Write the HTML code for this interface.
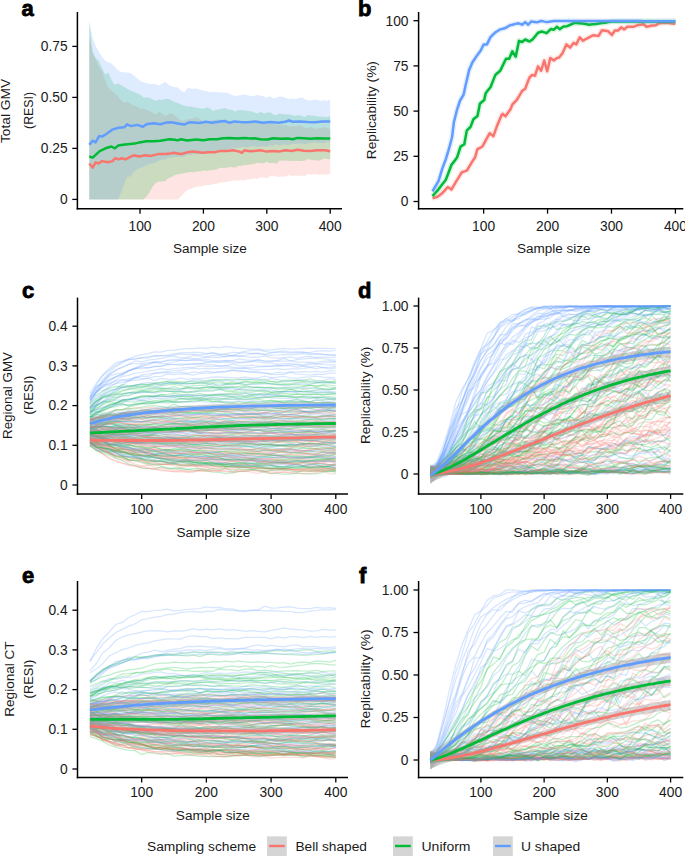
<!DOCTYPE html>
<html><head><meta charset="utf-8"><title>Figure</title>
<style>
html,body{margin:0;padding:0;background:#fff;}
svg{display:block;}
</style></head>
<body>
<svg width="685" height="856" viewBox="0 0 685 856" font-family='"Liberation Sans", sans-serif' font-size="13.8" fill="#1a1a1a">
<rect width="685" height="856" fill="#fff"/>
<g>
<polygon points="89.3,36.2 92.5,53.6 95.6,59 98.8,66.6 102,70.7 105.1,80.3 108.3,87.6 111.5,90.7 114.7,92.9 117.8,96.2 121,100 124.2,103.1 127.3,101.7 130.5,104 133.7,105.4 136.8,106.5 140,108.4 143.2,108.6 146.4,109.8 149.5,111 152.7,113.1 155.9,114.4 159,111.7 162.2,113.8 165.4,116 168.5,113.9 171.7,113.4 174.9,115.5 178.1,118.2 181.2,120.5 184.4,120.4 187.6,119.3 190.7,118.8 193.9,118.1 197.1,117 200.2,119.8 203.4,121.6 206.6,120.9 209.7,121 212.9,120.3 216.1,119.7 219.3,119.3 222.4,119.9 225.6,120.1 228.8,120.4 231.9,122.3 235.1,122.1 238.3,123.6 241.4,124.2 244.6,122.3 247.8,122 251,122.3 254.1,122.2 257.3,122.2 260.5,123.2 263.6,122.9 266.8,124 270,123.6 273.1,123.1 276.3,125 279.5,124.5 282.7,125.2 285.8,125 289,126.4 292.2,126.2 295.3,126.2 298.5,125.6 301.7,125.7 304.8,128.1 308,127.8 311.2,126.9 314.4,129.2 317.5,128.2 320.7,128.1 323.9,127.2 327,127.8 330.2,128.9 330.2,173.9 327,174.5 323.9,174.4 320.7,174.8 317.5,174.4 314.4,173.7 311.2,174.8 308,173.8 304.8,176 301.7,175.6 298.5,175.9 295.3,175.5 292.2,176.1 289,175 285.8,176.8 282.7,176.4 279.5,176.7 276.3,176.7 273.1,175.7 270,176.1 266.8,178.6 263.6,177.6 260.5,177.3 257.3,179 254.1,178.3 251,179.6 247.8,179 244.6,180.7 241.4,180.1 238.3,180.7 235.1,180.6 231.9,180.5 228.8,181.4 225.6,181.8 222.4,182.4 219.3,182.7 216.1,184.1 212.9,184.1 209.7,185.1 206.6,185.1 203.4,185.7 200.2,186.5 197.1,186.8 193.9,187.6 190.7,188.9 187.6,189.9 184.4,192.8 181.2,196.1 178.1,199.4 174.9,199.4 171.7,199.4 168.5,199.4 165.4,199.4 162.2,199.4 159,199.4 155.9,199.4 152.7,199.4 149.5,199.4 146.4,199.4 143.2,199.4 140,199.4 136.8,199.4 133.7,199.4 130.5,199.4 127.3,199.4 124.2,199.4 121,199.4 117.8,199.4 114.7,199.4 111.5,199.4 108.3,199.4 105.1,199.4 102,199.4 98.8,199.4 95.6,199.4 92.5,199.4 89.3,199.4" fill="#F8766D" fill-opacity="0.2"/>
<polygon points="89.3,22.1 92.5,50.4 95.6,58.1 98.8,60.8 102,67.9 105.1,74.5 108.3,72.8 111.5,80 114.7,85.1 117.8,83.5 121,85 124.2,87 127.3,89 130.5,90.7 133.7,92.1 136.8,93 140,94.4 143.2,97.6 146.4,97.4 149.5,97.8 152.7,99.5 155.9,100.8 159,99.5 162.2,99.9 165.4,99.1 168.5,98.9 171.7,100.6 174.9,102.2 178.1,103 181.2,104.7 184.4,105.8 187.6,106.4 190.7,106.5 193.9,107.2 197.1,107.8 200.2,108.6 203.4,108.7 206.6,107.4 209.7,108.2 212.9,111 216.1,110 219.3,109.2 222.4,108.5 225.6,108.3 228.8,109.7 231.9,109.7 235.1,111.6 238.3,110.3 241.4,110.1 244.6,110.4 247.8,110.7 251,111.3 254.1,112.6 257.3,113.6 260.5,111.7 263.6,113.4 266.8,112.7 270,112.3 273.1,114.6 276.3,115.2 279.5,113.5 282.7,114 285.8,114.4 289,114.4 292.2,115.3 295.3,116 298.5,115.1 301.7,116 304.8,116.7 308,115.1 311.2,115.7 314.4,115.4 317.5,116.7 320.7,116.5 323.9,116.9 327,117 330.2,116.2 330.2,159.2 327,159 323.9,158.3 320.7,160.3 317.5,160.4 314.4,160.2 311.2,159.8 308,159.2 304.8,160.6 301.7,160.9 298.5,161.1 295.3,160.8 292.2,161 289,160.7 285.8,160.6 282.7,160.8 279.5,160.6 276.3,163.7 273.1,162.8 270,163.2 266.8,161.8 263.6,163.3 260.5,163.2 257.3,162.7 254.1,163.9 251,164.2 247.8,165 244.6,165.1 241.4,165.7 238.3,166.1 235.1,167.7 231.9,166.9 228.8,167.2 225.6,168.1 222.4,167.7 219.3,168.1 216.1,169.8 212.9,169.7 209.7,170.2 206.6,171 203.4,170.4 200.2,171.4 197.1,171.3 193.9,172.2 190.7,172.1 187.6,172.5 184.4,172.9 181.2,173.7 178.1,174.3 174.9,175.1 171.7,176.9 168.5,178.3 165.4,181 162.2,181.6 159,181.5 155.9,183 152.7,186.5 149.5,192.4 146.4,196.7 143.2,199.4 140,199.4 136.8,199.4 133.7,199.4 130.5,199.4 127.3,199.4 124.2,199.4 121,199.4 117.8,199.4 114.7,199.4 111.5,199.4 108.3,199.4 105.1,199.4 102,199.4 98.8,199.4 95.6,199.4 92.5,199.4 89.3,199.4" fill="#00BA38" fill-opacity="0.2"/>
<polygon points="89.3,21 92.5,37.4 95.6,46 98.8,51.8 102,56.6 105.1,60.8 108.3,62.4 111.5,63.5 114.7,66.7 117.8,70.1 121,72 124.2,72.4 127.3,72.4 130.5,72.9 133.7,75.6 136.8,78.2 140,80.4 143.2,82.2 146.4,82.9 149.5,84 152.7,84.1 155.9,84.2 159,85.8 162.2,83.4 165.4,82.1 168.5,84.7 171.7,86.6 174.9,87 178.1,87.8 181.2,90.9 184.4,92.2 187.6,87.9 190.7,88.5 193.9,88.7 197.1,88.5 200.2,89.9 203.4,90.5 206.6,91.3 209.7,92.2 212.9,92 216.1,92 219.3,92.6 222.4,92.4 225.6,92.5 228.8,93.5 231.9,95 235.1,96.1 238.3,95.4 241.4,95 244.6,94.6 247.8,95.4 251,96.2 254.1,96 257.3,94.7 260.5,95.8 263.6,96.3 266.8,97.8 270,96.3 273.1,98.3 276.3,98.1 279.5,96.4 282.7,96.7 285.8,97.7 289,99.3 292.2,98.5 295.3,99.1 298.5,98.3 301.7,97.3 304.8,99.3 308,100.2 311.2,100.6 314.4,99.8 317.5,100 320.7,100.9 323.9,100 327,101.1 330.2,99.3 330.2,142.8 327,141.5 323.9,143.6 320.7,142.4 317.5,143.3 314.4,142 311.2,142.9 308,143.2 304.8,144.2 301.7,143.6 298.5,143.2 295.3,144.1 292.2,143.7 289,145 285.8,144.8 282.7,144.5 279.5,145.7 276.3,144 273.1,145.9 270,145 266.8,146.7 263.6,146.6 260.5,146.2 257.3,147.6 254.1,146.1 251,146.6 247.8,147.2 244.6,147.2 241.4,147 238.3,147.7 235.1,148.1 231.9,148.5 228.8,149.2 225.6,149.8 222.4,150.6 219.3,150.6 216.1,150.8 212.9,152.3 209.7,151.8 206.6,152.9 203.4,153.9 200.2,153.6 197.1,154.4 193.9,154 190.7,155.2 187.6,154.6 184.4,156.5 181.2,156.7 178.1,157.1 174.9,156.9 171.7,157.6 168.5,157.8 165.4,159.5 162.2,159.6 159,160.6 155.9,162.4 152.7,163.6 149.5,164.1 146.4,165 143.2,167 140,168 136.8,169.5 133.7,172.3 130.5,176.4 127.3,176.4 124.2,183.8 121,192.6 117.8,199.4 114.7,199.4 111.5,199.4 108.3,199.4 105.1,199.4 102,199.4 98.8,199.4 95.6,199.4 92.5,199.4 89.3,199.4" fill="#619CFF" fill-opacity="0.2"/>
<polyline points="89.3,163.5 92.7,167.6 95.6,162.3 98.5,163.5 102,161.1 107.9,162.3 112.5,161.1 115.4,158.2 118.4,159.4 121.9,158.2 125.4,159.4 133.5,155.3 139.4,156.5 145.2,155.3 151.1,155.9 158.1,154.1 166.2,154.1 167.5,153.7 170,153.4 173.7,152.8 177.4,153.4 181.1,154.1 187.3,152.2 193.5,151.6 202.2,152.8 208.4,152.2 214.6,152.2 220.8,150.9 227,150.9 233.2,150.3 239.5,151.6 241.9,152.8 244.4,150.3 248.1,150.9 250.5,151.3 254.2,150.9 260.4,150.3 266.6,151.6 272.8,150.9 279,151.6 285.2,150.3 291.4,150.9 297.6,149.7 303.8,150.7 310,150.9 317.5,150.3 324.9,150.3 330.2,151.2" fill="none" stroke="#F8766D" stroke-width="2.5" stroke-linejoin="round"/>
<polyline points="89.3,156.5 92.7,157.6 99.7,151.2 105.5,148.3 111.4,146.5 114.9,148.3 118.4,145.4 123,144.8 127.7,144.2 134.7,143.6 139.4,142.4 146.4,141.3 153.4,141.3 160.4,140.7 166.2,139.8 167.5,139.5 170,139.2 174.9,139.8 177.4,140.4 181.1,139.2 187.3,140.4 196,139.5 203.5,140.2 209.7,139.2 217.1,139.2 223.3,138.3 229.5,137.9 237,138.5 244.4,137.9 248.1,138.3 250.5,138.5 254.2,138.3 260.4,139.2 267.9,139.5 272.8,138.3 280.3,138.8 287.7,138.5 292.7,139.2 297.6,137.9 303.8,138.3 310,138.8 317.5,138.3 324.9,138.5 330.2,138.5" fill="none" stroke="#00BA38" stroke-width="2.5" stroke-linejoin="round"/>
<polyline points="89.3,144.8 92.7,140.7 95.6,142.4 99.1,136 102,136.6 106.7,133.7 112.5,129.6 118.4,127.8 124.2,127.3 127.1,124.3 131.2,126.1 137.1,124.9 142.9,126.7 146.4,124.3 153.4,123.2 160.4,124.3 166.2,122.6 167.5,122.4 171.2,122.2 177.4,123.4 184.2,124.6 189.8,122.2 199.7,123 205.9,121.8 212.2,122.8 218.4,121.8 224.6,120.9 229.5,122.8 234.5,121.4 241.9,122.2 248.1,122.2 250.5,121.9 255.4,121.4 262.9,122.7 270.3,121.9 279,122.7 285.2,121.8 288.9,120.5 292.7,121.8 300.1,121.4 307.6,121.9 315,122.2 322.5,121.4 330.2,121.4" fill="none" stroke="#619CFF" stroke-width="2.5" stroke-linejoin="round"/>
</g>
<line x1="77.4" y1="12.0" x2="77.4" y2="209.5" stroke="#000" stroke-width="1.5"/>
<line x1="76.65" y1="208.75" x2="342" y2="208.75" stroke="#000" stroke-width="1.5"/>
<line x1="72.30000000000001" y1="199.40" x2="77.4" y2="199.40" stroke="#000" stroke-width="1.3"/>
<text x="67.6" y="204.20" text-anchor="end">0</text>
<line x1="72.30000000000001" y1="148.40" x2="77.4" y2="148.40" stroke="#000" stroke-width="1.3"/>
<text x="67.6" y="153.20" text-anchor="end">0.25</text>
<line x1="72.30000000000001" y1="97.40" x2="77.4" y2="97.40" stroke="#000" stroke-width="1.3"/>
<text x="67.6" y="102.20" text-anchor="end">0.50</text>
<line x1="72.30000000000001" y1="46.40" x2="77.4" y2="46.40" stroke="#000" stroke-width="1.3"/>
<text x="67.6" y="51.20" text-anchor="end">0.75</text>
<line x1="140.02" y1="208.75" x2="140.02" y2="213.65" stroke="#000" stroke-width="1.3"/>
<text x="140.02" y="230.75" text-anchor="middle">100</text>
<line x1="203.41" y1="208.75" x2="203.41" y2="213.65" stroke="#000" stroke-width="1.3"/>
<text x="203.41" y="230.75" text-anchor="middle">200</text>
<line x1="266.81" y1="208.75" x2="266.81" y2="213.65" stroke="#000" stroke-width="1.3"/>
<text x="266.81" y="230.75" text-anchor="middle">300</text>
<line x1="330.20" y1="208.75" x2="330.20" y2="213.65" stroke="#000" stroke-width="1.3"/>
<text x="330.20" y="230.75" text-anchor="middle">400</text>
<text x="172.98" y="253.20" font-size="13.7" textLength="73.73" lengthAdjust="spacingAndGlyphs">Sample size</text>
<text x="0" y="0" transform="translate(10.20,143.10) rotate(-90)" font-size="13.7" textLength="64.26" lengthAdjust="spacingAndGlyphs">Total GMV</text>
<text x="0" y="0" transform="translate(32.80,128.97) rotate(-90)" font-size="13.7" textLength="37.13" lengthAdjust="spacingAndGlyphs">(RESI)</text>
<g>
<polyline points="432.5,198.4 435.7,197.4 437.4,196.8 438.9,195.7 442.1,193.3 442.3,193.2 445.3,189.8 447.8,187 448.5,187.5 451.4,189.6 451.7,189.1 454.9,183.6 455.7,182.2 458.1,178.4 461.3,173.2 461.9,172.2 464.5,171.4 466.8,170.6 467.7,169.1 470.9,163.8 471.7,162.4 474,159 475,157.6 477.2,149.9 477.5,149.1 480.4,147.6 482.4,146.5 483.6,144.3 486.8,138.4 489.7,133.2 490,133.4 493.2,136.1 493.4,136.2 496.4,127.6 497.1,125.7 499.6,119.7 501.6,115.1 502.6,113.8 502.8,114 505.5,116.2 506,115.5 509.2,111.1 510.5,109.3 512.3,104.6 512.4,104.5 515.6,101.2 516.7,100.1 518.8,96.6 522,91.2 522.1,91 525.2,88.7 528.4,80.3 529.4,77.7 531.6,75.4 531.9,75.1 534.8,75.6 535,75.7 538,66.4 541.1,70.8 541.2,70.6 544.2,60.5 544.4,61.2 547.2,71.3 547.6,69.7 550.3,57.9 550.8,58.3 553.9,60.5 557,57.9 557.1,57.9 558.8,57.8 560.3,55.9 562.6,53.1 563.5,50.9 566.4,44.4 566.7,44.7 569.9,47.4 570.2,47.6 573.1,43.5 573.5,42.9 576.3,44.4 579.5,37.7 579.7,37.3 582.7,40.4 583,40.8 585.9,39 586.3,38.8 589.1,37.3 592.3,35.7 593,35.3 595.5,35.6 598.6,35.9 598.7,35.7 601.9,30.5 602,30.3 605.1,30.7 608.1,31.2 608.3,31.4 611.5,34.6 611.9,35 614.7,30.8 614.8,30.6 617.9,30.5 618.1,30.5 621.1,27.5 621.2,27.4 624.2,29.4 624.3,29.3 627.3,26.8 627.5,26.8 630.7,26.8 633.3,26.8 633.9,26.6 637,25.4 638.5,24.9 640.2,24.7 643.4,24.3 643.6,24.3 646.6,26.8 649.8,26 650.8,25.8 653,25.5 655.9,25.2 656.2,25 659,23.2 659.4,23.2 662.6,23.1 665.8,22.9 666.3,22.9 669,23.1 670.3,23.2 672.2,23.4 675.4,23.8" fill="none" stroke="#F8766D" stroke-opacity="0.16" stroke-width="5.5" stroke-linejoin="round"/>
<polyline points="432.5,198.4 435.7,197.4 437.4,196.8 438.9,195.7 442.1,193.3 442.3,193.2 445.3,189.8 447.8,187 448.5,187.5 451.4,189.6 451.7,189.1 454.9,183.6 455.7,182.2 458.1,178.4 461.3,173.2 461.9,172.2 464.5,171.4 466.8,170.6 467.7,169.1 470.9,163.8 471.7,162.4 474,159 475,157.6 477.2,149.9 477.5,149.1 480.4,147.6 482.4,146.5 483.6,144.3 486.8,138.4 489.7,133.2 490,133.4 493.2,136.1 493.4,136.2 496.4,127.6 497.1,125.7 499.6,119.7 501.6,115.1 502.6,113.8 502.8,114 505.5,116.2 506,115.5 509.2,111.1 510.5,109.3 512.3,104.6 512.4,104.5 515.6,101.2 516.7,100.1 518.8,96.6 522,91.2 522.1,91 525.2,88.7 528.4,80.3 529.4,77.7 531.6,75.4 531.9,75.1 534.8,75.6 535,75.7 538,66.4 541.1,70.8 541.2,70.6 544.2,60.5 544.4,61.2 547.2,71.3 547.6,69.7 550.3,57.9 550.8,58.3 553.9,60.5 557,57.9 557.1,57.9 558.8,57.8 560.3,55.9 562.6,53.1 563.5,50.9 566.4,44.4 566.7,44.7 569.9,47.4 570.2,47.6 573.1,43.5 573.5,42.9 576.3,44.4 579.5,37.7 579.7,37.3 582.7,40.4 583,40.8 585.9,39 586.3,38.8 589.1,37.3 592.3,35.7 593,35.3 595.5,35.6 598.6,35.9 598.7,35.7 601.9,30.5 602,30.3 605.1,30.7 608.1,31.2 608.3,31.4 611.5,34.6 611.9,35 614.7,30.8 614.8,30.6 617.9,30.5 618.1,30.5 621.1,27.5 621.2,27.4 624.2,29.4 624.3,29.3 627.3,26.8 627.5,26.8 630.7,26.8 633.3,26.8 633.9,26.6 637,25.4 638.5,24.9 640.2,24.7 643.4,24.3 643.6,24.3 646.6,26.8 649.8,26 650.8,25.8 653,25.5 655.9,25.2 656.2,25 659,23.2 659.4,23.2 662.6,23.1 665.8,22.9 666.3,22.9 669,23.1 670.3,23.2 672.2,23.4 675.4,23.8" fill="none" stroke="#F8766D" stroke-width="2.5" stroke-linejoin="round"/>
<polyline points="432.5,196.1 435.7,192.5 437.4,190.7 438.9,188.7 442.1,184.6 445.3,180.4 445.9,179.6 448.5,172.8 451.4,165 451.7,164.6 454.9,160.4 457,157.6 458.1,154.3 460.6,146.5 461.3,146.1 464.3,144.2 464.5,143.1 466.8,130.6 467.7,129.7 470.4,127 470.9,125.9 473.4,119.2 474,118.7 477.2,116.2 477.5,116 479.9,103.7 480.4,103.2 483.6,100.5 484.2,100.1 485.6,93.4 486.8,91.8 490,87.8 490.5,87.2 493.2,80.4 495.4,74.9 496.4,74 499.6,71.2 500.3,70.6 502.8,65.4 506,58.8 506.1,58.7 509.2,58.7 512.3,51.3 512.4,51.5 515.6,56.6 515.7,56.7 518.8,41.7 519,40.8 522,42 522.1,42 525.2,39.5 528.4,41 529.4,41.5 531.6,40.1 532.5,39.5 534.8,36.7 538,32.8 541.2,31.7 541.7,31.5 544.4,32.4 546.6,33.2 547.6,32.2 550.8,29.1 550.9,29 553.9,29.7 557,26.7 557.1,26.8 559.7,29.2 560.3,28.7 563.5,26.5 563.5,26.5 566.7,26.2 567.3,26.1 569.9,24.9 573.1,23.5 574.9,22.7 576.3,22.9 579.5,23.2 582.7,23.6 585.9,24.1 589.1,24.7 592.3,24.3 595.5,24 598.7,23.6 601.9,23.1 605.1,22.7 608.3,22.1 611.5,21.6 614.7,21.6 617.9,21.6 621.1,21.6 624.3,21.6 627.5,21.6 630.7,21.5 633.9,21.5 637,21.5 640.2,21.5 643.4,21.5 646.6,21.5 649.8,21.5 653,21.5 656.2,21.5 659.4,21.5 662.6,21.5 665.8,21.5 669,21.4 672.2,21.4 675.4,21.4" fill="none" stroke="#00BA38" stroke-opacity="0.16" stroke-width="5.5" stroke-linejoin="round"/>
<polyline points="432.5,196.1 435.7,192.5 437.4,190.7 438.9,188.7 442.1,184.6 445.3,180.4 445.9,179.6 448.5,172.8 451.4,165 451.7,164.6 454.9,160.4 457,157.6 458.1,154.3 460.6,146.5 461.3,146.1 464.3,144.2 464.5,143.1 466.8,130.6 467.7,129.7 470.4,127 470.9,125.9 473.4,119.2 474,118.7 477.2,116.2 477.5,116 479.9,103.7 480.4,103.2 483.6,100.5 484.2,100.1 485.6,93.4 486.8,91.8 490,87.8 490.5,87.2 493.2,80.4 495.4,74.9 496.4,74 499.6,71.2 500.3,70.6 502.8,65.4 506,58.8 506.1,58.7 509.2,58.7 512.3,51.3 512.4,51.5 515.6,56.6 515.7,56.7 518.8,41.7 519,40.8 522,42 522.1,42 525.2,39.5 528.4,41 529.4,41.5 531.6,40.1 532.5,39.5 534.8,36.7 538,32.8 541.2,31.7 541.7,31.5 544.4,32.4 546.6,33.2 547.6,32.2 550.8,29.1 550.9,29 553.9,29.7 557,26.7 557.1,26.8 559.7,29.2 560.3,28.7 563.5,26.5 563.5,26.5 566.7,26.2 567.3,26.1 569.9,24.9 573.1,23.5 574.9,22.7 576.3,22.9 579.5,23.2 582.7,23.6 585.9,24.1 589.1,24.7 592.3,24.3 595.5,24 598.7,23.6 601.9,23.1 605.1,22.7 608.3,22.1 611.5,21.6 614.7,21.6 617.9,21.6 621.1,21.6 624.3,21.6 627.5,21.6 630.7,21.5 633.9,21.5 637,21.5 640.2,21.5 643.4,21.5 646.6,21.5 649.8,21.5 653,21.5 656.2,21.5 659.4,21.5 662.6,21.5 665.8,21.5 669,21.4 672.2,21.4 675.4,21.4" fill="none" stroke="#00BA38" stroke-width="2.5" stroke-linejoin="round"/>
<polyline points="432.5,191.4 435.7,185.9 438.6,180.9 438.9,179.8 442.1,169.2 442.3,168.6 445.3,160.5 445.9,158.8 448.5,150.4 449.6,146.5 451.7,138.5 452.1,136.8 453.9,122.1 454.9,118.3 457,109.8 458.1,106.5 459.9,100.8 461.3,98.5 463.6,94.6 464.5,90.6 466,83.6 467.7,76.3 469.1,70.1 470.9,65.9 472.2,62.8 474,60 477.1,55.4 477.2,55.2 480.4,50.9 480.7,50.5 483.6,44.6 483.8,44.4 486.8,44.4 486.9,44.4 490,38.1 490.5,37.2 493.2,34.4 495.4,32.3 496.4,31.7 499.6,29.8 500.3,29.4 502.8,28.8 504.9,28.3 506,27.6 509.2,25.7 509.8,25.4 512.4,24.7 515.6,23.9 518.4,23.2 518.8,23.4 522,24.6 522.1,24.7 525.2,22.1 528.2,24.7 528.4,24.5 531.3,21.4 531.6,21.5 534.8,22 536.8,22.3 538,22 541.2,21 541.7,20.9 544.4,21.6 546.6,22.1 547.6,22 550.8,21.4 553.9,20.9 557.1,20.9 560.3,20.9 563.5,20.9 566.7,21 569.9,21 573.1,21 576.3,21 579.5,21.1 582.7,21.1 585.9,21.1 589.1,21.1 592.3,21.1 595.5,21.1 598.7,21.1 601.9,21.1 605.1,21.1 608.3,21.1 611.5,21.1 614.7,21.1 617.9,21.1 621.1,21.1 624.3,21.1 627.5,21.1 630.7,21.1 633.9,21.1 637,21.1 640.2,21.1 643.4,21.2 646.6,21.2 649.8,21.2 653,21.2 656.2,21.2 659.4,21.2 662.6,21.2 665.8,21.2 669,21.2 672.2,21.2 675.4,21.2" fill="none" stroke="#619CFF" stroke-opacity="0.16" stroke-width="5.5" stroke-linejoin="round"/>
<polyline points="432.5,191.4 435.7,185.9 438.6,180.9 438.9,179.8 442.1,169.2 442.3,168.6 445.3,160.5 445.9,158.8 448.5,150.4 449.6,146.5 451.7,138.5 452.1,136.8 453.9,122.1 454.9,118.3 457,109.8 458.1,106.5 459.9,100.8 461.3,98.5 463.6,94.6 464.5,90.6 466,83.6 467.7,76.3 469.1,70.1 470.9,65.9 472.2,62.8 474,60 477.1,55.4 477.2,55.2 480.4,50.9 480.7,50.5 483.6,44.6 483.8,44.4 486.8,44.4 486.9,44.4 490,38.1 490.5,37.2 493.2,34.4 495.4,32.3 496.4,31.7 499.6,29.8 500.3,29.4 502.8,28.8 504.9,28.3 506,27.6 509.2,25.7 509.8,25.4 512.4,24.7 515.6,23.9 518.4,23.2 518.8,23.4 522,24.6 522.1,24.7 525.2,22.1 528.2,24.7 528.4,24.5 531.3,21.4 531.6,21.5 534.8,22 536.8,22.3 538,22 541.2,21 541.7,20.9 544.4,21.6 546.6,22.1 547.6,22 550.8,21.4 553.9,20.9 557.1,20.9 560.3,20.9 563.5,20.9 566.7,21 569.9,21 573.1,21 576.3,21 579.5,21.1 582.7,21.1 585.9,21.1 589.1,21.1 592.3,21.1 595.5,21.1 598.7,21.1 601.9,21.1 605.1,21.1 608.3,21.1 611.5,21.1 614.7,21.1 617.9,21.1 621.1,21.1 624.3,21.1 627.5,21.1 630.7,21.1 633.9,21.1 637,21.1 640.2,21.1 643.4,21.2 646.6,21.2 649.8,21.2 653,21.2 656.2,21.2 659.4,21.2 662.6,21.2 665.8,21.2 669,21.2 672.2,21.2 675.4,21.2" fill="none" stroke="#619CFF" stroke-width="2.5" stroke-linejoin="round"/>
</g>
<line x1="418.6" y1="12.0" x2="418.6" y2="209.5" stroke="#000" stroke-width="1.5"/>
<line x1="417.85" y1="208.75" x2="683.3" y2="208.75" stroke="#000" stroke-width="1.5"/>
<line x1="413.5" y1="201.50" x2="418.6" y2="201.50" stroke="#000" stroke-width="1.3"/>
<text x="408.5" y="206.30" text-anchor="end">0</text>
<line x1="413.5" y1="156.30" x2="418.6" y2="156.30" stroke="#000" stroke-width="1.3"/>
<text x="408.5" y="161.10" text-anchor="end">25</text>
<line x1="413.5" y1="111.10" x2="418.6" y2="111.10" stroke="#000" stroke-width="1.3"/>
<text x="408.5" y="115.90" text-anchor="end">50</text>
<line x1="413.5" y1="65.90" x2="418.6" y2="65.90" stroke="#000" stroke-width="1.3"/>
<text x="408.5" y="70.70" text-anchor="end">75</text>
<line x1="413.5" y1="20.70" x2="418.6" y2="20.70" stroke="#000" stroke-width="1.3"/>
<text x="408.5" y="25.50" text-anchor="end">100</text>
<line x1="483.64" y1="208.75" x2="483.64" y2="213.65" stroke="#000" stroke-width="1.3"/>
<text x="483.64" y="230.75" text-anchor="middle">100</text>
<line x1="547.56" y1="208.75" x2="547.56" y2="213.65" stroke="#000" stroke-width="1.3"/>
<text x="547.56" y="230.75" text-anchor="middle">200</text>
<line x1="611.48" y1="208.75" x2="611.48" y2="213.65" stroke="#000" stroke-width="1.3"/>
<text x="611.48" y="230.75" text-anchor="middle">300</text>
<line x1="675.40" y1="208.75" x2="675.40" y2="213.65" stroke="#000" stroke-width="1.3"/>
<text x="675.40" y="230.75" text-anchor="middle">400</text>
<text x="516.98" y="253.20" font-size="13.7" textLength="73.63" lengthAdjust="spacingAndGlyphs">Sample size</text>
<text x="0" y="0" transform="translate(375.90,159.22) rotate(-90)" font-size="13.7" textLength="98.08" lengthAdjust="spacingAndGlyphs">Replicability (%)</text>
<g fill="none" stroke-width="1.25" stroke-opacity="0.25">
<path d="M89.9 427.7l6.5-1.1 6.4-0.6 6.5 2.2 6.5-2.7 6.5 0.1 6.4-0.9 6.5 0.5 6.5 2.1 6.4 0 6.5-0.6 6.5 1.7 6.5-1.7 6.4-2.2 6.5 0.6 6.5 0 6.4-0.6 6.5-0.5 6.5 1.9 6.4-0.9 6.5 1.4 6.5 0 6.5-1.8 6.4 0.8 6.5 1.1 6.5 0.6 6.4-1.1 6.5 1.3 6.5-1.5 6.5-0.5 6.4 0.7 6.5-0.5 6.5-0.1 6.4-0.3 6.5 0 6.5 0.4 6.5-0.7 6.4 0.1 6.5-0.1" stroke="#619CFF"/>
<path d="M89.9 425.7l6.5-0.7 6.4-0.4 6.5-1.5 6.5-0.4 6.5-0.2 6.4 1.3 6.5-0.2 6.5 0.9 6.4 0 6.5-0.9 6.5-0.4 6.5 1.1 6.4-0.4 6.5-0.1 6.5 0.5 6.4 0.7 6.5 0.6 6.5-1.6 6.4-0.2 6.5-0.2 6.5 1.2 6.5 0 6.4 1.1 6.5 1.4 6.5-0.5 6.4-1 6.5 0.9 6.5-0.8 6.5 0.3 6.4-1.4 6.5 1.2 6.5-0.3 6.4-0.8 6.5 1.3 6.5 1 6.5-1.6 6.4-0.7 6.5 0.2" stroke="#F8766D"/>
<path d="M89.9 424.1l6.5-3.1 6.4-0.5 6.5-2.3 6.5 1.5 6.5-3.6 6.4 0.4 6.5-1.7 6.5-1.2 6.4-0.1 6.5-1.1 6.5-1.3 6.5 0.1 6.4 1.8 6.5-0.2 6.5-0.1 6.4 0.1 6.5-0.1 6.5 0.3 6.4-0.9 6.5-0.5 6.5-0.1 6.5 1.5 6.4 1.2 6.5-0.1 6.5-0.3 6.4 0.4 6.5-0.8 6.5-1.8 6.5 1.2 6.4-0.5 6.5 0.1 6.5-0.7 6.4 0.2 6.5 1.5 6.5-2 6.5 0.2 6.4 0.6 6.5-0.7" stroke="#00BA38"/>
<path d="M89.9 419.2l6.5-0.2 6.4-2.6 6.5 0 6.5-1.3 6.5-0.2 6.4-1.8 6.5 1.7 6.5-1.4 6.4 0 6.5 0.3 6.5-0.5 6.5-0.8 6.4 0.7 6.5-1.6 6.5 0.2 6.4-0.5 6.5-0.8 6.5 1 6.4-1.6 6.5 1.7 6.5-0.6 6.5-0.4 6.4-0.6 6.5 1.8 6.5 0.6 6.4-0.4 6.5 0.9 6.5-1.8 6.5-0.2 6.4 0.9 6.5-0.5 6.5 0.9 6.4-0.2 6.5 0.3 6.5-1.4 6.5 0.3 6.4-0.7 6.5 1" stroke="#F8766D"/>
<path d="M89.9 416.7l6.5-3.4 6.4-3.9 6.5-3.5 6.5-2.6 6.5-1.8 6.4 0 6.5 0.5 6.5-1.5 6.4 1 6.5-0.8 6.5-0.9 6.5 0.2 6.4-0.4 6.5-1.1 6.5 0.7 6.4-0.8 6.5-0.5 6.5 0.6 6.4-0.8 6.5 0.8 6.5-0.3 6.5-1 6.4 1.7 6.5 0.5 6.5-0.3 6.4 0.1 6.5 1.5 6.5 0.1 6.5 0.9 6.4-1.1 6.5 0.1 6.5-1.2 6.4 1.6 6.5 0.7 6.5-2 6.5 0.5 6.4-0.9 6.5-0.2" stroke="#00BA38"/>
<path d="M89.9 442.1l6.5 1.6 6.4 1.7 6.5-0.5 6.5 5 6.5-1.4 6.4 1 6.5 0.3 6.5 0.9 6.4 0.4 6.5 2.2 6.5 1.3 6.5-0.2 6.4 2.1 6.5-0.4 6.5 1 6.4 0.3 6.5 0.8 6.5-0.5 6.4 0.4 6.5 1.2 6.5-0.3 6.5 1 6.4-0.5 6.5 0.6 6.5-0.4 6.4 1.8 6.5 0.7 6.5 0.6 6.5-0.7 6.4 0.6 6.5 1.2 6.5-0.1 6.4-1.5 6.5-0.4 6.5 0.2 6.5-0.6 6.4 0.5 6.5 1.5" stroke="#F8766D"/>
<path d="M89.9 414.5l6.5-4.2 6.4-2.5 6.5-3.4 6.5-1.2 6.5-2.5 6.4-0.7 6.5-2.4 6.5-1.8 6.4 0.1 6.5 1 6.5-0.6 6.5-0.3 6.4-0.7 6.5 1.2 6.5 0.1 6.4 0.8 6.5 0.5 6.5-1.9 6.4-0.4 6.5-0.7 6.5-1.1 6.5 0.8 6.4-0.3 6.5 1.8 6.5-1.5 6.4-0.2 6.5-1.5 6.5 1.7 6.5 0.6 6.4-0.1 6.5 0.2 6.5-1.1 6.4 0.3 6.5-0.6 6.5 0.8 6.5-0.1 6.4-0.4 6.5 1" stroke="#00BA38"/>
<path d="M89.9 439.7l6.5 1.5 6.4 2 6.5 3.4 6.5 0.3 6.5 2.7 6.4-0.3 6.5 2.3 6.5 0.8 6.4-0.5 6.5 0.1 6.5 1.1 6.5-1 6.4 1.4 6.5 0.2 6.5 0.1 6.4 0.4 6.5-0.2 6.5 0.4 6.4 0.4 6.5 1.4 6.5 0.7 6.5 0.5 6.4-1.4 6.5-0.3 6.5-0.1 6.4 0.8 6.5-0.2 6.5-1 6.5 0.2 6.4 0.9 6.5 0 6.5 0.8 6.4 0.7 6.5-1.1 6.5-0.1 6.5-1.6 6.4-0.2 6.5-1" stroke="#00BA38"/>
<path d="M89.9 431.1l6.5 1.8 6.4 2.6 6.5 0.4 6.5-0.1 6.5 0.4 6.4 0.4 6.5 1.2 6.5 2.2 6.4 0.5 6.5 0.3 6.5-1.2 6.5 0.2 6.4 0.6 6.5 1.1 6.5-0.4 6.4 0.5 6.5-1.1 6.5 0.9 6.4-0.6 6.5 0.3 6.5 0.8 6.5 1.3 6.4 0.7 6.5-1.1 6.5 0.2 6.4 0 6.5 1.2 6.5-0.1 6.5 1.4 6.4-0.9 6.5 0.2 6.5 0.4 6.4-2.5 6.5 2.1 6.5 0 6.5-0.8 6.4-0.2 6.5 1.9" stroke="#619CFF"/>
<path d="M89.9 421.1l6.5-3.8 6.4 1.1 6.5 0.4 6.5-1.1 6.5 1.1 6.4-0.4 6.5 0.6 6.5 0.4 6.4-2.2 6.5-0.8 6.5 0.5 6.5-0.8 6.4-0.8 6.5 0.4 6.5 1.9 6.4-0.2 6.5-0.1 6.5-0.8 6.4 1.2 6.5-0.4 6.5-0.3 6.5-1.2 6.4-0.6 6.5 1.6 6.5-0.1 6.4 0.2 6.5 0.6 6.5 0.5 6.5-0.5 6.4-1.4 6.5 1.4 6.5-0.9 6.4-0.2 6.5 0.6 6.5 0.3 6.5-1 6.4-0.7 6.5 0.4" stroke="#F8766D"/>
<path d="M89.9 428.4l6.5 1.3 6.4 1.8 6.5 2 6.5 2.3 6.5-1.3 6.4 0.3 6.5-0.5 6.5 2.1 6.4-0.6 6.5-1.4 6.5 2.1 6.5 0.2 6.4 0 6.5-0.8 6.5-0.8 6.4-0.8 6.5-1.1 6.5 1.6 6.4 0.5 6.5 2.5 6.5-0.4 6.5 0.4 6.4-0.2 6.5-0.2 6.5 1.5 6.4-0.6 6.5 0.2 6.5 0.7 6.5 0.2 6.4-1.3 6.5 0.1 6.5-0.4 6.4-0.6 6.5 0.5 6.5 0.8 6.5 0.8 6.4-1.2 6.5-0.3" stroke="#619CFF"/>
<path d="M89.9 441l6.5 6.4 6.4 3.6 6.5 2.1 6.5 2.5 6.5 0.4 6.4 4.3 6.5 0.7 6.5 1.2 6.4 3.1 6.5-0.4 6.5-0.7 6.5 0.7 6.4-0.8 6.5 1.8 6.5 0 6.4 0.4 6.5-0.1 6.5 1 6.4-0.3 6.5-0.3 6.5 0 6.5 1.1 6.4-0.8 6.5 0.1 6.5 0.3 6.4-0.5 6.5 0.9 6.5 1.5 6.5-1 6.4 0.5 6.5 1.2 6.5-0.8 6.4 0 6.5 0.6 6.5-0.8 6.5 0 6.4-1.3 6.5-0.4" stroke="#F8766D"/>
<path d="M89.9 445.1l6.5 2.1 6.4 1.3 6.5 2.9 6.5-0.5 6.5 3 6.4 1 6.5 1.2 6.5 2.5 6.4 0.2 6.5 2.5 6.5-0.6 6.5 2.1 6.4 0.3 6.5 1.1 6.5 0 6.4 0.1 6.5-0.6 6.5-0.6 6.4 0.1 6.5 0.3 6.5 1 6.5 0.9 6.4-0.5 6.5-0.2 6.5-0.8 6.4 0.7 6.5 0 6.5 0.2 6.5 1.6 6.4 0.3 6.5 0.4 6.5 0.2 6.4-1.1 6.5 1.4 6.5 0.1 6.5-1 6.4 0 6.5 1.8" stroke="#00BA38"/>
<path d="M89.9 423.3l6.5 0.5 6.4-1.7 6.5 1.7 6.5-0.7 6.5-1.4 6.4 0.4 6.5-0.3 6.5-0.4 6.4-0.1 6.5 1.7 6.5-0.7 6.5-0.1 6.4-0.1 6.5-0.4 6.5 0.8 6.4 0.9 6.5-0.5 6.5 0.3 6.4 0.2 6.5-0.7 6.5 0.3 6.5 0.7 6.4 1.9 6.5 0 6.5-1.3 6.4-0.3 6.5-0.5 6.5 0.4 6.5-1.1 6.4 2.2 6.5 0.1 6.5 0.4 6.4 0 6.5-1.6 6.5-0.4 6.5-0.2 6.4 1.5 6.5-1.3" stroke="#F8766D"/>
<path d="M89.9 411l6.5 1.2 6.4-4.3 6.5-2.9 6.5-0.9 6.5-3.9 6.4-1 6.5-0.6 6.5 1 6.4-1.3 6.5-2.3 6.5 0.3 6.5 0 6.4-0.6 6.5 0.4 6.5-1.2 6.4 1 6.5-0.1 6.5 1.2 6.4 0 6.5 0.2 6.5-1.2 6.5 0.7 6.4 1 6.5-1.8 6.5-0.3 6.4-0.1 6.5-0.2 6.5 0.3 6.5-0.4 6.4 0.8 6.5 0.3 6.5 0.8 6.4-1 6.5 0 6.5 0.7 6.5 0 6.4 1.1 6.5 0.1" stroke="#619CFF"/>
<path d="M89.9 432.8l6.5 2.9 6.4 3.1 6.5 0.1 6.5 1.7 6.5 0.1 6.4 1.1 6.5 0.5 6.5 0.2 6.4-1.3 6.5 0.5 6.5 2.4 6.5 0.5 6.4 0.2 6.5 0.7 6.5 0 6.4-1.5 6.5 0.1 6.5-0.6 6.4-0.1 6.5-0.7 6.5 0.5 6.5 0.6 6.4-0.1 6.5-0.5 6.5 0.9 6.4 0.8 6.5-0.9 6.5 0 6.5 0.8 6.4-0.1 6.5-0.5 6.5 0.3 6.4-0.6 6.5 0.5 6.5-0.2 6.5-0.7 6.4-1.1 6.5 1" stroke="#619CFF"/>
<path d="M89.9 425.1l6.5 1.8 6.4-1.8 6.5-2.8 6.5 3.1 6.5 1.8 6.4-1.1 6.5 2.6 6.5 2.9 6.4-1.8 6.5 0.4 6.5-1.6 6.5 0.7 6.4-0.7 6.5 1.9 6.5-1.2 6.4 2.1 6.5 2 6.5-1.9 6.4 1.8 6.5 0.5 6.5 0 6.5 0 6.4-0.7 6.5 0.9 6.5-1 6.4 0.9 6.5-0.8 6.5-0.7 6.5 0.1 6.4-0.4 6.5 0.4 6.5 0 6.4 0.2 6.5-0.6 6.5 0.8 6.5 0.6 6.4-1.4 6.5 1.4" stroke="#00BA38"/>
<path d="M89.9 436.1l6.5-0.4 6.4 3.8 6.5 0.9 6.5 0.8 6.5-0.7 6.4 2.2 6.5 1 6.5-0.1 6.4 1.2 6.5 1.7 6.5 0 6.5 0.3 6.4 0.2 6.5 0.4 6.5 1.3 6.4 1.5 6.5-1.7 6.5 1.3 6.4-0.1 6.5 1.5 6.5 0 6.5-0.4 6.4 0.4 6.5-0.8 6.5 0.9 6.4 0 6.5-0.2 6.5-0.2 6.5-0.1 6.4-1.4 6.5-0.5 6.5 1.7 6.4 0.1 6.5-0.4 6.5 1.2 6.5 0.6 6.4 0.7 6.5-1.1" stroke="#F8766D"/>
<path d="M89.9 431.7l6.5 4.4 6.4 0.9 6.5 0.2 6.5 2.1 6.5 0.5 6.4 0 6.5 2 6.5 0.7 6.4 0.6 6.5 1.8 6.5 0 6.5 0.8 6.4-0.1 6.5 1.9 6.5-0.9 6.4 0.7 6.5-0.9 6.5 1.8 6.4-0.7 6.5 0.8 6.5 0.1 6.5 0.8 6.4-0.5 6.5 0.6 6.5 1.4 6.4 0.9 6.5-2.1 6.5 0.1 6.5 0.8 6.4-0.2 6.5 0.3 6.5 0.2 6.4 0.3 6.5-0.6 6.5-1.8 6.5 1.4 6.4 0.2 6.5 0.3" stroke="#F8766D"/>
<path d="M89.9 435.7l6.5 2 6.4 0.6 6.5 2.1 6.5-0.8 6.5 1.3 6.4 2 6.5-0.1 6.5 0.9 6.4-0.6 6.5 0.1 6.5 0 6.5-1.6 6.4 2.2 6.5-0.2 6.5 1.4 6.4-1.7 6.5 0.7 6.5 1.7 6.4-1.6 6.5 0.7 6.5 0.3 6.5-0.3 6.4 0.1 6.5 0 6.5-0.1 6.4-0.4 6.5 0.1 6.5 0.7 6.5-0.3 6.4 1.4 6.5 0.6 6.5-2 6.4-0.3 6.5-0.8 6.5 1 6.5 0.3 6.4 0.1 6.5 1" stroke="#F8766D"/>
<path d="M89.9 410.6l6.5-5.3 6.4-4.1 6.5-5.4 6.5-1.8 6.5 0.2 6.4-1.9 6.5 1.1 6.5-2.2 6.4-2.2 6.5-1.7 6.5 0.6 6.5 0.4 6.4 0.6 6.5 0.9 6.5-1.9 6.4-0.4 6.5 0.6 6.5-1.9 6.4 1.1 6.5 0.4 6.5-0.3 6.5 0.4 6.4 1.5 6.5-3.1 6.5 0.7 6.4 1 6.5 0.5 6.5-0.1 6.5-0.5 6.4 0 6.5 0.4 6.5-0.6 6.4-0.6 6.5 1 6.5 0.2 6.5 1.4 6.4 0.2 6.5-2.3" stroke="#619CFF"/>
<path d="M89.9 422.8l6.5 1.9 6.4-0.6 6.5-0.7 6.5 1.1 6.5 0.8 6.4-0.5 6.5 0.3 6.5-1 6.4-0.3 6.5 0.6 6.5 1.4 6.5-1.6 6.4-1.2 6.5 1.1 6.5-0.2 6.4 0.4 6.5-0.5 6.5-0.8 6.4 1.8 6.5-1.1 6.5-0.5 6.5-0.5 6.4 1.2 6.5 0.2 6.5-0.1 6.4-0.4 6.5-0.5 6.5-0.6 6.5 0.7 6.4-0.1 6.5 1.4 6.5-0.2 6.4-0.7 6.5 0.8 6.5 0.4 6.5-0.5 6.4-0.2 6.5-0.8" stroke="#00BA38"/>
<path d="M89.9 416.3l6.5 1.1 6.4 0.1 6.5 1.3 6.5-0.3 6.5-0.6 6.4 0.6 6.5-1.6 6.5 2.4 6.4-1.3 6.5 0.2 6.5-0.6 6.5 1.3 6.4 0.2 6.5-1.1 6.5-1.1 6.4 0.7 6.5-0.9 6.5-1.9 6.4 1.2 6.5-0.4 6.5-0.9 6.5 2.7 6.4 1.2 6.5-1.3 6.5-0.1 6.4-0.3 6.5 0.5 6.5-0.8 6.5 0.9 6.4 0.9 6.5 0 6.5 0.3 6.4 0.1 6.5 0.1 6.5-0.1 6.5 0.2 6.4-0.7 6.5 0.5" stroke="#00BA38"/>
<path d="M89.9 424.6l6.5-3.5 6.4 2 6.5-0.9 6.5 0.7 6.5-1.9 6.4-1.7 6.5-1.2 6.5-0.7 6.4 0.1 6.5 0 6.5 0.5 6.5 0.4 6.4-0.5 6.5 1.2 6.5 0.8 6.4 0.5 6.5-0.2 6.5-1 6.4-1.8 6.5 0.6 6.5 0.9 6.5-0.1 6.4-0.9 6.5 0.7 6.5-0.3 6.4-0.9 6.5-0.7 6.5 0.6 6.5 1.1 6.4 0.2 6.5 0.3 6.5-1.5 6.4-0.6 6.5 0.3 6.5 1.3 6.5-0.8 6.4 0.7 6.5 0.6" stroke="#619CFF"/>
<path d="M89.9 427l6.5-1.9 6.4-0.9 6.5 0.4 6.5 0.2 6.5-1.3 6.4-1.6 6.5 0.6 6.5-0.9 6.4-1.5 6.5 0.7 6.5 0.9 6.5 0.7 6.4-0.3 6.5-1.3 6.5-0.1 6.4 1.1 6.5-0.5 6.5 0.3 6.4-0.1 6.5 0.7 6.5-0.2 6.5-1.1 6.4 0.8 6.5-0.3 6.5-1.3 6.4 0.6 6.5 0.4 6.5 1.5 6.5 0.1 6.4-1.2 6.5 0.2 6.5 1.2 6.4 0.4 6.5-0.1 6.5-0.2 6.5-0.7 6.4 0.4 6.5-0.6" stroke="#619CFF"/>
<path d="M89.9 434l6.5 1.2 6.4 1.6 6.5 0.2 6.5 0.3 6.5 2.1 6.4 1 6.5-1.9 6.5 2.6 6.4-1.6 6.5 1.3 6.5 0.8 6.5-2.3 6.4 0.4 6.5 1.3 6.5 1.7 6.4-0.4 6.5-0.9 6.5 0.8 6.4-0.2 6.5-0.7 6.5 0.5 6.5 0.8 6.4-0.7 6.5 0.8 6.5-0.8 6.4 0.3 6.5-1 6.5 1.2 6.5 0 6.4 0.7 6.5-0.1 6.5-0.1 6.4 0.7 6.5 0.4 6.5-0.9 6.5 0.3 6.4-1 6.5 0.3" stroke="#F8766D"/>
<path d="M89.9 399.3l6.5-8.2 6.4-11.6 6.5-6.7 6.5-6.4 6.5-3.4 6.4-3.2 6.5-1.1 6.5-0.8 6.4 0.2 6.5-2.4 6.5 0.2 6.5-0.1 6.4-0.6 6.5-1.3 6.5 0.6 6.4-0.4 6.5 0.5 6.5-0.5 6.4-1.4 6.5 1.5 6.5-0.3 6.5-1.4 6.4 0.1 6.5-1.3 6.5-1 6.4-0.4 6.5 1.5 6.5 0.9 6.5-0.6 6.4-0.8 6.5 1.2 6.5-0.4 6.4 0.4 6.5 0.6 6.5-1.5 6.5-0.5 6.4 0.3 6.5-0.5" stroke="#619CFF"/>
<path d="M89.9 402.7l6.5-9.1 6.4-7.9 6.5-6.5 6.5-1.7 6.5-2.4 6.4-4.1 6.5-2.3 6.5-2.5 6.4-1.3 6.5-2.7 6.5-0.2 6.5-1.3 6.4-0.2 6.5-0.1 6.5 0.3 6.4-0.5 6.5 0 6.5-0.5 6.4 0.6 6.5 0.4 6.5 0.2 6.5-0.3 6.4-1.7 6.5 1 6.5 0.5 6.4-0.4 6.5 1.5 6.5 0.2 6.5-0.8 6.4 0.2 6.5-0.1 6.5-1.3 6.4-0.9 6.5-0.4 6.5-0.2 6.5 0.3 6.4 1.1 6.5 0.6" stroke="#619CFF"/>
<path d="M89.9 423.8l6.5 0.6 6.4 0.4 6.5-1.5 6.5-2.2 6.5 2.2 6.4 0.5 6.5 1.1 6.5 0 6.4 0.9 6.5 1.2 6.5-1.1 6.5 0.1 6.4-0.1 6.5 0 6.5 0.1 6.4-0.3 6.5 1.8 6.5 0.3 6.4-0.9 6.5 0.3 6.5 0.8 6.5-0.1 6.4 0.3 6.5 0.4 6.5-1.4 6.4 0 6.5-1 6.5-0.7 6.5 1.8 6.4-1 6.5-0.8 6.5-0.1 6.4-0.1 6.5-0.7 6.5 0.3 6.5 1.6 6.4 1.1 6.5-0.5" stroke="#F8766D"/>
<path d="M89.9 419.6l6.5-1.5 6.4-4.9 6.5-1.2 6.5-2.1 6.5 0.1 6.4-3 6.5-1.6 6.5-1.5 6.4 0.3 6.5-0.9 6.5-0.9 6.5 0.7 6.4-1 6.5-0.3 6.5-0.1 6.4-1.6 6.5-0.3 6.5 1.1 6.4 0.7 6.5-0.3 6.5 0.5 6.5 0.8 6.4-0.9 6.5 1.2 6.5-1.1 6.4 0.1 6.5-0.5 6.5-1.2 6.5 1.3 6.4 1.4 6.5-0.2 6.5 0.1 6.4-0.8 6.5 0.8 6.5 0.2 6.5-0.5 6.4 0.6 6.5-0.9" stroke="#00BA38"/>
<path d="M89.9 428.2l6.5 1.1 6.4 1.1 6.5 2 6.5 0.7 6.5 2.1 6.4 4.2 6.5-0.2 6.5 0.3 6.4-0.2 6.5 0.7 6.5 1.3 6.5-0.3 6.4 1 6.5 0.3 6.5 0.3 6.4 0.4 6.5-0.5 6.5 1.1 6.4-0.4 6.5 2.1 6.5-0.1 6.5 0.3 6.4-1.5 6.5-0.8 6.5 0.1 6.4 1 6.5 0.2 6.5 0.4 6.5 0.5 6.4-0.1 6.5 0.1 6.5 0.4 6.4 1.3 6.5-1.4 6.5 0.2 6.5 1.1 6.4 0.8 6.5-1.1" stroke="#F8766D"/>
<path d="M89.9 403.5l6.5-4.7 6.4-4.9 6.5-6.5 6.5-4 6.5-3.6 6.4 1 6.5-2.7 6.5-3.3 6.4-0.8 6.5-0.8 6.5-0.8 6.5-1 6.4-0.9 6.5-0.4 6.5-1.1 6.4-0.6 6.5 0.4 6.5-0.3 6.4 0.4 6.5-0.5 6.5-0.6 6.5 0.4 6.4 0.3 6.5-0.3 6.5 1.5 6.4 0.2 6.5-0.4 6.5-0.1 6.5-0.8 6.4 1 6.5-0.7 6.5 0 6.4-0.4 6.5-1 6.5 1.1 6.5-1.1 6.4 1.3 6.5-1" stroke="#619CFF"/>
<path d="M89.9 407.9l6.5-6.4 6.4-3.5 6.5-1.6 6.5-2.1 6.5-3.2 6.4-1.9 6.5-0.5 6.5 0.5 6.4-0.3 6.5-0.4 6.5-0.2 6.5 0.2 6.4-1.8 6.5 2 6.5-0.4 6.4 0.5 6.5-1 6.5-0.5 6.4-1 6.5 1.3 6.5 0.3 6.5-1.1 6.4 0.9 6.5-0.2 6.5 0.6 6.4-1 6.5 0.4 6.5 0.3 6.5 1.5 6.4-0.6 6.5 0.6 6.5-0.6 6.4-0.1 6.5-0.1 6.5-0.8 6.5 0.9 6.4 0.4 6.5 0" stroke="#00BA38"/>
<path d="M89.9 442.8l6.5 1.7 6.4 1.1 6.5 2.2 6.5 1.4 6.5 2.7 6.4 2.3 6.5 2.3 6.5 1.3 6.4 2.7 6.5 0.2 6.5 1.3 6.5 0.4 6.4 0.8 6.5 2 6.5 0 6.4 0.4 6.5-0.1 6.5 0.2 6.4 0.3 6.5 1.4 6.5-0.6 6.5-0.3 6.4 0.1 6.5-1.6 6.5 2.9 6.4-0.3 6.5 0.3 6.5 0.9 6.5-0.4 6.4 0.2 6.5 0.6 6.5 1.4 6.4-0.1 6.5 0.8 6.5-0.3 6.5 0.5 6.4-0.8 6.5 0.2" stroke="#F8766D"/>
<path d="M89.9 416.6l6.5-4.5 6.4-1.9 6.5-3 6.5-2.6 6.5-0.6 6.4 1.2 6.5-1.4 6.5-0.5 6.4-0.1 6.5-0.8 6.5-0.7 6.5 0.2 6.4-0.2 6.5 0.1 6.5-0.5 6.4 0.8 6.5-0.9 6.5 1.3 6.4 0.4 6.5-0.3 6.5-0.7 6.5 0.1 6.4-1 6.5 0.7 6.5-0.8 6.4 0.1 6.5 1.2 6.5 0.3 6.5 0.1 6.4-0.5 6.5-1.3 6.5 0.3 6.4-0.3 6.5 1.1 6.5-2 6.5 1.7 6.4 0.1 6.5-1.6" stroke="#619CFF"/>
<path d="M89.9 431.1l6.5 0.5 6.4 0.9 6.5 1.8 6.5-1.2 6.5-0.1 6.4-0.9 6.5 0.7 6.5-1 6.4 0.5 6.5-1 6.5 1.6 6.5 1.1 6.4-1.8 6.5-0.2 6.5 1.6 6.4-1 6.5 0.7 6.5-0.2 6.4-0.2 6.5 0 6.5-0.1 6.5-0.2 6.4-0.1 6.5 0.4 6.5-1.1 6.4 1.5 6.5 0.2 6.5-0.2 6.5-1.5 6.4-0.4 6.5 0 6.5 0.7 6.4 0.1 6.5-1.2 6.5 1 6.5 0.3 6.4-0.4 6.5-1" stroke="#619CFF"/>
<path d="M89.9 424.5l6.5-3.7 6.4 0 6.5-0.3 6.5 0.6 6.5 0.1 6.4-0.4 6.5 0.1 6.5 0.6 6.4-0.9 6.5-1.2 6.5-0.2 6.5-0.3 6.4 0.4 6.5 2.2 6.5-0.1 6.4 0.2 6.5-1.4 6.5 0.4 6.4 0.2 6.5-1.8 6.5 0.2 6.5 1.5 6.4-1.7 6.5 0 6.5-1.6 6.4 0.1 6.5 1.9 6.5-1 6.5 0.1 6.4 0.6 6.5-0.6 6.5 0.2 6.4 0.4 6.5 0.3 6.5-0.4 6.5 0.9 6.4 0.1 6.5-0.6" stroke="#619CFF"/>
<path d="M89.9 439.1l6.5 2 6.4 3.2 6.5 3.1 6.5 2.8 6.5-0.4 6.4 1.5 6.5 1.6 6.5-0.5 6.4 0.8 6.5 2 6.5 0.7 6.5 0.9 6.4-0.1 6.5 1.4 6.5-0.2 6.4 0.5 6.5-0.3 6.5 1.3 6.4 0 6.5-0.5 6.5-0.1 6.5-0.3 6.4 0.3 6.5 0.5 6.5 0 6.4-0.7 6.5 0.9 6.5-0.3 6.5 0.7 6.4 0.5 6.5-0.6 6.5-0.8 6.4 0.9 6.5 1.8 6.5-0.2 6.5-0.1 6.4-1.6 6.5-0.1" stroke="#F8766D"/>
<path d="M89.9 443.2l6.5 3.6 6.4 3.5 6.5 2.2 6.5 2.8 6.5 1.6 6.4 2.7 6.5-1.4 6.5 1.5 6.4 1.3 6.5 1.2 6.5 2.3 6.5-0.3 6.4-0.3 6.5 0.7 6.5 0 6.4 0.3 6.5 1.3 6.5 0 6.4-0.6 6.5 0.2 6.5 0.7 6.5-0.4 6.4 2.1 6.5-1 6.5 0.2 6.4 0.8 6.5-0.2 6.5-0.3 6.5 1.2 6.4-0.2 6.5 0.4 6.5 0.3 6.4 0.3 6.5-1.1 6.5 0.6 6.5-1.1 6.4 0.6 6.5 0.2" stroke="#F8766D"/>
<path d="M89.9 412.8l6.5-4.9 6.4-2.9 6.5-3.6 6.5 1.5 6.5-2.5 6.4-1 6.5-1.2 6.5-0.9 6.4-0.8 6.5 0.2 6.5-2.2 6.5 1.8 6.4 1 6.5-1.5 6.5 1.4 6.4-1.4 6.5-0.5 6.5-0.3 6.4 0 6.5 0.1 6.5 1.1 6.5 0.6 6.4-0.3 6.5 0.5 6.5-0.6 6.4 1 6.5 0.2 6.5-0.7 6.5-0.5 6.4-0.3 6.5 0.8 6.5 1 6.4-1.4 6.5 0.7 6.5 0.5 6.5-0.5 6.4-0.5 6.5 0.8" stroke="#00BA38"/>
<path d="M89.9 439.8l6.5 2.2 6.4 3.7 6.5 3 6.5 1.8 6.5-1.8 6.4 1.3 6.5 0.9 6.5 0.2 6.4 4.3 6.5-1.1 6.5 2.4 6.5 0 6.4 0.1 6.5 0.2 6.5 0.5 6.4-0.5 6.5 1.5 6.5 0.2 6.4 1 6.5-0.2 6.5 0.1 6.5 1.6 6.4-1.4 6.5 1.1 6.5-0.7 6.4 0.1 6.5 1.2 6.5-0.5 6.5-0.5 6.4 1 6.5 0.1 6.5-0.9 6.4 1.5 6.5-1 6.5-1.3 6.5 0.8 6.4-1.7 6.5-0.6" stroke="#00BA38"/>
<path d="M89.9 437.3l6.5 5.4 6.4-1.6 6.5 3.4 6.5-0.2 6.5 2 6.4-1.3 6.5 1.8 6.5 1 6.4 2 6.5 1.4 6.5 1.8 6.5-1.9 6.4-0.2 6.5 0.7 6.5 0.3 6.4 1.5 6.5-0.3 6.5 0 6.4-0.1 6.5-1.5 6.5 0.7 6.5 1 6.4-0.6 6.5 0.3 6.5 0.8 6.4 0.5 6.5-0.6 6.5 0.7 6.5-1.8 6.4-0.6 6.5 0.9 6.5 0.4 6.4 0.6 6.5-0.4 6.5 1 6.5-2.4 6.4 1.4 6.5-0.1" stroke="#00BA38"/>
<path d="M89.9 434.3l6.5 1.5 6.4-0.3 6.5 0.3 6.5 0.3 6.5 1 6.4 1.2 6.5 1.3 6.5 0.1 6.4 1.5 6.5 0.9 6.5-1 6.5 1.8 6.4 1 6.5 0.2 6.5 0 6.4 0.4 6.5-0.4 6.5-0.9 6.4 0.6 6.5 0.8 6.5 0.8 6.5 0.4 6.4-0.4 6.5 0.8 6.5-0.2 6.4-0.5 6.5 0.8 6.5-0.3 6.5-0.2 6.4 0.1 6.5-1.1 6.5-0.2 6.4 0.6 6.5 1.1 6.5-0.6 6.5 0.7 6.4-0.3 6.5 1.1" stroke="#619CFF"/>
<path d="M89.9 426.5l6.5 0.6 6.4 1.3 6.5 1.4 6.5-0.3 6.5-0.6 6.4 1.3 6.5-0.3 6.5 1.6 6.4-1 6.5 0.2 6.5-0.6 6.5 0.6 6.4 0.7 6.5-0.2 6.5-0.5 6.4 1 6.5 0.5 6.5-2.4 6.4 1.1 6.5 0 6.5 1.1 6.5 0.4 6.4 0.5 6.5-0.8 6.5 1.1 6.4 0.7 6.5-0.9 6.5 0.1 6.5 0.7 6.4 0 6.5-0.2 6.5 0.4 6.4-0.2 6.5-0.3 6.5-0.5 6.5 1.2 6.4-1 6.5 1.2" stroke="#F8766D"/>
<path d="M89.9 441.3l6.5 1.6 6.4 2.9 6.5 3.7 6.5 1.2 6.5 0.3 6.4 2.9 6.5-0.3 6.5 3 6.4-0.4 6.5 1.5 6.5 0.1 6.5 1.7 6.4-0.2 6.5 1.4 6.5-1.1 6.4 2.4 6.5-0.4 6.5 0.7 6.4 0.2 6.5 0.2 6.5 0.4 6.5 0.9 6.4 0 6.5-0.1 6.5 0 6.4 1.4 6.5-1 6.5 0.6 6.5-0.9 6.4 0 6.5 0 6.5 0.1 6.4 2.1 6.5 0.8 6.5 0.7 6.5-0.4 6.4-2.5 6.5 0.4" stroke="#F8766D"/>
<path d="M89.9 437.6l6.5 2.5 6.4 1.1 6.5 0.3 6.5-1.2 6.5-0.9 6.4 1.4 6.5 1.4 6.5 2.5 6.4 1.1 6.5-0.1 6.5 1.1 6.5 0 6.4-0.6 6.5 1.9 6.5 0.9 6.4-0.6 6.5 0.3 6.5-0.2 6.4-0.1 6.5 1.9 6.5-1.9 6.5 1 6.4 0.2 6.5 0.2 6.5-0.5 6.4 1.5 6.5-1.1 6.5 1.8 6.5-0.6 6.4 0.7 6.5-1.7 6.5 0.9 6.4 0.1 6.5-0.2 6.5 2.1 6.5 0.1 6.4-0.2 6.5-0.1" stroke="#619CFF"/>
<path d="M89.9 433.5l6.5 3.7 6.4 4.1 6.5 2.9 6.5 0.3 6.5 2.1 6.4 0.6 6.5 2.3 6.5 0.3 6.4-0.9 6.5 1.3 6.5 1.7 6.5 0.6 6.4-0.5 6.5 1.2 6.5 0.9 6.4-1.1 6.5-0.3 6.5-0.6 6.4-0.2 6.5 1.4 6.5 0.2 6.5 1.3 6.4 0.2 6.5-0.3 6.5-0.8 6.4 0.3 6.5 0 6.5-0.7 6.5 0.8 6.4-0.1 6.5-1.5 6.5-0.9 6.4 1.8 6.5 1 6.5 0.3 6.5-0.4 6.4-1.5 6.5-0.3" stroke="#619CFF"/>
<path d="M89.9 431.4l6.5-0.6 6.4 1.7 6.5-1.7 6.5-0.6 6.5 0.4 6.4 1.6 6.5 0 6.5 2.4 6.4 0.5 6.5-2 6.5-1.5 6.5 1.4 6.4-1.6 6.5 0.7 6.5-1.1 6.4 0.8 6.5 0.6 6.5 0.2 6.4-0.3 6.5 0.3 6.5-0.2 6.5-1.3 6.4 1.6 6.5-0.1 6.5-0.9 6.4 0.8 6.5-1.3 6.5 0.8 6.5 0.5 6.4-0.5 6.5 0.6 6.5-0.5 6.4-0.1 6.5-0.8 6.5 1.2 6.5-1.1 6.4-0.5 6.5 0.4" stroke="#F8766D"/>
<path d="M89.9 420.1l6.5-1.8 6.4-2.4 6.5-1.4 6.5-0.2 6.5 1.9 6.4-0.1 6.5 1.2 6.5-0.3 6.4-1.3 6.5 0.9 6.5-0.4 6.5-1.8 6.4 0.5 6.5 0.1 6.5-1.6 6.4 0.3 6.5-0.5 6.5-0.2 6.4 0.4 6.5 0.2 6.5-0.2 6.5 0.3 6.4-0.1 6.5 0.5 6.5 0 6.4 0.4 6.5 2.3 6.5-0.3 6.5-1.7 6.4 0.4 6.5-1 6.5 1 6.4 0.9 6.5-0.2 6.5 1.2 6.5-1.8 6.4 0.6 6.5-1.2" stroke="#00BA38"/>
<path d="M89.9 429.1l6.5-3.3 6.4 3.2 6.5 1.4 6.5-1.1 6.5-0.4 6.4 1.1 6.5 1 6.5-0.4 6.4 1.7 6.5-0.7 6.5-0.4 6.5 1.1 6.4-1.1 6.5 0 6.5-1.8 6.4 1.3 6.5 0.1 6.5-0.3 6.4-0.4 6.5 0.2 6.5 1 6.5 0.9 6.4-0.1 6.5 0.1 6.5-1.6 6.4-0.7 6.5 1.7 6.5-0.5 6.5-0.6 6.4 2 6.5-1 6.5 1 6.4-0.7 6.5-0.1 6.5 0.9 6.5-1.5 6.4-0.4 6.5 0.5" stroke="#00BA38"/>
<path d="M89.9 417.2l6.5-2.5 6.4-5.7 6.5-4.1 6.5-1.7 6.5-3.5 6.4-0.7 6.5-1.1 6.5-1.7 6.4-0.4 6.5 0 6.5-1.2 6.5-0.3 6.4-1 6.5 1 6.5 0.2 6.4-0.2 6.5-0.9 6.5 1.8 6.4-0.5 6.5-0.1 6.5-0.4 6.5-0.9 6.4-0.1 6.5 0 6.5 1.9 6.4-0.9 6.5 0.7 6.5-1.7 6.5 0.2 6.4-0.3 6.5 0.9 6.5-0.1 6.4 0.3 6.5 0.4 6.5-0.7 6.5 0.9 6.4-0.8 6.5-0.9" stroke="#00BA38"/>
<path d="M89.9 414l6.5-7.9 6.4-4.9 6.5 1 6.5-3.1 6.5-3.2 6.4-0.1 6.5-2.7 6.5-0.8 6.4-0.4 6.5 0.2 6.5-1.2 6.5 0.5 6.4-0.2 6.5 0.1 6.5 1.5 6.4-0.6 6.5-1.2 6.5-0.1 6.4 0.1 6.5-1.7 6.5 2 6.5 0.7 6.4 0 6.5-0.2 6.5 0.3 6.4-0.9 6.5 0.4 6.5 0.5 6.5 0.1 6.4-1.2 6.5-2.1 6.5 2.4 6.4 0.4 6.5 0 6.5 0.9 6.5-0.2 6.4-0.2 6.5 1.5" stroke="#00BA38"/>
<path d="M89.9 446.1l6.5 4.6 6.4 2.4 6.5 2 6.5 3.4 6.5 2.2 6.4 3.4 6.5 1.4 6.5 2.7 6.4 0.1 6.5 0.5 6.5-1.6 6.5 1.3 6.4 0.2 6.5 0.1 6.5 0.6 6.4 0.8 6.5 0.4 6.5 0.2 6.4 1.4 6.5 0.2 6.5 1.1 6.5-0.6 6.4-1.2 6.5-0.6 6.5-1.2 6.4 0.8 6.5 1.8 6.5 1.2 6.5-0.6 6.4 1.3 6.5-0.5 6.5-0.6 6.4 0.2 6.5 0.4 6.5 0 6.5-1.4 6.4-1.5 6.5 1.3" stroke="#00BA38"/>
<path d="M89.9 442.8l6.5 5.2 6.4 1.7 6.5-1.5 6.5 2.8 6.5 3.1 6.4 2 6.5 0.9 6.5 0.7 6.4 0.1 6.5 2.3 6.5 0 6.5 1.5 6.4 0.4 6.5-0.3 6.5-0.3 6.4 1.1 6.5 0.6 6.5-0.1 6.4 0.3 6.5 0.2 6.5 1.4 6.5 0.4 6.4 0.4 6.5 0 6.5-0.4 6.4-0.1 6.5 0.6 6.5 0.3 6.5 0.9 6.4-0.1 6.5-1.1 6.5 0.8 6.4 0.3 6.5 0.2 6.5-1.2 6.5 0.4 6.4 0.1 6.5 1.2" stroke="#619CFF"/>
<path d="M89.9 400.5l6.5-9 6.4-6.3 6.5-1.3 6.5-3.9 6.5-3.5 6.4-1.1 6.5-2.2 6.5-0.7 6.4-1.3 6.5-1 6.5-1.6 6.5 1 6.4-1.1 6.5-0.5 6.5-0.7 6.4 0 6.5-1.3 6.5 0.3 6.4 0.4 6.5-0.6 6.5-0.6 6.5 1.5 6.4 0.8 6.5-0.1 6.5 0.1 6.4-0.8 6.5-0.4 6.5-0.5 6.5-0.6 6.4 0.1 6.5 0.3 6.5 1.5 6.4-1.3 6.5 0.9 6.5-0.8 6.5 1.4 6.4-0.3 6.5-0.7" stroke="#619CFF"/>
<path d="M89.9 431.8l6.5 2.1 6.4 2.5 6.5 3.7 6.5 2.9 6.5 0.5 6.4 2.1 6.5 0.3 6.5 1.2 6.4 0.4 6.5-0.1 6.5 1.5 6.5 0.6 6.4-0.8 6.5-0.5 6.5-0.9 6.4-0.6 6.5 1.3 6.5-0.4 6.4 1.1 6.5 0.5 6.5 0.5 6.5-0.2 6.4 0.1 6.5 0.5 6.5-0.5 6.4-0.8 6.5-0.2 6.5 0.6 6.5 0 6.4-0.7 6.5 0.2 6.5 0.3 6.4-1 6.5 0.9 6.5 0.2 6.5-0.1 6.4-1 6.5 1.1" stroke="#00BA38"/>
<path d="M89.9 429.8l6.5-1.4 6.4-3.3 6.5-0.9 6.5-0.4 6.5 0.1 6.4 0.6 6.5 0.8 6.5 1 6.4-1.2 6.5-1.5 6.5 1.1 6.5-0.8 6.4 0 6.5-0.2 6.5-0.5 6.4-0.8 6.5-0.3 6.5-0.2 6.4 0.3 6.5 2.2 6.5-1.8 6.5-0.3 6.4 0.7 6.5-1.4 6.5 0.3 6.4 0.4 6.5 0.5 6.5-1.1 6.5 0.9 6.4 1.4 6.5 0 6.5 0.3 6.4-0.2 6.5 0.3 6.5-2.7 6.5 1.6 6.4-0.8 6.5 1.5" stroke="#00BA38"/>
<path d="M89.9 422.8l6.5-0.1 6.4 0.5 6.5-2.3 6.5 1.2 6.5-2.4 6.4 0 6.5-1.2 6.5-1.8 6.4 1.1 6.5-1.4 6.5 1.2 6.5-0.9 6.4 1.7 6.5-0.1 6.5 0.5 6.4-0.9 6.5-0.1 6.5 0.7 6.4-0.6 6.5 2.1 6.5-1.5 6.5 0.1 6.4-1.5 6.5-0.2 6.5 0.1 6.4 1.8 6.5-0.4 6.5 0.6 6.5-2 6.4-0.5 6.5-0.2 6.5 1 6.4-1 6.5 0.8 6.5-0.2 6.5-0.4 6.4-0.3 6.5 0.9" stroke="#00BA38"/>
<path d="M89.9 442.9l6.5 4.6 6.4 3.9 6.5 2.2 6.5 2.9 6.5 1.3 6.4 1.9 6.5 1.2 6.5-0.6 6.4 3.2 6.5 0.7 6.5 0 6.5-0.5 6.4 0.5 6.5 1.3 6.5 0.1 6.4-0.6 6.5 0.2 6.5-1.1 6.4 0.8 6.5 0.3 6.5 0.4 6.5 1.8 6.4-0.3 6.5-0.2 6.5 2.3 6.4-1.2 6.5 0.6 6.5 0.1 6.5-0.2 6.4 0.7 6.5-1.1 6.5 0.8 6.4-1.4 6.5 1.2 6.5 0.2 6.5 0.7 6.4 0.2 6.5 0" stroke="#00BA38"/>
<path d="M89.9 439.7l6.5-1.6 6.4 2.3 6.5 3 6.5 2 6.5-0.1 6.4 3.2 6.5 0.7 6.5 2.6 6.4 0.7 6.5 1.5 6.5-0.9 6.5 1.9 6.4 0.6 6.5-1.4 6.5 1.6 6.4 0.8 6.5 0.5 6.5 0.1 6.4 0 6.5 0.2 6.5-0.8 6.5 0.7 6.4 0 6.5 0.2 6.5 1.3 6.4 0.1 6.5-0.1 6.5-1 6.5-1 6.4 1 6.5-0.1 6.5-0.6 6.4 1.3 6.5-0.5 6.5-0.6 6.5-0.6 6.4 2.2 6.5-1.4" stroke="#619CFF"/>
<path d="M89.9 422.5l6.5-1.3 6.4-1.6 6.5-1.8 6.5 0 6.5 0.7 6.4-0.4 6.5-0.7 6.5-0.4 6.4-0.8 6.5 0.7 6.5-1.2 6.5 1.2 6.4-0.2 6.5-0.9 6.5 0.5 6.4-0.3 6.5 0 6.5 1.3 6.4-0.8 6.5-0.6 6.5 0.6 6.5 0.6 6.4-0.2 6.5-2.1 6.5-0.3 6.4-0.6 6.5-0.5 6.5 0.6 6.5-0.1 6.4 0.7 6.5 0.1 6.5-1.2 6.4 0.3 6.5-0.2 6.5-0.2 6.5 0.8 6.4-0.5 6.5 0.2" stroke="#F8766D"/>
<path d="M89.9 423.8l6.5-0.2 6.4-0.4 6.5-1 6.5-1 6.5 0.6 6.4-1 6.5 1.3 6.5-0.2 6.4-0.7 6.5-1.3 6.5 1.4 6.5-0.9 6.4 0.4 6.5 0.2 6.5-0.1 6.4 0.8 6.5-0.7 6.5 0.5 6.4-1 6.5 2 6.5-1.6 6.5-0.2 6.4 0.6 6.5 0.8 6.5-0.7 6.4 0.3 6.5-0.5 6.5-0.1 6.5-0.8 6.4 0.1 6.5-0.6 6.5 0.6 6.4 0.1 6.5-1 6.5 0.5 6.5 0 6.4-1.1 6.5-0.5" stroke="#00BA38"/>
<path d="M89.9 441.2l6.5 3.4 6.4 2.7 6.5 3.5 6.5 2.3 6.5 3.4 6.4 0 6.5 1.1 6.5 1.4 6.4 1.3 6.5-0.2 6.5 1.1 6.5 1.1 6.4 0.7 6.5-2.2 6.5 0.5 6.4 0.8 6.5-0.1 6.5 1.9 6.4 1 6.5-0.5 6.5 0.3 6.5-0.8 6.4-0.1 6.5 0.1 6.5 2.1 6.4-0.2 6.5 0.4 6.5-0.7 6.5 1.6 6.4-0.3 6.5-1.1 6.5-1.3 6.4 1.1 6.5-0.9 6.5-0.2 6.5 2.2 6.4-0.1 6.5-1" stroke="#00BA38"/>
<path d="M89.9 429.8l6.5 0.7 6.4 1.2 6.5 2.3 6.5 1 6.5 0.2 6.4-0.6 6.5 1.1 6.5 1 6.4-1.1 6.5-0.5 6.5 0.7 6.5 0.7 6.4 1.8 6.5 0.1 6.5-0.4 6.4 0 6.5 1.4 6.5-0.2 6.4-0.7 6.5-0.4 6.5 0.4 6.5-1.4 6.4 0.5 6.5-0.2 6.5 0.9 6.4-0.9 6.5 1.1 6.5 0 6.5 1.2 6.4-0.1 6.5-0.2 6.5-1.1 6.4 0.7 6.5-0.2 6.5 0.5 6.5-1.2 6.4-0.3 6.5 1.1" stroke="#00BA38"/>
<path d="M89.9 427.2l6.5-0.5 6.4 0.3 6.5-2.6 6.5-1.7 6.5-1.2 6.4-1.5 6.5 1.6 6.5 0.2 6.4-1.1 6.5-0.7 6.5-0.1 6.5 1.6 6.4-0.4 6.5-0.2 6.5-1.1 6.4-0.4 6.5 0.2 6.5 0.2 6.4-0.6 6.5 0.5 6.5 1.5 6.5 0.7 6.4-1.3 6.5-0.5 6.5-0.7 6.4 1 6.5-1.6 6.5 1.8 6.5-1 6.4 0.7 6.5 0.3 6.5 0.8 6.4-0.4 6.5 0 6.5-0.5 6.5 0.9 6.4 0.6 6.5-1.1" stroke="#F8766D"/>
<path d="M89.9 400.6l6.5-8.1 6.4-5.4 6.5-5.6 6.5-5 6.5-2.4 6.4-3.3 6.5-3.1 6.5-2.8 6.4-0.9 6.5-2.3 6.5 0.3 6.5-2 6.4-0.6 6.5 0 6.5-1.3 6.4 0.4 6.5-0.2 6.5-0.9 6.4 0 6.5 0.2 6.5-1.3 6.5-0.5 6.4-0.2 6.5 1 6.5 0.7 6.4-0.2 6.5-1.1 6.5 1.7 6.5 0.3 6.4-0.3 6.5-0.5 6.5 1.1 6.4-1.4 6.5-0.5 6.5 0.9 6.5-0.4 6.4 0.7 6.5-0.5" stroke="#619CFF"/>
<path d="M89.9 411.2l6.5-1.5 6.4-6 6.5-3 6.5-3.1 6.5-3.1 6.4-1.5 6.5-2 6.5-0.2 6.4 0 6.5-1.1 6.5-0.7 6.5 0.1 6.4 0.2 6.5-0.3 6.5-1.9 6.4 0.7 6.5 0.3 6.5-0.8 6.4-0.1 6.5 0.4 6.5-0.9 6.5 0.3 6.4-0.7 6.5-0.8 6.5 1.5 6.4 0.1 6.5 0.5 6.5-0.4 6.5 0.9 6.4-0.4 6.5-0.7 6.5-0.1 6.4-0.2 6.5-1.3 6.5 0.9 6.5-0.8 6.4 1.5 6.5 0.6" stroke="#00BA38"/>
<path d="M89.9 433l6.5-1 6.4 1.3 6.5 3.2 6.5 2.7 6.5-1.1 6.4 1.1 6.5 1 6.5 0.9 6.4 0.6 6.5 0.8 6.5 0.1 6.5 1.3 6.4-0.4 6.5-0.4 6.5-0.3 6.4 1.6 6.5 1.6 6.5-0.6 6.4-0.1 6.5 1.2 6.5-0.9 6.5-0.3 6.4 0.1 6.5 0.2 6.5 1.6 6.4 1.2 6.5-1.7 6.5 0.2 6.5-1 6.4 0.4 6.5 0.6 6.5 0.5 6.4 0.5 6.5 0.4 6.5-0.1 6.5-0.5 6.4 0.9 6.5-1.1" stroke="#00BA38"/>
<path d="M89.9 445.3l6.5 4.3 6.4 1.5 6.5 1.9 6.5 1.9 6.5 0.6 6.4 1.3 6.5 0.2 6.5 2.4 6.4 0.1 6.5 2.3 6.5-0.5 6.5 1.2 6.4 1.2 6.5-0.7 6.5-1 6.4 2.1 6.5 0.4 6.5 1.2 6.4-1 6.5-1.7 6.5 0 6.5 1.3 6.4 0.9 6.5 0.7 6.5-0.7 6.4 1.3 6.5-1.1 6.5-0.1 6.5 0.5 6.4 0 6.5-0.4 6.5-0.6 6.4 0.8 6.5-1.1 6.5 0.7 6.5 1.6 6.4-1 6.5 0" stroke="#619CFF"/>
<path d="M89.9 436.4l6.5 3.5 6.4-1.4 6.5 1.5 6.5 1.6 6.5 1.2 6.4 1.7 6.5-0.2 6.5 1.1 6.4 1.9 6.5 2.2 6.5 3.2 6.5 0.9 6.4-1.1 6.5 0.9 6.5 0.3 6.4 0.9 6.5 0.1 6.5 0.8 6.4 0.7 6.5 0.3 6.5-1 6.5 1.2 6.4 0.9 6.5 0.1 6.5 0 6.4 0.4 6.5 0.9 6.5 0.2 6.5-0.2 6.4-1.9 6.5 1.2 6.5 0.2 6.4 0.1 6.5 0.7 6.5 1.1 6.5-0.5 6.4-0.6 6.5 1" stroke="#F8766D"/>
<path d="M89.9 434.6l6.5 3.1 6.4-0.4 6.5 1.9 6.5 0.4 6.5 1.6 6.4 0.6 6.5-1.6 6.5 2.5 6.4 0.3 6.5 1.5 6.5 0 6.5-0.4 6.4 0.7 6.5-0.4 6.5 1.5 6.4-0.4 6.5-0.5 6.5 0.1 6.4 0.8 6.5 0.7 6.5-0.5 6.5 1.1 6.4-1 6.5 0.1 6.5 0 6.4-0.4 6.5-0.9 6.5 0.1 6.5-0.8 6.4 1.1 6.5 0.7 6.5-0.2 6.4-0.5 6.5 1.1 6.5-0.3 6.5-2.1 6.4 1.4 6.5 1.8" stroke="#00BA38"/>
<path d="M89.9 435.1l6.5-1.7 6.4 1.9 6.5 0.2 6.5 3 6.5-1.5 6.4 0.2 6.5 2.3 6.5 0.3 6.4 0 6.5-0.6 6.5 0.9 6.5 0.4 6.4-0.9 6.5-0.9 6.5-0.3 6.4 0.2 6.5 1.2 6.5-2 6.4 0.4 6.5 0.5 6.5 0.2 6.5 0.5 6.4 0.1 6.5 0.2 6.5 0.5 6.4-1.2 6.5 0.4 6.5 0.2 6.5-0.1 6.4 0.3 6.5-0.5 6.5 1.1 6.4-0.5 6.5 1.4 6.5 0.1 6.5 0.7 6.4-1.4 6.5 1.8" stroke="#F8766D"/>
<path d="M89.9 397.4l6.5-9.4 6.4-6.6 6.5-6.6 6.5-4.8 6.5-2.8 6.4-3.1 6.5-0.6 6.5 0 6.4-0.9 6.5-0.2 6.5 1.3 6.5-0.2 6.4-1.5 6.5-1.5 6.5-0.1 6.4-0.6 6.5 0 6.5 2.1 6.4 0 6.5 0.6 6.5-0.3 6.5 0.5 6.4 0.1 6.5-0.2 6.5-1.2 6.4-1.4 6.5 0.9 6.5-0.2 6.5-0.4 6.4-2 6.5 2.5 6.5 1.3 6.4 0 6.5 0.3 6.5-0.4 6.5-0.7 6.4-0.4 6.5 0.7" stroke="#619CFF"/>
<path d="M89.9 437.5l6.5 3.9 6.4-0.3 6.5 3.6 6.5 0.8 6.5 2.1 6.4-0.1 6.5 2.9 6.5 0.1 6.4 3.3 6.5 0.7 6.5-1 6.5 0.4 6.4 1.5 6.5-0.3 6.5-1 6.4 1.5 6.5 0.8 6.5 0 6.4 0.8 6.5 0.8 6.5 1.8 6.5-0.3 6.4-0.1 6.5-0.1 6.5-0.3 6.4 1 6.5 0.6 6.5-0.4 6.5 0 6.4-0.4 6.5 0.3 6.5 0.3 6.4-0.2 6.5 0.1 6.5-0.5 6.5-1 6.4 0.5 6.5 0.8" stroke="#00BA38"/>
<path d="M89.9 403.9l6.5-8.2 6.4-5.1 6.5-2.3 6.5-2 6.5 0.7 6.4-0.5 6.5-1.5 6.5-0.5 6.4 0.2 6.5-1.4 6.5-0.8 6.5-1.3 6.4 0 6.5 1.1 6.5 1.2 6.4 0.1 6.5-0.6 6.5-0.7 6.4-2 6.5 0.7 6.5 2 6.5-0.8 6.4 0.6 6.5-1.7 6.5 0.5 6.4 1 6.5 0.9 6.5 0.1 6.5 0.4 6.4 0.1 6.5-0.5 6.5-1.1 6.4-0.2 6.5 0.8 6.5 0.1 6.5-1.4 6.4 0 6.5 0.6" stroke="#00BA38"/>
<path d="M89.9 435.3l6.5-4.5 6.4 2.9 6.5-1.5 6.5 0.7 6.5-1.9 6.4 1.9 6.5 1.1 6.5 1.9 6.4-1.2 6.5 0.3 6.5 3.1 6.5-0.2 6.4 0.3 6.5-0.6 6.5-0.5 6.4-0.8 6.5-0.5 6.5 1.3 6.4 0.5 6.5-0.3 6.5 1 6.5-0.5 6.4 1.1 6.5 0.1 6.5-1.2 6.4-0.4 6.5-0.2 6.5-0.6 6.5-0.2 6.4 0.2 6.5 0.8 6.5-0.6 6.4-0.3 6.5 0.5 6.5-0.3 6.5 0.9 6.4-0.5 6.5-0.2" stroke="#00BA38"/>
<path d="M89.9 440.4l6.5 5.8 6.4 3.1 6.5 4.6 6.5 1.7 6.5 2.9 6.4 2.7 6.5-1.2 6.5-0.1 6.4 2.6 6.5-1.7 6.5 0.8 6.5 1.4 6.4-0.8 6.5-0.1 6.5 1.1 6.4 1.1 6.5 0.8 6.5-0.8 6.4-0.2 6.5 0.2 6.5 0 6.5-0.8 6.4 1.1 6.5-0.6 6.5 1.5 6.4-2 6.5-1.3 6.5 0.5 6.5 0.5 6.4-0.3 6.5 1.4 6.5 0.2 6.4 0.8 6.5 0.6 6.5 0.5 6.5-1.1 6.4-0.2 6.5-0.1" stroke="#F8766D"/>
<path d="M89.9 409.9l6.5-5.8 6.4-7.1 6.5-2.1 6.5-3.2 6.5-4.8 6.4-0.1 6.5-0.4 6.5 0.6 6.4-1.2 6.5-0.8 6.5-0.7 6.5-1.5 6.4 0.1 6.5 1.2 6.5-1.1 6.4 0.7 6.5-1.4 6.5 1.1 6.4-0.8 6.5 0.4 6.5 0.6 6.5 0 6.4-0.2 6.5-1.6 6.5 1.1 6.4-1.1 6.5 0.4 6.5-0.9 6.5 0.4 6.4 0.1 6.5-0.8 6.5-0.4 6.4 0.8 6.5 0.1 6.5 0.9 6.5 0.4 6.4-0.6 6.5 1.2" stroke="#00BA38"/>
<path d="M89.9 441.3l6.5 3.6 6.4 3.4 6.5 1.7 6.5 1.6 6.5-0.3 6.4-0.4 6.5-1.2 6.5 1.6 6.4 0.2 6.5-0.7 6.5 1.1 6.5 1.7 6.4-0.2 6.5 0.5 6.5-2.2 6.4 0.6 6.5-0.2 6.5 0.5 6.4 0.7 6.5 0.9 6.5-0.2 6.5-1.1 6.4 0.3 6.5 3.3 6.5-1.2 6.4 0.6 6.5-1.2 6.5 0.5 6.5-0.1 6.4-0.4 6.5-0.1 6.5 0.7 6.4-1.3 6.5 0.6 6.5 0.1 6.5 0.4 6.4 0.4 6.5-1.3" stroke="#F8766D"/>
<path d="M89.9 407.4l6.5-5.7 6.4-5.9 6.5-2.9 6.5-3.4 6.5-1.6 6.4-2.4 6.5-0.1 6.5-2 6.4-0.7 6.5 0.1 6.5 0.8 6.5-0.2 6.4-1.2 6.5 1.6 6.5-2 6.4-1.7 6.5-0.2 6.5 1.8 6.4-0.8 6.5-0.1 6.5-0.3 6.5 0.3 6.4-0.1 6.5-1.6 6.5 0 6.4 0.1 6.5 1.7 6.5-2.5 6.5 1.2 6.4 1.3 6.5 0.4 6.5-1.2 6.4-0.4 6.5 1.6 6.5-0.2 6.5-0.5 6.4-1.9 6.5 1.1" stroke="#619CFF"/>
<path d="M89.9 427.4l6.5 0.8 6.4 1.2 6.5-1 6.5 0.1 6.5 0.3 6.4 1 6.5 0.3 6.5-0.8 6.4-0.2 6.5 1 6.5-0.2 6.5 0 6.4-0.6 6.5 0.7 6.5 0 6.4-0.9 6.5 1.7 6.5-0.6 6.4-0.3 6.5 0.5 6.5-0.3 6.5-0.5 6.4-0.3 6.5 0 6.5 0.5 6.4 0.4 6.5-0.6 6.5-1 6.5 0.3 6.4-0.9 6.5 1.7 6.5 0.5 6.4 1.3 6.5-0.2 6.5 0.7 6.5-0.4 6.4-0.5 6.5 0" stroke="#F8766D"/>
<path d="M89.9 433.3l6.5 2.6 6.4 1.3 6.5 0.3 6.5-0.1 6.5-0.5 6.4 0.3 6.5 1 6.5 0.2 6.4-0.7 6.5 1.6 6.5-0.3 6.5 1 6.4-0.3 6.5-0.7 6.5 0.7 6.4 0.4 6.5 0.9 6.5 1 6.4-1.4 6.5-1.9 6.5 1.5 6.5 1.7 6.4 0 6.5 1.3 6.5 1.1 6.4-0.3 6.5-1.3 6.5 0.8 6.5-1.6 6.4-0.1 6.5 1.2 6.5-0.9 6.4 1.7 6.5-0.8 6.5 0.6 6.5-0.9 6.4 0 6.5 0.2" stroke="#00BA38"/>
<path d="M89.9 415.2l6.5-2.2 6.4-2.5 6.5-2.7 6.5-3 6.5-1.2 6.4 2.4 6.5-2.1 6.5-0.7 6.4-0.2 6.5 0.1 6.5-1.7 6.5-0.5 6.4 0.1 6.5-2.2 6.5 0.2 6.4-0.1 6.5 0.7 6.5-0.7 6.4 0.3 6.5 0.1 6.5-0.5 6.5 0.4 6.4-0.2 6.5-1.3 6.5 0.4 6.4 0.2 6.5-0.9 6.5-0.5 6.5-0.5 6.4 0.3 6.5 0.5 6.5-0.3 6.4 0.4 6.5 0.9 6.5-0.7 6.5 0.4 6.4 0.9 6.5 0.3" stroke="#00BA38"/>
<path d="M89.9 420l6.5-1.4 6.4-1.2 6.5 0.5 6.5 0.2 6.5-1 6.4-1.2 6.5-1.4 6.5 1.4 6.4 1.6 6.5-1 6.5-0.2 6.5-0.3 6.4-0.7 6.5-0.3 6.5 0.5 6.4-0.3 6.5-0.5 6.5 0.7 6.4-0.3 6.5-0.2 6.5 0.6 6.5-0.4 6.4-0.6 6.5 1.4 6.5-0.1 6.4-0.1 6.5 1.4 6.5-0.8 6.5-0.8 6.4 1.6 6.5-0.7 6.5-0.3 6.4 1.2 6.5-0.5 6.5 0.1 6.5-0.6 6.4-0.2 6.5 0.3" stroke="#F8766D"/>
<path d="M89.9 443.2l6.5 6.7 6.4 4 6.5 3.6 6.5 4.2 6.5 1.7 6.4 2 6.5 1 6.5 1.2 6.4 1 6.5 0.7 6.5 1.4 6.5 0.4 6.4 0.2 6.5-0.6 6.5 1.2 6.4 0 6.5-1.1 6.5 0.8 6.4-0.7 6.5 0.3 6.5-0.5 6.5 2.1 6.4-1.4 6.5-0.5 6.5 1.6 6.4 0.8 6.5-1.3 6.5 1.5 6.5-0.6 6.4-0.8 6.5 1.1 6.5-0.2 6.4 1.1 6.5-0.8 6.5-0.7 6.5-1.4 6.4 2.5 6.5 0.1" stroke="#F8766D"/>
<path d="M89.9 421.2l6.5-0.3 6.4-3.7 6.5-1.5 6.5-0.3 6.5-2.1 6.4 0.2 6.5-0.5 6.5 0 6.4-1.4 6.5-0.7 6.5 1.2 6.5-0.7 6.4 1.1 6.5-0.9 6.5 0.7 6.4 0.6 6.5-0.8 6.5-0.7 6.4-0.1 6.5-1.2 6.5-0.5 6.5 0 6.4 0.7 6.5 0.2 6.5-1.8 6.4 2.2 6.5-1.5 6.5 1.2 6.5-0.1 6.4 0.5 6.5-0.8 6.5-0.1 6.4 1.6 6.5 0 6.5-0.7 6.5-0.8 6.4-0.2 6.5 1.1" stroke="#00BA38"/>
<path d="M89.9 423.2l6.5-1.8 6.4-2.6 6.5-0.2 6.5-2.9 6.5-1.6 6.4 0.5 6.5-0.6 6.5-2 6.4-1.7 6.5 0.8 6.5-0.2 6.5-1.2 6.4-0.8 6.5 1.3 6.5-1.2 6.4 0.6 6.5-0.2 6.5-0.1 6.4-0.4 6.5-0.7 6.5 0.7 6.5-1.5 6.4 0.1 6.5 1.4 6.5-0.3 6.4-1.4 6.5 0.9 6.5-0.8 6.5 1.2 6.4 0.6 6.5 1.3 6.5-1.8 6.4-0.3 6.5 0.1 6.5 1.4 6.5-0.8 6.4 0.8 6.5 0" stroke="#619CFF"/>
<path d="M89.9 398.2l6.5-10.4 6.4-5.9 6.5-7.2 6.5-4.5 6.5-3 6.4-2.7 6.5-3.5 6.5 0.8 6.4-1.6 6.5-0.9 6.5-1 6.5-1.3 6.4-0.5 6.5 1.2 6.5-0.4 6.4-1.9 6.5 0.5 6.5 1 6.4-1.4 6.5 0.4 6.5 0.6 6.5-1.1 6.4 1 6.5-0.9 6.5-2.2 6.4 0.5 6.5 0.8 6.5 0.7 6.5-0.3 6.4-0.5 6.5 0.3 6.5-0.5 6.4-0.7 6.5 0.9 6.5-0.3 6.5 0.2 6.4 0.4 6.5 0.6" stroke="#619CFF"/>
<path d="M89.9 441.7l6.5 6 6.4 2.5 6.5 1.4 6.5 1 6.5-0.6 6.4 2.2 6.5 1.4 6.5-0.6 6.4 0.9 6.5 0.7 6.5 1.1 6.5 1.5 6.4-0.2 6.5 0.5 6.5 0.3 6.4 0.5 6.5-0.5 6.5 0.6 6.4 0.9 6.5 0.9 6.5 0.2 6.5 1.5 6.4-1.9 6.5 1 6.5 0 6.4 0.3 6.5-0.9 6.5 1.6 6.5 0.1 6.4-0.3 6.5 0.5 6.5 0.7 6.4 0.4 6.5-0.7 6.5-0.9 6.5 0.1 6.4 0.9 6.5-1" stroke="#619CFF"/>
<path d="M89.9 421.5l6.5-3.7 6.4-2.5 6.5 0 6.5 1.1 6.5-2.8 6.4-0.6 6.5-1.2 6.5 2 6.4 0 6.5 0.1 6.5-1.3 6.5 1 6.4 0.4 6.5-1.1 6.5-1 6.4-1.3 6.5 0.4 6.5 0.9 6.4-0.8 6.5 0.6 6.5 0.5 6.5-0.2 6.4 1.3 6.5-0.7 6.5 0.5 6.4 0 6.5-0.4 6.5 0.8 6.5 0.6 6.4 0.1 6.5-0.2 6.5-0.3 6.4-1 6.5-0.1 6.5 0.5 6.5-1.2 6.4 0.4 6.5 0.8" stroke="#F8766D"/>
<path d="M89.9 423.2l6.5 1.5 6.4-2.1 6.5-1.7 6.5-0.1 6.5 0.8 6.4 0 6.5-1.2 6.5 1.5 6.4 0.3 6.5 0.6 6.5 1.2 6.5-1.2 6.4 0.5 6.5-0.2 6.5-0.5 6.4-0.3 6.5 0.8 6.5-0.1 6.4-0.3 6.5-0.1 6.5-1 6.5 1.4 6.4-0.5 6.5 1.2 6.5-0.3 6.4-0.7 6.5-0.5 6.5 2 6.5-1.2 6.4 0.3 6.5 0.8 6.5 0.3 6.4-0.1 6.5-1 6.5 0.6 6.5-1.1 6.4-0.5 6.5 1" stroke="#619CFF"/>
<path d="M89.9 440.4l6.5 2.4 6.4 1.7 6.5 2.1 6.5 0.7 6.5 0.6 6.4 1 6.5 0 6.5 0.3 6.4 0.3 6.5 0.2 6.5 0.8 6.5-0.9 6.4 1.3 6.5 0 6.5 0.1 6.4 0.9 6.5 0.9 6.5 0.4 6.4 0 6.5 0.4 6.5-0.3 6.5-0.2 6.4-0.1 6.5-0.6 6.5 0.4 6.4 0.1 6.5 0.1 6.5 0.2 6.5-1.5 6.4 0.1 6.5 0 6.5 0.7 6.4-0.4 6.5 1.9 6.5 0.1 6.5 0.2 6.4-0.9 6.5 0" stroke="#F8766D"/>
<path d="M89.9 393.1l6.5-10 6.4-8.1 6.5-6.5 6.5-5.7 6.5-1.6 6.4-2.3 6.5-2.8 6.5-1.5 6.4-1 6.5-1.8 6.5 0.3 6.5-1.8 6.4-0.2 6.5-1 6.5-0.6 6.4 0 6.5-0.7 6.5 0.6 6.4-1.2 6.5 0.7 6.5-1.6 6.5 1.1 6.4 0.7 6.5 0.6 6.5 0.4 6.4-0.3 6.5 1.3 6.5-0.2 6.5-0.7 6.4-0.8 6.5 0.6 6.5-0.1 6.4-0.6 6.5-0.2 6.5 0.3 6.5-0.1 6.4 0.3 6.5-0.1" stroke="#619CFF"/>
<path d="M89.9 438.6l6.5 2.3 6.4 0.8 6.5 4 6.5 2.7 6.5 2.5 6.4 2.4 6.5-0.3 6.5 1.7 6.4 0.9 6.5 2.6 6.5 0.3 6.5 1.7 6.4 0.8 6.5 0.1 6.5 0.3 6.4 0.3 6.5 1.1 6.5-0.1 6.4 0.4 6.5 1.3 6.5-1.3 6.5-0.1 6.4-0.1 6.5-0.1 6.5 0.6 6.4 0.7 6.5-0.6 6.5-1.2 6.5-0.2 6.4 0 6.5 1 6.5 0.1 6.4-0.9 6.5 1.3 6.5-0.2 6.5 0.8 6.4 0.9 6.5-0.7" stroke="#00BA38"/>
<path d="M89.9 413.6l6.5-9.3 6.4-7.3 6.5-2.1 6.5-4.7 6.5-3 6.4 0.9 6.5-2.5 6.5 0.5 6.4-0.4 6.5-1.5 6.5 0.9 6.5-1.8 6.4 0.3 6.5-0.5 6.5 1.5 6.4-2 6.5 0.9 6.5 0.2 6.4 1.5 6.5-0.4 6.5-0.5 6.5 0.6 6.4-1.7 6.5 0.8 6.5 0.4 6.4 0 6.5-0.4 6.5-0.1 6.5 0.5 6.4 1.5 6.5-0.9 6.5-1.7 6.4 0.5 6.5 0.8 6.5-2 6.5 0.1 6.4 0.7 6.5-0.3" stroke="#619CFF"/>
<path d="M89.9 440.3l6.5 1.7 6.4 3.1 6.5 1.4 6.5 1.8 6.5-0.6 6.4 1.9 6.5 2.5 6.5-1.2 6.4 2.5 6.5 2 6.5 0.6 6.5 1.6 6.4 0.4 6.5 0.4 6.5 1.1 6.4 1.1 6.5 0.5 6.5 0 6.4-0.3 6.5 0.8 6.5 0.8 6.5-1.2 6.4 0.7 6.5 0.1 6.5-1.5 6.4 1.7 6.5 1.4 6.5-0.9 6.5 0.2 6.4-0.2 6.5 0.6 6.5-0.1 6.4-1 6.5 1 6.5 0.1 6.5-0.5 6.4 1.7 6.5 0.2" stroke="#F8766D"/>
<path d="M89.9 427.6l6.5 2.3 6.4 2.3 6.5 0.1 6.5 0.7 6.5-2.3 6.4 0.7 6.5-0.3 6.5 0.9 6.4-0.1 6.5 0.5 6.5 0 6.5-0.7 6.4 1.7 6.5-1.8 6.5-0.7 6.4 0.4 6.5 0.8 6.5 0.8 6.4-0.3 6.5 1 6.5-1.1 6.5 1 6.4-0.3 6.5 1.3 6.5 0.9 6.4-0.4 6.5-2.4 6.5 0.3 6.5 1.1 6.4-0.1 6.5-0.7 6.5 1.8 6.4-0.9 6.5-0.7 6.5 1.1 6.5-1 6.4 1.3 6.5-1" stroke="#F8766D"/>
<path d="M89.9 427l6.5-0.4 6.4 0.2 6.5 0.2 6.5 0.5 6.5 1.2 6.4-2.8 6.5 1.2 6.5 0.1 6.4-0.4 6.5 0.6 6.5-0.5 6.5-0.2 6.4-0.4 6.5 0.1 6.5-1.3 6.4 1 6.5 0.7 6.5 0 6.4 1.9 6.5 0.5 6.5-0.9 6.5-0.7 6.4-1 6.5-0.7 6.5-0.3 6.4 0.1 6.5 0.9 6.5-1.6 6.5 0.4 6.4 0.1 6.5 1.1 6.5 0.2 6.4-0.1 6.5 0.1 6.5 0.4 6.5 0 6.4-0.2 6.5-0.4" stroke="#F8766D"/>
<path d="M89.9 436.8l6.5 2.8 6.4 1.7 6.5 1.8 6.5 0 6.5 0.6 6.4 0.8 6.5 2.7 6.5-0.5 6.4 3.3 6.5-0.5 6.5 0.3 6.5-0.8 6.4 2.2 6.5-1.1 6.5-0.4 6.4 2.3 6.5-0.3 6.5-0.6 6.4-0.4 6.5 1.6 6.5-0.1 6.5 1.5 6.4 0.2 6.5-0.3 6.5-0.9 6.4 0.2 6.5-0.5 6.5 0.5 6.5-0.4 6.4-0.4 6.5 1.2 6.5-2.4 6.4 2.4 6.5 0 6.5 0 6.5-1.4 6.4-0.1 6.5 0.5" stroke="#F8766D"/>
<path d="M89.9 407.7l6.5-9.4 6.4-6.8 6.5-5.8 6.5-2.2 6.5-1.1 6.4-1.8 6.5-3.7 6.5 1.6 6.4-0.4 6.5-1.5 6.5-0.3 6.5-2.3 6.4 0.6 6.5-0.7 6.5 0.3 6.4 0.9 6.5-1.6 6.5-0.5 6.4 0 6.5-1.4 6.5-0.4 6.5-0.9 6.4 1 6.5 0 6.5 0.7 6.4-0.4 6.5 1.4 6.5 1.4 6.5 0.1 6.4-0.1 6.5-2.1 6.5 1.7 6.4 0.5 6.5 0.5 6.5-0.8 6.5 0.4 6.4-1.4 6.5-0.1" stroke="#619CFF"/>
<path d="M89.9 421.3l6.5-3.1 6.4-1 6.5 0 6.5-2.5 6.5-0.7 6.4-2.1 6.5 0.5 6.5-1.7 6.4-0.6 6.5 1.7 6.5 0.5 6.5-1.8 6.4 0.7 6.5-0.1 6.5-1.6 6.4 0.7 6.5 1.2 6.5-1.8 6.4 1.1 6.5-1.3 6.5 0.7 6.5 0.6 6.4-1.3 6.5 1 6.5-0.6 6.4-0.1 6.5 0.9 6.5 0.5 6.5 0.1 6.4 0.3 6.5-1.2 6.5-0.6 6.4 0.8 6.5-0.1 6.5-0.8 6.5-0.4 6.4 1.1 6.5 0.5" stroke="#F8766D"/>
<path d="M89.9 443l6.5 4.1 6.4 1.8 6.5 4.1 6.5 5.1 6.5 1.4 6.4 2.4 6.5 2.3 6.5 1.7 6.4 1.9 6.5 1.4 6.5 0.4 6.5 0.8 6.4 1.5 6.5-0.2 6.5 0.5 6.4-0.4 6.5-1.9 6.5 0.7 6.4 0 6.5 0.1 6.5 1.1 6.5-0.5 6.4-0.2 6.5 0.4 6.5-0.5 6.4-0.1 6.5 0.2 6.5 1.2 6.5-0.2 6.4-0.2 6.5 0.5 6.5-0.9 6.4-1.9 6.5 1 6.5 0 6.5-0.6 6.4 0.2 6.5-0.5" stroke="#F8766D"/>
<path d="M89.9 428.3l6.5-1.8 6.4 0.2 6.5 0 6.5-1.4 6.5 1.3 6.4 0.7 6.5-0.2 6.5-1.5 6.4-0.9 6.5 1.3 6.5-0.5 6.5-0.8 6.4-0.7 6.5 0.3 6.5 0.2 6.4 1.8 6.5-0.9 6.5 0.6 6.4 0.9 6.5 0.9 6.5 0.3 6.5-1.1 6.4-0.5 6.5-1.1 6.5 0.3 6.4-1.4 6.5 1 6.5 0.8 6.5-1.2 6.4 0 6.5-0.5 6.5 0.4 6.4 0.8 6.5-0.5 6.5 1.4 6.5 0.6 6.4-0.6 6.5-0.2" stroke="#00BA38"/>
<path d="M89.9 408.6l6.5-7.9 6.4-3.3 6.5-2.2 6.5-2.2 6.5-3 6.4-0.6 6.5-1.8 6.5-0.5 6.4-0.5 6.5 0.3 6.5-1 6.5-1.1 6.4-0.5 6.5 1.2 6.5 1 6.4-0.8 6.5-0.3 6.5-0.2 6.4-1.9 6.5 3 6.5-1.9 6.5-0.6 6.4 0 6.5 0.7 6.5-0.7 6.4-0.5 6.5-0.9 6.5 1.6 6.5 0.9 6.4-0.5 6.5 0.2 6.5-0.1 6.4 0.8 6.5-0.2 6.5 1 6.5-1.2 6.4 0.1 6.5 1" stroke="#00BA38"/>
<path d="M89.9 432.5l6.5 2.6 6.4-1.8 6.5 1.9 6.5-1.4 6.5 0.4 6.4-0.1 6.5-1.6 6.5 1.3 6.4 1.8 6.5-1.8 6.5 0 6.5 1.6 6.4-0.5 6.5 0.4 6.5 1 6.4-0.7 6.5-0.8 6.5 0.7 6.4 0.7 6.5-0.1 6.5-0.8 6.5-0.4 6.4 0.4 6.5 0.3 6.5-0.4 6.4 0.7 6.5-0.8 6.5 0.4 6.5 1.7 6.4-2.2 6.5-1 6.5 1.1 6.4-0.1 6.5 0 6.5-0.6 6.5 1.2 6.4 0.4 6.5-0.4" stroke="#00BA38"/>
<path d="M89.9 430.8l6.5 3.8 6.4-1.4 6.5-0.6 6.5 2.6 6.5-1.6 6.4-0.1 6.5 2.2 6.5 0.3 6.4 0.7 6.5-1 6.5-0.4 6.5-0.8 6.4 0.8 6.5-1.6 6.5 0.7 6.4 0.1 6.5 1.2 6.5-0.1 6.4-0.8 6.5-0.2 6.5 0.9 6.5-0.7 6.4-0.6 6.5 1.1 6.5 0.5 6.4 0.2 6.5-1.9 6.5-1.3 6.5 1.6 6.4 0.4 6.5-0.9 6.5 0.5 6.4-0.6 6.5 0.8 6.5 0.5 6.5 2.6 6.4 0 6.5-1" stroke="#F8766D"/>
<path d="M89.9 431.2l6.5-0.7 6.4 1.9 6.5-0.2 6.5 2 6.5 0.2 6.4 0.9 6.5 0.8 6.5-0.1 6.4 2.3 6.5 0.3 6.5 0.6 6.5-1.7 6.4 0 6.5 1.4 6.5-0.4 6.4 1.7 6.5-1.6 6.5 0.5 6.4-0.2 6.5-1.5 6.5 1.1 6.5 2 6.4 0.8 6.5 0.3 6.5 0.2 6.4-0.6 6.5-1 6.5-0.7 6.5 0.3 6.4 1.1 6.5-1.2 6.5-0.2 6.4 0.6 6.5 0.3 6.5 0 6.5-1.3 6.4-1.1 6.5 0.9" stroke="#619CFF"/>
<path d="M89.9 420l6.5-2.7 6.4-2.4 6.5-2.3 6.5-2.6 6.5-0.2 6.4-0.6 6.5-1.8 6.5 1 6.4-1.1 6.5 0.4 6.5 1.2 6.5 0.1 6.4-0.9 6.5 0.2 6.5 1.1 6.4-1.3 6.5-0.5 6.5 0.5 6.4 0.3 6.5 1 6.5-0.7 6.5 0 6.4-0.6 6.5 0.2 6.5-1.5 6.4 0.2 6.5-0.1 6.5-0.9 6.5 0.5 6.4 1.7 6.5-0.4 6.5 1.8 6.4-1.4 6.5-1.2 6.5 0.2 6.5-0.3 6.4 1.4 6.5-0.5" stroke="#F8766D"/>
<path d="M89.9 438.4l6.5 5.1 6.4-0.9 6.5 2 6.5 1.1 6.5 0.8 6.4 0.4 6.5 3.4 6.5-2 6.4 0.5 6.5 0.4 6.5 0.3 6.5 1.8 6.4 2.6 6.5-0.8 6.5-0.3 6.4-0.5 6.5 0.8 6.5 0 6.4 0.5 6.5 1.4 6.5-0.1 6.5 0.8 6.4-1.5 6.5 1.3 6.5-1.5 6.4 0.5 6.5 1.3 6.5-1.3 6.5 1.3 6.4-0.6 6.5-0.8 6.5 0.3 6.4 1.1 6.5 0 6.5-0.5 6.5 1.3 6.4 0.3 6.5 0.3" stroke="#F8766D"/>
<path d="M89.9 429.9l6.5 2.6 6.4-2.5 6.5 1.8 6.5 0.6 6.5-2.2 6.4 0.6 6.5 3.2 6.5-1.2 6.4 0.5 6.5-0.1 6.5 1 6.5 0.5 6.4-1.1 6.5 1.6 6.5 0.2 6.4 1.6 6.5 0.1 6.5-1.2 6.4 0 6.5 0.6 6.5-0.6 6.5-0.1 6.4 1.1 6.5-1.8 6.5 1.2 6.4-0.8 6.5 0.4 6.5-0.5 6.5-0.5 6.4-0.1 6.5-0.2 6.5 0.5 6.4 0.4 6.5 0.6 6.5 0 6.5 0.2 6.4 0 6.5 0.6" stroke="#619CFF"/>
<path d="M89.9 417.2l6.5-4.5 6.4-1.4 6.5-3.5 6.5-1.2 6.5-1.4 6.4-0.1 6.5-0.6 6.5-1.1 6.4-1.7 6.5 0.1 6.5 0.1 6.5-1.2 6.4 1.6 6.5-0.2 6.5-0.2 6.4-0.4 6.5-0.8 6.5-1.1 6.4 1.8 6.5 0 6.5 1.9 6.5 0.3 6.4 0.4 6.5-0.8 6.5-1.1 6.4 1 6.5-0.3 6.5-0.9 6.5-1 6.4 1.2 6.5-0.6 6.5 0.2 6.4-0.3 6.5 0.5 6.5 0.7 6.5 0.4 6.4-1 6.5 1.5" stroke="#00BA38"/>
<path d="M89.9 412.8l6.5-3.7 6.4-2.1 6.5-0.2 6.5-1.7 6.5-2.4 6.4-2.8 6.5-0.2 6.5 1.3 6.4-1 6.5-1.6 6.5 0 6.5 0.1 6.4-1.2 6.5 0.8 6.5 1.1 6.4-0.3 6.5-0.5 6.5 0.9 6.4 0.2 6.5 0.8 6.5-1.4 6.5 0.7 6.4-0.5 6.5 0.7 6.5-1 6.4-1.4 6.5-1.1 6.5 1.8 6.5 0 6.4 0.4 6.5 0.2 6.5 0.4 6.4-0.3 6.5-0.2 6.5-0.6 6.5 1.6 6.4-1 6.5 0.3" stroke="#619CFF"/>
<path d="M89.9 427.7l6.5-2.1 6.4 0.3 6.5 1.9 6.5 1.2 6.5-1.8 6.4 0.3 6.5 0.9 6.5 0.4 6.4-0.2 6.5-1.7 6.5 1.1 6.5 0.4 6.4-0.2 6.5 0 6.5 1 6.4 1.5 6.5-0.2 6.5-0.2 6.4-0.5 6.5 0.2 6.5 0.5 6.5-0.7 6.4 0.4 6.5 0.7 6.5 0.2 6.4-1.2 6.5 0 6.5 0.5 6.5-0.3 6.4-0.1 6.5-0.4 6.5 0.6 6.4-0.7 6.5 0.1 6.5-0.5 6.5-0.2 6.4 0.7 6.5-0.3" stroke="#F8766D"/>
<path d="M89.9 440.2l6.5 1.9 6.4 5.7 6.5 2.5 6.5 0.4 6.5 1.3 6.4 0.8 6.5 1.7 6.5-0.2 6.4 0.7 6.5 3.4 6.5-0.3 6.5-1 6.4 0.9 6.5-0.3 6.5 1 6.4 1 6.5-0.5 6.5-1.6 6.4 1 6.5 0.6 6.5 1.4 6.5 0.9 6.4-0.3 6.5-0.9 6.5 0.5 6.4 1 6.5-0.8 6.5 0 6.5-0.6 6.4 0.3 6.5 0.4 6.5-0.2 6.4-0.2 6.5 0.1 6.5 1 6.5-0.8 6.4 0.2 6.5 1.3" stroke="#F8766D"/>
<path d="M89.9 429.5l6.5-2.7 6.4-1.2 6.5 1.2 6.5-0.6 6.5 0.2 6.4-0.4 6.5 0.7 6.5-0.4 6.4 0.4 6.5 0.7 6.5-0.8 6.5 1.8 6.4-2.2 6.5 0.2 6.5 0.5 6.4 1.2 6.5-0.5 6.5-1.2 6.4 1.2 6.5-0.6 6.5 1.6 6.5 0.3 6.4-0.6 6.5-0.9 6.5-0.4 6.4 0.5 6.5-1.2 6.5 2.2 6.5 0 6.4-1.2 6.5-0.1 6.5-0.5 6.4-0.1 6.5 0.7 6.5 1.6 6.5 0 6.4-0.7 6.5-0.1" stroke="#619CFF"/>
<path d="M89.9 417.7l6.5-6.2 6.4 2.7 6.5-0.7 6.5-1.9 6.5 1.2 6.4-2.7 6.5 1.5 6.5-1.5 6.4-1.1 6.5-0.7 6.5-1.5 6.5 1.1 6.4-1.2 6.5-0.1 6.5 0.3 6.4-0.2 6.5-0.5 6.5-0.5 6.4 0.3 6.5 1 6.5 1.8 6.5-1.5 6.4 0.2 6.5 1 6.5 0.2 6.4-2.7 6.5 1 6.5-0.3 6.5-0.3 6.4-1.5 6.5 0.2 6.5-0.1 6.4 1.3 6.5 0.1 6.5 0.3 6.5 1.1 6.4 0.3 6.5-1.8" stroke="#619CFF"/>
<path d="M89.9 435.2l6.5 0.3 6.4 2.4 6.5 1.1 6.5 1.7 6.5 0.9 6.4 0.7 6.5 0.8 6.5-0.5 6.4 2.4 6.5 1 6.5 0 6.5 0.1 6.4 0.9 6.5-1.2 6.5 1.7 6.4 0.7 6.5 0.3 6.5-1.8 6.4-0.4 6.5-0.5 6.5-0.6 6.5 1.2 6.4 0.8 6.5 1.4 6.5 0.9 6.4-1.7 6.5 0.3 6.5 1.7 6.5 0.1 6.4-0.7 6.5-1.4 6.5-1.3 6.4-0.9 6.5 1.9 6.5 1.6 6.5-0.7 6.4-0.8 6.5 1.7" stroke="#F8766D"/>
<path d="M89.9 397.7l6.5-11.5 6.4-3.1 6.5-6.8 6.5-2.5 6.5-0.6 6.4-2.9 6.5-1.7 6.5-1.8 6.4 1.2 6.5-1.9 6.5 0.2 6.5-2.2 6.4 0.4 6.5 0.8 6.5-1.1 6.4 0 6.5-0.8 6.5 1 6.4 0.3 6.5 1.5 6.5-0.4 6.5-1.8 6.4 1.7 6.5 0.2 6.5-0.7 6.4 0.8 6.5 0 6.5 0 6.5 0.2 6.4-0.6 6.5-0.7 6.5 0 6.4 1.3 6.5-1.5 6.5-1 6.5 0.8 6.4 0.3 6.5 0.3" stroke="#619CFF"/>
<path d="M89.9 435l6.5 2.2 6.4 3.7 6.5 4 6.5 0.8 6.5 1.2 6.4 0.1 6.5 1.5 6.5 1.2 6.4 0.6 6.5 1.2 6.5-0.9 6.5 0 6.4-0.2 6.5-1.1 6.5 0 6.4 1 6.5-0.2 6.5 0.4 6.4 0.8 6.5 0.9 6.5-1 6.5 0.4 6.4-0.6 6.5 1.1 6.5-0.9 6.4 0.1 6.5-0.6 6.5-0.1 6.5 0.6 6.4 0 6.5 0.8 6.5 1 6.4-1.3 6.5 0.1 6.5-0.9 6.5 0.1 6.4-0.2 6.5 0.3" stroke="#00BA38"/>
<path d="M89.9 412.3l6.5-6.1 6.4-4.5 6.5-2.7 6.5-3.9 6.5-1.4 6.4-1.1 6.5 0.1 6.5-1.7 6.4 1.1 6.5-0.2 6.5-1.8 6.5 0.7 6.4 1.3 6.5-0.3 6.5 0.4 6.4-1.2 6.5-1.4 6.5-0.4 6.4-1.4 6.5 0.9 6.5 1.1 6.5 1.4 6.4-1.5 6.5-0.2 6.5 1.1 6.4-0.2 6.5-0.4 6.5 2.3 6.5-0.9 6.4 0.3 6.5-0.5 6.5-0.1 6.4 0.4 6.5-0.5 6.5-1.2 6.5-0.7 6.4 0.4 6.5 0" stroke="#00BA38"/>
<path d="M89.9 438.1l6.5 2.5 6.4 0.7 6.5 2.5 6.5 0.7 6.5 0.6 6.4 3.5 6.5-0.3 6.5-0.2 6.4 2 6.5 0.5 6.5 0.2 6.5-0.7 6.4 2.5 6.5-0.5 6.5-1.2 6.4-0.1 6.5 1.7 6.5 0.4 6.4-0.4 6.5 0.2 6.5 2.4 6.5 0.6 6.4 0.4 6.5-0.7 6.5 1.1 6.4 0.2 6.5 0.2 6.5-0.7 6.5-0.9 6.4 1.5 6.5 0.3 6.5-0.3 6.4-0.7 6.5 0.9 6.5-0.6 6.5-1.2 6.4 0.5 6.5 1" stroke="#619CFF"/>
<path d="M89.9 428.5l6.5-3.1 6.4 3.3 6.5-1.5 6.5 0.6 6.5-0.6 6.4 1.6 6.5 0.7 6.5 1.5 6.4 0.8 6.5-1 6.5-0.8 6.5-0.3 6.4 1.2 6.5-0.9 6.5 0.6 6.4-1.4 6.5-0.8 6.5 0 6.4 0.2 6.5-1.6 6.5 2.4 6.5 0.5 6.4-0.1 6.5-0.2 6.5 0.6 6.4-0.2 6.5-0.2 6.5-0.8 6.5-0.1 6.4 2.3 6.5-0.4 6.5 0.5 6.4-0.7 6.5 0.3 6.5 0 6.5 0.8 6.4-0.2 6.5-1.4" stroke="#619CFF"/>
<path d="M89.9 443.1l6.5 2.1 6.4 2.9 6.5 1.2 6.5 2.4 6.5 0.8 6.4 1.4 6.5 1.5 6.5 0.4 6.4 1.4 6.5-0.1 6.5 2.1 6.5 0.1 6.4 1.6 6.5 0.2 6.5 0 6.4 1 6.5 0.9 6.5 0.1 6.4 0.2 6.5 1.3 6.5 1.8 6.5-0.8 6.4 0 6.5 0.7 6.5 0.1 6.4 0.6 6.5 1.1 6.5 0.5 6.5 0 6.4-0.3 6.5-0.6 6.5-1.2 6.4-0.2 6.5 0.6 6.5-0.1 6.5 0.8 6.4 1.1 6.5 2.2" stroke="#00BA38"/>
<path d="M89.9 420l6.5-5.2 6.4 0.7 6.5-2.5 6.5 1.1 6.5-0.7 6.4-1.6 6.5-0.3 6.5-0.1 6.4 0 6.5-0.7 6.5-0.9 6.5-0.4 6.4 1 6.5-0.2 6.5 0.5 6.4-0.1 6.5-0.4 6.5-0.3 6.4-0.4 6.5 1.1 6.5 1 6.5 0 6.4-0.5 6.5 0.2 6.5 0 6.4-0.5 6.5-0.3 6.5 0.1 6.5-0.6 6.4-1 6.5 0.2 6.5-0.3 6.4 2.4 6.5 0.3 6.5-0.9 6.5-0.4 6.4 0.1 6.5 0.9" stroke="#619CFF"/>
<path d="M89.9 445.2l6.5 3.7 6.4 5.2 6.5 4.7 6.5 1.7 6.5 2.4 6.4 1.6 6.5 1.4 6.5 0.8 6.4-2 6.5 2.7 6.5 0.5 6.5 0.9 6.4 1.2 6.5 0.1 6.5 0.9 6.4-0.3 6.5-0.5 6.5-0.9 6.4 0.9 6.5 1 6.5-2.6 6.5 0.9 6.4 0.5 6.5-0.1 6.5 0.3 6.4 0.4 6.5 0.4 6.5-0.3 6.5 0 6.4-2 6.5 0.1 6.5 2.2 6.4 0.6 6.5-0.2 6.5-0.3 6.5-0.2 6.4-1.4 6.5 0" stroke="#F8766D"/>
<path d="M89.9 420.2l6.5 1.1 6.4-0.2 6.5-0.7 6.5-1.2 6.5-0.3 6.4 0.8 6.5-0.1 6.5-1.3 6.4 1.4 6.5 1 6.5-1.6 6.5 1 6.4-0.7 6.5 0.3 6.5-1.8 6.4 0.5 6.5 0.4 6.5-1.7 6.4 2.2 6.5-2.2 6.5-1 6.5 1 6.4 0.2 6.5 0.3 6.5 1.4 6.4-0.9 6.5-0.5 6.5-0.1 6.5-0.5 6.4-0.4 6.5-0.3 6.5 1.4 6.4-0.2 6.5 0.1 6.5 0.3 6.5 0.6 6.4-0.7 6.5-0.9" stroke="#F8766D"/>
<path d="M89.9 418.6l6.5 1.5 6.4-2.4 6.5-4 6.5-4.1 6.5-0.3 6.4-0.8 6.5 0.3 6.5-1.6 6.4-1.2 6.5-0.4 6.5 1 6.5 0.4 6.4-2.7 6.5 2.4 6.5-0.6 6.4 0.5 6.5 1.2 6.5-0.4 6.4-1.6 6.5-0.1 6.5-0.1 6.5 1.3 6.4-0.5 6.5-0.1 6.5-0.8 6.4 0.6 6.5-0.8 6.5 1.2 6.5 1.6 6.4 0.4 6.5-0.7 6.5 0.2 6.4-0.6 6.5 0.1 6.5-0.4 6.5-1.2 6.4 1.4 6.5-0.7" stroke="#00BA38"/>
<path d="M89.9 426.1l6.5 2.3 6.4-2.3 6.5 0.4 6.5 3.1 6.5-2 6.4 0.9 6.5-1 6.5 1.1 6.4 0.6 6.5-0.5 6.5 0.3 6.5 0 6.4-0.6 6.5 1.1 6.5 0.5 6.4 0.4 6.5 0.9 6.5-0.9 6.4 0 6.5 0 6.5 0 6.5 0.4 6.4-0.4 6.5-0.6 6.5 0.2 6.4 0.5 6.5-0.5 6.5 0.3 6.5-0.3 6.4-1.1 6.5 0.7 6.5 0.6 6.4 0.8 6.5 0 6.5 0.4 6.5-0.8 6.4 1.5 6.5-1.4" stroke="#619CFF"/>
<path d="M89.9 405.4l6.5-4.5 6.4-6.4 6.5-3.7 6.5-2 6.5-4.4 6.4 1.6 6.5-0.8 6.5-1 6.4 0.4 6.5-1.3 6.5-1 6.5-0.7 6.4 1.5 6.5-1.1 6.5-0.5 6.4-0.1 6.5 0.4 6.5-1.2 6.4-1 6.5 0.1 6.5-0.3 6.5 0.3 6.4-0.5 6.5 0.4 6.5 0 6.4 0.7 6.5-1.1 6.5 2.3 6.5 1.1 6.4-2.4 6.5-0.1 6.5 0.2 6.4 0.3 6.5-1.8 6.5 2.1 6.5 0.1 6.4 1.2 6.5-1.3" stroke="#00BA38"/>
<path d="M89.9 435.1l6.5 1.4 6.4 0.2 6.5 2.2 6.5 2.8 6.5 3.5 6.4 2.3 6.5 2.5 6.5 1.1 6.4 1.2 6.5 1.6 6.5-0.1 6.5 0.8 6.4 1 6.5-0.7 6.5 0 6.4 1.3 6.5 0.2 6.5 0.6 6.4 2.2 6.5 0.2 6.5-1.8 6.5 0.5 6.4 1.2 6.5 0.6 6.5 0.4 6.4-0.3 6.5 0.8 6.5 1.3 6.5 0 6.4 0.7 6.5-0.5 6.5-0.7 6.4 0 6.5 0.2 6.5-0.6 6.5-0.1 6.4 0.4 6.5 0.4" stroke="#619CFF"/>
<path d="M89.9 429.3l6.5 0.1 6.4 3.2 6.5-3.8 6.5-1.1 6.5-0.3 6.4 2.8 6.5 1.2 6.5-1.8 6.4-1.6 6.5-0.6 6.5 1.9 6.5-1 6.4 1.2 6.5-0.1 6.5 0.1 6.4-0.1 6.5-0.2 6.5 0.6 6.4-0.8 6.5-1.2 6.5-0.6 6.5 0 6.4 0.6 6.5 1 6.5 0.1 6.4 0.1 6.5-0.8 6.5 0.5 6.5-0.6 6.4 0.5 6.5-0.2 6.5-0.8 6.4 0.1 6.5-0.3 6.5 0 6.5-0.3 6.4 0.3 6.5-0.2" stroke="#00BA38"/>
<path d="M89.9 400.2l6.5-9.1 6.4-3.8 6.5-3.2 6.5-3.2 6.5-1.1 6.4-0.6 6.5-1.4 6.5-1.7 6.4 0.2 6.5-2.9 6.5-0.5 6.5-0.5 6.4 0.1 6.5-0.7 6.5 1.5 6.4-1.4 6.5 0.7 6.5-1.5 6.4 1 6.5 0.2 6.5-0.5 6.5-2 6.4 0.8 6.5 0.8 6.5 0.4 6.4 1 6.5 0.4 6.5 0.6 6.5-1.4 6.4 0.8 6.5-1.6 6.5 0.5 6.4-0.5 6.5 0.3 6.5-0.4 6.5 0.7 6.4-1.4 6.5-0.3" stroke="#619CFF"/>
<path d="M89.9 445.4l6.5 5 6.4 1.3 6.5 0.3 6.5 4.9 6.5 0 6.4 3.2 6.5-0.2 6.5 2.7 6.4 1.1 6.5 1.3 6.5 1 6.5 1.8 6.4 0.3 6.5-0.2 6.5 1.7 6.4-1.2 6.5 0.2 6.5 1.2 6.4-1.5 6.5 1.2 6.5-1.6 6.5 3.7 6.4-2.6 6.5 0.4 6.5 0 6.4 0.1 6.5 2 6.5-1.2 6.5-0.3 6.4 0 6.5 0.7 6.5 1.3 6.4-1.1 6.5-0.1 6.5 0.2 6.5 0 6.4 0.7 6.5-0.5" stroke="#00BA38"/>
<path d="M89.9 427.7l6.5 2.2 6.4 2.3 6.5-1.8 6.5-0.5 6.5 1.3 6.4 1.7 6.5-1.9 6.5 1.5 6.4 1 6.5-0.2 6.5-0.2 6.5-1.1 6.4 0.6 6.5-0.3 6.5 0.7 6.4-1.4 6.5 1.1 6.5 0.4 6.4 1 6.5-0.7 6.5-0.7 6.5 0 6.4-0.3 6.5 0.6 6.5 0.3 6.4-0.8 6.5-0.1 6.5 0.7 6.5-0.6 6.4 1.1 6.5 0.9 6.5-0.1 6.4 0 6.5 0.2 6.5-0.5 6.5-0.9 6.4 0 6.5-0.5" stroke="#619CFF"/>
<path d="M89.9 436.9l6.5 1.7 6.4 4.6 6.5 2.1 6.5-0.4 6.5 4 6.4 1.3 6.5 1.9 6.5 0.2 6.4 2.1 6.5 0.4 6.5 1 6.5 0.3 6.4-0.1 6.5-0.8 6.5 0.9 6.4 1.5 6.5-0.8 6.5-1 6.4 0.4 6.5-0.9 6.5 0.8 6.5-0.9 6.4 0.9 6.5 1.6 6.5-0.1 6.4 0.9 6.5-1.6 6.5 0.8 6.5-0.5 6.4-0.3 6.5 0.9 6.5-0.5 6.4 0.6 6.5-0.1 6.5-0.4 6.5 0.1 6.4 0.6 6.5-1.2" stroke="#619CFF"/>
<path d="M89.9 442.6l6.5 4.1 6.4 1 6.5 1.6 6.5 3.3 6.5 3.3 6.4 1.8 6.5 0.6 6.5 0.5 6.4 2.6 6.5 0.2 6.5-0.3 6.5-0.6 6.4 0.8 6.5 0.5 6.5 1.2 6.4-0.2 6.5 0.8 6.5 0.3 6.4 1.5 6.5 0.7 6.5 0.5 6.5-0.4 6.4-0.1 6.5 1.4 6.5-1.1 6.4-1 6.5 1.8 6.5 0.6 6.5-1.6 6.4 1.4 6.5-0.8 6.5 1 6.4 0 6.5-0.3 6.5-0.7 6.5-0.9 6.4 1.8 6.5 0.4" stroke="#00BA38"/>
<path d="M89.9 442.7l6.5 3.3 6.4 4.1 6.5 3 6.5-0.4 6.5 2.9 6.4 1.9 6.5 0.9 6.5 2.8 6.4 1.1 6.5 1.4 6.5 0.6 6.5-0.2 6.4 1.8 6.5 1.4 6.5-0.6 6.4-1.3 6.5 3.5 6.5-1.6 6.4 1.5 6.5-0.3 6.5 0.3 6.5 0.3 6.4-1.9 6.5 0.5 6.5 0.6 6.4 0 6.5 1.3 6.5-0.7 6.5-0.1 6.4 1.6 6.5-0.5 6.5-0.1 6.4-0.9 6.5 0 6.5 1.1 6.5-0.9 6.4-0.8 6.5-0.1" stroke="#F8766D"/>
<path d="M89.9 441.3l6.5 1.9 6.4 2 6.5 1.3 6.5 1.7 6.5 0.4 6.4 1.9 6.5 1.8 6.5 0.8 6.4-0.2 6.5 2.2 6.5 1.1 6.5-0.5 6.4 0.7 6.5 1.2 6.5 0.3 6.4-0.2 6.5-0.3 6.5 0.9 6.4-1.4 6.5-0.1 6.5-0.7 6.5 0.8 6.4 0.5 6.5 0.2 6.5 0.8 6.4 1.2 6.5-1 6.5 0.1 6.5-1.3 6.4-0.4 6.5 0.5 6.5 0.1 6.4-0.8 6.5 1.3 6.5-0.8 6.5 0.6 6.4 0.1 6.5 0.1" stroke="#F8766D"/>
<path d="M89.9 430.3l6.5 2.4 6.4 1.5 6.5-0.1 6.5 0.5 6.5 0.1 6.4 1.5 6.5 0.8 6.5 1.2 6.4-1 6.5 0.6 6.5 1.8 6.5-0.4 6.4-0.7 6.5 1.8 6.5-1 6.4 0 6.5-0.4 6.5 0.7 6.4 0.7 6.5 1 6.5-0.9 6.5 0 6.4-0.4 6.5 0.4 6.5-0.7 6.4-0.3 6.5 1.7 6.5-0.9 6.5 0.4 6.4 0.8 6.5-0.3 6.5-1.2 6.4 0.2 6.5 0.6 6.5-0.2 6.5 1.1 6.4-1.1 6.5 0.2" stroke="#00BA38"/>
<path d="M89.9 419.5l6.5-2.1 6.4-1 6.5 0 6.5-1 6.5-2.3 6.4 0.1 6.5-0.3 6.5 0.3 6.4-1.1 6.5-0.2 6.5 0.1 6.5 0.1 6.4-0.5 6.5 0.8 6.5 2 6.4-0.2 6.5-0.4 6.5-0.3 6.4-0.6 6.5 1.5 6.5 1 6.5-1.2 6.4 0.3 6.5-0.8 6.5-0.3 6.4 0.3 6.5-1.4 6.5 1.6 6.5-1.3 6.4-0.2 6.5-1.1 6.5 0.8 6.4-1 6.5 0.4 6.5 1.1 6.5-0.8 6.4-1.1 6.5-0.8" stroke="#619CFF"/>
<path d="M89.9 409.6l6.5-4.7 6.4-1.5 6.5-6.5 6.5 0.8 6.5-1.7 6.4-1.6 6.5-2 6.5 0.5 6.4-1.1 6.5 1.4 6.5-1.3 6.5-0.4 6.4-0.3 6.5-0.4 6.5 0.7 6.4 0.3 6.5-0.7 6.5-0.3 6.4-0.9 6.5-0.3 6.5-1.1 6.5 0.6 6.4 0.2 6.5 1.1 6.5-0.5 6.4 0.1 6.5 0.7 6.5-1.1 6.5 1.9 6.4 0 6.5 0.1 6.5 1.1 6.4-3.5 6.5 1.9 6.5-0.2 6.5 0.2 6.4 0.1 6.5 0.6" stroke="#619CFF"/>
<path d="M89.9 425.4l6.5 2.4 6.4-1.3 6.5 0.2 6.5 0 6.5 1.2 6.4-0.3 6.5-0.3 6.5 1.1 6.4 0.7 6.5-0.1 6.5 0.3 6.5 0.5 6.4 1.5 6.5-0.7 6.5-0.3 6.4 1.2 6.5-1.8 6.5-1.1 6.4-0.1 6.5 0.4 6.5 0.5 6.5-0.3 6.4 0.2 6.5-0.3 6.5 0.7 6.4 0.3 6.5 1 6.5 0.4 6.5-1 6.4-0.3 6.5-1.4 6.5-0.8 6.4 2.5 6.5-0.4 6.5 0.4 6.5-1.3 6.4 1.8 6.5 0" stroke="#00BA38"/>
<path d="M89.9 433.4l6.5 1.4 6.4 1.1 6.5-0.1 6.5 1.3 6.5 1.9 6.4-1.1 6.5 1.4 6.5 2.3 6.4 0.5 6.5-0.9 6.5-0.7 6.5-1.2 6.4-0.7 6.5 2 6.5-0.6 6.4-0.3 6.5 1.1 6.5-1.4 6.4 1.5 6.5-0.2 6.5 0.1 6.5 0.9 6.4-0.8 6.5 0.5 6.5 0.8 6.4-0.1 6.5-0.9 6.5 0.6 6.5 0 6.4-1.5 6.5 0.5 6.5 0.3 6.4 3.2 6.5-1.1 6.5 0.3 6.5 0.3 6.4-0.5 6.5-1" stroke="#F8766D"/>
<path d="M89.9 423.1l6.5-0.1 6.4-2 6.5-2.7 6.5-1.3 6.5 1.2 6.4-2 6.5-1.8 6.5-0.4 6.4 0.1 6.5-0.5 6.5 0.8 6.5-0.3 6.4-0.3 6.5 1 6.5-0.1 6.4-0.2 6.5-0.5 6.5 0.1 6.4 0.7 6.5-0.2 6.5-0.3 6.5 0.4 6.4-0.7 6.5 0.2 6.5-0.1 6.4-0.4 6.5 0.8 6.5-0.6 6.5-0.8 6.4 1.5 6.5 0.4 6.5-0.4 6.4-2.2 6.5-0.2 6.5 0.8 6.5 0.8 6.4 0.4 6.5 0.7" stroke="#619CFF"/>
<path d="M89.9 439l6.5 4 6.4 1.5 6.5 1 6.5 3.5 6.5 3.7 6.4-0.7 6.5 1.9 6.5 1.4 6.4 2.2 6.5-1 6.5 1.8 6.5 0.2 6.4 0.3 6.5 0.6 6.5 0.5 6.4 0.6 6.5 0.3 6.5-0.3 6.4 2 6.5 0.8 6.5 1.2 6.5-0.7 6.4-0.7 6.5 0 6.5-0.1 6.4-0.3 6.5 1.1 6.5-0.1 6.5-0.9 6.4 0.4 6.5-1.4 6.5-0.3 6.4 0.2 6.5-0.8 6.5-0.7 6.5-0.5 6.4 0.7 6.5 1.1" stroke="#00BA38"/>
<path d="M89.9 406.8l6.5-1.8 6.4-2.4 6.5-2.9 6.5 0.7 6.5-0.5 6.4-0.3 6.5-1.3 6.5-1 6.4-0.6 6.5-0.4 6.5 0 6.5 0.7 6.4-1.5 6.5-0.3 6.5 0.2 6.4 0.3 6.5-0.3 6.5 0 6.4-0.8 6.5-1.1 6.5 1.7 6.5-0.3 6.4-0.1 6.5-1.7 6.5 0.4 6.4 0.5 6.5 0.4 6.5 0 6.5-0.4 6.4-2.6 6.5 0.4 6.5-0.3 6.4 0.5 6.5 0.7 6.5 0.2 6.5 0 6.4-0.1 6.5 0.4" stroke="#619CFF"/>
<path d="M89.9 427.5l6.5-1.1 6.4 1 6.5 0.1 6.5 0 6.5-2.9 6.4-0.8 6.5 1.3 6.5-2.6 6.4 0.1 6.5-0.8 6.5 1.3 6.5-2 6.4 1.2 6.5 0.8 6.5 0.6 6.4 0.7 6.5-0.7 6.5-1.8 6.4 0.6 6.5-0.2 6.5-1.3 6.5 1.3 6.4-0.6 6.5 0.3 6.5 0.8 6.4-0.6 6.5-0.6 6.5 0.6 6.5-1.4 6.4 0.6 6.5 0.3 6.5 0.5 6.4-0.1 6.5 1 6.5-0.5 6.5 0.4 6.4-0.3 6.5 0.7" stroke="#F8766D"/>
<path d="M89.9 435.3l6.5 1.3 6.4 2 6.5 0.1 6.5 2.2 6.5 1.3 6.4 0.4 6.5 0.1 6.5 0.6 6.4 0.8 6.5-0.7 6.5 0.8 6.5 1.3 6.4 0.4 6.5-0.2 6.5 0.9 6.4 0.5 6.5-1.1 6.5 1 6.4-0.1 6.5 0.3 6.5 0.4 6.5 0.5 6.4-0.4 6.5-0.9 6.5 0.5 6.4-0.2 6.5 0.9 6.5-0.6 6.5 0.9 6.4 1 6.5 0.1 6.5 0.1 6.4 0.5 6.5 1.2 6.5-1.3 6.5 0 6.4-1.1 6.5 1.4" stroke="#619CFF"/>
<path d="M89.9 430.5l6.5-0.2 6.4 2 6.5 1.6 6.5-0.9 6.5 1.1 6.4 0.2 6.5 0.1 6.5 2.3 6.4-0.3 6.5 0.7 6.5 1 6.5 0 6.4-0.1 6.5-0.7 6.5-0.1 6.4 0.9 6.5-1.3 6.5-1 6.4 0.6 6.5-0.4 6.5 1 6.5 1 6.4-0.1 6.5 0 6.5-0.5 6.4 2.1 6.5-2.1 6.5 1.3 6.5-1 6.4-0.1 6.5 1.1 6.5 0.3 6.4 1.4 6.5 0.5 6.5 0 6.5-0.4 6.4-1.4 6.5 0.3" stroke="#F8766D"/>
<path d="M89.9 396.1l6.5-10.8 6.4-9.8 6.5-5.2 6.5-5.2 6.5-3.2 6.4-2.6 6.5-0.1 6.5-1.5 6.4-1.2 6.5-0.3 6.5-0.7 6.5-0.3 6.4-1.3 6.5-1 6.5-0.2 6.4-0.3 6.5 0 6.5 1.2 6.4-0.4 6.5 1.5 6.5-0.4 6.5 1.5 6.4-2.5 6.5-0.7 6.5 0.9 6.4-0.4 6.5 1.2 6.5-1.5 6.5-0.5 6.4 0 6.5 0.8 6.5-0.5 6.4-0.3 6.5 1.1 6.5 0.1 6.5 0.8 6.4 0.9 6.5-0.4" stroke="#619CFF"/>
<path d="M89.9 435.3l6.5 1.1 6.4 1.2 6.5-2.4 6.5 0.3 6.5 1.5 6.4 2.1 6.5-1.6 6.5-1.8 6.4 2.1 6.5-0.1 6.5-0.1 6.5 2.2 6.4 0.5 6.5-0.8 6.5 0.8 6.4 0.1 6.5 0.6 6.5 0 6.4 0.1 6.5 0.4 6.5-0.2 6.5 0.3 6.4-1.3 6.5 0.9 6.5 0 6.4-0.5 6.5 0 6.5-0.9 6.5 1.9 6.4-0.5 6.5 0.5 6.5-0.7 6.4 0.8 6.5-0.9 6.5 0.2 6.5 0.9 6.4-1.2 6.5 0.1" stroke="#F8766D"/>
<path d="M89.9 438.6l6.5 0.5 6.4-0.4 6.5 2.2 6.5 1.8 6.5-1.2 6.4 1.7 6.5 0.6 6.5 0.9 6.4 1.6 6.5 0.3 6.5-0.4 6.5-1.1 6.4 0.3 6.5-0.2 6.5-0.1 6.4 1.5 6.5 0.6 6.5 0.7 6.4 0.5 6.5 0.5 6.5 0.3 6.5-0.7 6.4 0.1 6.5 1.2 6.5-0.4 6.4-0.5 6.5 1.1 6.5-0.1 6.5-0.4 6.4 0.8 6.5-0.9 6.5 0.1 6.4 1 6.5-0.9 6.5-0.7 6.5 1.1 6.4 0.4 6.5-1.5" stroke="#F8766D"/>
<path d="M89.9 408.7l6.5-6.6 6.4-5.3 6.5-5.9 6.5-1.8 6.5-4.2 6.4-3.7 6.5-1 6.5-0.5 6.4-1.2 6.5 2 6.5-2 6.5 0.6 6.4 0.2 6.5-1.2 6.5 1.2 6.4-0.8 6.5 0 6.5-0.3 6.4-1 6.5-0.2 6.5 0.3 6.5 0.3 6.4 0.2 6.5-0.6 6.5 0.8 6.4 0 6.5-1.9 6.5 1.4 6.5-0.4 6.4-0.6 6.5 1.3 6.5 0.2 6.4-0.7 6.5-0.4 6.5-0.7 6.5 0.9 6.4 0.2 6.5 0.3" stroke="#619CFF"/>
<path d="M89.9 434.5l6.5 2.1 6.4 2 6.5 5.6 6.5-0.2 6.5 1.2 6.4-0.2 6.5 1.2 6.5 0 6.4 2.3 6.5-1.3 6.5 2.2 6.5 0.1 6.4-0.1 6.5 0.8 6.5 1 6.4-0.4 6.5-0.4 6.5 1.8 6.4 2.3 6.5-0.2 6.5 0.3 6.5-1 6.4 0.6 6.5-0.6 6.5 0 6.4-0.2 6.5 0.9 6.5 0.8 6.5 0.6 6.4 0 6.5 0.1 6.5 0.3 6.4 0.4 6.5 0.2 6.5-0.9 6.5 0.6 6.4 0 6.5-1.7" stroke="#00BA38"/>
<path d="M89.9 421.4l6.5-1.2 6.4-0.5 6.5-0.7 6.5 1.3 6.5-1.6 6.4-1.5 6.5 0.8 6.5-0.1 6.4-0.6 6.5-1 6.5-0.4 6.5 1.1 6.4-0.8 6.5-1.1 6.5 0.9 6.4-0.7 6.5-1 6.5-0.3 6.4 1.4 6.5 0.2 6.5-1 6.5 1.8 6.4-1.5 6.5-0.5 6.5-0.1 6.4 0.4 6.5 0.6 6.5 0.6 6.5-1.8 6.4 1.5 6.5-1.2 6.5 1.1 6.4-0.2 6.5-0.8 6.5 0.5 6.5 0.9 6.4-0.4 6.5 1" stroke="#619CFF"/>
<path d="M89.9 439.2l6.5 3.3 6.4 5.7 6.5 0 6.5 2.3 6.5 1.8 6.4 0.3 6.5 1.7 6.5 1 6.4 0.2 6.5 0.1 6.5 2.4 6.5 0.9 6.4 0.8 6.5 1.4 6.5-0.5 6.4-0.1 6.5-0.5 6.5-0.7 6.4 0.3 6.5 1.2 6.5-0.2 6.5-0.2 6.4 0.6 6.5-0.5 6.5-0.7 6.4 1.9 6.5-0.8 6.5 0.9 6.5-0.3 6.4 0.9 6.5-0.1 6.5 0.8 6.4 0.2 6.5 1 6.5-1.3 6.5 0.6 6.4-2.2 6.5-0.1" stroke="#F8766D"/>
<path d="M89.9 417.9l6.5-3.6 6.4 1 6.5-1 6.5 1.4 6.5-2.8 6.4-0.4 6.5-1.1 6.5-1.2 6.4-0.2 6.5 1.2 6.5-1.3 6.5-0.5 6.4-0.9 6.5 0.5 6.5 0.5 6.4 0.2 6.5 0 6.5 1.2 6.4-0.5 6.5-1.1 6.5-0.4 6.5 0.3 6.4-0.3 6.5 1.1 6.5 0.4 6.4-0.8 6.5 0.9 6.5-1.1 6.5-1.3 6.4-0.1 6.5-0.5 6.5 0.2 6.4-0.6 6.5 1.7 6.5-1.1 6.5-0.1 6.4 1 6.5-0.4" stroke="#00BA38"/>
<path d="M89.9 430.1l6.5 2.6 6.4 0.8 6.5 0.9 6.5 0.9 6.5 0.7 6.4 0 6.5-0.5 6.5-0.6 6.4 0.3 6.5 1.3 6.5 1.3 6.5 0.4 6.4-0.1 6.5 1.6 6.5 0.2 6.4 0.4 6.5-0.4 6.5 0.6 6.4-0.1 6.5 0.1 6.5 0.3 6.5 0 6.4 1.3 6.5-0.6 6.5 0.1 6.4-0.4 6.5 0 6.5-0.3 6.5 0.3 6.4-1.2 6.5 0.8 6.5-2.1 6.4 2.4 6.5-0.8 6.5 0.7 6.5 1.1 6.4 0.6 6.5-0.3" stroke="#619CFF"/>
<path d="M89.9 440l6.5 5.2 6.4 1.5 6.5 2.8 6.5 3.3 6.5 2 6.4 2.2 6.5-0.7 6.5 0.3 6.4-0.3 6.5 1.1 6.5 1.7 6.5 0.3 6.4 1.3 6.5 0 6.5-0.6 6.4-0.4 6.5 0.6 6.5-1 6.4-0.5 6.5 1.5 6.5-0.7 6.5 0.3 6.4 0.2 6.5 1.1 6.5 0 6.4 0.3 6.5-1.3 6.5 1 6.5 1.1 6.4-1 6.5 0.5 6.5-1.7 6.4 1.2 6.5-0.6 6.5 1.2 6.5-0.2 6.4-0.8 6.5 0.1" stroke="#619CFF"/>
<path d="M89.9 402.5l6.5-10.7 6.4-8.9 6.5-3 6.5-3.2 6.5-2.9 6.4-2.9 6.5-2.4 6.5 0.1 6.4-1 6.5-0.7 6.5-0.9 6.5-1.1 6.4-0.4 6.5-0.6 6.5 0.6 6.4-0.6 6.5 0.1 6.5-1.6 6.4-0.7 6.5 0 6.5-1 6.5 0.1 6.4 1.5 6.5-0.6 6.5 0 6.4 0.1 6.5 1 6.5 0.1 6.5 1.6 6.4-0.8 6.5 0 6.5 0.4 6.4 0.7 6.5-1.9 6.5 1 6.5-0.9 6.4-0.5 6.5-0.7" stroke="#619CFF"/>
<path d="M89.9 430.7l6.5 0.2 6.4-1.8 6.5 0.1 6.5 2.9 6.5 0.5 6.4-0.2 6.5 0.5 6.5 2.4 6.4 1.1 6.5 1.3 6.5-0.6 6.5-0.5 6.4-0.2 6.5 0.3 6.5-0.2 6.4-1 6.5-0.4 6.5 0.3 6.4 0.2 6.5 0 6.5 1.2 6.5 0.1 6.4 0.5 6.5 0.1 6.5 0.4 6.4-1.1 6.5-0.9 6.5 1.3 6.5-0.3 6.4 1.8 6.5-0.7 6.5-0.8 6.4 0 6.5-0.8 6.5 0.3 6.5-0.5 6.4 1.5 6.5-1.2" stroke="#F8766D"/>
<path d="M89.9 436l6.5 0.8 6.4 1.3 6.5 2.6 6.5 1.5 6.5 1.2 6.4-1.6 6.5 1.3 6.5-1.4 6.4 0.3 6.5 0.9 6.5 0.4 6.5 0.1 6.4-1.3 6.5 1.3 6.5 0.4 6.4 1.2 6.5-1.7 6.5 0 6.4 0.9 6.5-0.4 6.5-0.2 6.5 0.5 6.4-0.8 6.5 1.1 6.5-1.2 6.4 1.6 6.5-0.3 6.5 0.3 6.5 1.4 6.4-1 6.5-0.8 6.5 0.5 6.4-1.3 6.5-0.2 6.5 0.5 6.5 0.9 6.4-0.5 6.5-1" stroke="#00BA38"/>
<path d="M89.9 441.6l6.5 5.7 6.4 0.5 6.5 1.4 6.5 1.3 6.5 1.4 6.4 1.9 6.5 1.3 6.5 0.6 6.4 0.2 6.5-0.9 6.5 0.4 6.5-0.2 6.4 0.4 6.5-0.3 6.5 1.6 6.4-2.1 6.5-0.2 6.5 0.9 6.4 1.6 6.5 0 6.5 2.7 6.5-0.7 6.4-0.1 6.5 0 6.5-0.3 6.4-1.5 6.5-0.1 6.5-0.1 6.5 1.5 6.4 0.7 6.5-0.3 6.5 0 6.4-1 6.5-0.4 6.5 0.8 6.5 0.1 6.4 0 6.5 0.2" stroke="#00BA38"/>
</g>
<polygon points="89.9,434 92.5,434.3 95.1,434.5 97.7,434.8 100.3,435 102.8,435.2 105.4,435.4 108,435.6 110.6,435.7 113.2,435.9 115.8,436 118.4,436.2 121,436.3 123.5,436.4 126.1,436.5 128.7,436.6 131.3,436.6 133.9,436.7 136.5,436.8 139.1,436.9 141.7,436.9 144.3,437 146.8,437 149.4,437.1 152,437.1 154.6,437.1 157.2,437.2 159.8,437.2 162.4,437.2 165,437.2 167.6,437.3 170.1,437.3 172.7,437.3 175.3,437.2 177.9,437.2 180.5,437.2 183.1,437.2 185.7,437.2 188.3,437.1 190.8,437.1 193.4,437 196,437 198.6,436.9 201.2,436.9 203.8,436.8 206.4,436.8 209,436.7 211.6,436.7 214.1,436.6 216.7,436.5 219.3,436.5 221.9,436.4 224.5,436.3 227.1,436.3 229.7,436.2 232.3,436.2 234.9,436.1 237.4,436 240,436 242.6,435.9 245.2,435.9 247.8,435.8 250.4,435.8 253,435.7 255.6,435.7 258.1,435.6 260.7,435.6 263.3,435.5 265.9,435.5 268.5,435.4 271.1,435.4 273.7,435.3 276.3,435.3 278.9,435.2 281.4,435.2 284,435.1 286.6,435 289.2,435 291.8,434.9 294.4,434.9 297,434.8 299.6,434.8 302.2,434.7 304.7,434.7 307.3,434.6 309.9,434.6 312.5,434.5 315.1,434.4 317.7,434.4 320.3,434.3 322.9,434.3 325.4,434.2 328,434.2 330.6,434.1 333.2,434 335.8,434 335.8,439.9 333.2,440 330.6,440.1 328,440.1 325.4,440.2 322.9,440.2 320.3,440.3 317.7,440.3 315.1,440.4 312.5,440.5 309.9,440.5 307.3,440.6 304.7,440.6 302.2,440.7 299.6,440.7 297,440.8 294.4,440.9 291.8,440.9 289.2,441 286.6,441 284,441.1 281.4,441.1 278.9,441.2 276.3,441.2 273.7,441.3 271.1,441.3 268.5,441.4 265.9,441.5 263.3,441.5 260.7,441.6 258.1,441.6 255.6,441.7 253,441.7 250.4,441.8 247.8,441.8 245.2,441.9 242.6,442 240,442 237.4,442.1 234.9,442.1 232.3,442.2 229.7,442.3 227.1,442.3 224.5,442.4 221.9,442.5 219.3,442.5 216.7,442.6 214.1,442.7 211.6,442.8 209,442.8 206.4,442.9 203.8,443 201.2,443 198.6,443.1 196,443.2 193.4,443.2 190.8,443.3 188.3,443.4 185.7,443.4 183.1,443.5 180.5,443.6 177.9,443.6 175.3,443.7 172.7,443.7 170.1,443.7 167.6,443.8 165,443.8 162.4,443.9 159.8,443.9 157.2,443.9 154.6,443.9 152,444 149.4,444 146.8,444.1 144.3,444.1 141.7,444.1 139.1,444.2 136.5,444.2 133.9,444.3 131.3,444.4 128.7,444.4 126.1,444.5 123.5,444.6 121,444.7 118.4,444.7 115.8,444.8 113.2,444.9 110.6,445 108,445.2 105.4,445.3 102.8,445.4 100.3,445.6 97.7,445.7 95.1,445.9 92.5,446.1 89.9,446.3" fill="#999999" fill-opacity="0.4"/>
<polygon points="89.9,426.8 92.5,427 95.1,427 97.7,427.1 100.3,427.2 102.8,427.2 105.4,427.3 108,427.3 110.6,427.3 113.2,427.3 115.8,427.3 118.4,427.3 121,427.2 123.5,427.2 126.1,427.1 128.7,427.1 131.3,427 133.9,427 136.5,426.9 139.1,426.8 141.7,426.8 144.3,426.7 146.8,426.6 149.4,426.5 152,426.4 154.6,426.3 157.2,426.2 159.8,426.1 162.4,426 165,425.9 167.6,425.8 170.1,425.7 172.7,425.6 175.3,425.5 177.9,425.4 180.5,425.2 183.1,425.1 185.7,425 188.3,424.8 190.8,424.7 193.4,424.6 196,424.5 198.6,424.3 201.2,424.2 203.8,424.1 206.4,423.9 209,423.8 211.6,423.7 214.1,423.6 216.7,423.4 219.3,423.3 221.9,423.2 224.5,423.1 227.1,423 229.7,422.9 232.3,422.8 234.9,422.7 237.4,422.6 240,422.5 242.6,422.4 245.2,422.4 247.8,422.3 250.4,422.2 253,422.1 255.6,422.1 258.1,422 260.7,421.9 263.3,421.9 265.9,421.8 268.5,421.7 271.1,421.6 273.7,421.6 276.3,421.5 278.9,421.4 281.4,421.4 284,421.3 286.6,421.3 289.2,421.2 291.8,421.1 294.4,421.1 297,421 299.6,421 302.2,420.9 304.7,420.9 307.3,420.8 309.9,420.8 312.5,420.8 315.1,420.7 317.7,420.7 320.3,420.6 322.9,420.6 325.4,420.6 328,420.6 330.6,420.5 333.2,420.5 335.8,420.5 335.8,426.4 333.2,426.5 330.6,426.5 328,426.5 325.4,426.5 322.9,426.6 320.3,426.6 317.7,426.6 315.1,426.7 312.5,426.7 309.9,426.8 307.3,426.8 304.7,426.8 302.2,426.9 299.6,426.9 297,427 294.4,427.1 291.8,427.1 289.2,427.2 286.6,427.2 284,427.3 281.4,427.4 278.9,427.4 276.3,427.5 273.7,427.6 271.1,427.6 268.5,427.7 265.9,427.8 263.3,427.8 260.7,427.9 258.1,428 255.6,428.1 253,428.1 250.4,428.2 247.8,428.3 245.2,428.4 242.6,428.5 240,428.5 237.4,428.6 234.9,428.7 232.3,428.8 229.7,428.9 227.1,429 224.5,429.2 221.9,429.3 219.3,429.4 216.7,429.5 214.1,429.7 211.6,429.8 209,429.9 206.4,430.1 203.8,430.2 201.2,430.3 198.6,430.5 196,430.6 193.4,430.8 190.8,430.9 188.3,431.1 185.7,431.3 183.1,431.4 180.5,431.6 177.9,431.7 175.3,431.9 172.7,432 170.1,432.2 167.6,432.4 165,432.5 162.4,432.7 159.8,432.8 157.2,433 154.6,433.1 152,433.3 149.4,433.5 146.8,433.7 144.3,433.8 141.7,434 139.1,434.2 136.5,434.4 133.9,434.6 131.3,434.8 128.7,435 126.1,435.2 123.5,435.4 121,435.6 118.4,435.8 115.8,436.1 113.2,436.3 110.6,436.6 108,436.9 105.4,437.1 102.8,437.4 100.3,437.8 97.7,438.1 95.1,438.4 92.5,438.8 89.9,439.1" fill="#999999" fill-opacity="0.4"/>
<polygon points="89.9,417.3 92.5,416.8 95.1,416.4 97.7,415.9 100.3,415.4 102.8,415 105.4,414.5 108,414.1 110.6,413.6 113.2,413.2 115.8,412.8 118.4,412.4 121,412.1 123.5,411.7 126.1,411.4 128.7,411.1 131.3,410.8 133.9,410.5 136.5,410.2 139.1,409.9 141.7,409.6 144.3,409.4 146.8,409.1 149.4,408.8 152,408.6 154.6,408.4 157.2,408.1 159.8,407.9 162.4,407.7 165,407.5 167.6,407.3 170.1,407.1 172.7,406.9 175.3,406.7 177.9,406.5 180.5,406.3 183.1,406.1 185.7,406 188.3,405.8 190.8,405.6 193.4,405.4 196,405.3 198.6,405.1 201.2,405 203.8,404.8 206.4,404.7 209,404.5 211.6,404.4 214.1,404.3 216.7,404.2 219.3,404.1 221.9,404 224.5,403.9 227.1,403.8 229.7,403.7 232.3,403.6 234.9,403.6 237.4,403.5 240,403.4 242.6,403.3 245.2,403.2 247.8,403.2 250.4,403.1 253,403 255.6,403 258.1,402.9 260.7,402.9 263.3,402.8 265.9,402.8 268.5,402.7 271.1,402.7 273.7,402.6 276.3,402.6 278.9,402.6 281.4,402.5 284,402.5 286.6,402.4 289.2,402.4 291.8,402.4 294.4,402.3 297,402.3 299.6,402.3 302.2,402.2 304.7,402.2 307.3,402.2 309.9,402.2 312.5,402.1 315.1,402.1 317.7,402.1 320.3,402.1 322.9,402.1 325.4,402.1 328,402 330.6,402 333.2,402 335.8,402 335.8,408 333.2,408 330.6,408 328,408 325.4,408 322.9,408 320.3,408 317.7,408.1 315.1,408.1 312.5,408.1 309.9,408.1 307.3,408.2 304.7,408.2 302.2,408.2 299.6,408.2 297,408.3 294.4,408.3 291.8,408.3 289.2,408.4 286.6,408.4 284,408.5 281.4,408.5 278.9,408.5 276.3,408.6 273.7,408.6 271.1,408.6 268.5,408.7 265.9,408.7 263.3,408.8 260.7,408.9 258.1,408.9 255.6,409 253,409 250.4,409.1 247.8,409.2 245.2,409.3 242.6,409.3 240,409.4 237.4,409.5 234.9,409.6 232.3,409.7 229.7,409.8 227.1,409.9 224.5,410 221.9,410.1 219.3,410.2 216.7,410.3 214.1,410.4 211.6,410.5 209,410.7 206.4,410.8 203.8,411 201.2,411.1 198.6,411.3 196,411.5 193.4,411.6 190.8,411.8 188.3,412 185.7,412.2 183.1,412.4 180.5,412.7 177.9,412.9 175.3,413.1 172.7,413.4 170.1,413.6 167.6,413.8 165,414.1 162.4,414.4 159.8,414.6 157.2,414.9 154.6,415.2 152,415.5 149.4,415.8 146.8,416.1 144.3,416.5 141.7,416.9 139.1,417.2 136.5,417.6 133.9,418.1 131.3,418.5 128.7,418.9 126.1,419.4 123.5,419.9 121,420.4 118.4,421 115.8,421.6 113.2,422.2 110.6,422.9 108,423.6 105.4,424.4 102.8,425.2 100.3,426 97.7,426.9 95.1,427.7 92.5,428.7 89.9,429.6" fill="#999999" fill-opacity="0.4"/>
<polyline points="89.9,440.1 92.5,440.2 95.1,440.2 97.7,440.3 100.3,440.3 102.8,440.3 105.4,440.3 108,440.4 110.6,440.4 113.2,440.4 115.8,440.4 118.4,440.5 121,440.5 123.5,440.5 126.1,440.5 128.7,440.5 131.3,440.5 133.9,440.5 136.5,440.5 139.1,440.5 141.7,440.5 144.3,440.5 146.8,440.5 149.4,440.5 152,440.5 154.6,440.5 157.2,440.5 159.8,440.5 162.4,440.5 165,440.5 167.6,440.5 170.1,440.5 172.7,440.5 175.3,440.4 177.9,440.4 180.5,440.4 183.1,440.3 185.7,440.3 188.3,440.2 190.8,440.2 193.4,440.1 196,440.1 198.6,440 201.2,440 203.8,439.9 206.4,439.8 209,439.8 211.6,439.7 214.1,439.6 216.7,439.6 219.3,439.5 221.9,439.4 224.5,439.4 227.1,439.3 229.7,439.2 232.3,439.2 234.9,439.1 237.4,439.1 240,439 242.6,438.9 245.2,438.9 247.8,438.8 250.4,438.8 253,438.7 255.6,438.7 258.1,438.6 260.7,438.6 263.3,438.5 265.9,438.5 268.5,438.4 271.1,438.4 273.7,438.3 276.3,438.3 278.9,438.2 281.4,438.1 284,438.1 286.6,438 289.2,438 291.8,437.9 294.4,437.9 297,437.8 299.6,437.8 302.2,437.7 304.7,437.6 307.3,437.6 309.9,437.5 312.5,437.5 315.1,437.4 317.7,437.4 320.3,437.3 322.9,437.2 325.4,437.2 328,437.1 330.6,437.1 333.2,437 335.8,437" fill="none" stroke="#F8766D" stroke-width="2.8" stroke-linejoin="round"/>
<polyline points="89.9,433 92.5,432.9 95.1,432.7 97.7,432.6 100.3,432.5 102.8,432.3 105.4,432.2 108,432.1 110.6,431.9 113.2,431.8 115.8,431.7 118.4,431.6 121,431.4 123.5,431.3 126.1,431.2 128.7,431 131.3,430.9 133.9,430.8 136.5,430.6 139.1,430.5 141.7,430.4 144.3,430.3 146.8,430.1 149.4,430 152,429.9 154.6,429.7 157.2,429.6 159.8,429.5 162.4,429.4 165,429.2 167.6,429.1 170.1,429 172.7,428.8 175.3,428.7 177.9,428.5 180.5,428.4 183.1,428.3 185.7,428.1 188.3,428 190.8,427.8 193.4,427.7 196,427.5 198.6,427.4 201.2,427.3 203.8,427.1 206.4,427 209,426.9 211.6,426.7 214.1,426.6 216.7,426.5 219.3,426.4 221.9,426.2 224.5,426.1 227.1,426 229.7,425.9 232.3,425.8 234.9,425.7 237.4,425.6 240,425.5 242.6,425.4 245.2,425.4 247.8,425.3 250.4,425.2 253,425.1 255.6,425.1 258.1,425 260.7,424.9 263.3,424.8 265.9,424.8 268.5,424.7 271.1,424.6 273.7,424.6 276.3,424.5 278.9,424.4 281.4,424.4 284,424.3 286.6,424.2 289.2,424.2 291.8,424.1 294.4,424.1 297,424 299.6,424 302.2,423.9 304.7,423.9 307.3,423.8 309.9,423.8 312.5,423.7 315.1,423.7 317.7,423.7 320.3,423.6 322.9,423.6 325.4,423.6 328,423.5 330.6,423.5 333.2,423.5 335.8,423.5" fill="none" stroke="#00BA38" stroke-width="2.8" stroke-linejoin="round"/>
<polyline points="89.9,423.5 92.5,422.8 95.1,422.1 97.7,421.4 100.3,420.7 102.8,420.1 105.4,419.5 108,418.9 110.6,418.3 113.2,417.7 115.8,417.2 118.4,416.7 121,416.2 123.5,415.8 126.1,415.4 128.7,415 131.3,414.6 133.9,414.3 136.5,413.9 139.1,413.6 141.7,413.2 144.3,412.9 146.8,412.6 149.4,412.3 152,412 154.6,411.8 157.2,411.5 159.8,411.3 162.4,411 165,410.8 167.6,410.6 170.1,410.4 172.7,410.1 175.3,409.9 177.9,409.7 180.5,409.5 183.1,409.3 185.7,409.1 188.3,408.9 190.8,408.7 193.4,408.5 196,408.4 198.6,408.2 201.2,408 203.8,407.9 206.4,407.7 209,407.6 211.6,407.5 214.1,407.4 216.7,407.2 219.3,407.1 221.9,407 224.5,406.9 227.1,406.8 229.7,406.7 232.3,406.7 234.9,406.6 237.4,406.5 240,406.4 242.6,406.3 245.2,406.3 247.8,406.2 250.4,406.1 253,406 255.6,406 258.1,405.9 260.7,405.9 263.3,405.8 265.9,405.8 268.5,405.7 271.1,405.7 273.7,405.6 276.3,405.6 278.9,405.5 281.4,405.5 284,405.5 286.6,405.4 289.2,405.4 291.8,405.4 294.4,405.3 297,405.3 299.6,405.3 302.2,405.2 304.7,405.2 307.3,405.2 309.9,405.1 312.5,405.1 315.1,405.1 317.7,405.1 320.3,405.1 322.9,405 325.4,405 328,405 330.6,405 333.2,405 335.8,405" fill="none" stroke="#619CFF" stroke-width="2.8" stroke-linejoin="round"/>
<line x1="77.5" y1="297.6" x2="77.5" y2="494.75" stroke="#000" stroke-width="1.5"/>
<line x1="76.75" y1="494.0" x2="348" y2="494.0" stroke="#000" stroke-width="1.5"/>
<line x1="72.4" y1="485.00" x2="77.5" y2="485.00" stroke="#000" stroke-width="1.3"/>
<text x="67.6" y="489.80" text-anchor="end">0</text>
<line x1="72.4" y1="445.30" x2="77.5" y2="445.30" stroke="#000" stroke-width="1.3"/>
<text x="67.6" y="450.10" text-anchor="end">0.1</text>
<line x1="72.4" y1="405.60" x2="77.5" y2="405.60" stroke="#000" stroke-width="1.3"/>
<text x="67.6" y="410.40" text-anchor="end">0.2</text>
<line x1="72.4" y1="365.90" x2="77.5" y2="365.90" stroke="#000" stroke-width="1.3"/>
<text x="67.6" y="370.70" text-anchor="end">0.3</text>
<line x1="72.4" y1="326.20" x2="77.5" y2="326.20" stroke="#000" stroke-width="1.3"/>
<text x="67.6" y="331.00" text-anchor="end">0.4</text>
<line x1="141.67" y1="494.0" x2="141.67" y2="498.9" stroke="#000" stroke-width="1.3"/>
<text x="141.67" y="513.80" text-anchor="middle">100</text>
<line x1="206.38" y1="494.0" x2="206.38" y2="498.9" stroke="#000" stroke-width="1.3"/>
<text x="206.38" y="513.80" text-anchor="middle">200</text>
<line x1="271.09" y1="494.0" x2="271.09" y2="498.9" stroke="#000" stroke-width="1.3"/>
<text x="271.09" y="513.80" text-anchor="middle">300</text>
<line x1="335.80" y1="494.0" x2="335.80" y2="498.9" stroke="#000" stroke-width="1.3"/>
<text x="335.80" y="513.80" text-anchor="middle">400</text>
<text x="176.38" y="537.00" font-size="13.7" textLength="73.83" lengthAdjust="spacingAndGlyphs">Sample size</text>
<text x="0" y="0" transform="translate(12.10,439.00) rotate(-90)" font-size="13.7" textLength="87.06" lengthAdjust="spacingAndGlyphs">Regional GMV</text>
<text x="0" y="0" transform="translate(32.90,414.40) rotate(-90)" font-size="13.7" textLength="38.60" lengthAdjust="spacingAndGlyphs">(RESI)</text>
<g fill="none" stroke-width="1.25" stroke-opacity="0.25">
<path d="M430.3 468l6.3 0.2 6.3-3.8 6.4-3.8 6.3-4.9 6.3-7.2 6.3 3.7 6.4-13.7 6.3-15.7 6.3-9.9 6.3-2.5 6.4-7.2 6.3-0.9 6.3-6.9 6.3-11.9 6.4-3.2 6.3-16.3 6.3-6.2 6.3-3 6.3-3.6 6.4-0.7 6.3-5.6 6.3 2.7 6.3-10.7 6.4-5.4 6.3-3.8 6.3 0 6.3-6.7 6.4 0.9 6.3-1.4 6.3 0.2 6.3-1.2 6.4 1.1 6.3-3 6.3-2.1 6.3-1.6 6.4 0.5 6.3 0.2 6.3-1.5" stroke="#00BA38"/>
<path d="M430.3 473.6l6.3 0.2 6.3 0 6.4-0.1 6.3-0.5 6.3 0.4 6.3 0.3 6.4-0.6 6.3-1.4 6.3 0 6.3 2.2 6.4-1.1 6.3 0 6.3-0.3 6.3-1.3 6.4 0.2 6.3 0.2 6.3 1.7 6.3-1.4 6.3 0.2 6.4-1.4 6.3-1.8 6.3 2.1 6.3-0.5 6.4-1.6 6.3 2.8 6.3-0.7 6.3 0.8 6.4-1.3 6.3-1.4 6.3-0.3 6.3-3.4 6.4-0.1 6.3 0.8 6.3-1.7 6.3-2.3 6.4 3.4 6.3 0.5 6.3-1.1" stroke="#F8766D"/>
<path d="M430.3 476.7l6.3-1.7 6.3-1.8 6.4-0.4 6.3-0.4 6.3-1.5 6.3-1.9 6.4-3 6.3-5.6 6.3-0.7 6.3-2.5 6.4 2 6.3 0.3 6.3-0.4 6.3-3.6 6.4-0.7 6.3-9 6.3-1.5 6.3 4.7 6.3-3.1 6.4-10.8 6.3 0.3 6.3-3.8 6.3-1 6.4 0.1 6.3 8.5 6.3-8.9 6.3 2 6.4-11.2 6.3-2.9 6.3-2.4 6.3-7.5 6.4-0.3 6.3 4.3 6.3-7.2 6.3 0.5 6.4-11.6 6.3 7.1 6.3-3.6" stroke="#00BA38"/>
<path d="M430.3 476.5l6.3-1.5 6.3-0.7 6.4-0.5 6.3-0.7 6.3-0.7 6.3-2.3 6.4-0.7 6.3-0.2 6.3 0.7 6.3-4.2 6.4-1.1 6.3-2.6 6.3 2.4 6.3-6.3 6.4 1 6.3-0.8 6.3-1.3 6.3 0.5 6.3 3.6 6.4 0.5 6.3-8.3 6.3-3.2 6.3 3.8 6.4-0.6 6.3-6.5 6.3 1.2 6.3 0.7 6.4 0.9 6.3 3.4 6.3-5.5 6.3-4 6.4-1.4 6.3-4.2 6.3 4.4 6.3-9.7 6.4-3 6.3 7.5 6.3 4.3" stroke="#00BA38"/>
<path d="M430.3 468.9l6.3 0.3 6.3-2.8 6.4-2.8 6.3-4.7 6.3-7.1 6.3-4.7 6.4-5.9 6.3-10.4 6.3-9 6.3-3.9 6.4-5.9 6.3-6.1 6.3-4.4 6.3-5.2 6.4-3.4 6.3-11.9 6.3-4.2 6.3-4.6 6.3-6.1 6.4-6.3 6.3-8.4 6.3 1.4 6.3-1.8 6.4-5.2 6.3-0.1 6.3-9.7 6.3-3.5 6.4-2.1 6.3 0.4 6.3-4.2 6.3-3.5 6.4-0.7 6.3 0.8 6.3 2.7 6.3-7 6.4 0.2 6.3 0.3 6.3-4.6" stroke="#F8766D"/>
<path d="M430.3 469.1l6.3 1.9 6.3 0.9 6.4-0.4 6.3 0.1 6.3-3.8 6.3-2.8 6.4-1.5 6.3-2.5 6.3-0.8 6.3-3.7 6.4-1.1 6.3-4 6.3 0.9 6.3-1.1 6.4-0.6 6.3-2 6.3 1.3 6.3-11 6.3-5.5 6.4-1.2 6.3-3.2 6.3 0 6.3-2.8 6.4 4.4 6.3-5.4 6.3 3.5 6.3-5.3 6.4-4.9 6.3-3.2 6.3 0.4 6.3-11.4 6.4-4.1 6.3 3.4 6.3 2.3 6.3-4.2 6.4-9 6.3 7.7 6.3-10.9" stroke="#F8766D"/>
<path d="M430.3 471l6.3 1.2 6.3 0.7 6.4 0.4 6.3-0.5 6.3 0.5 6.3 0.2 6.4-0.6 6.3-1.1 6.3-0.2 6.3 0.5 6.4-1 6.3 1.1 6.3-1.7 6.3 2.2 6.4-3.8 6.3 1.8 6.3-1.4 6.3 1.1 6.3-1.5 6.4-2 6.3 3.8 6.3-5.8 6.3 2.9 6.4 1.2 6.3-3.9 6.3 2 6.3-2 6.4-0.9 6.3-4 6.3 1.5 6.3 0.3 6.4 3.6 6.3-1.8 6.3-0.8 6.3-2.6 6.4-3.1 6.3 5.2 6.3-2.7" stroke="#619CFF"/>
<path d="M430.3 469.7l6.3 1.9 6.3 0.1 6.4-0.1 6.3 0.1 6.3-1.2 6.3-0.9 6.4 0.5 6.3-0.2 6.3-0.8 6.3-3.3 6.4-2.2 6.3-1.2 6.3 0.1 6.3-5.7 6.4 2 6.3-2 6.3-0.8 6.3-3.5 6.3 5.2 6.4-5.4 6.3-0.7 6.3-1.6 6.3 1.4 6.4-1.6 6.3-7.6 6.3-2.4 6.3 5.6 6.4-4.8 6.3-0.2 6.3-6.4 6.3-1 6.4-2.5 6.3 1 6.3-1.2 6.3 1 6.4 2.4 6.3-3.8 6.3-9" stroke="#F8766D"/>
<path d="M430.3 472.2l6.3-7.7 6.3-13.4 6.4-18.3 6.3-13.5 6.3-18.3 6.3-13.5 6.4-17.1 6.3-16.6 6.3-4.5 6.3-11.8 6.4-10.9 6.3-5.4 6.3-1.5 6.3-3.7 6.4-1.8 6.3-5.1 6.3-0.4 6.3-2.1 6.3 2 6.4-2.6 6.3 1.1 6.3-0.5 6.3-0.6 6.4 0.3 6.3-0.3 6.3 0.4 6.3-0.4 6.4 0 6.3 0 6.3 0 6.3 0 6.4 0.3 6.3 0.2 6.3-0.1 6.3-0.4 6.4 0 6.3 0 6.3 0" stroke="#619CFF"/>
<path d="M430.3 467.8l6.3 0.7 6.3-4.8 6.4-4.5 6.3-3.6 6.3-9.2 6.3-5.4 6.4-6 6.3-14.1 6.3-11.2 6.3-4.4 6.4-3 6.3-2.4 6.3-14.9 6.3-11.3 6.4 0.7 6.3-15.9 6.3 9.8 6.3-8.2 6.3-14.7 6.4-7.1 6.3 5.7 6.3-9.8 6.3-6.6 6.4-2 6.3-0.1 6.3-2 6.3 2.6 6.4-4.9 6.3-2.2 6.3 0.5 6.3-0.9 6.4-2.1 6.3-2.2 6.3-3.8 6.3 0 6.4-1.1 6.3-1.7 6.3 2.7" stroke="#619CFF"/>
<path d="M430.3 473.8l6.3-0.8 6.3-1.5 6.4-1.5 6.3-4.7 6.3 0 6.3-3.2 6.4-1.9 6.3 2.1 6.3-9.2 6.3-3.2 6.4 1.5 6.3-3.5 6.3-0.3 6.3-8.7 6.4-9.6 6.3-4.2 6.3 5.8 6.3 1.3 6.3-10.7 6.4-10.3 6.3 1.2 6.3-6 6.3 6.1 6.4-5.7 6.3-6.2 6.3-0.4 6.3-3.1 6.4-6.8 6.3 1.5 6.3 0 6.3-9.4 6.4-2.6 6.3 2.6 6.3-7.1 6.3 0.3 6.4-6.7 6.3-1 6.3-0.8" stroke="#F8766D"/>
<path d="M430.3 475.8l6.3-1.7 6.3-2.1 6.4-2.9 6.3-3.3 6.3-2.7 6.3-2.3 6.4-3.1 6.3-3.4 6.3-2.9 6.3-4.6 6.4 2 6.3-3.3 6.3-2.2 6.3-6.3 6.4 1.4 6.3-1 6.3-4.3 6.3-1 6.3-7.9 6.4-5.4 6.3 1.4 6.3-11.8 6.3-1.6 6.4-2.2 6.3 0.1 6.3-4.1 6.3-9.7 6.4 4.4 6.3-4.1 6.3-0.5 6.3 4.1 6.4 0.3 6.3-4.3 6.3-3.2 6.3-12.6 6.4 2.2 6.3-4.7 6.3-0.2" stroke="#619CFF"/>
<path d="M430.3 476.5l6.3-1 6.3-0.8 6.4-0.4 6.3-0.2 6.3-0.5 6.3 0.1 6.4-0.8 6.3-0.1 6.3 0.4 6.3-0.3 6.4 0.3 6.3 1 6.3-0.3 6.3-1.8 6.4-0.1 6.3 1.6 6.3-1 6.3 0.9 6.3 0.3 6.4-0.7 6.3-1.9 6.3 2 6.3-1.3 6.4-0.9 6.3 3.4 6.3-1.1 6.3-1.4 6.4 1.3 6.3-3 6.3 2.2 6.3-2.6 6.4 1.8 6.3 0.5 6.3-3 6.3 0.8 6.4 1.3 6.3 1 6.3-2.8" stroke="#619CFF"/>
<path d="M430.3 472.5l6.3 0.6 6.3-0.2 6.4 0.2 6.3 0.4 6.3 0.3 6.3-0.3 6.4-1 6.3-0.8 6.3 0.9 6.3-0.2 6.4 0.7 6.3-1 6.3 1 6.3-1.1 6.4 0 6.3 0 6.3-2.1 6.3 2.8 6.3-2.6 6.4 0.2 6.3-1.2 6.3 1 6.3 1.5 6.4-1.3 6.3 0.5 6.3 0.3 6.3-0.1 6.4-2.5 6.3 2.5 6.3-2.1 6.3-4.6 6.4-1 6.3 2.9 6.3-3.1 6.3 3.3 6.4-1.9 6.3-0.7 6.3-2.6" stroke="#619CFF"/>
<path d="M430.3 476.7l6.3-1.7 6.3-1.3 6.4-1.5 6.3-0.7 6.3-1.8 6.3-2.3 6.4 1.6 6.3-3.9 6.3-2 6.3-3 6.4 1.4 6.3-1.6 6.3-2 6.3-0.4 6.4-5.6 6.3-0.9 6.3 1.9 6.3-4.6 6.3 1.3 6.4 0.7 6.3-2.9 6.3-6 6.3-3.7 6.4-1.9 6.3-4.4 6.3-8.1 6.3 7.3 6.4-5.2 6.3-2.6 6.3 3.4 6.3-3.2 6.4-5.3 6.3-2.5 6.3 1.1 6.3-7.7 6.4-1.7 6.3-3.7 6.3-6.6" stroke="#F8766D"/>
<path d="M430.3 476.1l6.3-0.9 6.3-1 6.4 0 6.3-0.9 6.3 0.4 6.3-0.3 6.4 0.7 6.3-1.1 6.3-1.5 6.3 1.2 6.4 1.5 6.3-0.9 6.3-1.2 6.3 1 6.4-2.6 6.3 2.5 6.3-1.4 6.3-1.6 6.3 0.7 6.4-1.2 6.3 0.5 6.3 1.3 6.3 0.3 6.4-3.3 6.3 4 6.3-1.8 6.3 0.9 6.4-0.4 6.3-2.3 6.3 1.9 6.3 1.6 6.4-4.2 6.3-1.6 6.3 1.4 6.3 2 6.4 0.6 6.3-2.3 6.3-1.1" stroke="#F8766D"/>
<path d="M430.3 467.7l6.3 1.8 6.3 0.6 6.4 0.6 6.3-4.5 6.3 2.4 6.3-6.5 6.4 0.7 6.3-6.3 6.3-0.3 6.3-3.9 6.4-1.9 6.3-2.2 6.3-4.8 6.3 0.2 6.4-5.9 6.3 1.5 6.3-2.9 6.3-3.8 6.3-5 6.4-8.8 6.3 3.2 6.3-1.1 6.3-1.4 6.4-5.5 6.3-7.8 6.3 1 6.3-3.7 6.4-2 6.3-5.5 6.3 5.4 6.3-11.6 6.4-6.8 6.3 3.6 6.3-4.1 6.3 0.5 6.4-9.8 6.3-3.1 6.3-12.1" stroke="#F8766D"/>
<path d="M430.3 470.8l6.3-2.3 6.3-6.7 6.4-9.7 6.3-12.1 6.3-10.6 6.3-11.5 6.4-9.1 6.3-5.7 6.3-10.8 6.3-7.8 6.4-4.7 6.3-9.5 6.3-4.8 6.3-6.4 6.4-16.3 6.3 1.4 6.3-12.8 6.3-0.6 6.3-3 6.4-1.8 6.3-4.2 6.3-2.9 6.3 1.9 6.4-4.1 6.3-0.7 6.3-1.4 6.3-1.7 6.4-2.1 6.3-4.1 6.3 0.3 6.3 2.2 6.4-0.2 6.3 0.5 6.3-1.7 6.3 1.7 6.4-0.9 6.3-1.3 6.3-1.3" stroke="#619CFF"/>
<path d="M430.3 472.2l6.3-0.1 6.3-1 6.4-1.7 6.3-0.4 6.3-0.7 6.3-3.3 6.4-6.5 6.3 1.1 6.3 1 6.3-5.9 6.4-2.1 6.3-2.6 6.3-5.2 6.3-0.4 6.4 4.4 6.3-4.3 6.3-5.6 6.3-7.6 6.3 1.1 6.4-5.5 6.3-5.8 6.3-5.1 6.3 5 6.4-3.5 6.3-3.3 6.3-1.2 6.3-9.5 6.4 3.1 6.3-6.7 6.3 2.7 6.3-6.2 6.4-6.5 6.3-3.6 6.3 4.4 6.3-0.4 6.4-5.1 6.3-5.7 6.3 2.2" stroke="#00BA38"/>
<path d="M430.3 467.3l6.3 2.7 6.3-0.9 6.4-0.2 6.3-1.5 6.3-2.3 6.3-4.3 6.4-2.1 6.3-0.6 6.3-2 6.3-1.9 6.4-8.2 6.3-3 6.3-7.1 6.3-4.5 6.4 0.1 6.3-7.9 6.3-1.5 6.3-9 6.3-2.9 6.4-3.1 6.3-7.5 6.3 1.5 6.3 0.6 6.4-6.4 6.3-1.7 6.3-16.3 6.3 5.9 6.4-0.3 6.3-1 6.3-13.4 6.3 7.7 6.4-4.3 6.3-3.9 6.3-2.4 6.3-3.9 6.4-6.9 6.3 5 6.3-3.8" stroke="#00BA38"/>
<path d="M430.3 471.3l6.3 1.3 6.3 0.9 6.4 0 6.3 0.3 6.3 0.1 6.3 0.3 6.4-1.7 6.3 0.1 6.3 1.2 6.3-0.8 6.4 0.3 6.3 0.5 6.3-2.2 6.3 1.1 6.4 0.7 6.3 0.9 6.3-1.6 6.3-1.4 6.3 0.4 6.4-1.2 6.3 1.3 6.3 1.8 6.3-0.3 6.4-2.9 6.3 1.6 6.3 3 6.3-2.4 6.4-0.1 6.3-1.3 6.3-1.9 6.3-1.2 6.4 1 6.3 1.2 6.3-1.5 6.3-0.3 6.4-1.3 6.3 0.7 6.3 0.3" stroke="#619CFF"/>
<path d="M430.3 469.9l6.3 1.2 6.3 0.1 6.4-0.6 6.3-2.2 6.3-3.5 6.3-1.4 6.4-2.4 6.3-7.7 6.3 3.4 6.3 0.3 6.4-5.4 6.3-2.2 6.3-5.1 6.3-5.9 6.4-1 6.3-0.5 6.3-4.7 6.3-3.5 6.3-1 6.4-0.5 6.3-7.1 6.3-0.7 6.3 1.5 6.4-9 6.3 0.2 6.3-1.9 6.3-7.5 6.4 1.8 6.3-3.9 6.3 0.3 6.3 0.5 6.4-9.4 6.3-10.1 6.3 5.6 6.3-8.8 6.4-4 6.3-4.7 6.3 7.9" stroke="#F8766D"/>
<path d="M430.3 467.5l6.3 1.8 6.3-1.4 6.4-3.3 6.3-2.8 6.3-3.9 6.3-2.6 6.4-9.4 6.3-3.3 6.3-2.2 6.3-4.3 6.4-7.7 6.3-13.8 6.3-5.4 6.3 4.3 6.4-8.9 6.3-8.1 6.3-7.7 6.3-4.8 6.3-0.7 6.4-8 6.3-1.6 6.3 3.4 6.3-8.4 6.4-5.4 6.3-10.7 6.3-6 6.3 3.8 6.4-5.7 6.3-3.5 6.3 2.3 6.3 0.8 6.4-8.1 6.3-4.7 6.3-0.7 6.3 4.7 6.4-7.9 6.3-2 6.3-0.9" stroke="#F8766D"/>
<path d="M430.3 474.3l6.3-1.1 6.3-1 6.4-0.7 6.3-2.1 6.3-4.5 6.3-0.7 6.4-5 6.3 0.6 6.3 0 6.3-4.3 6.4 0.7 6.3-0.4 6.3-1.1 6.3-11.9 6.4-1 6.3 3.9 6.3-11.2 6.3 3 6.3-3.6 6.4-11.1 6.3 3.1 6.3-9.1 6.3 1.7 6.4-4.9 6.3-6.9 6.3-0.7 6.3-2.1 6.4-3.7 6.3 3.7 6.3-7.2 6.3-3.8 6.4-9.6 6.3 3 6.3-5.7 6.3-1.4 6.4 5.5 6.3-3.9 6.3-5.6" stroke="#00BA38"/>
<path d="M430.3 473.6l6.3-1.6 6.3-3.7 6.4-5 6.3-3.3 6.3-6.7 6.3-5.3 6.4-7 6.3-2.3 6.3-1.8 6.3-5.8 6.4-7.4 6.3-10.5 6.3-4.3 6.3-4.3 6.4-5.9 6.3-10.8 6.3 0.2 6.3-12.1 6.3 4.6 6.4-4.4 6.3-10.3 6.3-4.5 6.3 1.4 6.4-5.1 6.3-1.7 6.3-8.8 6.3-3.5 6.4 1.5 6.3-5.5 6.3-0.8 6.3-2.9 6.4-2.9 6.3-0.4 6.3-4.5 6.3-2.7 6.4-1.8 6.3-3.5 6.3 1.7" stroke="#F8766D"/>
<path d="M430.3 473.5l6.3-0.2 6.3-0.6 6.4-0.5 6.3-0.2 6.3-3.1 6.3 1.9 6.4-0.1 6.3-1.3 6.3-2.9 6.3-0.7 6.4-3.7 6.3 2.8 6.3-5.6 6.3-5.3 6.4-0.7 6.3 1.6 6.3 0.2 6.3-6.1 6.3 5.1 6.4-2.4 6.3 0.8 6.3-5.9 6.3-9.8 6.4 3.2 6.3-5.6 6.3 4.4 6.3-1.9 6.4-1.9 6.3-8 6.3 3.3 6.3-1.1 6.4-4.4 6.3-8.8 6.3 1.7 6.3-7.8 6.4 1.7 6.3 1.7 6.3-6.6" stroke="#F8766D"/>
<path d="M430.3 467.6l6.3 3.3 6.3 1.7 6.4 0.1 6.3-0.2 6.3-0.1 6.3 0.9 6.4-1 6.3-0.4 6.3-1.5 6.3-0.5 6.4-0.6 6.3 2.1 6.3-3 6.3-2.3 6.4 0.6 6.3 0.9 6.3 1.7 6.3-0.9 6.3 0.6 6.4-4.1 6.3-0.5 6.3 1.3 6.3-4.1 6.4 0.7 6.3-1.1 6.3 2.5 6.3-1.1 6.4-1.2 6.3-0.5 6.3-4.1 6.3 1.3 6.4 0.6 6.3-5.5 6.3 0.5 6.3-2.8 6.4 4.1 6.3 4.3 6.3-0.7" stroke="#619CFF"/>
<path d="M430.3 468l6.3 2.8 6.3 1.3 6.4 0.7 6.3-0.1 6.3 0.3 6.3 0.5 6.4 0.9 6.3-2 6.3-0.2 6.3 0.7 6.4 0.4 6.3-1 6.3 1 6.3-1.2 6.4-1.6 6.3 2.7 6.3-0.7 6.3-1.6 6.3-1.4 6.4 0 6.3 0.8 6.3 1.3 6.3-1 6.4 3.5 6.3-1.4 6.3-3.5 6.3 0.4 6.4 0.5 6.3-3.5 6.3 2.4 6.3-2 6.4-1.1 6.3 0.7 6.3 0.1 6.3 1.7 6.4-4.9 6.3 1.6 6.3 1.3" stroke="#619CFF"/>
<path d="M430.3 467.1l6.3 3.3 6.3 0 6.4-0.7 6.3-0.7 6.3-2.4 6.3 0.1 6.4-2.1 6.3 1.6 6.3-0.4 6.3-6.8 6.4 0.4 6.3-4.5 6.3-4.7 6.3 1.1 6.4 0.8 6.3-3.9 6.3-5.1 6.3-5.9 6.3-1.9 6.4 4.5 6.3-8.9 6.3 5 6.3-3.6 6.4-2 6.3-0.9 6.3 3.3 6.3-2 6.4-9.2 6.3-2.3 6.3-9.7 6.3 1.3 6.4 0.6 6.3-5.1 6.3 3.5 6.3-11 6.4-0.9 6.3-8.7 6.3 8.4" stroke="#00BA38"/>
<path d="M430.3 469.5l6.3-0.2 6.3-2.6 6.4-4.2 6.3-4.2 6.3-12.5 6.3-4.6 6.4-5.5 6.3-9.3 6.3-1.8 6.3-5.9 6.4-10.9 6.3-2.5 6.3-9.9 6.3-13.7 6.4 2.5 6.3-8.3 6.3-9.5 6.3 2.6 6.3-9.7 6.4-5.1 6.3 1.4 6.3-8.1 6.3-7.5 6.4-5.5 6.3 0.3 6.3-7 6.3-0.2 6.4-1.2 6.3 0.6 6.3-2.4 6.3-4.4 6.4-1.2 6.3-4.2 6.3 0.1 6.3-0.1 6.4-5.5 6.3 3.3 6.3-1.3" stroke="#00BA38"/>
<path d="M430.3 467.2l6.3 2.1 6.3 0.8 6.4-1.1 6.3-2.4 6.3-3 6.3-0.4 6.4-2.5 6.3 0.3 6.3-2.9 6.3-7.8 6.4-9.7 6.3-1.1 6.3-3.7 6.3-9.7 6.4 4.1 6.3 1.4 6.3-13.7 6.3-1.8 6.3-1.7 6.4-2.8 6.3-9 6.3 2.3 6.3-7.6 6.4 3.1 6.3 1.5 6.3-9.2 6.3-5.4 6.4-4.4 6.3 1.8 6.3-0.6 6.3-6.5 6.4-9.8 6.3-2.9 6.3-1.3 6.3-2.9 6.4-5.1 6.3 6.1 6.3-4.9" stroke="#619CFF"/>
<path d="M430.3 476.2l6.3-1.7 6.3-1.2 6.4-1.1 6.3-1 6.3-2.9 6.3-1.1 6.4-1.4 6.3 0.2 6.3-2.8 6.3-3.3 6.4 2.9 6.3-4.1 6.3-6.1 6.3 4 6.4-1.6 6.3-5.9 6.3-7.2 6.3 3.8 6.3-3.6 6.4 5.9 6.3-0.4 6.3-5.7 6.3-5.1 6.4 1.1 6.3-8.4 6.3 0.6 6.3 6.5 6.4-9.2 6.3-3.9 6.3-2.8 6.3 6.6 6.4-1.8 6.3-7.1 6.3-0.3 6.3-11 6.4 7.1 6.3 1.1 6.3-11.3" stroke="#00BA38"/>
<path d="M430.3 470.1l6.3 1.8 6.3 0 6.4 0 6.3-0.7 6.3 0.9 6.3-1.1 6.4 0.2 6.3-2.1 6.3-2.2 6.3-1.6 6.4-1.3 6.3 1 6.3-3 6.3 0.4 6.4-4.8 6.3 1.1 6.3-3.9 6.3 1.7 6.3-3 6.4-0.8 6.3 3.6 6.3-5.9 6.3 1.8 6.4 2.2 6.3-6.1 6.3-6 6.3-1.6 6.4 3.5 6.3 3 6.3 3.2 6.3-6.9 6.4-3.5 6.3-3.3 6.3-7 6.3 1.9 6.4 2.8 6.3-0.1 6.3-1.6" stroke="#F8766D"/>
<path d="M430.3 473.6l6.3 0 6.3-2 6.4-2.8 6.3-1.9 6.3-4.4 6.3-2.4 6.4 0.8 6.3-3.1 6.3-4.8 6.3-3.4 6.4-8.7 6.3-4.8 6.3 4.9 6.3-9.4 6.4-10.8 6.3-5 6.3 2.3 6.3 0.1 6.3 3.5 6.4-10.6 6.3-7.7 6.3 0.5 6.3-4.3 6.4-11.3 6.3 0 6.3-6.4 6.3-0.3 6.4 4 6.3-10.8 6.3-2.7 6.3-5.3 6.4 1.2 6.3-0.9 6.3-5.1 6.3-9.5 6.4-0.8 6.3-1.9 6.3 2.9" stroke="#619CFF"/>
<path d="M430.3 469.6l6.3 2 6.3-0.8 6.4-0.3 6.3-1.6 6.3-0.6 6.3-1.9 6.4-7.2 6.3-2.2 6.3-4 6.3-3.5 6.4-0.6 6.3-4 6.3-1.9 6.3-6.5 6.4 2.4 6.3-8.7 6.3-10.4 6.3-7.2 6.3-4.7 6.4-1.6 6.3 3.1 6.3-9.6 6.3-3.9 6.4-2.7 6.3 3 6.3-8.4 6.3-9.3 6.4-2.2 6.3 1.1 6.3-5.1 6.3-1.5 6.4-3.2 6.3-5.7 6.3-1.7 6.3-1.3 6.4-3.4 6.3 1.9 6.3-0.5" stroke="#F8766D"/>
<path d="M430.3 472.9l6.3-0.4 6.3-0.9 6.4-2.2 6.3-2.5 6.3-2.9 6.3 0 6.4-2.3 6.3-3.4 6.3-8.7 6.3-2.9 6.4 2.9 6.3-10.8 6.3-7.1 6.3-0.9 6.4-10.4 6.3-1 6.3-4.3 6.3-6.6 6.3-0.5 6.4 1.9 6.3-1.1 6.3-2.5 6.3-6.7 6.4-4.3 6.3-1.7 6.3-13.9 6.3-1.6 6.4-2.9 6.3-0.3 6.3-4.3 6.3-1.8 6.4-0.2 6.3-4.6 6.3 3.7 6.3-6.2 6.4-5.1 6.3-3.2 6.3-0.4" stroke="#00BA38"/>
<path d="M430.3 475.1l6.3-3.2 6.3-2.7 6.4-8.1 6.3-4 6.3-6.3 6.3-10.7 6.4-3.4 6.3-6 6.3-8.6 6.3-2.9 6.4-10.6 6.3-5.3 6.3-4.3 6.3-3.6 6.4-10.8 6.3 3.7 6.3-8.7 6.3-5.5 6.3-10.3 6.4-13.5 6.3 0.3 6.3-5.3 6.3 5.1 6.4-10 6.3 3.1 6.3-2.7 6.3-4.1 6.4 0.4 6.3-7.9 6.3-4.8 6.3-1.9 6.4 4.3 6.3 1 6.3-4.7 6.3-7.7 6.4 5.7 6.3-1.3 6.3-6.8" stroke="#00BA38"/>
<path d="M430.3 468.1l6.3 2.3 6.3-0.4 6.4 0 6.3-2.7 6.3 0 6.3-0.6 6.4-3.5 6.3-0.8 6.3-2 6.3-1 6.4 0.2 6.3-3.7 6.3-5.8 6.3-4.7 6.4 0.2 6.3-2.9 6.3 1.5 6.3-3.9 6.3-3.1 6.4-2.9 6.3-3.5 6.3-4 6.3-6.5 6.4-2.2 6.3-1.5 6.3 4.7 6.3-2.1 6.4-6 6.3-3.9 6.3-5.6 6.3 7 6.4-7.9 6.3-3.9 6.3-1 6.3 0 6.4-6.1 6.3-1.9 6.3-4.9" stroke="#F8766D"/>
<path d="M430.3 471.8l6.3 1.2 6.3-0.2 6.4 0.8 6.3-2 6.3-0.1 6.3-1.2 6.4-5.4 6.3 2.4 6.3 0 6.3-3.6 6.4-1.5 6.3-3.7 6.3-1.4 6.3-1.9 6.4-4.3 6.3 2.7 6.3-1.4 6.3-4.6 6.3-1.1 6.4 1.6 6.3 4.6 6.3-10.3 6.3-2.9 6.4 1.1 6.3-5.2 6.3-7.1 6.3 4.3 6.4-5.3 6.3 0.6 6.3-2.3 6.3-0.2 6.4-2.9 6.3-5.6 6.3-2.4 6.3-3.7 6.4-1.8 6.3-4.4 6.3-4.6" stroke="#00BA38"/>
<path d="M430.3 470.1l6.3-4.1 6.3-9.9 6.4-11.6 6.3-15.2 6.3-7.2 6.3-11.6 6.4-14.4 6.3-18.6 6.3-11.3 6.3-13.4 6.4-9.8 6.3 2.1 6.3-7.8 6.3-4.9 6.4-5.4 6.3-4.5 6.3-3.1 6.3-2.3 6.3-2.8 6.4-0.4 6.3-4.1 6.3 0.3 6.3-1.4 6.4-0.5 6.3 0.8 6.3-0.8 6.3-1.5 6.4-0.7 6.3 0.4 6.3 0 6.3 0.2 6.4 1 6.3-0.8 6.3-0.3 6.3-0.5 6.4 0 6.3 0 6.3 0.2" stroke="#619CFF"/>
<path d="M430.3 467.8l6.3-1.5 6.3-5.8 6.4-5.9 6.3-6.3 6.3-6 6.3-11.3 6.4-3.9 6.3-10.3 6.3-19.7 6.3-0.1 6.4-7 6.3-12.9 6.3-6.8 6.3-3.3 6.4-8 6.3-3.8 6.3-5.3 6.3-1.3 6.3-8.5 6.4-3.9 6.3-3.1 6.3-4 6.3-2.2 6.4-0.9 6.3-3.2 6.3-0.6 6.3 3 6.4-4.1 6.3-3.3 6.3-2.7 6.3-2.2 6.4-3.1 6.3-1.6 6.3-0.9 6.3 2.3 6.4-1.7 6.3 3.9 6.3-0.8" stroke="#00BA38"/>
<path d="M430.3 471.3l6.3 0.8 6.3-2.4 6.4-1.7 6.3-4.7 6.3 2.8 6.3-1.9 6.4-9.5 6.3-2.7 6.3-3.7 6.3-3.1 6.4-3.7 6.3-4.9 6.3 1.2 6.3-5.1 6.4-9.6 6.3-1.4 6.3 0.2 6.3-5.3 6.3-7.9 6.4 0.1 6.3-2.4 6.3-6 6.3-5.7 6.4-6.7 6.3 2.6 6.3-3.5 6.3-6.2 6.4 8.5 6.3-8.2 6.3-5.8 6.3-1.4 6.4 0.9 6.3-7.6 6.3-6.7 6.3 1.7 6.4 0.4 6.3-2.7 6.3-9.3" stroke="#F8766D"/>
<path d="M430.3 474.4l6.3-0.5 6.3 0 6.4-0.9 6.3 0.3 6.3-0.7 6.3 0.5 6.4-1.2 6.3-2.4 6.3-0.6 6.3 0.3 6.4-2.4 6.3-1.8 6.3 1.9 6.3 3.2 6.4-2.2 6.3-2.5 6.3-1.1 6.3-0.2 6.3-4.5 6.4 0.3 6.3-3.9 6.3-2.1 6.3 3.2 6.4-2.2 6.3-2.5 6.3-0.7 6.3 0.6 6.4-0.7 6.3 0.2 6.3-7.8 6.3 1.6 6.4-3.6 6.3 2.1 6.3 2.2 6.3 1.1 6.4-2.8 6.3 5.6 6.3-4.5" stroke="#00BA38"/>
<path d="M430.3 472.6l6.3-1.1 6.3-3 6.4-5 6.3-2.4 6.3-5.3 6.3-2.9 6.4-8.3 6.3-8.5 6.3-6.4 6.3 0.7 6.4-1.2 6.3-7.6 6.3-7.7 6.3-11.2 6.4-6.7 6.3-6.5 6.3 7.1 6.3-11 6.3-9.6 6.4-2.7 6.3-0.1 6.3-4.6 6.3-16.5 6.4 1.8 6.3-4.5 6.3 0.8 6.3-3.4 6.4-2.5 6.3-6.1 6.3-1.4 6.3-0.9 6.4 1.5 6.3-5 6.3-2.8 6.3 2.3 6.4-3.4 6.3 0.3 6.3-7" stroke="#619CFF"/>
<path d="M430.3 471.1l6.3 1.4 6.3 0.3 6.4-0.2 6.3 0.5 6.3-0.2 6.3 0.8 6.4-2.3 6.3 1.7 6.3-0.8 6.3 0.3 6.4-1.5 6.3 1.8 6.3 1.4 6.3-2.7 6.4 1.4 6.3-2.6 6.3 0.1 6.3-0.5 6.3 1.9 6.4-1.7 6.3-0.3 6.3-1.8 6.3 0.4 6.4-0.2 6.3-1.7 6.3-2.2 6.3 4.7 6.4-0.6 6.3-2.4 6.3 0.9 6.3 1.6 6.4-0.4 6.3-1.7 6.3-1 6.3 0 6.4-3.1 6.3-1.4 6.3 0.6" stroke="#00BA38"/>
<path d="M430.3 472.9l6.3 0.5 6.3 0.3 6.4 0.1 6.3-0.4 6.3-0.4 6.3-0.3 6.4 0.4 6.3 0.7 6.3 0 6.3-0.8 6.4 0.3 6.3-1 6.3 1 6.3-0.7 6.4 1.5 6.3-0.4 6.3-0.8 6.3-0.2 6.3 0 6.4 1.2 6.3-0.8 6.3 0.1 6.3 0.3 6.4-0.8 6.3 0.7 6.3 0 6.3-3.1 6.4 1 6.3-0.8 6.3 1.7 6.3 0.4 6.4 1.1 6.3 0.3 6.3 0 6.3-2.2 6.4 1 6.3 0.2 6.3-0.3" stroke="#F8766D"/>
<path d="M430.3 475.9l6.3-2.2 6.3-2.4 6.4-3.8 6.3-3.7 6.3-1.2 6.3-6 6.4-4.4 6.3-1 6.3-6.8 6.3-9.2 6.4-3 6.3-12 6.3-8.7 6.3 1.4 6.4-6.6 6.3-11.6 6.3 2.6 6.3-0.2 6.3-5.4 6.4-0.8 6.3-3.6 6.3-10.7 6.3-3.5 6.4-6.6 6.3-5.6 6.3 0.8 6.3-4.5 6.4-3.4 6.3-1.7 6.3-2.1 6.3-6.8 6.4-2.2 6.3-4.1 6.3-5.1 6.3-3 6.4 4.5 6.3-0.9 6.3-3.4" stroke="#F8766D"/>
<path d="M430.3 471.1l6.3-1.8 6.3-5.4 6.4-7 6.3-9.3 6.3-7.6 6.3-11 6.4-13.6 6.3-0.8 6.3-10.5 6.3-6.1 6.4-13.9 6.3-9.4 6.3-5.4 6.3-10.8 6.4-3.3 6.3 4.5 6.3-9 6.3-8.3 6.3-5.9 6.4-3.1 6.3-8.7 6.3 2.7 6.3-6.3 6.4-1.2 6.3-0.6 6.3-2 6.3-4.3 6.4-0.9 6.3 3.8 6.3-5.5 6.3 4.3 6.4-3.5 6.3-1.6 6.3-2 6.3 0.8 6.4 1.6 6.3-1.6 6.3 0.1" stroke="#619CFF"/>
<path d="M430.3 476.4l6.3-2.3 6.3-3.4 6.4-3.6 6.3-5.1 6.3-0.4 6.3-0.9 6.4-5.1 6.3-5.1 6.3-3.5 6.3-8 6.4-0.4 6.3-5 6.3-7.5 6.3-2.6 6.4-8.1 6.3-7.7 6.3 0.3 6.3 3.2 6.3-12.2 6.4 3.4 6.3-4.4 6.3 0.9 6.3-4.9 6.4-2.4 6.3-8 6.3 1.3 6.3-4.2 6.4-6.2 6.3-11.2 6.3 2 6.3 2.6 6.4-3.2 6.3-16 6.3 7.7 6.3 1.2 6.4-7.7 6.3-4 6.3-4.3" stroke="#00BA38"/>
<path d="M430.3 469.9l6.3 0.4 6.3-2.6 6.4-1.9 6.3-3.9 6.3-2.4 6.3-6.6 6.4-2.9 6.3-5.1 6.3-4.2 6.3-11.3 6.4 2.1 6.3-10.4 6.3 5.2 6.3-7.5 6.4-7.8 6.3-0.7 6.3-9 6.3-7.8 6.3 1.5 6.4-2.8 6.3-1.8 6.3 1.5 6.3-6.4 6.4-8 6.3-6.3 6.3-0.7 6.3-0.7 6.4-3.8 6.3-2.6 6.3-8.1 6.3-1.9 6.4 7.5 6.3-7.8 6.3-6.9 6.3 7.5 6.4-9.5 6.3-2.3 6.3-6.2" stroke="#00BA38"/>
<path d="M430.3 476.5l6.3-4.5 6.3-8.8 6.4-8.8 6.3-9.3 6.3-11.9 6.3-11.4 6.4-11.3 6.3-17.4 6.3-1.2 6.3-7.6 6.4-12.2 6.3-8.9 6.3-9.2 6.3-9.1 6.4-4.4 6.3-0.7 6.3-13.8 6.3 0.2 6.3-1.8 6.4-2.7 6.3-0.2 6.3-1.9 6.3-3.6 6.4-2.6 6.3-2.1 6.3 1.4 6.3-3.2 6.4 1.4 6.3-3.2 6.3-1.7 6.3 2.3 6.4-1.2 6.3-1.1 6.3 1.1 6.3-1.1 6.4 1.5 6.3-0.3 6.3-1" stroke="#00BA38"/>
<path d="M430.3 477.3l6.3-2.4 6.3-1.2 6.4-3.5 6.3-4.7 6.3-1.7 6.3-3.6 6.4-1.2 6.3-1.9 6.3-5.7 6.3 2.2 6.4-8 6.3-4.3 6.3-6.1 6.3 0.1 6.4-7.7 6.3-3.7 6.3-3.9 6.3 3.1 6.3-1.2 6.4-1 6.3-9.2 6.3-1.1 6.3-9.1 6.4-0.8 6.3 0.7 6.3-5.3 6.3-7.3 6.4-1.5 6.3-3.3 6.3-4.5 6.3-1.2 6.4-0.9 6.3-5.5 6.3 4.4 6.3-5.8 6.4-2.1 6.3-5.4 6.3-4.9" stroke="#00BA38"/>
<path d="M430.3 469.4l6.3 1.9 6.3 0.3 6.4 0.6 6.3 1.7 6.3-1.3 6.3-2 6.4-0.1 6.3 1.1 6.3-0.6 6.3-0.6 6.4-4.3 6.3 1 6.3 2.1 6.3-0.8 6.4-4.9 6.3 7 6.3-0.2 6.3-2.8 6.3-3.1 6.4 2.2 6.3-7.1 6.3 2 6.3 1.8 6.4-2.1 6.3 3.3 6.3-4 6.3-8.4 6.4 5.1 6.3-2.5 6.3-1.2 6.3 0.5 6.4-6.6 6.3-8.1 6.3 11.4 6.3-1.9 6.4 1.2 6.3-2.2 6.3-5.4" stroke="#619CFF"/>
<path d="M430.3 474.1l6.3-0.1 6.3-0.2 6.4-0.3 6.3 0 6.3 1.2 6.3-1.2 6.4 0 6.3-0.3 6.3-0.7 6.3 0.8 6.4-0.2 6.3 1.7 6.3-2.2 6.3 0.5 6.4 0.2 6.3 0.1 6.3-0.8 6.3 1.9 6.3-3 6.4 0.7 6.3 0.4 6.3-1.5 6.3 0 6.4 0.3 6.3 1.6 6.3-1.8 6.3 0.3 6.4 1.3 6.3-0.4 6.3-0.8 6.3 1 6.4-1.8 6.3 1.2 6.3-1.6 6.3 0.2 6.4-0.3 6.3 1.9 6.3-1.1" stroke="#F8766D"/>
<path d="M430.3 469.5l6.3 1.6 6.3 0.8 6.4-1.1 6.3-2.6 6.3-0.2 6.3-0.9 6.4-0.5 6.3-5.7 6.3-3.1 6.3-3.8 6.4-8.9 6.3-1.8 6.3-1.2 6.3-6.5 6.4 1 6.3-3.9 6.3-1.4 6.3-4.6 6.3 2.5 6.4-4.6 6.3-1.9 6.3 1.5 6.3-2.6 6.4-3.3 6.3-3 6.3-15.2 6.3-9.3 6.4-4.8 6.3 1.7 6.3 1.1 6.3 3.2 6.4-3.7 6.3-17.4 6.3 5.9 6.3 1.8 6.4-7.4 6.3 3 6.3-11" stroke="#619CFF"/>
<path d="M430.3 472.5l6.3 0.1 6.3 0.2 6.4-1.1 6.3-2.3 6.3 0.9 6.3-1.8 6.4-0.1 6.3-7.7 6.3 3.1 6.3 0.2 6.4-7.1 6.3-3.7 6.3 1.6 6.3-6.4 6.4-4.9 6.3 2.1 6.3-5.8 6.3-7.9 6.3 3.2 6.4 5.2 6.3-5.5 6.3-14.2 6.3 12.1 6.4-8.5 6.3-0.9 6.3-8.8 6.3 0.3 6.4-3.2 6.3 0.4 6.3-2.5 6.3-8.8 6.4-7.1 6.3-2.3 6.3 5.7 6.3-0.2 6.4-4.2 6.3-4 6.3 2.6" stroke="#00BA38"/>
<path d="M430.3 470.3l6.3 0.9 6.3 0 6.4-1.4 6.3-1.7 6.3-0.4 6.3-3 6.4-0.8 6.3-10.1 6.3 0.7 6.3 1.6 6.4-0.1 6.3-11.1 6.3-3.2 6.3-2.6 6.4 2.9 6.3-4.2 6.3-1.2 6.3-11.4 6.3 0.2 6.4-12 6.3-0.5 6.3 0.8 6.3-9 6.4 9.2 6.3-4.8 6.3-5.6 6.3-10.3 6.4-5.4 6.3-0.8 6.3 6.7 6.3-5.5 6.4-1.3 6.3-12.5 6.3 1.5 6.3-5.9 6.4-9 6.3 3.5 6.3-3.9" stroke="#F8766D"/>
<path d="M430.3 466.9l6.3 2.9 6.3 1.6 6.4 0.1 6.3 0.6 6.3-0.2 6.3-2.4 6.4 0.4 6.3 1.9 6.3-1.8 6.3-1.1 6.4 1.2 6.3-3.8 6.3-3.2 6.3 1 6.4-3.7 6.3 4.9 6.3-5.7 6.3-0.8 6.3-6.8 6.4 2.7 6.3 0 6.3-0.8 6.3-0.3 6.4-0.8 6.3-4.3 6.3-1 6.3-1.4 6.4-1.3 6.3 1.7 6.3-8.7 6.3 5.7 6.4-5.5 6.3 0.9 6.3-4.7 6.3 1.8 6.4-5 6.3-0.4 6.3-3.6" stroke="#F8766D"/>
<path d="M430.3 474.2l6.3-0.3 6.3 0 6.4-0.5 6.3 0.9 6.3-0.3 6.3-0.7 6.4-0.7 6.3-1 6.3 0.3 6.3-0.3 6.4-0.1 6.3 1.2 6.3-0.9 6.3-2.6 6.4-0.2 6.3 1.2 6.3-0.3 6.3-3 6.3-1.1 6.4-1.1 6.3 0.3 6.3 2.3 6.3 0.6 6.4 2.5 6.3-4.9 6.3-1.7 6.3-2.9 6.4 4.9 6.3-4 6.3 0.9 6.3 0.9 6.4-0.4 6.3 2.8 6.3-1.9 6.3 1.2 6.4-1 6.3-2.3 6.3 0.6" stroke="#F8766D"/>
<path d="M430.3 472.2l6.3-6 6.3-11.9 6.4-18.5 6.3-15.9 6.3-12.1 6.3-16.4 6.4-16.3 6.3-14.5 6.3-9.4 6.3-6.1 6.4-10.4 6.3-0.2 6.3-10.7 6.3-0.1 6.4-3.9 6.3-2.3 6.3-4.4 6.3 0.8 6.3-1 6.4-5 6.3 0 6.3-1.9 6.3 1.6 6.4 0.6 6.3-0.2 6.3-1.6 6.3-0.4 6.4 0 6.3 0 6.3 0 6.3 0 6.4 0 6.3 0.5 6.3-0.5 6.3 0 6.4 0 6.3 0 6.3 0.2" stroke="#619CFF"/>
<path d="M430.3 474.6l6.3-2 6.3-1.7 6.4-3.1 6.3-7.3 6.3-4.5 6.3-4.6 6.4-5 6.3-7.8 6.3 2.1 6.3-4.9 6.4-7.7 6.3-1.3 6.3-6.3 6.3-1.6 6.4-7.1 6.3-6 6.3-6.4 6.3-4.6 6.3-3.4 6.4 7.7 6.3-10.8 6.3-4.6 6.3-4.1 6.4-0.3 6.3-9.2 6.3-2.9 6.3-0.8 6.4-4.4 6.3-5.2 6.3 2.4 6.3-8.6 6.4-1.7 6.3-4 6.3 1.5 6.3-1.4 6.4 0.1 6.3-2.7 6.3-5.4" stroke="#00BA38"/>
<path d="M430.3 468.9l6.3 2.4 6.3 0.1 6.4-0.9 6.3-2 6.3-1.5 6.3-0.6 6.4-4.6 6.3-1.9 6.3-3 6.3 2.1 6.4-1.8 6.3-2.8 6.3-3.6 6.3 2.7 6.4-12.1 6.3-1.2 6.3-6.2 6.3-3.9 6.3-6.1 6.4-0.7 6.3-1.6 6.3 1.7 6.3-5.1 6.4-10.4 6.3 9.1 6.3-3.7 6.3-7.4 6.4-10.1 6.3 6.4 6.3-2.9 6.3-5.5 6.4-16.4 6.3 10.2 6.3-2 6.3-6.4 6.4 2.4 6.3-5.8 6.3-3.6" stroke="#F8766D"/>
<path d="M430.3 471.1l6.3 1.3 6.3 0.7 6.4 0.2 6.3 0.3 6.3-0.1 6.3 0.6 6.4-0.3 6.3 0.5 6.3-1 6.3 0.4 6.4 0.2 6.3 0 6.3 0.1 6.3 0.1 6.4-1.5 6.3-0.5 6.3-0.7 6.3 1.3 6.3-0.6 6.4 2.2 6.3-2.7 6.3 1.4 6.3-2.5 6.4-0.2 6.3-2.1 6.3 1.4 6.3 1.9 6.4-3.5 6.3 0 6.3 0.1 6.3-1.1 6.4 2.2 6.3 4.1 6.3-2.1 6.3-0.2 6.4-2.1 6.3 0.9 6.3-1.5" stroke="#F8766D"/>
<path d="M430.3 470.9l6.3 1.5 6.3 0.5 6.4 0 6.3-1.8 6.3-0.2 6.3 1.3 6.4-3.5 6.3 2.5 6.3 0.1 6.3-0.7 6.4-2 6.3-5.6 6.3 2.4 6.3-1.4 6.4 2.9 6.3-1.8 6.3-7.6 6.3-0.5 6.3-0.1 6.4-2.2 6.3 0.7 6.3-0.4 6.3 3.2 6.4 1.4 6.3-2.5 6.3-2.5 6.3-0.2 6.4-5.3 6.3-5.7 6.3 2.8 6.3 4.8 6.4-0.3 6.3-8.2 6.3-2.6 6.3 0.2 6.4-2.2 6.3-3.3 6.3 1.8" stroke="#F8766D"/>
<path d="M430.3 473.7l6.3 0.2 6.3 0 6.4 0 6.3 0.3 6.3 0.2 6.3 0.2 6.4-1 6.3 0.1 6.3-0.4 6.3 0.1 6.4-0.5 6.3-0.3 6.3 0.5 6.3 0.6 6.4-0.4 6.3 0.2 6.3-1.4 6.3 0.7 6.3 0.3 6.4-0.1 6.3-1.5 6.3 1.7 6.3-0.2 6.4-0.5 6.3-2.3 6.3 1.9 6.3 0.4 6.4 0.9 6.3-2.9 6.3 0.2 6.3 0.3 6.4-0.7 6.3 0.8 6.3 0.7 6.3 1.6 6.4-1.5 6.3 0.5 6.3-2.9" stroke="#619CFF"/>
<path d="M430.3 470.3l6.3 0.7 6.3-2.7 6.4-5.1 6.3-2.9 6.3-5 6.3 0.2 6.4-5.7 6.3-3.5 6.3-12.2 6.3-9.5 6.4 0.5 6.3-5.8 6.3-3.9 6.3-7.3 6.4-1.9 6.3-13.6 6.3-1 6.3-2.6 6.3-4.4 6.4-7.6 6.3-11.8 6.3-2.6 6.3-3 6.4-0.5 6.3-1.9 6.3-7.5 6.3-6.6 6.4-5 6.3 0.6 6.3 2.4 6.3-3.1 6.4-4.5 6.3-3.9 6.3-1.9 6.3-4.6 6.4-1.1 6.3-1.8 6.3-2.7" stroke="#00BA38"/>
<path d="M430.3 470l6.3 1.5 6.3 0.6 6.4-0.1 6.3-1.3 6.3-1.2 6.3-2.4 6.4 0.9 6.3-1.8 6.3-0.6 6.3-1.8 6.4-3.8 6.3-0.4 6.3 1.5 6.3-1.2 6.4-1.1 6.3-2.3 6.3-0.6 6.3-1.8 6.3-2.6 6.4-3.5 6.3 1.4 6.3-3.6 6.3-2.2 6.4-4.6 6.3-0.6 6.3-2.3 6.3-1.1 6.4-4.7 6.3 1.9 6.3 4.3 6.3-6.6 6.4 1.7 6.3 4 6.3-10.2 6.3-2.3 6.4-2.8 6.3-3.1 6.3 0.3" stroke="#F8766D"/>
<path d="M430.3 476.5l6.3-1.4 6.3-1.5 6.4-1 6.3-0.4 6.3-3 6.3-0.1 6.4 1.2 6.3-5.3 6.3-0.5 6.3-3 6.4-1.9 6.3-0.6 6.3-1.2 6.3 4.1 6.4-5.7 6.3-0.9 6.3-6.6 6.3 0.6 6.3-1.6 6.4-4.3 6.3 1.4 6.3-2.4 6.3-3 6.4-5.5 6.3 3.6 6.3-8.5 6.3-0.7 6.4-0.3 6.3-4.8 6.3-5.6 6.3-3.7 6.4 6.1 6.3-9.1 6.3 1 6.3-6.3 6.4 6.3 6.3-3.1 6.3-2.6" stroke="#F8766D"/>
<path d="M430.3 473.6l6.3-3.4 6.3-9.6 6.4-8.3 6.3-13.6 6.3-7 6.3-14.1 6.4-3.5 6.3-18.3 6.3-9.4 6.3-3.9 6.4-6.9 6.3-11.4 6.3-9.3 6.3-2.6 6.4-11.4 6.3-6.3 6.3-4.4 6.3-5.2 6.3 4.1 6.4-9.8 6.3 1.2 6.3-2.3 6.3-1.9 6.4-3.9 6.3-1.4 6.3 0.2 6.3-1.9 6.4 0.6 6.3 0.9 6.3-2.5 6.3-1 6.4-0.9 6.3 0.8 6.3-1.2 6.3 1.3 6.4-1.3 6.3 0 6.3 0.3" stroke="#619CFF"/>
<path d="M430.3 476.6l6.3-1.8 6.3-0.7 6.4-1.1 6.3-2.2 6.3-1.3 6.3-1.2 6.4 0.7 6.3-4.5 6.3 1.9 6.3-6.2 6.4 3.3 6.3-8.2 6.3 1 6.3 0.1 6.4-6.3 6.3 1.6 6.3-4.4 6.3-2.3 6.3-0.4 6.4-0.1 6.3-3.7 6.3 1.3 6.3-5.4 6.4-6.4 6.3 2.5 6.3-4.3 6.3-2 6.4 2 6.3-6.2 6.3-16.4 6.3 11.1 6.4 1.7 6.3-11.5 6.3-5.8 6.3 0.1 6.4 2.1 6.3-0.1 6.3-1.5" stroke="#00BA38"/>
<path d="M430.3 473.9l6.3-1.2 6.3-2.8 6.4-2.5 6.3-4.2 6.3-1.9 6.3-3.5 6.4-4.6 6.3-5.4 6.3-4.5 6.3-7.7 6.4 2.2 6.3-3.9 6.3-6.6 6.3-8.8 6.4-2 6.3 0.9 6.3-9.8 6.3 0.2 6.3-4 6.4-10.4 6.3-5.2 6.3 5.8 6.3-13.6 6.4-1 6.3-3.5 6.3 12 6.3-9.1 6.4-7.3 6.3-2 6.3-3.2 6.3-5.5 6.4-4.8 6.3-3.7 6.3 3.6 6.3-5.6 6.4-1.6 6.3-13.2 6.3 2.9" stroke="#00BA38"/>
<path d="M430.3 476.3l6.3-8.5 6.3-11.2 6.4-17.1 6.3-20.9 6.3-15.5 6.3-17.1 6.4-12.7 6.3-13.3 6.3-9.7 6.3-4.7 6.4-9 6.3-10 6.3-5.4 6.3-5.2 6.4-1.3 6.3-3.6 6.3-3.5 6.3 1.3 6.3-0.7 6.4-1.4 6.3-0.8 6.3 0 6.3 0 6.4 0.1 6.3-0.1 6.3 0 6.3 0 6.4 0 6.3 0 6.3 0.4 6.3-0.1 6.4 0 6.3-0.3 6.3 0.1 6.3 0.1 6.4-0.2 6.3 0 6.3 0" stroke="#619CFF"/>
<path d="M430.3 470.9l6.3 1.2 6.3 0 6.4-1.7 6.3-0.3 6.3-0.4 6.3-0.5 6.4-2.5 6.3-2 6.3-3.2 6.3-0.7 6.4-3.5 6.3-0.2 6.3-6.5 6.3 0.9 6.4-3.3 6.3-1.8 6.3 3.3 6.3-8.2 6.3 0.7 6.4-6 6.3 6.8 6.3 0.1 6.3-1 6.4-2.5 6.3-7.8 6.3-5.3 6.3 0.4 6.4-4 6.3-1.5 6.3-7.9 6.3-3.9 6.4-1.2 6.3-3.4 6.3-7.1 6.3 0.7 6.4 7.7 6.3-4.7 6.3-2.7" stroke="#F8766D"/>
<path d="M430.3 477.2l6.3-5.4 6.3-5.1 6.4-11.2 6.3-7 6.3-11.2 6.3-7.4 6.4-16.9 6.3-4.9 6.3-10.3 6.3-7.7 6.4-5.8 6.3-12.7 6.3-7 6.3-6.3 6.4-3 6.3-8 6.3 0.3 6.3-8.1 6.3-3.2 6.4 5.8 6.3-6.2 6.3-6.9 6.3-10.9 6.4-2.1 6.3 3 6.3-4.6 6.3 2.6 6.4-4.9 6.3 1.1 6.3 0.6 6.3 0.7 6.4-2.9 6.3-3 6.3 0.3 6.3-2.9 6.4 1.8 6.3-1.5 6.3-0.2" stroke="#00BA38"/>
<path d="M430.3 477.1l6.3-7.8 6.3-11.2 6.4-18.7 6.3-12 6.3-15.5 6.3-21 6.4-3 6.3-13.9 6.3-8.2 6.3-14.6 6.4-8.2 6.3-3.6 6.3-11.5 6.3-2.9 6.4 1.2 6.3-7.9 6.3 0.9 6.3-6.5 6.3-3.4 6.4 3.7 6.3-2.7 6.3 0.3 6.3-0.5 6.4-1.6 6.3-1.2 6.3-1.3 6.3 0.5 6.4-0.1 6.3 1.5 6.3-1.6 6.3-0.3 6.4 0.3 6.3-0.1 6.3 1 6.3-1.2 6.4 0.1 6.3 0 6.3-0.1" stroke="#619CFF"/>
<path d="M430.3 471.7l6.3 1.1 6.3 0.3 6.4 0.7 6.3 0 6.3-1.8 6.3 1.9 6.4-1.2 6.3-0.6 6.3-3.5 6.3-4.3 6.4 1.5 6.3 5 6.3-3.4 6.3-3.6 6.4 2.4 6.3-3.6 6.3-0.9 6.3 0.7 6.3 5.1 6.4-2.1 6.3-7.8 6.3-3.4 6.3 4.7 6.4-3.8 6.3 4.7 6.3-2.9 6.3-7.2 6.4-1 6.3 1.7 6.3-0.4 6.3-9.3 6.4 3.5 6.3 0.5 6.3 0 6.3-3.3 6.4-0.1 6.3-0.5 6.3-3.2" stroke="#00BA38"/>
<path d="M430.3 468.6l6.3 1 6.3-1.1 6.4 0.8 6.3-4.7 6.3-1.7 6.3-3.2 6.4-2.8 6.3 0.1 6.3-6.4 6.3-2 6.4-7.6 6.3-2.7 6.3-6.2 6.3-0.2 6.4-1.5 6.3-11.5 6.3 3.3 6.3-12.5 6.3-6 6.4-0.5 6.3-4.1 6.3 0.6 6.3-6.6 6.4 4.1 6.3-10.9 6.3-2.5 6.3-4.3 6.4 3.3 6.3-12 6.3-9.5 6.3 2.6 6.4-1 6.3-10.2 6.3 1.5 6.3 1.2 6.4 5.2 6.3-13 6.3 1" stroke="#00BA38"/>
<path d="M430.3 474.6l6.3-10.4 6.3-13.7 6.4-16.8 6.3-19.4 6.3-22.4 6.3-13.3 6.4-13.8 6.3-12.8 6.3-10.5 6.3-10.9 6.4-8.1 6.3-1.5 6.3-3.9 6.3-3.9 6.4-3.4 6.3-2.8 6.3 0.1 6.3-0.6 6.3 1.5 6.4-1.3 6.3-0.2 6.3 0.2 6.3-0.6 6.4 0.8 6.3-0.5 6.3 0.6 6.3-0.6 6.4-0.3 6.3-0.1 6.3 0 6.3 0.3 6.4 0.1 6.3-0.4 6.3 0 6.3 0 6.4 0 6.3 0 6.3 0.6" stroke="#619CFF"/>
<path d="M430.3 470.6l6.3 1.2 6.3 0.3 6.4-1.6 6.3 1 6.3-4 6.3 0.7 6.4-0.6 6.3-5.8 6.3-7.1 6.3 0.5 6.4 3.5 6.3 3.3 6.3-6.7 6.3-3 6.4-0.7 6.3-3.2 6.3-0.8 6.3-6.9 6.3-0.7 6.4-1.5 6.3 5 6.3-8.9 6.3 1.8 6.4-9.3 6.3-1.7 6.3 5.6 6.3-6.6 6.4-0.3 6.3-8.9 6.3-3.9 6.3-5.4 6.4 4.2 6.3-5.7 6.3 4.5 6.3-7.4 6.4-1.6 6.3-4 6.3-1.8" stroke="#F8766D"/>
<path d="M430.3 472.4l6.3-4.1 6.3-7.2 6.4-7.3 6.3-12.1 6.3-6.4 6.3-10.4 6.4-9.2 6.3-12.4 6.3 2 6.3-7 6.4-18.1 6.3 0.9 6.3-12 6.3-0.8 6.4-13.4 6.3 0.1 6.3-12.9 6.3 2.8 6.3-6.7 6.4-7.6 6.3-6.8 6.3 1 6.3-1.9 6.4 1.9 6.3-2.2 6.3-5.1 6.3 0 6.4 1.2 6.3-3.2 6.3-3 6.3 1 6.4-3.7 6.3-1 6.3 1.9 6.3-2 6.4 2.6 6.3-0.5 6.3-3" stroke="#619CFF"/>
<path d="M430.3 469.3l6.3 2.1 6.3 0.4 6.4 0.4 6.3 0.8 6.3 0.2 6.3-1.5 6.4-1.8 6.3 1.4 6.3 0.8 6.3-2.5 6.4-1 6.3-5.8 6.3 3.9 6.3 0.3 6.4 0.4 6.3-1 6.3-1.9 6.3-4.1 6.3-1.2 6.4-1.7 6.3 3.1 6.3-0.7 6.3-4 6.4-0.7 6.3 0.9 6.3-1.7 6.3-4.6 6.4-3.3 6.3-3.1 6.3 2.8 6.3-6.4 6.4 4 6.3-1.2 6.3-2.9 6.3 3.7 6.4-2.5 6.3 0.1 6.3-8.7" stroke="#619CFF"/>
<path d="M430.3 472.8l6.3-4 6.3-7.4 6.4-8 6.3-16.1 6.3-11.5 6.3-12.4 6.4-10.3 6.3-11.4 6.3-10 6.3-9.4 6.4-12.3 6.3-1.5 6.3-7 6.3-1.5 6.4-15.9 6.3-2 6.3-2.9 6.3-4.8 6.3-1.8 6.4-4 6.3-3.3 6.3-0.6 6.3 0.1 6.4-2.8 6.3-2.3 6.3-1.7 6.3 1.2 6.4 1.4 6.3-1.6 6.3-2.1 6.3 0.4 6.4-0.6 6.3-0.2 6.3 0.6 6.3-1.1 6.4 0 6.3 0.1 6.3 0.1" stroke="#619CFF"/>
<path d="M430.3 472.8l6.3-0.2 6.3-1.1 6.4-1.1 6.3-1.8 6.3-6.6 6.3-2 6.4 1.8 6.3-10.7 6.3-5.9 6.3-1.4 6.4-9.6 6.3-2.9 6.3 3.5 6.3-5.9 6.4-5.4 6.3-7.2 6.3-0.4 6.3 2.3 6.3-10.8 6.4-11 6.3 7.5 6.3-5.7 6.3 1.1 6.4-7.2 6.3-7.5 6.3-0.5 6.3-8.3 6.4 2.6 6.3-6 6.3-8.3 6.3-3.5 6.4-9 6.3 5.1 6.3-7.9 6.3 0.5 6.4 2.8 6.3-5.7 6.3-6.4" stroke="#619CFF"/>
<path d="M430.3 471.4l6.3 1 6.3-0.3 6.4-0.1 6.3-0.9 6.3-0.3 6.3 0.9 6.4-0.7 6.3-2.4 6.3 0.9 6.3-1.8 6.4-1.7 6.3-3.8 6.3-3.2 6.3 6 6.4-4.6 6.3-5.7 6.3 5 6.3 0 6.3-7 6.4-0.5 6.3 0.8 6.3-2.9 6.3-3.6 6.4-0.3 6.3-2.1 6.3-1.3 6.3-2.1 6.4-1.2 6.3-2.3 6.3 0.1 6.3-5.5 6.4 2.1 6.3 0.2 6.3 2.2 6.3-2.9 6.4-5.4 6.3-1.5 6.3-4.6" stroke="#F8766D"/>
<path d="M430.3 477.3l6.3-1.5 6.3-0.7 6.4-1.4 6.3 0.5 6.3 0.1 6.3 0.1 6.4-0.1 6.3 0.1 6.3-0.7 6.3 0.2 6.4 0.1 6.3-0.9 6.3-1 6.3 0.1 6.4 0.2 6.3 0.5 6.3 0.3 6.3-0.4 6.3-1 6.4 1.1 6.3-0.6 6.3-0.3 6.3 0.4 6.4 1.8 6.3 1.2 6.3-2.7 6.3-2 6.4 1.6 6.3 0.6 6.3-2.6 6.3-0.3 6.4 0.7 6.3 1 6.3-2.7 6.3 1 6.4-2.5 6.3 1.2 6.3-0.6" stroke="#00BA38"/>
<path d="M430.3 476.6l6.3-2 6.3-2.2 6.4-3.1 6.3-3.2 6.3-0.2 6.3-4.2 6.4-0.6 6.3-1.6 6.3-3.8 6.3-3 6.4-2.9 6.3-2 6.3-5 6.3 3.8 6.4-10.6 6.3 0 6.3-2.8 6.3-2.5 6.3-0.6 6.4-10.2 6.3 0.4 6.3-2.8 6.3-7.7 6.4-5.6 6.3 1 6.3-2.7 6.3-4.7 6.4-2.5 6.3-3.9 6.3 1.5 6.3-4.3 6.4 0.3 6.3-10 6.3-3 6.3-2 6.4-1.4 6.3 0.9 6.3 2" stroke="#00BA38"/>
<path d="M430.3 475.6l6.3-1 6.3-0.3 6.4-1.9 6.3-3.1 6.3-0.4 6.3-1.9 6.4-2.8 6.3 0.2 6.3-5 6.3 0.7 6.4-7 6.3-1.3 6.3 2.2 6.3-1.8 6.4-9.1 6.3 6.4 6.3-3.3 6.3-6.2 6.3-6.7 6.4 1.6 6.3 0.1 6.3-13.7 6.3 3.2 6.4 1.2 6.3-13.5 6.3 3.6 6.3-2.8 6.4-3.9 6.3-4.4 6.3-4.3 6.3-2.2 6.4-2.4 6.3-3 6.3-5.1 6.3-3.7 6.4 5.2 6.3-4 6.3-9.3" stroke="#619CFF"/>
<path d="M430.3 474.2l6.3-4.9 6.3-9.4 6.4-8.6 6.3-6.8 6.3-6.6 6.3-21.9 6.4-5.7 6.3-1.1 6.3-5.8 6.3-20 6.4-12 6.3-3 6.3-4.2 6.3-10.5 6.4-7.4 6.3-3.4 6.3 1.2 6.3-8.2 6.3-12 6.4 5.6 6.3-1.5 6.3-2.3 6.3-2.3 6.4-8.1 6.3-1.4 6.3 2.6 6.3 0 6.4-3.1 6.3-0.3 6.3-2.6 6.3-1 6.4 2 6.3-4.8 6.3 2.1 6.3-2.5 6.4 0.6 6.3 0.6 6.3 1.8" stroke="#00BA38"/>
<path d="M430.3 468.6l6.3 2.9 6.3 0.7 6.4-0.5 6.3 0.1 6.3-0.5 6.3-0.5 6.4 1.5 6.3-3.6 6.3 0.4 6.3 0.7 6.4-4.4 6.3-1.1 6.3-1.4 6.3-0.4 6.4 0.8 6.3-3.9 6.3 2 6.3-2.8 6.3 1.4 6.4 0 6.3-5.8 6.3 1.5 6.3-6.8 6.4 5 6.3-6 6.3 1.2 6.3-3.7 6.4-1.9 6.3 6.3 6.3-6.6 6.3 0.1 6.4 1.1 6.3-7.1 6.3-0.9 6.3-1.3 6.4-4.8 6.3-1.1 6.3 1.9" stroke="#F8766D"/>
<path d="M430.3 474.6l6.3-0.4 6.3-0.2 6.4 0.1 6.3-0.7 6.3 0.3 6.3-0.6 6.4 0.1 6.3 0.6 6.3-0.8 6.3 1.6 6.4-1.9 6.3-0.5 6.3-0.7 6.3 0.9 6.4-0.3 6.3-0.5 6.3-1 6.3-1 6.3 0.9 6.4-1.5 6.3 1.9 6.3 1.9 6.3-1.3 6.4 0.7 6.3-1.1 6.3-0.4 6.3-0.3 6.4-0.1 6.3 1.4 6.3-1.5 6.3-0.9 6.4-1.7 6.3-2.1 6.3 2.8 6.3 3.1 6.4-0.3 6.3-2.5 6.3-0.1" stroke="#00BA38"/>
<path d="M430.3 474l6.3-1.6 6.3-2.7 6.4-6.1 6.3-8.2 6.3-6.2 6.3 1.1 6.4-11.7 6.3 0.5 6.3-7 6.3-5.7 6.4-11.8 6.3-7.5 6.3-1.4 6.3-6.3 6.4-0.2 6.3-8.1 6.3-11.5 6.3-1.5 6.3-0.8 6.4-11 6.3 0.6 6.3-5.1 6.3-4.7 6.4-3.6 6.3-0.6 6.3-4.2 6.3-2.5 6.4-3.3 6.3 4.2 6.3-6.9 6.3-3.9 6.4-8 6.3-3.2 6.3 6.1 6.3-0.8 6.4-6.6 6.3-1.5 6.3 0.5" stroke="#00BA38"/>
<path d="M430.3 468.5l6.3 2.8 6.3 0.8 6.4 0.5 6.3-0.2 6.3-0.4 6.3-0.1 6.4 1.2 6.3-1.8 6.3 1.1 6.3-2.5 6.4-1 6.3 2 6.3-1.5 6.3-0.8 6.4-3.5 6.3 3.5 6.3-2 6.3-1.6 6.3-4.7 6.4-1.3 6.3-0.3 6.3 3.7 6.3-2.7 6.4-0.8 6.3-1.1 6.3-0.2 6.3-1.4 6.4 0.1 6.3-2 6.3-5.2 6.3 1.8 6.4-2.3 6.3-0.4 6.3 4.3 6.3-3.6 6.4-1 6.3-1 6.3 4.9" stroke="#00BA38"/>
<path d="M430.3 468.7l6.3-4.1 6.3-10.5 6.4-6.8 6.3-15 6.3-18.6 6.3-2.4 6.4-19.6 6.3-16.5 6.3-9.5 6.3-2.5 6.4-10 6.3-6.8 6.3-3.8 6.3-7.8 6.4-8 6.3-4.7 6.3-2.5 6.3-0.5 6.3-1.2 6.4-6.6 6.3 5.2 6.3-2.7 6.3 0.9 6.4-2.1 6.3-2.2 6.3-0.8 6.3-2.3 6.4 0.1 6.3-0.3 6.3-0.6 6.3-0.5 6.4 0.2 6.3 0.5 6.3-0.4 6.3 0.4 6.4 0.6 6.3-0.6 6.3-0.7" stroke="#619CFF"/>
<path d="M430.3 467.3l6.3 3.4 6.3 1.5 6.4 1.1 6.3 0.3 6.3-0.2 6.3 0.2 6.4-0.5 6.3 0.6 6.3 0.5 6.3-0.8 6.4 0.1 6.3 0.5 6.3-0.8 6.3-0.3 6.4-0.4 6.3-0.3 6.3 1.4 6.3-0.2 6.3 0.2 6.4-0.3 6.3 0.9 6.3-1.1 6.3-1.4 6.4 0.2 6.3 1.6 6.3-0.3 6.3-0.9 6.4-1.9 6.3 1.7 6.3 0 6.3 0.4 6.4 0.7 6.3-1.1 6.3-0.9 6.3 0.6 6.4-1.6 6.3 1.2 6.3 0.4" stroke="#619CFF"/>
<path d="M430.3 469.4l6.3-3.2 6.3-8 6.4-9.7 6.3-14.1 6.3-10.3 6.3-11.4 6.4-15.2 6.3-8.2 6.3-13.7 6.3-10.3 6.4-9 6.3-13.5 6.3 1.9 6.3-7.2 6.4-8.2 6.3-6.7 6.3-5.7 6.3-2.1 6.3-3.3 6.4-1.3 6.3 0.3 6.3-0.5 6.3 0 6.4-0.7 6.3-0.5 6.3-2.8 6.3 0.5 6.4 1.1 6.3-0.3 6.3-0.2 6.3-1.1 6.4 0.2 6.3 0.7 6.3-0.6 6.3 0.2 6.4 0.2 6.3-0.7 6.3 0" stroke="#619CFF"/>
<path d="M430.3 473.7l6.3 0.3 6.3-0.1 6.4-0.9 6.3 0.2 6.3 0.5 6.3-0.2 6.4 0.6 6.3-1 6.3-2.7 6.3-2 6.4-1.5 6.3 2.2 6.3 0.8 6.3-3.7 6.4 3.8 6.3-4.4 6.3-1.8 6.3 1.9 6.3-0.1 6.4-8.8 6.3 3.8 6.3 1 6.3-4.8 6.4 2.8 6.3 2.8 6.3-3 6.3-2.9 6.4 1.2 6.3-2.1 6.3-3.9 6.3 3.8 6.4 0.6 6.3-2.8 6.3-3.4 6.3 5.9 6.4-6.2 6.3 8.9 6.3-8.3" stroke="#619CFF"/>
<path d="M430.3 473l6.3-4.4 6.3-10.6 6.4-13.9 6.3-15.5 6.3-18 6.3-13.9 6.4-12.5 6.3-15.7 6.3-10 6.3-4.1 6.4-13.4 6.3-3 6.3-6.9 6.3-8.1 6.4-1.1 6.3-6.5 6.3-4.5 6.3-2.1 6.3 0 6.4-0.8 6.3-1 6.3-0.4 6.3 0.1 6.4-0.4 6.3 0.4 6.3-0.4 6.3-0.3 6.4 0.2 6.3-0.1 6.3 0.5 6.3 0.3 6.4-0.9 6.3 0.9 6.3-0.9 6.3 0.2 6.4-0.2 6.3 0.1 6.3 0.1" stroke="#619CFF"/>
<path d="M430.3 476l6.3-1.1 6.3-0.7 6.4-0.3 6.3-0.8 6.3-1.9 6.3-1.4 6.4-2.4 6.3 0.9 6.3 2.7 6.3-2.2 6.4-0.4 6.3-2.2 6.3-0.7 6.3-4.6 6.4 1.7 6.3-2.3 6.3-5.9 6.3 1.6 6.3 3.9 6.4-6.5 6.3-1.9 6.3-1.8 6.3-2 6.4 3.2 6.3 0.2 6.3-4.5 6.3 3.5 6.4-2.7 6.3-8.3 6.3 4.4 6.3-5.2 6.4-5.1 6.3 1.3 6.3 0.6 6.3-7.1 6.4 6.3 6.3-10.1 6.3 5.2" stroke="#F8766D"/>
<path d="M430.3 467l6.3-1.5 6.3-5.4 6.4-9.5 6.3-13.1 6.3-11.6 6.3-15.6 6.4-12.6 6.3-7.8 6.3-12 6.3-11.2 6.4-9 6.3-9.4 6.3-7.9 6.3 2.1 6.4-4.5 6.3-2.8 6.3-11.8 6.3-2.4 6.3-6.7 6.4-1.4 6.3 1 6.3-3.8 6.3 1.4 6.4-1 6.3 0.4 6.3-2.9 6.3 1.5 6.4-3.1 6.3-0.4 6.3 0 6.3 0.3 6.4-0.1 6.3 0.7 6.3-0.9 6.3 1 6.4-0.4 6.3 0.5 6.3-0.9" stroke="#619CFF"/>
<path d="M430.3 472.5l6.3 0.8 6.3 0 6.4 0.3 6.3 0.4 6.3-0.6 6.3 0.3 6.4 0.1 6.3 0.2 6.3-1.7 6.3 1.5 6.4-0.1 6.3-1 6.3-1.2 6.3 2.1 6.4-2.7 6.3 0.2 6.3 2.1 6.3-1.4 6.3-0.7 6.4 0.3 6.3-0.2 6.3 1.1 6.3-2.4 6.4-1 6.3-2.1 6.3 5.5 6.3-2.6 6.4 0.3 6.3-2.5 6.3 3.7 6.3 1.8 6.4-4 6.3-0.5 6.3-0.6 6.3-1.5 6.4 0.3 6.3 3.7 6.3-2.8" stroke="#619CFF"/>
<path d="M430.3 469.3l6.3-0.9 6.3-7.6 6.4-5 6.3-7.9 6.3-5.8 6.3-11.7 6.4-5.3 6.3-10.1 6.3-6 6.3-10.1 6.4-10 6.3-4.1 6.3-20.8 6.3 4.5 6.4-2.4 6.3-3.2 6.3-8 6.3-8.7 6.3-1.8 6.4-2.5 6.3-2.2 6.3-7.6 6.3-2.3 6.4-2.1 6.3-2.5 6.3-1.5 6.3-2 6.4-0.8 6.3-3.8 6.3-0.4 6.3-3.6 6.4-0.7 6.3 2.6 6.3-5.4 6.3 1.2 6.4-2.1 6.3 0.6 6.3-0.7" stroke="#619CFF"/>
<path d="M430.3 470.2l6.3 1.6 6.3 0.3 6.4-0.9 6.3-2.5 6.3-1.2 6.3 0.2 6.4-3.6 6.3-1.4 6.3 3.2 6.3-8.4 6.4-3.9 6.3-2.5 6.3-2.8 6.3 4.3 6.4-4 6.3-7.9 6.3 0.9 6.3 1.3 6.3 0.1 6.4-4.4 6.3-0.5 6.3-2.3 6.3-1.5 6.4-9.6 6.3 2.4 6.3-8.8 6.3 1.2 6.4-8 6.3 3.7 6.3-1.7 6.3-10.7 6.4 5.3 6.3-5.6 6.3-10.4 6.3 5.9 6.4-5.2 6.3 2.8 6.3-0.8" stroke="#619CFF"/>
<path d="M430.3 475.7l6.3-9.2 6.3-12.6 6.4-12.5 6.3-18.2 6.3-13.9 6.3-14.8 6.4-15.2 6.3-12.3 6.3-12.1 6.3-4.6 6.4-9.8 6.3-6.8 6.3-6.6 6.3-3.5 6.4-3.8 6.3-0.5 6.3 0.3 6.3-3.9 6.3-1.2 6.4-3.7 6.3-1.7 6.3-3 6.3 1.7 6.4-0.5 6.3-0.1 6.3 1.3 6.3-2.3 6.4-0.2 6.3 1.4 6.3-1.4 6.3 0.7 6.4-0.7 6.3 0.1 6.3 0.6 6.3 0.1 6.4-0.8 6.3 0 6.3 0" stroke="#619CFF"/>
<path d="M430.3 473.6l6.3-0.4 6.3-1 6.4-0.6 6.3-1.1 6.3-2.7 6.3-0.3 6.4-3.2 6.3-2.7 6.3 2.4 6.3-8.4 6.4-4.3 6.3-1.7 6.3-3.3 6.3-0.2 6.4-4.8 6.3 2 6.3 1 6.3-6.6 6.3-4.9 6.4-2.3 6.3-1 6.3-1.9 6.3-2.7 6.4-4.9 6.3 2.6 6.3-7.9 6.3-3 6.4-7.3 6.3 3.4 6.3-5.6 6.3-2.4 6.4-2.3 6.3-5.8 6.3-3.9 6.3-5.2 6.4-6 6.3-2.3 6.3 6.7" stroke="#00BA38"/>
<path d="M430.3 469.9l6.3 1.4 6.3 0.8 6.4-0.1 6.3 0.9 6.3-0.4 6.3 0.4 6.4-1 6.3 2.8 6.3-0.8 6.3-1.5 6.4-0.5 6.3-1.3 6.3 0.4 6.3-0.2 6.4-0.1 6.3-4 6.3 3.5 6.3-1.7 6.3-2.4 6.4 2.4 6.3 1.1 6.3-4.9 6.3 0.5 6.4 2.4 6.3-6.2 6.3 2.5 6.3-0.4 6.4-3.7 6.3 4.7 6.3-1.5 6.3-0.2 6.4-4 6.3 4.3 6.3-4.2 6.3-1.2 6.4-1.1 6.3 4 6.3 2.9" stroke="#00BA38"/>
<path d="M430.3 473.8l6.3-0.8 6.3-0.5 6.4-0.6 6.3-1.1 6.3-3.3 6.3-4 6.4 1.3 6.3 0.4 6.3-4.8 6.3-3.6 6.4-4 6.3 0.8 6.3-5.6 6.3-4.7 6.4 5.4 6.3-4.5 6.3-6.3 6.3-4.4 6.3 1.5 6.4 3.8 6.3-5 6.3-0.9 6.3-5.6 6.4-9.8 6.3 1.8 6.3-4.2 6.3 2.2 6.4-10 6.3 1.6 6.3 0.4 6.3-14 6.4 0.5 6.3-3.1 6.3 8.8 6.3-13.7 6.4-7.1 6.3 4.2 6.3 0.3" stroke="#F8766D"/>
<path d="M430.3 469.6l6.3-0.5 6.3-4.1 6.4-5 6.3-7 6.3-4.4 6.3-11.8 6.4-11.8 6.3-10.2 6.3-6.7 6.3-5 6.4-8 6.3-6 6.3-4.5 6.3-14.1 6.4-4.1 6.3-17 6.3-1.3 6.3-8 6.3 5.1 6.4-6.5 6.3-8 6.3-4.3 6.3-2 6.4-2.8 6.3 1.1 6.3-1.1 6.3-2.6 6.4 0.2 6.3-6.1 6.3 1.6 6.3-0.6 6.4-2.2 6.3-4.1 6.3 0.6 6.3-0.6 6.4 0.1 6.3-1.9 6.3 0.4" stroke="#00BA38"/>
<path d="M430.3 471.7l6.3-0.9 6.3-3.4 6.4-5.7 6.3-8.2 6.3-5.3 6.3-6.4 6.4-6.5 6.3-6.3 6.3-8.4 6.3-7.7 6.4-3.7 6.3-7.7 6.3-5.5 6.3-10.4 6.4-5.8 6.3-6.6 6.3-14.2 6.3 5.4 6.3-14.3 6.4-2 6.3-3.4 6.3-0.4 6.3-6 6.4-3.7 6.3-2.7 6.3 7.9 6.3-3.7 6.4-10.8 6.3-4.8 6.3 0.9 6.3 0.2 6.4-2.5 6.3 1.7 6.3-6.6 6.3 0.4 6.4-0.4 6.3-2.5 6.3 2.5" stroke="#619CFF"/>
<path d="M430.3 475.7l6.3-9.1 6.3-15.1 6.4-21 6.3-14.6 6.3-13.8 6.3-17.1 6.4-11.5 6.3-19.5 6.3-8.5 6.3-7.6 6.4-10.1 6.3-4.3 6.3-2.6 6.3-2.5 6.4-6.4 6.3-1.8 6.3-2.3 6.3-0.2 6.3-1.4 6.4 1.8 6.3-0.4 6.3-0.7 6.3-0.2 6.4 0.1 6.3-0.6 6.3-0.3 6.3 0 6.4 0 6.3 0 6.3 0.6 6.3 0.3 6.4-0.9 6.3 0 6.3 0.2 6.3-0.1 6.4 0.5 6.3-0.6 6.3 0.5" stroke="#619CFF"/>
<path d="M430.3 469.4l6.3 0.4 6.3-1 6.4-3.8 6.3-2.8 6.3-3.7 6.3-4.3 6.4 1.6 6.3-9.4 6.3-3.2 6.3-6.2 6.4-5.3 6.3-0.8 6.3-3.1 6.3-7.3 6.4-2.4 6.3-6.9 6.3-5.9 6.3-1.1 6.3-4.3 6.4-3.1 6.3-9.2 6.3-1.5 6.3-9.3 6.4 1.9 6.3-7.1 6.3-4.1 6.3 4.7 6.4-7.7 6.3-15.1 6.3 1.2 6.3 1.5 6.4-4.3 6.3 2.4 6.3-3 6.3-8.5 6.4-2.3 6.3 1.5 6.3-1.3" stroke="#619CFF"/>
<path d="M430.3 475.9l6.3-0.7 6.3-0.4 6.4-0.5 6.3 0 6.3-0.1 6.3-0.3 6.4 0.3 6.3-0.3 6.3 0 6.3-0.1 6.4-0.9 6.3 1.9 6.3-0.9 6.3-0.6 6.4-0.2 6.3 0.1 6.3-0.2 6.3 1.4 6.3-0.6 6.4-1.6 6.3 0.5 6.3-0.1 6.3-0.9 6.4-0.2 6.3 1 6.3 0.8 6.3-1.2 6.4 0.2 6.3-0.2 6.3 0.2 6.3 0.8 6.4 0.6 6.3-1.4 6.3 1.5 6.3-1.1 6.4-0.7 6.3-0.2 6.3 0.3" stroke="#00BA38"/>
<path d="M430.3 473.8l6.3-0.2 6.3-1.2 6.4-0.2 6.3-0.8 6.3-3.9 6.3-0.5 6.4-0.7 6.3-2.2 6.3-3.7 6.3-3.2 6.4-5.4 6.3 0 6.3 4.5 6.3-5 6.4 0.9 6.3-6 6.3-3.5 6.3 1.6 6.3-10.7 6.4-2.1 6.3-5.4 6.3 6.1 6.3-8.5 6.4-1.8 6.3-5 6.3-2.2 6.3 1.6 6.4 1.2 6.3-6.7 6.3-3.2 6.3 3.8 6.4 0.2 6.3-18.7 6.3 5.4 6.3 4.4 6.4-0.8 6.3-3.3 6.3-7.3" stroke="#00BA38"/>
<path d="M430.3 477.1l6.3-2 6.3-1.1 6.4 0.2 6.3 0.1 6.3-1.3 6.3-3.1 6.4-2.3 6.3-0.8 6.3-1.2 6.3 3.7 6.4-5.4 6.3-0.5 6.3-2 6.3 0 6.4 1.6 6.3-7.7 6.3-2.6 6.3 2.1 6.3 1 6.4-3.5 6.3-7 6.3-2.4 6.3-0.4 6.4-4.3 6.3-0.7 6.3 3 6.3-5.9 6.4-0.6 6.3 1.3 6.3-8.1 6.3-1.2 6.4 5.4 6.3-8 6.3-1.6 6.3 0.4 6.4-0.7 6.3 0.7 6.3 0.7" stroke="#F8766D"/>
<path d="M430.3 468.4l6.3 2.6 6.3 1 6.4 0.7 6.3 1.4 6.3-0.3 6.3-0.2 6.4-1.3 6.3 0.6 6.3 1.3 6.3 0 6.4 0.3 6.3-1.4 6.3-0.7 6.3-0.7 6.4 0.1 6.3 1.8 6.3 0.1 6.3-0.6 6.3-0.1 6.4-0.4 6.3-2.1 6.3 2.1 6.3 0.2 6.4 0.1 6.3 0.6 6.3 0.5 6.3-0.5 6.4 0.7 6.3-2.9 6.3 1.9 6.3 0.1 6.4 0.9 6.3-2.1 6.3 0.8 6.3-2.6 6.4 2.2 6.3-1.7 6.3 3.7" stroke="#619CFF"/>
<path d="M430.3 477.1l6.3-1.2 6.3-1.3 6.4-0.9 6.3-0.9 6.3 0.1 6.3-0.9 6.4 0.5 6.3-0.7 6.3 1.5 6.3 0.1 6.4-1.5 6.3 1.8 6.3 0.5 6.3-2.8 6.4 0 6.3 1 6.3-0.5 6.3 0.1 6.3-0.1 6.4-0.3 6.3-0.4 6.3 1.5 6.3-0.1 6.4-3 6.3-0.6 6.3 1.4 6.3-1.6 6.4-1.7 6.3-0.6 6.3 1.3 6.3-1.2 6.4-1.8 6.3 0 6.3 0.5 6.3 1.4 6.4-1.5 6.3-0.1 6.3-2.8" stroke="#00BA38"/>
<path d="M430.3 470.9l6.3 1.2 6.3 1 6.4-1.5 6.3 0.6 6.3-1 6.3 0.3 6.4-4.4 6.3 2.9 6.3-3.5 6.3-2.2 6.4-1.9 6.3 1 6.3-0.1 6.3-3 6.4-2.2 6.3-2.5 6.3-1 6.3-0.3 6.3-0.4 6.4-3.9 6.3-4.5 6.3 3.1 6.3-3.6 6.4-5.8 6.3 1.3 6.3-3.1 6.3-0.2 6.4-1.7 6.3-2.9 6.3 2.5 6.3-3 6.4 1.4 6.3-5.1 6.3-9 6.3 0.2 6.4-8.7 6.3 1 6.3 6.7" stroke="#00BA38"/>
<path d="M430.3 471.3l6.3 1.2 6.3 0.8 6.4 0.1 6.3-0.6 6.3 0.7 6.3 0.5 6.4 0.4 6.3-0.5 6.3-1.5 6.3 1.4 6.4 0.7 6.3-1.6 6.3 0.8 6.3-1.9 6.4-0.7 6.3 0.4 6.3 1.5 6.3 0.4 6.3-0.6 6.4-1.3 6.3 1.5 6.3-1 6.3 1.2 6.4-0.7 6.3-1.1 6.3-0.2 6.3-0.7 6.4 1.3 6.3 2 6.3-3.2 6.3-2.4 6.4 4.7 6.3-3.3 6.3 0.1 6.3-1.3 6.4 0.9 6.3 0.3 6.3-0.3" stroke="#619CFF"/>
<path d="M430.3 474.7l6.3-3.1 6.3-4.4 6.4-8 6.3-4.3 6.3-10.4 6.3-2.4 6.4-11.2 6.3-4.8 6.3-11.7 6.3-9.2 6.4-9.7 6.3-1.3 6.3-9.6 6.3-2.2 6.4-5.3 6.3-8.2 6.3 1.5 6.3-13.8 6.3-1.8 6.4-8.4 6.3-0.4 6.3-6.5 6.3 0 6.4-9 6.3-3.3 6.3-0.8 6.3-2 6.4 0.8 6.3-3.3 6.3-7.1 6.3 0.4 6.4-3.5 6.3-1.8 6.3 7.5 6.3-4.9 6.4-2 6.3-2.3 6.3 0.7" stroke="#619CFF"/>
<path d="M430.3 477l6.3-2 6.3-0.7 6.4-1 6.3-0.9 6.3 0 6.3-2.1 6.4 0.3 6.3-2.4 6.3-2.2 6.3-2.5 6.4-2.5 6.3 0.1 6.3-1.2 6.3 0.2 6.4-1.3 6.3-4 6.3-2.2 6.3-1 6.3-0.2 6.4-4.4 6.3 4 6.3-1.8 6.3-4.2 6.4-5.6 6.3 4.9 6.3-0.3 6.3-0.9 6.4-8.4 6.3-4.2 6.3-5.4 6.3-5.8 6.4 9.9 6.3-2.2 6.3-0.6 6.3 0.5 6.4-5.6 6.3-0.7 6.3-4.3" stroke="#F8766D"/>
<path d="M430.3 476.9l6.3-2.2 6.3-2.3 6.4-2.3 6.3-0.9 6.3-2 6.3-3.6 6.4-2.2 6.3-0.3 6.3-6.4 6.3-3 6.4 0.3 6.3-1 6.3-6.7 6.3 6.6 6.4-8 6.3-2.1 6.3-2.3 6.3-8.3 6.3-2.5 6.4-13.3 6.3 6.5 6.3-2.4 6.3 4.4 6.4-10.3 6.3 1.4 6.3-4.9 6.3-7.9 6.4-3.8 6.3-0.2 6.3-5.2 6.3 3.9 6.4 1.5 6.3 1.1 6.3-10.2 6.3-10.9 6.4 4.9 6.3-1.6 6.3-0.8" stroke="#F8766D"/>
<path d="M430.3 468.2l6.3 3.1 6.3 1.2 6.4-0.1 6.3 1.3 6.3-0.8 6.3-0.9 6.4 0.7 6.3-0.4 6.3 1.3 6.3-1.7 6.4 1 6.3-0.6 6.3-1.8 6.3 0.3 6.4 0.9 6.3-1.6 6.3-0.4 6.3 0.5 6.3 2 6.4-2.8 6.3-3.3 6.3 1.6 6.3 0 6.4-0.5 6.3-2.3 6.3 3 6.3-4.3 6.4-4.6 6.3 1.6 6.3 1.1 6.3-1 6.4-0.8 6.3 1.3 6.3-0.5 6.3-0.3 6.4-2.5 6.3-4.7 6.3 2.7" stroke="#F8766D"/>
<path d="M430.3 475.6l6.3-3.2 6.3-4.3 6.4-4.5 6.3-1.7 6.3-7.8 6.3-10.5 6.4-2.2 6.3-10.2 6.3-4.8 6.3-4.1 6.4-12 6.3-3.3 6.3-0.3 6.3-4.2 6.4-15.6 6.3-5.4 6.3 0.1 6.3-9.9 6.3-3.3 6.4-11.3 6.3 3.3 6.3 0 6.3-2.5 6.4-4.9 6.3-4.9 6.3-3.4 6.3-3.7 6.4-1.5 6.3-8.3 6.3-5 6.3 3.9 6.4-7.7 6.3-2.3 6.3-2.3 6.3 3.2 6.4 1 6.3-6.3 6.3 5.5" stroke="#00BA38"/>
<path d="M430.3 470.1l6.3 1.6 6.3 0 6.4-0.7 6.3-1 6.3-4.2 6.3-0.5 6.4-2.7 6.3-0.6 6.3-1.7 6.3-3.5 6.4-2.2 6.3-5.1 6.3-8 6.3-8.2 6.4 5.2 6.3-7 6.3 1.4 6.3-7.1 6.3-0.8 6.4-1.4 6.3-4.5 6.3 2.5 6.3-2.2 6.4 2.2 6.3-19.2 6.3-7.8 6.3 2 6.4-7.4 6.3 1.1 6.3 3 6.3-4.5 6.4 2 6.3-7.8 6.3-6.4 6.3-3 6.4 3.1 6.3-6.1 6.3 2" stroke="#00BA38"/>
<path d="M430.3 467.9l6.3 3.2 6.3 1 6.4 1.2 6.3-0.6 6.3 0.3 6.3-0.6 6.4 1.1 6.3-0.3 6.3-0.3 6.3 0.4 6.4 1.3 6.3-1.1 6.3-1.8 6.3 2 6.4-0.4 6.3-2.8 6.3 1.6 6.3-0.5 6.3 0 6.4-0.3 6.3 0.9 6.3 2.2 6.3-2.1 6.4-2.9 6.3-0.1 6.3 2.4 6.3-1.6 6.4 1.2 6.3-0.1 6.3 2.4 6.3-0.5 6.4-2.1 6.3 1.1 6.3-1.6 6.3 0.7 6.4-1 6.3-1.9 6.3 0.9" stroke="#00BA38"/>
<path d="M430.3 472l6.3 0.9 6.3 0.3 6.4-0.5 6.3-0.9 6.3-0.6 6.3-0.2 6.4-1.9 6.3-3.7 6.3-0.9 6.3-1.5 6.4 2.5 6.3 1.4 6.3-2.1 6.3-1.2 6.4-1.4 6.3-3.2 6.3 0.3 6.3-1.5 6.3-2.3 6.4 1.8 6.3-3.4 6.3-2.1 6.3 2.2 6.4-1.4 6.3-6.7 6.3 2.7 6.3-0.2 6.4-0.7 6.3-2 6.3-1.1 6.3-5.3 6.4-2.9 6.3 0.4 6.3-1.8 6.3-3 6.4 3.1 6.3 0.3 6.3-6.7" stroke="#619CFF"/>
<path d="M430.3 473.4l6.3-1.2 6.3-0.5 6.4-3.4 6.3-3.7 6.3-2.3 6.3-4.5 6.4-10.8 6.3 2.3 6.3-6.8 6.3-10.4 6.4-6.9 6.3-5.3 6.3-0.8 6.3-5.4 6.4-13.3 6.3 9.2 6.3 3 6.3-9.1 6.3-8.9 6.4-10 6.3 1.9 6.3-0.6 6.3-6.1 6.4-8.2 6.3-2.9 6.3-3.8 6.3-8.2 6.4 3.1 6.3-1.4 6.3-6.5 6.3-5.8 6.4-8.1 6.3 2.1 6.3-4.5 6.3-6.6 6.4-2.1 6.3 4.9 6.3-3.3" stroke="#619CFF"/>
<path d="M430.3 470.2l6.3 1.2 6.3-0.8 6.4-2.5 6.3-1.4 6.3-2.8 6.3-6.4 6.4-1.2 6.3-5.2 6.3-1.5 6.3-0.5 6.4-6.3 6.3-3.5 6.3 2 6.3-4.9 6.4-7.1 6.3-12.4 6.3 1.4 6.3-4.5 6.3-6.9 6.4-3.4 6.3-1.1 6.3-11.6 6.3-4.6 6.4 12.1 6.3-13.3 6.3-4.7 6.3-5.6 6.4-0.2 6.3-5.4 6.3-8.3 6.3-3.7 6.4-3.3 6.3 0 6.3-1.3 6.3-2.3 6.4 5.6 6.3-13 6.3 2.3" stroke="#F8766D"/>
<path d="M430.3 467.2l6.3 1.6 6.3-0.9 6.4-1.1 6.3-3.7 6.3-2.9 6.3-4.5 6.4-6.3 6.3-6.2 6.3-4.8 6.3-7.9 6.4 2 6.3-12.8 6.3-3.7 6.3-0.2 6.4-12.6 6.3-3.4 6.3-2.7 6.3-4.9 6.3-3.2 6.4-0.1 6.3-9.8 6.3-7.3 6.3-1.3 6.4-4.8 6.3 5.4 6.3-15.6 6.3 0.1 6.4-0.7 6.3-9.3 6.3-6.4 6.3-1 6.4-3.9 6.3 0 6.3-0.1 6.3-7.7 6.4 8.4 6.3-2.5 6.3-5.1" stroke="#00BA38"/>
<path d="M430.3 472.7l6.3-2.3 6.3-3.4 6.4-4.3 6.3-6.5 6.3-6 6.3-9.8 6.4-2.1 6.3-8.8 6.3-8.6 6.3-14.6 6.4 4.5 6.3-11.7 6.3-7.3 6.3-1.6 6.4-6.7 6.3-7.3 6.3-2 6.3 4.4 6.3-10.9 6.4-5.4 6.3-1 6.3-13.6 6.3 4.2 6.4-7.3 6.3-1.2 6.3-1.8 6.3-4.1 6.4-2.4 6.3 1.7 6.3-3.5 6.3-2.8 6.4-4 6.3-6.6 6.3 4.1 6.3-0.5 6.4-4.9 6.3-1.3 6.3-0.9" stroke="#619CFF"/>
<path d="M430.3 472l6.3 0.9 6.3 0.3 6.4 0.5 6.3-0.2 6.3 0.1 6.3 0.4 6.4 0.4 6.3-0.7 6.3 0.4 6.3-2.1 6.4-0.2 6.3 0.6 6.3-0.3 6.3-0.5 6.4 3.2 6.3-1.3 6.3 0.2 6.3-0.9 6.3 1.6 6.4-2.7 6.3 1.8 6.3-2 6.3-1.1 6.4 1.7 6.3-0.4 6.3 0.1 6.3-0.5 6.4-0.5 6.3 0.7 6.3 0.7 6.3 0.3 6.4-2.1 6.3-2.4 6.3-2.1 6.3 1.5 6.4 0.5 6.3-0.8 6.3 2.4" stroke="#00BA38"/>
<path d="M430.3 467.5l6.3 3 6.3 1.3 6.4 0.4 6.3-0.5 6.3-1 6.3 1.2 6.4-0.6 6.3-1 6.3-0.7 6.3-2.4 6.4-1.3 6.3 1.3 6.3-4.5 6.3-0.1 6.4-1.1 6.3 1.6 6.3-3.4 6.3 0.7 6.3 1 6.4-3.2 6.3 1.1 6.3-0.3 6.3-5.1 6.4-3.5 6.3 2.3 6.3-5.1 6.3-3.2 6.4-1.9 6.3 0.9 6.3 1.3 6.3-6.5 6.4 3.2 6.3-2.8 6.3-4.1 6.3-4.3 6.4 2.4 6.3-0.2 6.3-2" stroke="#F8766D"/>
<path d="M430.3 476.2l6.3-1.6 6.3-0.3 6.4-0.9 6.3-0.8 6.3 0.2 6.3-0.9 6.4 0.9 6.3 1.5 6.3-0.5 6.3-1.8 6.4-1.8 6.3 1.1 6.3 2.4 6.3-1 6.4 1.7 6.3-1.8 6.3-2.5 6.3 2.1 6.3 0.5 6.4-0.4 6.3-0.5 6.3-1.5 6.3-0.3 6.4-0.8 6.3 2.1 6.3-2.8 6.3-0.2 6.4 2.2 6.3-0.1 6.3 0.1 6.3 1.6 6.4-5.8 6.3 0.3 6.3 0.8 6.3-1.8 6.4 1.6 6.3 0.3 6.3-2.8" stroke="#F8766D"/>
<path d="M430.3 476.8l6.3-1.5 6.3-0.6 6.4-0.4 6.3 0.1 6.3-0.5 6.3-2.8 6.4 1.3 6.3-0.9 6.3-1 6.3-0.1 6.4-0.7 6.3 1.8 6.3-3.3 6.3-2.3 6.4 2 6.3 1.6 6.3 0.4 6.3 0.7 6.3-3.7 6.4-2 6.3-2.7 6.3 4.7 6.3-3.3 6.4-1.2 6.3 1.3 6.3 1.3 6.3-2.6 6.4-5.9 6.3 6.1 6.3-0.2 6.3-0.7 6.4-1.6 6.3-4.2 6.3 2.3 6.3 5.2 6.4-1.7 6.3-0.8 6.3-5.1" stroke="#F8766D"/>
<path d="M430.3 472.8l6.3-1.6 6.3-3.1 6.4-2.8 6.3-5.1 6.3-3.3 6.3-2 6.4-10.5 6.3-8.3 6.3-3.9 6.3-3 6.4-1.3 6.3-7.8 6.3-0.7 6.3-7 6.4-8.5 6.3 1.4 6.3-1.3 6.3-8.5 6.3 0.2 6.4-9 6.3-9.5 6.3-0.5 6.3-10.1 6.4-8 6.3-3.1 6.3-0.2 6.3 0.8 6.4-7.5 6.3 8 6.3-6.7 6.3-1.5 6.4-1.6 6.3-11.2 6.3-0.8 6.3 2.1 6.4 2.5 6.3-8.9 6.3-1.1" stroke="#619CFF"/>
<path d="M430.3 469.8l6.3 2.1 6.3 0.6 6.4 0.6 6.3 0.5 6.3-0.6 6.3-0.9 6.4 0.4 6.3-0.2 6.3 0.2 6.3-1.6 6.4-1.8 6.3-2.5 6.3 0.6 6.3 2.3 6.4-1.2 6.3-0.9 6.3-7.3 6.3-0.6 6.3 4.4 6.4 0.8 6.3 4.4 6.3-3.8 6.3-5.4 6.4 2.6 6.3-2.3 6.3-0.2 6.3-5.2 6.4-2.3 6.3 1 6.3 3.8 6.3 1.6 6.4-1.2 6.3-9.9 6.3 2.9 6.3-1.3 6.4 8.2 6.3-3.1 6.3-5" stroke="#00BA38"/>
<path d="M430.3 471.6l6.3 0.2 6.3-1.1 6.4-2.1 6.3-3.8 6.3-3.5 6.3-2.9 6.4-6 6.3-1.8 6.3-5.5 6.3-6.3 6.4 1.3 6.3-5.7 6.3-12.2 6.3 2.8 6.4-10.7 6.3 2.3 6.3-8.6 6.3 0.3 6.3-4.9 6.4-5.7 6.3-4 6.3-10.9 6.3-5.4 6.4-4.6 6.3-1.2 6.3-9.1 6.3-2.6 6.4-0.3 6.3 3 6.3-8.2 6.3-4.5 6.4-1.2 6.3-4.6 6.3-3.4 6.3 1.1 6.4-4.4 6.3-2.1 6.3-2" stroke="#F8766D"/>
<path d="M430.3 468l6.3-6.2 6.3-15.8 6.4-19.2 6.3-23.8 6.3-13.6 6.3-10.7 6.4-16.9 6.3-13.4 6.3-15.1 6.3-3.1 6.4-5.1 6.3-6.4 6.3 2.8 6.3-8.1 6.4-3.8 6.3-1.7 6.3 1.1 6.3-3 6.3 0.2 6.4-0.2 6.3 0 6.3 0 6.3 0 6.4 0.8 6.3-0.8 6.3 1 6.3 0 6.4-1 6.3 0.3 6.3-0.2 6.3-0.1 6.4 0.2 6.3-0.2 6.3 0 6.3 0 6.4 0 6.3 0 6.3 0.1" stroke="#619CFF"/>
<path d="M430.3 470.3l6.3 1.7 6.3 0.7 6.4 0 6.3 0.3 6.3-0.8 6.3-0.6 6.4 0.2 6.3 0.5 6.3-0.6 6.3-1.9 6.4-1.9 6.3-2.7 6.3 1.7 6.3-1 6.4-2.2 6.3 2.9 6.3-2.9 6.3 0.7 6.3-0.5 6.4-3.3 6.3 0.6 6.3-1.8 6.3 2.2 6.4-2.5 6.3 0.6 6.3-1.9 6.3-9.9 6.4 3.9 6.3 1.2 6.3 0.1 6.3 0.4 6.4-8.3 6.3 4.2 6.3-9.1 6.3 4.6 6.4-4 6.3 1.5 6.3 2.2" stroke="#F8766D"/>
<path d="M430.3 477.2l6.3-1.4 6.3-1.1 6.4-0.4 6.3-0.4 6.3 0.5 6.3-0.3 6.4-0.2 6.3 0.3 6.3-0.7 6.3 0 6.4-0.3 6.3 0.6 6.3-0.4 6.3 1.1 6.4-1.4 6.3 1.2 6.3-0.2 6.3-0.7 6.3-0.7 6.4 0.1 6.3 2 6.3-0.1 6.3-0.5 6.4-0.9 6.3 1 6.3-0.3 6.3-1.4 6.4-0.2 6.3-0.5 6.3-0.1 6.3 2 6.4 0.1 6.3-1.3 6.3-0.8 6.3 0.9 6.4-1.7 6.3 1.5 6.3 0.2" stroke="#F8766D"/>
<path d="M430.3 468.4l6.3 1.6 6.3-1.8 6.4-5.1 6.3-3 6.3-5.1 6.3-2.4 6.4-0.6 6.3-4.2 6.3-9.1 6.3-1.9 6.4-6.1 6.3-3.2 6.3-0.3 6.3 0.8 6.4-17.4 6.3 0.6 6.3-4 6.3-9.3 6.3-4.9 6.4-3.5 6.3-7.3 6.3-5.4 6.3-0.6 6.4-0.6 6.3-10.1 6.3-1.3 6.3-0.8 6.4-3.4 6.3-8.9 6.3-8.3 6.3 4.7 6.4 0.2 6.3-5.3 6.3-3 6.3-4 6.4 0.9 6.3 1.7 6.3-7.5" stroke="#00BA38"/>
<path d="M430.3 469.3l6.3 2.3 6.3 0.8 6.4-0.2 6.3-1.3 6.3-2.4 6.3-2.1 6.4 0.3 6.3-1.6 6.3-0.6 6.3 1.1 6.4-4.6 6.3 0.1 6.3-4.8 6.3 0.6 6.4 0.3 6.3-4.9 6.3-0.2 6.3 1 6.3-8.2 6.4-1.7 6.3-1.8 6.3-1.1 6.3 0.5 6.4 6.6 6.3-7.1 6.3-3.9 6.3-5.7 6.4 3.3 6.3-7 6.3-1.8 6.3-7.5 6.4 4.9 6.3-2.8 6.3-3.1 6.3-3.6 6.4-5.3 6.3 0.3 6.3 6.4" stroke="#F8766D"/>
<path d="M430.3 467.8l6.3 3.1 6.3 0.6 6.4-0.3 6.3 1.7 6.3-1 6.3 0.9 6.4-2 6.3 0 6.3 0.8 6.3-3.4 6.4 1 6.3-2.2 6.3 0.5 6.3-4.7 6.4-1.1 6.3 2 6.3 3.5 6.3-4.9 6.3 0.7 6.4-5.4 6.3-3.5 6.3 2 6.3-2.5 6.4 4.2 6.3-4.5 6.3-5.1 6.3 5.9 6.4-4.9 6.3-1 6.3-3 6.3 0.6 6.4-0.3 6.3-4.9 6.3 1.3 6.3-2 6.4 4.5 6.3-5.2 6.3-3.6" stroke="#F8766D"/>
<path d="M430.3 468.1l6.3 0.8 6.3-2.5 6.4-4 6.3-5.8 6.3-3.2 6.3-7.1 6.4-8.3 6.3-5.7 6.3-2.3 6.3-6.2 6.4-10.5 6.3-4.4 6.3-5.4 6.3-5.9 6.4-9.5 6.3-5.2 6.3-17.4 6.3-0.6 6.3 0 6.4-3.8 6.3 1.6 6.3-4.8 6.3-6.8 6.4-6.8 6.3 1.3 6.3-0.2 6.3-4.8 6.4-1.3 6.3-2.1 6.3-5.1 6.3-5.5 6.4 2.9 6.3-7.5 6.3 1.8 6.3 3.5 6.4-5.5 6.3-1.9 6.3-2.1" stroke="#00BA38"/>
<path d="M430.3 474.7l6.3-0.1 6.3-1.2 6.4 0.2 6.3-0.3 6.3-1.6 6.3 1.7 6.4-0.7 6.3-1.8 6.3-1 6.3-0.7 6.4 1.6 6.3-2.7 6.3 0.8 6.3-1.2 6.4 1.2 6.3-5 6.3 1.9 6.3-0.4 6.3 0.3 6.4-2.3 6.3 2.5 6.3-2.4 6.3-1 6.4-5.3 6.3 2.5 6.3-0.1 6.3-1.4 6.4-3.4 6.3-4.3 6.3 2.3 6.3-0.1 6.4-3.8 6.3 2.6 6.3-0.9 6.3 2.2 6.4-1.3 6.3 0.9 6.3-9.5" stroke="#F8766D"/>
<path d="M430.3 468.3l6.3 2.4 6.3 1.7 6.4 1 6.3 0.1 6.3 0.1 6.3 0.8 6.4-0.7 6.3-1.3 6.3 1.2 6.3-0.6 6.4 0.4 6.3-1.9 6.3 0.4 6.3 1 6.4 0.5 6.3-1.7 6.3-0.5 6.3-2.9 6.3 2.5 6.4-1.4 6.3 0.9 6.3 1.3 6.3-0.8 6.4-3.1 6.3 1.9 6.3-1.9 6.3-1.8 6.4 0.1 6.3 0.2 6.3-2.3 6.3-1.2 6.4 5.5 6.3-1.9 6.3 0.5 6.3-0.4 6.4 0.8 6.3-1.1 6.3-6.4" stroke="#00BA38"/>
<path d="M430.3 475.9l6.3-1.6 6.3-2.3 6.4-2.5 6.3-3.4 6.3-0.8 6.3-4 6.4-4.9 6.3 1.6 6.3-12.2 6.3-1.8 6.4-2.8 6.3 2.6 6.3-2.3 6.3-10.4 6.4-5.2 6.3 8.4 6.3-13.5 6.3-5 6.3-3.6 6.4 3.7 6.3-6.9 6.3-0.8 6.3-7.4 6.4-10 6.3-0.1 6.3-3.8 6.3 2.4 6.4 1.7 6.3-6 6.3-8.1 6.3-6.2 6.4 2.8 6.3-2.4 6.3 0.3 6.3 3.8 6.4-8.1 6.3-5.1 6.3 0" stroke="#F8766D"/>
<path d="M430.3 466.7l6.3 2.8 6.3-0.1 6.4 0.3 6.3-1.5 6.3-3.3 6.3-3.3 6.4-2.6 6.3-0.6 6.3-4.4 6.3-4.9 6.4 0.8 6.3-10.6 6.3-2.2 6.3 3.6 6.4-12.6 6.3 3.6 6.3-8.3 6.3 3.5 6.3-4 6.4 2.7 6.3-5.6 6.3-2.7 6.3-8.1 6.4-10 6.3-0.6 6.3 4.9 6.3-15.2 6.4 3.6 6.3-4.4 6.3-6.1 6.3-4.7 6.4 3.2 6.3-9.4 6.3 1.7 6.3-2.6 6.4 8.7 6.3-14.5 6.3 2.4" stroke="#00BA38"/>
<path d="M430.3 467.2l6.3 3.3 6.3 0.1 6.4 0.2 6.3-1.6 6.3-1 6.3 0.5 6.4-0.8 6.3-3.8 6.3-3.6 6.3 1.8 6.4 0 6.3 1.2 6.3-3.7 6.3-3 6.4-3.7 6.3-5.3 6.3 0.3 6.3 0.6 6.3-3.7 6.4-3.7 6.3-3.5 6.3-2.7 6.3-1.2 6.4-4.7 6.3 0.1 6.3 1.3 6.3-4.5 6.4-11 6.3 5.6 6.3-13 6.3 6.3 6.4-4.6 6.3 6.6 6.3-5.8 6.3-9.8 6.4 6.5 6.3-1.5 6.3-6.4" stroke="#F8766D"/>
<path d="M430.3 467.3l6.3-3.9 6.3-7.3 6.4-14.9 6.3-17.3 6.3-10.8 6.3-13.7 6.4-16.7 6.3-5.7 6.3-9.4 6.3-9.1 6.4-12.9 6.3-9.8 6.3-6.9 6.3-2.6 6.4-1.7 6.3-3.5 6.3-5.3 6.3 1.1 6.3-1.6 6.4-1.2 6.3-2.6 6.3-0.5 6.3-2.6 6.4-2.1 6.3 1.8 6.3-1.6 6.3-0.3 6.4 0 6.3 0 6.3 1 6.3-0.4 6.4 0.4 6.3-1 6.3 0.2 6.3-0.3 6.4 1.2 6.3-0.8 6.3-0.3" stroke="#619CFF"/>
<path d="M430.3 468.9l6.3-0.9 6.3-3.5 6.4-6.7 6.3-9.5 6.3-4.5 6.3-12.2 6.4-10 6.3 6.6 6.3-11.5 6.3-14.3 6.4-6.2 6.3-7.3 6.3-10.5 6.3-7.2 6.4-0.1 6.3 3.5 6.3-15.2 6.3-9.7 6.3-3.8 6.4-3.6 6.3-5 6.3-3 6.3 0.8 6.4-4.8 6.3-4.2 6.3 0.7 6.3-3.4 6.4-5 6.3-4.7 6.3 0.8 6.3-3.7 6.4 2.9 6.3 0.3 6.3-3.6 6.3 1.3 6.4 0.3 6.3 0.7 6.3-2" stroke="#00BA38"/>
<path d="M430.3 468.3l6.3 3 6.3 1.2 6.4 0.5 6.3 0.2 6.3 0.2 6.3-0.2 6.4-0.4 6.3-0.6 6.3 1.2 6.3 0.5 6.4-0.3 6.3-0.9 6.3-0.1 6.3 0.6 6.4 0.3 6.3-0.5 6.3 0.6 6.3-2.8 6.3 1.2 6.4 2 6.3-1 6.3 1 6.3-0.8 6.4 0.2 6.3 0.6 6.3-1.1 6.3-0.7 6.4 0.2 6.3-0.5 6.3 2.5 6.3-4.3 6.4-0.5 6.3 1.9 6.3 1.2 6.3-2.1 6.4 1.3 6.3-0.2 6.3 0.2" stroke="#00BA38"/>
<path d="M430.3 472.9l6.3 0.2 6.3 0.6 6.4-1.3 6.3 0.4 6.3-2 6.3-0.8 6.4-1.3 6.3 0.2 6.3-4.9 6.3 4.2 6.4-3.1 6.3-0.2 6.3 0.6 6.3-7.7 6.4-0.6 6.3-6.9 6.3 0.9 6.3-0.1 6.3-1.4 6.4 3.9 6.3 0.2 6.3-9.4 6.3-2.2 6.4 3.1 6.3-3 6.3-2.3 6.3-5.4 6.4 0 6.3 2.4 6.3-5.7 6.3 1.8 6.4-4.7 6.3 1.6 6.3 8.8 6.3-16.3 6.4 3.5 6.3-7.5 6.3-2.1" stroke="#F8766D"/>
<path d="M430.3 474.9l6.3-8 6.3-14.5 6.4-22.6 6.3-20.7 6.3-8.5 6.3-17 6.4-19.7 6.3-14.3 6.3-5.5 6.3-7 6.4-14.4 6.3-4.1 6.3-4.1 6.3-0.4 6.4-1.5 6.3-1.8 6.3-3 6.3-0.5 6.3-1.3 6.4 0.5 6.3 1.1 6.3-1.2 6.3 0.1 6.4-0.5 6.3 0 6.3 0.2 6.3-0.2 6.4 0 6.3 0 6.3 0 6.3 0 6.4 0 6.3 0 6.3 0.1 6.3-0.1 6.4 0 6.3 0 6.3 0.7" stroke="#619CFF"/>
<path d="M430.3 469.3l6.3 2.4 6.3 1 6.4 0.5 6.3 1 6.3-0.4 6.3-0.7 6.4-0.3 6.3 1.2 6.3 0.4 6.3-2 6.4 0.8 6.3-3.3 6.3 0.7 6.3 0 6.4 0.5 6.3 0.7 6.3-1.4 6.3 0 6.3-2.9 6.4 0.9 6.3-0.1 6.3-1.7 6.3-0.7 6.4 4.9 6.3-6.1 6.3 4.4 6.3 0.1 6.4-1.6 6.3 0.2 6.3-5.6 6.3 1.7 6.4 2.7 6.3-1.1 6.3 0.3 6.3-0.5 6.4-2.9 6.3-1.7 6.3 0.9" stroke="#F8766D"/>
<path d="M430.3 477.2l6.3-1.5 6.3-1.2 6.4-0.7 6.3-0.1 6.3 0.3 6.3-0.3 6.4 0 6.3 0.2 6.3-0.2 6.3 0 6.4 0.8 6.3-0.7 6.3 0.5 6.3-0.7 6.4-0.1 6.3-1 6.3 0.8 6.3-0.4 6.3 1.4 6.4-2.2 6.3-1.8 6.3 1.7 6.3-0.2 6.4-0.3 6.3 0.7 6.3-1 6.3 1.2 6.4-0.1 6.3-0.2 6.3 0.5 6.3 1.1 6.4-2.8 6.3 0.3 6.3 1.1 6.3 0.8 6.4-1.2 6.3 0.7 6.3-1.9" stroke="#F8766D"/>
<path d="M430.3 469.4l6.3 1.1 6.3-1.3 6.4-3.7 6.3-4.3 6.3-0.1 6.3-4.2 6.4-2.7 6.3-8.4 6.3-5 6.3-2.3 6.4-3.1 6.3-7.5 6.3-8.4 6.3 0.8 6.4-4.8 6.3-6.6 6.3-4.8 6.3-6.1 6.3 0.7 6.4-4.5 6.3 2 6.3-11.5 6.3-10.5 6.4 7.3 6.3-6.5 6.3-10.8 6.3-1.3 6.4 4.3 6.3-13.2 6.3 4.1 6.3-11.6 6.4 2.1 6.3-0.8 6.3-4.7 6.3-2.9 6.4-4.5 6.3-2.5 6.3 0.1" stroke="#F8766D"/>
<path d="M430.3 468.4l6.3 2.5 6.3 1.8 6.4 0.5 6.3 0.1 6.3 0.2 6.3-0.3 6.4-0.1 6.3 1.5 6.3-0.4 6.3-0.8 6.4 0.8 6.3-0.9 6.3-0.1 6.3 1.1 6.4-2.1 6.3 1.4 6.3-0.3 6.3 0.1 6.3-0.4 6.4-2.3 6.3 0.9 6.3-0.9 6.3 1.4 6.4 0.7 6.3-0.4 6.3-0.9 6.3 0.9 6.4-2.1 6.3-0.2 6.3 0 6.3-0.3 6.4 2.8 6.3 0.1 6.3 0.9 6.3-2.1 6.4-2.7 6.3 0.1 6.3 2.5" stroke="#00BA38"/>
<path d="M430.3 472.8l6.3-1.3 6.3-3.3 6.4-1.2 6.3-1.3 6.3-3.7 6.3-2.7 6.4-4.4 6.3-6.4 6.3-1.2 6.3-8 6.4-6.4 6.3-7.7 6.3-6.9 6.3-2.2 6.4-8.9 6.3 5.2 6.3-4.5 6.3-3.9 6.3-5.2 6.4-7 6.3 0.9 6.3-11.2 6.3-4.1 6.4 0.1 6.3-3 6.3 2.8 6.3 4.7 6.4-10.8 6.3-7.1 6.3-3.9 6.3 2.2 6.4-4 6.3-11.6 6.3-1.2 6.3-1.6 6.4 1.4 6.3-5 6.3-4.9" stroke="#F8766D"/>
<path d="M430.3 468.3l6.3-1.3 6.3-6.5 6.4-5.7 6.3-11.2 6.3-7.3 6.3-11.9 6.4-6.3 6.3-9.9 6.3-18.5 6.3-2.3 6.4-8.7 6.3-8.5 6.3-7.3 6.3-10.9 6.4-7.6 6.3 4.2 6.3-5.8 6.3-3.7 6.3-9.6 6.4-6.8 6.3 2.5 6.3-1 6.3-0.8 6.4-9.2 6.3-0.8 6.3 0.6 6.3-1.3 6.4-0.5 6.3-0.1 6.3-0.6 6.3-1.7 6.4-0.3 6.3 0.1 6.3-0.5 6.3-1.9 6.4-1.2 6.3 1.2 6.3-0.2" stroke="#619CFF"/>
<path d="M430.3 471.5l6.3-3.2 6.3-10.4 6.4-8.9 6.3-10.7 6.3-16.5 6.3-8.9 6.4-9.1 6.3-9.6 6.3-12.8 6.3-8.1 6.4-8.6 6.3-9.7 6.3-4.4 6.3-4.5 6.4 0.9 6.3-20.3 6.3 2.3 6.3-1.2 6.3-4.3 6.4-2.2 6.3-4.6 6.3 1.2 6.3-1.5 6.4-1.1 6.3-4.3 6.3 0.1 6.3-3 6.4-0.8 6.3 2.6 6.3-0.2 6.3-0.6 6.4-0.8 6.3-1 6.3 0.8 6.3-0.9 6.4-0.3 6.3 0 6.3 0.1" stroke="#619CFF"/>
<path d="M430.3 468.9l6.3 0.9 6.3-3.3 6.4-2.6 6.3-7.4 6.3 1.7 6.3-7.5 6.4-7 6.3-11.6 6.3-4 6.3-0.2 6.4-6.5 6.3-1.9 6.3-4.8 6.3-10.1 6.4-5.6 6.3-11.9 6.3 12 6.3-10.5 6.3-10.3 6.4-8.7 6.3-0.7 6.3-2.7 6.3-5.5 6.4-13.8 6.3 2 6.3 5.3 6.3-1.6 6.4-7.1 6.3 0.3 6.3-7.5 6.3-1.8 6.4-1.1 6.3-3.2 6.3 2.8 6.3-2.6 6.4-3.5 6.3-3 6.3-2.2" stroke="#00BA38"/>
<path d="M430.3 473.3l6.3-1.2 6.3-3.8 6.4-1.3 6.3-5.2 6.3-5.9 6.3-9.7 6.4-0.8 6.3 1.7 6.3-8.3 6.3-12.6 6.4-10.5 6.3-11.4 6.3-2.6 6.3-0.1 6.4-11.1 6.3-3.6 6.3-4.1 6.3-5.8 6.3-10.5 6.4 2.5 6.3-2 6.3-7.5 6.3-5.1 6.4-1.3 6.3-2.8 6.3-7.8 6.3-7.8 6.4-2 6.3-2.3 6.3-4.2 6.3 7.2 6.4-1 6.3-4.1 6.3-1.2 6.3-2.2 6.4-4.4 6.3 1 6.3-2.6" stroke="#F8766D"/>
<path d="M430.3 467.9l6.3 1.7 6.3-1.4 6.4-1.8 6.3-3.6 6.3-4.4 6.3-1.4 6.4-4.1 6.3-5.7 6.3-7.4 6.3-8.8 6.4 0 6.3 0.6 6.3-14.7 6.3 1.6 6.4-12.9 6.3 0 6.3-3.8 6.3-7 6.3-1.9 6.4-11.4 6.3-5.7 6.3 8.6 6.3-10.5 6.4-0.2 6.3-9.3 6.3-6.9 6.3 0.7 6.4-5.4 6.3-3.4 6.3-4.8 6.3-1.8 6.4 0.7 6.3-6.8 6.3-2.7 6.3 4.8 6.4-4.8 6.3-1.1 6.3-4" stroke="#00BA38"/>
<path d="M430.3 470.6l6.3-0.3 6.3-2.6 6.4-5.6 6.3-6.3 6.3-3.4 6.3-12.8 6.4-12.3 6.3-1.5 6.3-1.6 6.3-7.4 6.4-12.6 6.3 4.5 6.3-14 6.3-4 6.4-3.3 6.3-9.6 6.3-11.7 6.3-3.4 6.3-6.1 6.4-12 6.3 1.5 6.3 0.8 6.3-6.3 6.4-2.8 6.3-7.8 6.3 2.3 6.3-1 6.4-3.4 6.3-4.6 6.3-4.6 6.3-2.6 6.4-2.8 6.3 0.7 6.3 2 6.3-2.1 6.4-4.2 6.3 3 6.3-0.3" stroke="#619CFF"/>
<path d="M430.3 476.7l6.3-3.3 6.3-4.7 6.4-4.9 6.3-5.6 6.3-5.7 6.3-5.6 6.4-5.9 6.3-7.7 6.3-11.3 6.3-5.1 6.4-9.1 6.3-2.5 6.3-6.5 6.3 0.4 6.4-8.6 6.3-10.1 6.3-0.1 6.3-7.5 6.3-5.7 6.4 2.4 6.3-6.4 6.3-12.7 6.3 8.3 6.4-12.5 6.3-2.5 6.3-10.2 6.3 4.1 6.4-4.6 6.3 3 6.3-7.3 6.3-2.8 6.4 1.5 6.3-4.5 6.3-1.1 6.3 1.8 6.4-2.2 6.3 2.6 6.3-3" stroke="#619CFF"/>
</g>
<polygon points="430.3,464.3 432.8,465.4 435.4,466.3 437.9,466.9 440.4,467.3 442.9,467.5 445.5,467.6 448,467.5 450.5,467.4 453.1,467.1 455.6,466.8 458.1,466.3 460.7,465.9 463.2,465.3 465.7,464.7 468.2,464.1 470.8,463.4 473.3,462.7 475.8,462 478.4,461.2 480.9,460.4 483.4,459.5 485.9,458.7 488.5,457.8 491,456.9 493.5,456 496.1,455.1 498.6,454.1 501.1,453.2 503.7,452.2 506.2,451.2 508.7,450.2 511.2,449.2 513.8,448.2 516.3,447.2 518.8,446.2 521.4,445.2 523.9,444.1 526.4,443.1 528.9,442 531.5,441 534,439.9 536.5,438.9 539.1,437.8 541.6,436.8 544.1,435.7 546.7,434.7 549.2,433.6 551.7,432.6 554.2,431.5 556.8,430.5 559.3,429.4 561.8,428.4 564.4,427.4 566.9,426.3 569.4,425.3 572,424.3 574.5,423.3 577,422.3 579.5,421.3 582.1,420.3 584.6,419.3 587.1,418.3 589.7,417.3 592.2,416.4 594.7,415.4 597.2,414.4 599.8,413.5 602.3,412.6 604.8,411.6 607.4,410.7 609.9,409.8 612.4,408.9 615,408 617.5,407.1 620,406.3 622.5,405.4 625.1,404.6 627.6,403.7 630.1,402.9 632.7,402.1 635.2,401.2 637.7,400.4 640.2,399.7 642.8,398.9 645.3,398.1 647.8,397.3 650.4,396.6 652.9,395.9 655.4,395.1 658,394.4 660.5,393.7 663,393 665.5,392.3 668.1,391.7 670.6,391 670.6,400.6 668.1,401.2 665.5,401.8 663,402.5 660.5,403.1 658,403.7 655.4,404.4 652.9,405 650.4,405.7 647.8,406.4 645.3,407.1 642.8,407.8 640.2,408.5 637.7,409.3 635.2,410 632.7,410.7 630.1,411.5 627.6,412.3 625.1,413 622.5,413.8 620,414.6 617.5,415.4 615,416.2 612.4,417.1 609.9,417.9 607.4,418.7 604.8,419.6 602.3,420.4 599.8,421.3 597.2,422.2 594.7,423.1 592.2,424 589.7,424.9 587.1,425.8 584.6,426.7 582.1,427.6 579.5,428.5 577,429.5 574.5,430.4 572,431.4 569.4,432.3 566.9,433.3 564.4,434.2 561.8,435.2 559.3,436.2 556.8,437.1 554.2,438.1 551.7,439.1 549.2,440.1 546.7,441 544.1,442 541.6,443 539.1,444 536.5,445 534,446 531.5,446.9 528.9,447.9 526.4,448.9 523.9,449.9 521.4,450.8 518.8,451.8 516.3,452.8 513.8,453.7 511.2,454.7 508.7,455.6 506.2,456.5 503.7,457.5 501.1,458.4 498.6,459.3 496.1,460.2 493.5,461.1 491,462 488.5,462.8 485.9,463.7 483.4,464.5 480.9,465.3 478.4,466.2 475.8,467 473.3,467.8 470.8,468.6 468.2,469.3 465.7,470.1 463.2,470.9 460.7,471.6 458.1,472.4 455.6,473.2 453.1,473.9 450.5,474.7 448,475.5 445.5,476.4 442.9,477.2 440.4,478.2 437.9,479.2 435.4,480.3 432.8,481.5 430.3,482.8" fill="#999999" fill-opacity="0.4"/>
<polygon points="430.3,464.9 432.8,465.8 435.4,466.2 437.9,466.2 440.4,466 442.9,465.6 445.5,465 448,464.3 450.5,463.4 453.1,462.4 455.6,461.3 458.1,460.1 460.7,458.9 463.2,457.6 465.7,456.2 468.2,454.8 470.8,453.4 473.3,451.9 475.8,450.4 478.4,448.9 480.9,447.4 483.4,445.8 485.9,444.3 488.5,442.7 491,441.1 493.5,439.5 496.1,437.9 498.6,436.4 501.1,434.8 503.7,433.2 506.2,431.7 508.7,430.1 511.2,428.5 513.8,427 516.3,425.5 518.8,424 521.4,422.5 523.9,421 526.4,419.5 528.9,418 531.5,416.6 534,415.1 536.5,413.7 539.1,412.3 541.6,410.9 544.1,409.6 546.7,408.2 549.2,406.9 551.7,405.6 554.2,404.3 556.8,403.1 559.3,401.8 561.8,400.6 564.4,399.4 566.9,398.2 569.4,397 572,395.9 574.5,394.8 577,393.7 579.5,392.6 582.1,391.5 584.6,390.5 587.1,389.4 589.7,388.4 592.2,387.4 594.7,386.5 597.2,385.5 599.8,384.6 602.3,383.7 604.8,382.8 607.4,381.9 609.9,381.1 612.4,380.3 615,379.4 617.5,378.6 620,377.9 622.5,377.1 625.1,376.4 627.6,375.6 630.1,374.9 632.7,374.2 635.2,373.6 637.7,372.9 640.2,372.3 642.8,371.6 645.3,371 647.8,370.4 650.4,369.8 652.9,369.3 655.4,368.7 658,368.2 660.5,367.6 663,367.1 665.5,366.6 668.1,366.1 670.6,365.7 670.6,375.8 668.1,376.2 665.5,376.6 663,377.1 660.5,377.5 658,378 655.4,378.5 652.9,379 650.4,379.5 647.8,380 645.3,380.5 642.8,381.1 640.2,381.7 637.7,382.2 635.2,382.8 632.7,383.5 630.1,384.1 627.6,384.7 625.1,385.4 622.5,386.1 620,386.8 617.5,387.5 615,388.2 612.4,389 609.9,389.7 607.4,390.5 604.8,391.3 602.3,392.1 599.8,393 597.2,393.8 594.7,394.7 592.2,395.6 589.7,396.5 587.1,397.5 584.6,398.4 582.1,399.4 579.5,400.4 577,401.4 574.5,402.5 572,403.5 569.4,404.6 566.9,405.7 564.4,406.8 561.8,407.9 559.3,409.1 556.8,410.2 554.2,411.4 551.7,412.7 549.2,413.9 546.7,415.1 544.1,416.4 541.6,417.7 539.1,419 536.5,420.3 534,421.6 531.5,423 528.9,424.4 526.4,425.8 523.9,427.2 521.4,428.6 518.8,430 516.3,431.5 513.8,432.9 511.2,434.4 508.7,435.9 506.2,437.4 503.7,438.9 501.1,440.4 498.6,441.9 496.1,443.4 493.5,444.9 491,446.5 488.5,448 485.9,449.5 483.4,451.1 480.9,452.6 478.4,454.1 475.8,455.7 473.3,457.2 470.8,458.7 468.2,460.2 465.7,461.8 463.2,463.3 460.7,464.8 458.1,466.3 455.6,467.8 453.1,469.3 450.5,470.8 448,472.3 445.5,473.8 442.9,475.4 440.4,476.9 437.9,478.5 435.4,480.1 432.8,481.8 430.3,483.4" fill="#999999" fill-opacity="0.4"/>
<polygon points="430.3,465.8 432.8,465.7 435.4,464.9 437.9,463.7 440.4,462.2 442.9,460.5 445.5,458.5 448,456.5 450.5,454.3 453.1,452.1 455.6,449.8 458.1,447.5 460.7,445.1 463.2,442.7 465.7,440.3 468.2,437.8 470.8,435.4 473.3,433 475.8,430.7 478.4,428.3 480.9,426 483.4,423.6 485.9,421.4 488.5,419.1 491,416.9 493.5,414.8 496.1,412.6 498.6,410.5 501.1,408.5 503.7,406.5 506.2,404.5 508.7,402.6 511.2,400.7 513.8,398.9 516.3,397.1 518.8,395.3 521.4,393.6 523.9,391.9 526.4,390.3 528.9,388.7 531.5,387.2 534,385.6 536.5,384.2 539.1,382.8 541.6,381.4 544.1,380 546.7,378.7 549.2,377.4 551.7,376.2 554.2,375 556.8,373.8 559.3,372.7 561.8,371.6 564.4,370.5 566.9,369.5 569.4,368.5 572,367.5 574.5,366.5 577,365.6 579.5,364.7 582.1,363.9 584.6,363 587.1,362.2 589.7,361.4 592.2,360.7 594.7,360 597.2,359.2 599.8,358.6 602.3,357.9 604.8,357.3 607.4,356.6 609.9,356 612.4,355.5 615,354.9 617.5,354.4 620,353.8 622.5,353.3 625.1,352.8 627.6,352.4 630.1,351.9 632.7,351.5 635.2,351 637.7,350.6 640.2,350.2 642.8,349.8 645.3,349.5 647.8,349.1 650.4,348.8 652.9,348.4 655.4,348.1 658,347.8 660.5,347.5 663,347.2 665.5,346.9 668.1,346.7 670.6,346.4 670.6,356.9 668.1,357.1 665.5,357.3 663,357.6 660.5,357.8 658,358 655.4,358.3 652.9,358.6 650.4,358.8 647.8,359.1 645.3,359.4 642.8,359.7 640.2,360.1 637.7,360.4 635.2,360.8 632.7,361.1 630.1,361.5 627.6,361.9 625.1,362.3 622.5,362.8 620,363.2 617.5,363.7 615,364.2 612.4,364.7 609.9,365.2 607.4,365.7 604.8,366.3 602.3,366.9 599.8,367.5 597.2,368.1 594.7,368.7 592.2,369.4 589.7,370.1 587.1,370.8 584.6,371.6 582.1,372.3 579.5,373.1 577,373.9 574.5,374.8 572,375.7 569.4,376.6 566.9,377.5 564.4,378.5 561.8,379.5 559.3,380.5 556.8,381.6 554.2,382.7 551.7,383.8 549.2,385 546.7,386.2 544.1,387.4 541.6,388.7 539.1,390 536.5,391.4 534,392.7 531.5,394.2 528.9,395.6 526.4,397.2 523.9,398.7 521.4,400.3 518.8,401.9 516.3,403.6 513.8,405.3 511.2,407.1 508.7,408.9 506.2,410.7 503.7,412.6 501.1,414.6 498.6,416.5 496.1,418.6 493.5,420.6 491,422.7 488.5,424.9 485.9,427.1 483.4,429.3 480.9,431.6 478.4,433.9 475.8,436.3 473.3,438.7 470.8,441.1 468.2,443.6 465.7,446.1 463.2,448.7 460.7,451.3 458.1,453.9 455.6,456.5 453.1,459.2 450.5,462 448,464.7 445.5,467.5 442.9,470.3 440.4,473.2 437.9,476 435.4,478.9 432.8,481.7 430.3,484.3" fill="#999999" fill-opacity="0.4"/>
<polyline points="430.3,473.5 432.8,473.5 435.4,473.3 437.9,473 440.4,472.7 442.9,472.4 445.5,472 448,471.5 450.5,471 453.1,470.5 455.6,470 458.1,469.4 460.7,468.7 463.2,468.1 465.7,467.4 468.2,466.7 470.8,466 473.3,465.2 475.8,464.5 478.4,463.7 480.9,462.9 483.4,462 485.9,461.2 488.5,460.3 491,459.4 493.5,458.5 496.1,457.6 498.6,456.7 501.1,455.8 503.7,454.8 506.2,453.9 508.7,452.9 511.2,451.9 513.8,451 516.3,450 518.8,449 521.4,448 523.9,447 526.4,446 528.9,445 531.5,444 534,443 536.5,441.9 539.1,440.9 541.6,439.9 544.1,438.9 546.7,437.9 549.2,436.8 551.7,435.8 554.2,434.8 556.8,433.8 559.3,432.8 561.8,431.8 564.4,430.8 566.9,429.8 569.4,428.8 572,427.8 574.5,426.8 577,425.9 579.5,424.9 582.1,423.9 584.6,423 587.1,422 589.7,421.1 592.2,420.2 594.7,419.2 597.2,418.3 599.8,417.4 602.3,416.5 604.8,415.6 607.4,414.7 609.9,413.9 612.4,413 615,412.1 617.5,411.3 620,410.4 622.5,409.6 625.1,408.8 627.6,408 630.1,407.2 632.7,406.4 635.2,405.6 637.7,404.8 640.2,404.1 642.8,403.3 645.3,402.6 647.8,401.9 650.4,401.2 652.9,400.5 655.4,399.8 658,399.1 660.5,398.4 663,397.7 665.5,397.1 668.1,396.4 670.6,395.8" fill="none" stroke="#F8766D" stroke-width="2.8" stroke-linejoin="round"/>
<polyline points="430.3,474.2 432.8,473.8 435.4,473.2 437.9,472.4 440.4,471.5 442.9,470.5 445.5,469.4 448,468.3 450.5,467.1 453.1,465.8 455.6,464.5 458.1,463.2 460.7,461.8 463.2,460.4 465.7,459 468.2,457.5 470.8,456 473.3,454.5 475.8,453 478.4,451.5 480.9,450 483.4,448.4 485.9,446.9 488.5,445.3 491,443.8 493.5,442.2 496.1,440.7 498.6,439.1 501.1,437.6 503.7,436 506.2,434.5 508.7,433 511.2,431.5 513.8,430 516.3,428.5 518.8,427 521.4,425.5 523.9,424.1 526.4,422.6 528.9,421.2 531.5,419.8 534,418.4 536.5,417 539.1,415.7 541.6,414.3 544.1,413 546.7,411.7 549.2,410.4 551.7,409.1 554.2,407.9 556.8,406.7 559.3,405.4 561.8,404.3 564.4,403.1 566.9,401.9 569.4,400.8 572,399.7 574.5,398.6 577,397.5 579.5,396.5 582.1,395.5 584.6,394.4 587.1,393.5 589.7,392.5 592.2,391.5 594.7,390.6 597.2,389.7 599.8,388.8 602.3,387.9 604.8,387.1 607.4,386.2 609.9,385.4 612.4,384.6 615,383.8 617.5,383.1 620,382.3 622.5,381.6 625.1,380.9 627.6,380.2 630.1,379.5 632.7,378.8 635.2,378.2 637.7,377.6 640.2,377 642.8,376.4 645.3,375.8 647.8,375.2 650.4,374.7 652.9,374.1 655.4,373.6 658,373.1 660.5,372.6 663,372.1 665.5,371.6 668.1,371.2 670.6,370.7" fill="none" stroke="#00BA38" stroke-width="2.8" stroke-linejoin="round"/>
<polyline points="430.3,475 432.8,473.7 435.4,471.9 437.9,469.9 440.4,467.7 442.9,465.4 445.5,463 448,460.6 450.5,458.2 453.1,455.7 455.6,453.2 458.1,450.7 460.7,448.2 463.2,445.7 465.7,443.2 468.2,440.7 470.8,438.3 473.3,435.9 475.8,433.5 478.4,431.1 480.9,428.8 483.4,426.5 485.9,424.2 488.5,422 491,419.8 493.5,417.7 496.1,415.6 498.6,413.5 501.1,411.5 503.7,409.6 506.2,407.6 508.7,405.7 511.2,403.9 513.8,402.1 516.3,400.3 518.8,398.6 521.4,396.9 523.9,395.3 526.4,393.7 528.9,392.2 531.5,390.7 534,389.2 536.5,387.8 539.1,386.4 541.6,385 544.1,383.7 546.7,382.4 549.2,381.2 551.7,380 554.2,378.8 556.8,377.7 559.3,376.6 561.8,375.5 564.4,374.5 566.9,373.5 569.4,372.5 572,371.6 574.5,370.7 577,369.8 579.5,368.9 582.1,368.1 584.6,367.3 587.1,366.5 589.7,365.8 592.2,365 594.7,364.3 597.2,363.7 599.8,363 602.3,362.4 604.8,361.8 607.4,361.2 609.9,360.6 612.4,360.1 615,359.5 617.5,359 620,358.5 622.5,358 625.1,357.6 627.6,357.1 630.1,356.7 632.7,356.3 635.2,355.9 637.7,355.5 640.2,355.1 642.8,354.8 645.3,354.4 647.8,354.1 650.4,353.8 652.9,353.5 655.4,353.2 658,352.9 660.5,352.6 663,352.4 665.5,352.1 668.1,351.9 670.6,351.7" fill="none" stroke="#619CFF" stroke-width="2.8" stroke-linejoin="round"/>
<line x1="418.6" y1="297.6" x2="418.6" y2="494.75" stroke="#000" stroke-width="1.5"/>
<line x1="417.85" y1="494.0" x2="683.3" y2="494.0" stroke="#000" stroke-width="1.5"/>
<line x1="413.5" y1="474.00" x2="418.6" y2="474.00" stroke="#000" stroke-width="1.3"/>
<text x="408.5" y="478.80" text-anchor="end">0</text>
<line x1="413.5" y1="432.00" x2="418.6" y2="432.00" stroke="#000" stroke-width="1.3"/>
<text x="408.5" y="436.80" text-anchor="end">0.25</text>
<line x1="413.5" y1="390.00" x2="418.6" y2="390.00" stroke="#000" stroke-width="1.3"/>
<text x="408.5" y="394.80" text-anchor="end">0.50</text>
<line x1="413.5" y1="348.00" x2="418.6" y2="348.00" stroke="#000" stroke-width="1.3"/>
<text x="408.5" y="352.80" text-anchor="end">0.75</text>
<line x1="413.5" y1="306.00" x2="418.6" y2="306.00" stroke="#000" stroke-width="1.3"/>
<text x="408.5" y="310.80" text-anchor="end">1.00</text>
<line x1="480.89" y1="494.0" x2="480.89" y2="498.9" stroke="#000" stroke-width="1.3"/>
<text x="480.89" y="513.60" text-anchor="middle">100</text>
<line x1="544.13" y1="494.0" x2="544.13" y2="498.9" stroke="#000" stroke-width="1.3"/>
<text x="544.13" y="513.60" text-anchor="middle">200</text>
<line x1="607.36" y1="494.0" x2="607.36" y2="498.9" stroke="#000" stroke-width="1.3"/>
<text x="607.36" y="513.60" text-anchor="middle">300</text>
<line x1="670.60" y1="494.0" x2="670.60" y2="498.9" stroke="#000" stroke-width="1.3"/>
<text x="670.60" y="513.60" text-anchor="middle">400</text>
<text x="513.57" y="537.00" font-size="13.7" textLength="74.24" lengthAdjust="spacingAndGlyphs">Sample size</text>
<text x="0" y="0" transform="translate(369.80,444.11) rotate(-90)" font-size="13.7" textLength="97.46" lengthAdjust="spacingAndGlyphs">Replicability (%)</text>
<g fill="none" stroke-width="1.25" stroke-opacity="0.25">
<path d="M89.9 726.3l6.5 5.1 6.4 3.5 6.5 2.2 6.5 0.8 6.5 1.7 6.4 0.6 6.5 1.4 6.5-1.7 6.4 2.2 6.5 0.1 6.5 0 6.5 1.5 6.4-1 6.5-1.1 6.5 2.6 6.4-0.4 6.5 0.5 6.5-0.3 6.4 1.7 6.5-0.8 6.5-0.7 6.5 1.6 6.4 0.4 6.5-1.4 6.5 1.2 6.4 1.1 6.5-2 6.5 0.5 6.5 0.3 6.4 0.2 6.5 0.9 6.5 0.4 6.4 0 6.5-0.3 6.5 0.4 6.5-1.5 6.4 0 6.5 0.2" stroke="#F8766D"/>
<path d="M89.9 721.6l6.5-0.2 6.4-1.3 6.5 0.8 6.5 0.8 6.5-1.2 6.4 0.8 6.5 0 6.5-0.2 6.4-0.5 6.5 2 6.5-0.8 6.5 1.1 6.4 0.1 6.5-0.4 6.5-0.2 6.4 0 6.5 0.5 6.5-1.2 6.4-0.6 6.5 0.6 6.5 0 6.5 0.7 6.4 0.7 6.5-1.6 6.5-0.1 6.4-0.1 6.5 1.1 6.5-0.3 6.5-0.8 6.4 0.5 6.5-0.2 6.5 1 6.4-1.1 6.5 0.4 6.5 0.4 6.5-0.9 6.4 0.1 6.5 1" stroke="#619CFF"/>
<path d="M89.9 706.5l6.5-1 6.4 0.9 6.5-0.5 6.5-1.9 6.5-1.2 6.4-0.1 6.5-1.8 6.5-0.1 6.4 0.1 6.5 0.6 6.5 0 6.5-0.5 6.4 1 6.5-2.2 6.5 0.4 6.4 1.2 6.5 0 6.5-0.9 6.4 0.6 6.5-1.6 6.5-0.2 6.5-0.1 6.4-1 6.5-0.4 6.5 1 6.4 1.1 6.5-0.5 6.5 1 6.5-0.4 6.4-0.1 6.5 1.2 6.5 0.4 6.4-1 6.5 0.3 6.5-0.6 6.5-0.1 6.4 0.4 6.5-0.6" stroke="#619CFF"/>
<path d="M89.9 711.8l6.5 3.1 6.4-1.4 6.5 2.4 6.5 0.9 6.5 2.4 6.4-1.6 6.5 2.3 6.5-1 6.4-0.8 6.5 1.1 6.5 1.5 6.5-1.6 6.4 1.9 6.5-0.8 6.5 3.5 6.4 0 6.5-0.1 6.5-1.9 6.4 0.8 6.5-1 6.5-0.9 6.5 0.5 6.4 0 6.5 1.1 6.5 0.3 6.4-1.4 6.5 2.5 6.5-1.2 6.5 0.8 6.4 0.3 6.5 0.4 6.5 1.1 6.4 0.3 6.5 0 6.5-0.7 6.5 0.1 6.4-1.5 6.5-0.5" stroke="#F8766D"/>
<path d="M89.9 712.1l6.5-0.3 6.4 2.1 6.5 1.2 6.5-0.5 6.5-0.2 6.4 1 6.5-1.1 6.5-0.3 6.4 0.1 6.5 0.1 6.5 0.2 6.5-0.1 6.4-0.6 6.5 0.7 6.5 0.8 6.4-0.1 6.5 1.1 6.5-1.3 6.4 0.8 6.5 0 6.5-0.7 6.5 0 6.4-0.5 6.5 0.7 6.5 1.1 6.4-0.5 6.5-0.9 6.5 0.2 6.5-0.7 6.4 0.4 6.5 0.4 6.5 1.8 6.4-0.2 6.5-1.3 6.5 0.5 6.5-1.1 6.4 0.6 6.5 0.3" stroke="#00BA38"/>
<path d="M89.9 730.9l6.5 2.1 6.4 1.8 6.5-0.4 6.5 2.4 6.5 2.6 6.4 0.8 6.5 1.8 6.5 1.9 6.4 2.6 6.5-0.1 6.5 1.8 6.5 0.2 6.4 0.9 6.5 0 6.5-0.5 6.4 0.6 6.5 1.2 6.5 1.2 6.4-1.7 6.5 0 6.5 0 6.5-0.3 6.4 1.4 6.5 0.3 6.5-1.1 6.4 1 6.5 0.4 6.5 0 6.5-1.2 6.4 1.2 6.5-0.3 6.5 1.6 6.4 0.5 6.5 0.4 6.5-1.2 6.5-0.1 6.4 1 6.5 1.6" stroke="#F8766D"/>
<path d="M89.9 672.7l6.5-3.6 6.4-5.5 6.5-7.7 6.5-3.2 6.5-3 6.4-1.9 6.5-2.4 6.5-1.5 6.4-1 6.5-2.1 6.5-1 6.5-0.9 6.4 0.1 6.5 0.1 6.5-2.6 6.4-0.7 6.5 0.9 6.5-0.1 6.4 2.1 6.5-0.9 6.5 0.9 6.5-0.1 6.4 0.3 6.5-1.4 6.5 0 6.4-0.2 6.5 0 6.5 1.5 6.5-1.8 6.4 1.2 6.5-1.5 6.5 0 6.4 0.9 6.5-1.3 6.5 1.1 6.5-0.9 6.4 0.7 6.5-0.6" stroke="#619CFF"/>
<path d="M89.9 732.6l6.5-0.5 6.4 2.3 6.5 1.6 6.5 3.7 6.5 0.6 6.4 2.1 6.5 0.7 6.5 0.6 6.4 1.6 6.5 2.1 6.5 0.2 6.5 1.3 6.4 0.3 6.5 0.1 6.5 0.9 6.4-0.1 6.5-1.1 6.5-0.2 6.4 1.3 6.5 0 6.5 0.7 6.5 1.2 6.4 1 6.5 0.6 6.5-0.8 6.4 0.3 6.5 0.7 6.5 0.6 6.5-0.2 6.4 0.8 6.5-0.3 6.5 0 6.4 0.4 6.5 0.3 6.5 0.7 6.5-0.5 6.4 0.2 6.5-2" stroke="#F8766D"/>
<path d="M89.9 728.6l6.5 1.3 6.4 1.9 6.5 0.5 6.5 2.5 6.5 1.7 6.4 1.7 6.5-0.8 6.5 2 6.4-0.1 6.5 1.6 6.5-1.2 6.5 2 6.4 2.8 6.5-1.3 6.5 0.6 6.4-0.6 6.5 2.1 6.5 0.8 6.4 0.1 6.5-0.6 6.5 0 6.5 0.4 6.4-0.5 6.5 1.6 6.5-1.2 6.4-0.4 6.5 0.4 6.5 0.5 6.5 3 6.4 0 6.5-1.2 6.5 0.9 6.4 0.6 6.5 0.6 6.5-1.2 6.5-0.4 6.4 0.2 6.5-1.4" stroke="#619CFF"/>
<path d="M89.9 714.7l6.5 0.8 6.4 2 6.5-0.5 6.5 0.6 6.5-0.9 6.4-0.5 6.5 1.9 6.5 0.2 6.4 0.2 6.5 0.4 6.5-0.3 6.5-0.4 6.4-0.9 6.5 0.4 6.5 1.3 6.4-0.1 6.5-0.1 6.5 0.4 6.4 1.3 6.5-1.5 6.5 1.1 6.5 0.4 6.4-0.6 6.5 0.3 6.5-0.2 6.4 0 6.5-0.5 6.5 0 6.5 0.4 6.4 0 6.5 0.4 6.5-0.5 6.4-0.2 6.5-1.2 6.5 0.2 6.5-0.4 6.4-0.6 6.5-0.1" stroke="#619CFF"/>
<path d="M89.9 727.7l6.5 1.3 6.4 4.2 6.5-0.6 6.5 2 6.5 4.7 6.4 0.1 6.5 1.1 6.5 0.6 6.4 1.3 6.5 0 6.5 0.2 6.5 2.7 6.4 0 6.5-1 6.5 0.5 6.4-0.5 6.5 1.9 6.5 1.9 6.4-0.4 6.5-0.2 6.5 0 6.5 1.2 6.4-0.8 6.5-1.2 6.5-0.8 6.4-1.1 6.5-0.9 6.5 1.9 6.5 0.9 6.4-0.1 6.5 0.7 6.5-0.2 6.4-0.3 6.5-0.2 6.5-0.7 6.5 1 6.4-0.1 6.5-1.4" stroke="#00BA38"/>
<path d="M89.9 725.9l6.5 3.4 6.4 4.5 6.5-0.9 6.5 1.5 6.5 0.2 6.4 1.8 6.5 2.3 6.5-0.8 6.4 2 6.5 1.8 6.5-1.2 6.5 2.3 6.4-1.1 6.5-0.5 6.5 1.3 6.4-1.1 6.5 0 6.5 1 6.4 1.3 6.5-0.2 6.5 0.6 6.5 0.5 6.4-0.1 6.5 1.1 6.5-2.3 6.4 0.2 6.5 0.6 6.5-1.2 6.5 1.6 6.4-0.1 6.5 0.3 6.5 0.9 6.4-0.2 6.5-0.4 6.5-1.6 6.5 1.7 6.4-0.7 6.5 1" stroke="#F8766D"/>
<path d="M89.9 660.8l6.5-8.2 6.4-8.8 6.5-5.8 6.5-5.5 6.5-3.1 6.4-3.3 6.5-2.3 6.5-4 6.4-1.3 6.5-1.4 6.5-0.8 6.5-1.6 6.4-0.6 6.5-1.4 6.5-0.7 6.4-0.5 6.5 0.9 6.5-1.1 6.4 0.1 6.5-2 6.5 0.7 6.5 0.3 6.4 0.6 6.5 0.6 6.5-0.9 6.4-0.3 6.5 0.5 6.5-0.3 6.5 0.2 6.4 0.6 6.5 0.1 6.5 1.2 6.4-0.2 6.5-1.3 6.5-0.7 6.5-0.6 6.4-0.1 6.5-0.5" stroke="#619CFF"/>
<path d="M89.9 733.1l6.5-0.7 6.4 4.6 6.5 4 6.5 1.8 6.5 0.5 6.4 0.9 6.5 1.2 6.5-0.7 6.4 1.7 6.5 1.4 6.5 1.4 6.5-1.4 6.4 2.4 6.5 0 6.5-1.2 6.4 2.1 6.5 1.1 6.5-0.3 6.4 0.1 6.5 1.8 6.5-1.1 6.5 0.3 6.4 0 6.5 1.3 6.5 0.5 6.4 0.6 6.5-0.5 6.5 0.6 6.5-0.5 6.4-0.3 6.5 0.1 6.5-0.6 6.4 0.7 6.5 0.1 6.5 0.4 6.5 1.5 6.4 0 6.5 0.6" stroke="#F8766D"/>
<path d="M89.9 711.7l6.5 3.2 6.4-0.5 6.5 0.6 6.5-1.5 6.5-0.2 6.4-0.9 6.5-0.7 6.5 0.4 6.4 0.7 6.5-1.2 6.5 0.2 6.5 1.5 6.4 0.2 6.5 0.6 6.5-0.8 6.4 1.3 6.5-0.8 6.5 0 6.4-1.8 6.5 0.2 6.5 0.4 6.5 0.3 6.4-0.3 6.5 0.6 6.5-1.2 6.4 0.4 6.5 0.5 6.5-0.1 6.5 1.2 6.4-0.5 6.5 0.6 6.5 0.1 6.4 0.8 6.5-0.4 6.5 0.3 6.5 1.3 6.4-0.1 6.5-1.4" stroke="#619CFF"/>
<path d="M89.9 718.7l6.5 3.5 6.4 1.1 6.5 2.4 6.5-1.7 6.5 1.6 6.4-0.4 6.5 0.3 6.5 0.8 6.4 0.7 6.5 1.5 6.5 0.5 6.5 0.4 6.4-0.7 6.5 1.8 6.5-0.1 6.4-0.7 6.5-0.3 6.5 1.6 6.4-0.3 6.5-0.9 6.5 0.8 6.5-0.3 6.4 0.5 6.5 0.1 6.5 1.3 6.4-0.1 6.5-0.1 6.5 0.7 6.5-1.4 6.4-1.1 6.5-0.9 6.5 0.4 6.4-0.2 6.5 0.6 6.5 1.3 6.5-0.5 6.4 0 6.5 0.6" stroke="#619CFF"/>
<path d="M89.9 726.1l6.5 1.7 6.4 1.8 6.5 2 6.5-0.9 6.5 2.3 6.4 0 6.5 2.4 6.5 0.7 6.4 1.8 6.5-1 6.5 0.2 6.5 0.7 6.4-0.7 6.5 1.4 6.5-1.5 6.4 1.1 6.5-0.3 6.5-0.3 6.4 0.5 6.5-1.2 6.5-0.7 6.5 0.8 6.4 0.9 6.5 0.3 6.5-0.4 6.4 0.6 6.5 0.1 6.5 1.1 6.5 1.1 6.4-0.8 6.5-0.3 6.5 0.3 6.4-1.4 6.5 0 6.5-0.9 6.5 0.3 6.4 0.6 6.5-0.8" stroke="#F8766D"/>
<path d="M89.9 709.3l6.5-4 6.4-1.8 6.5 0.6 6.5-1.7 6.5 0.5 6.4-1.2 6.5-0.9 6.5-0.4 6.4 0.3 6.5 0.1 6.5-0.4 6.5-1.4 6.4-1.3 6.5 0.4 6.5 0.1 6.4-0.3 6.5 0.5 6.5-0.6 6.4 1.4 6.5 0.9 6.5-1 6.5 0.6 6.4-1.6 6.5-0.3 6.5 1.7 6.4-1.1 6.5 0 6.5 0.5 6.5 1.2 6.4-0.2 6.5-0.3 6.5 0.7 6.4 0.2 6.5-1.6 6.5-1.1 6.5 0.4 6.4-0.9 6.5 0.6" stroke="#00BA38"/>
<path d="M89.9 729.1l6.5 2.7 6.4 0.3 6.5 2.2 6.5 0.4 6.5 0.8 6.4 1.6 6.5 0.2 6.5 1.6 6.4-0.1 6.5 0.4 6.5 0.5 6.5 0.2 6.4 1.3 6.5 1.3 6.5-0.2 6.4-0.9 6.5-0.4 6.5 1.4 6.4-0.6 6.5-0.4 6.5 1.3 6.5-1.7 6.4 0.4 6.5-0.2 6.5 0.9 6.4-0.1 6.5 0.5 6.5 0.5 6.5 0.9 6.4-1.2 6.5-0.1 6.5 0.3 6.4 0.6 6.5 0.1 6.5 0.2 6.5 1.8 6.4-0.4 6.5-0.6" stroke="#00BA38"/>
<path d="M89.9 716.4l6.5 0.7 6.4 1.1 6.5-1.5 6.5 1.3 6.5-0.2 6.4 1.4 6.5 1.2 6.5 0.2 6.4 1.8 6.5-1 6.5-0.1 6.5 1.7 6.4-0.8 6.5-0.4 6.5 0.3 6.4-0.2 6.5-0.5 6.5 0.5 6.4 1 6.5-0.9 6.5 1.3 6.5-0.5 6.4-0.4 6.5-0.9 6.5 0.3 6.4 0.4 6.5 0.8 6.5-0.7 6.5-0.1 6.4 1.4 6.5 0.1 6.5-0.1 6.4-0.2 6.5-0.1 6.5-0.4 6.5-0.1 6.4 0.6 6.5 0.7" stroke="#619CFF"/>
<path d="M89.9 707.3l6.5-1.1 6.4 3.9 6.5-1.4 6.5-0.8 6.5-0.1 6.4-2 6.5-1.1 6.5 1.7 6.4-0.7 6.5 1.4 6.5-0.1 6.5 1.3 6.4-0.8 6.5 1.1 6.5-2.6 6.4 1.3 6.5-1.8 6.5 1.3 6.4-1.9 6.5-0.5 6.5 0.2 6.5 0 6.4 0.8 6.5 1.4 6.5 1 6.4 0.7 6.5-2.5 6.5-0.8 6.5-0.2 6.4-0.4 6.5-0.4 6.5 2.4 6.4-0.8 6.5-1.1 6.5 0.5 6.5 0 6.4-1.3 6.5 0.3" stroke="#F8766D"/>
<path d="M89.9 719.2l6.5-1.4 6.4 0.9 6.5 3 6.5 0.2 6.5 0.1 6.4 1.9 6.5 2.6 6.5 0.7 6.4 2.1 6.5-0.6 6.5-0.4 6.5 0.8 6.4 1.9 6.5 0.6 6.5 0.7 6.4 0.6 6.5-1.5 6.5 0.6 6.4-0.4 6.5 1.4 6.5 1.1 6.5-2.3 6.4 1.1 6.5 0.9 6.5-0.9 6.4 1.4 6.5-0.6 6.5 0.1 6.5 0.7 6.4-0.3 6.5 0.7 6.5 0.5 6.4 0.6 6.5-1 6.5-1.4 6.5 1.3 6.4 0.3 6.5-1.4" stroke="#619CFF"/>
<path d="M89.9 701.2l6.5-0.5 6.4-0.7 6.5-0.7 6.5-3.5 6.5 1.2 6.4-1.7 6.5 0.2 6.5-0.1 6.4-0.1 6.5-2.3 6.5 1.8 6.5 1 6.4 0.5 6.5-1.2 6.5-0.6 6.4 0.5 6.5-0.3 6.5-0.3 6.4 0 6.5 1.5 6.5-0.1 6.5 0 6.4-1.5 6.5-0.1 6.5 0.6 6.4-1.3 6.5 0.9 6.5-0.9 6.5 0.9 6.4-0.3 6.5 1.6 6.5-1.7 6.4 1.3 6.5-1.2 6.5-0.6 6.5-0.8 6.4 1.1 6.5 0.7" stroke="#F8766D"/>
<path d="M89.9 719.4l6.5 2.1 6.4 0.6 6.5-0.8 6.5 2.9 6.5-1.2 6.4 1.6 6.5 0.2 6.5 0.5 6.4 1.3 6.5 2.4 6.5-0.7 6.5-0.2 6.4 0.7 6.5 0.2 6.5 0.1 6.4 0.1 6.5 2.5 6.5 1.5 6.4-0.5 6.5-0.4 6.5-2 6.5 1.1 6.4-1.3 6.5-0.9 6.5 1.6 6.4 0.2 6.5 0.7 6.5 0.7 6.5 0.4 6.4-0.7 6.5 0.5 6.5-0.1 6.4-0.7 6.5 1.3 6.5 0.3 6.5-1.5 6.4 1.8 6.5-0.9" stroke="#619CFF"/>
<path d="M89.9 714.2l6.5-2.4 6.4 1.3 6.5-2.4 6.5 0.4 6.5-0.6 6.4-0.5 6.5 0.5 6.5-0.4 6.4-1.2 6.5-0.4 6.5-0.7 6.5 1.1 6.4-0.4 6.5 1 6.5-0.5 6.4-0.8 6.5-0.8 6.5 0.5 6.4 0.6 6.5-0.2 6.5 0.3 6.5-0.6 6.4 1.5 6.5-0.8 6.5-2 6.4 0.7 6.5-0.8 6.5 0.2 6.5-0.4 6.4 0.8 6.5 0.4 6.5 0.7 6.4 0.5 6.5-0.2 6.5 0.4 6.5-1.2 6.4-0.2 6.5 1.3" stroke="#619CFF"/>
<path d="M89.9 686.6l6.5-2.8 6.4-2.9 6.5 0.1 6.5-3.9 6.5-3.2 6.4-0.2 6.5-0.8 6.5 0 6.4-2.2 6.5-1.3 6.5-0.6 6.5-1.1 6.4-0.1 6.5 0.2 6.5 1.3 6.4-1 6.5-0.6 6.5 0.1 6.4-0.1 6.5 0.8 6.5-1.5 6.5-0.9 6.4 1.1 6.5-1.2 6.5 1.2 6.4-0.7 6.5 1.1 6.5-1.7 6.5 1.3 6.4 0.3 6.5-0.6 6.5-1 6.4-0.7 6.5-1.2 6.5-0.4 6.5 0.5 6.4 0.8 6.5 0.5" stroke="#00BA38"/>
<path d="M89.9 734.7l6.5 0.9 6.4 3.7 6.5 3.2 6.5 2.9 6.5-0.9 6.4 0.5 6.5 3.4 6.5 0.4 6.4 0.4 6.5 0.1 6.5 0.2 6.5 0.4 6.4 1.4 6.5 0.8 6.5-0.3 6.4-0.3 6.5 0.9 6.5 0.7 6.4 1 6.5 0.4 6.5-0.5 6.5-1 6.4-1.1 6.5 0.5 6.5-0.8 6.4 1.5 6.5 1.6 6.5-0.7 6.5-0.2 6.4 1.6 6.5-2 6.5-0.1 6.4-1.1 6.5 1.4 6.5 0.8 6.5 0.8 6.4-1 6.5 2" stroke="#F8766D"/>
<path d="M89.9 689.3l6.5-3.7 6.4-3.5 6.5-3.8 6.5 0.7 6.5-1.1 6.4-0.5 6.5-0.9 6.5-2.4 6.4-0.5 6.5-1.1 6.5-0.6 6.5 1.8 6.4-0.2 6.5 1.3 6.5 1 6.4-1.5 6.5-0.3 6.5-1.5 6.4 1.2 6.5-0.6 6.5 0.4 6.5-0.7 6.4 0.3 6.5-1.1 6.5 0.3 6.4 0.1 6.5-0.1 6.5-0.3 6.5 0 6.4 1 6.5 1.7 6.5-1.3 6.4 0.5 6.5-0.8 6.5-0.2 6.5-0.8 6.4 1.4 6.5-0.7" stroke="#619CFF"/>
<path d="M89.9 681.2l6.5-5.6 6.4-4.9 6.5-4.7 6.5-2.8 6.5-3 6.4-1.1 6.5-1.6 6.5-0.3 6.4-0.3 6.5-0.4 6.5-1.1 6.5-1.7 6.4 1.1 6.5 0.5 6.5 0.6 6.4-0.7 6.5 1.4 6.5-2.2 6.4 0.1 6.5 0.5 6.5-1.1 6.5 0.2 6.4-1.1 6.5-1.4 6.5 1.6 6.4-0.1 6.5-0.4 6.5 1.1 6.5 0 6.4 0.7 6.5 0.1 6.5 0.3 6.4 0.4 6.5-0.4 6.5-0.4 6.5-0.3 6.4-1.4 6.5-0.2" stroke="#00BA38"/>
<path d="M89.9 707.1l6.5 1.1 6.4-0.9 6.5 0.1 6.5-1.4 6.5-2.6 6.4 2 6.5-2.8 6.5 2.6 6.4-0.6 6.5-0.1 6.5-1.4 6.5 0 6.4 1.5 6.5 0.4 6.5 0.1 6.4-0.8 6.5 2.1 6.5-0.2 6.4-1.2 6.5-0.1 6.5 0.5 6.5 0.5 6.4-1.5 6.5-0.2 6.5 0.6 6.4 0 6.5-1.5 6.5 0.4 6.5 0.4 6.4 2.2 6.5 0.1 6.5 0.7 6.4-0.6 6.5 0 6.5 0.3 6.5-0.8 6.4-0.5 6.5-0.4" stroke="#F8766D"/>
<path d="M89.9 724.4l6.5 2.2 6.4 2.9 6.5 0 6.5 3.7 6.5-0.6 6.4 1.2 6.5-1.5 6.5 0.2 6.4 0.9 6.5 1.2 6.5 1.1 6.5 2.2 6.4-1 6.5-0.6 6.5 0.3 6.4-0.8 6.5 0.5 6.5-0.5 6.4 0.6 6.5 0.9 6.5 0.2 6.5-0.8 6.4 1.6 6.5 0.6 6.5 0 6.4-0.3 6.5-0.3 6.5 1.9 6.5 0.9 6.4-1.5 6.5-1.3 6.5 0.5 6.4-0.9 6.5-0.7 6.5 1.4 6.5-0.7 6.4 0.7 6.5-0.9" stroke="#619CFF"/>
<path d="M89.9 717l6.5 1 6.4-2.3 6.5 1.6 6.5 0.1 6.5 0.3 6.4-0.7 6.5-1.2 6.5 1 6.4 1.1 6.5 0.7 6.5 0 6.5 1 6.4-0.2 6.5 1.1 6.5 1.2 6.4-1.1 6.5 0 6.5-0.4 6.4-1.4 6.5 0.5 6.5-0.3 6.5 1.5 6.4-0.6 6.5-0.1 6.5 1.1 6.4-0.4 6.5-1.6 6.5-0.5 6.5 0.8 6.4 0.6 6.5 0 6.5-1.4 6.4-0.6 6.5 1.1 6.5 0.9 6.5 0.5 6.4 0.2 6.5-0.7" stroke="#00BA38"/>
<path d="M89.9 710.5l6.5-2.2 6.4 2.1 6.5 3.6 6.5-0.3 6.5 1.3 6.4-2.1 6.5 0.5 6.5-1.2 6.4 1.8 6.5 0.1 6.5 1.6 6.5 0 6.4 0.9 6.5 0.1 6.5 0.9 6.4-0.2 6.5 0.5 6.5 0.3 6.4-0.2 6.5-0.4 6.5 0.4 6.5-1.4 6.4 1.5 6.5-0.8 6.5 0.7 6.4 0.5 6.5 0.2 6.5 0.7 6.5-0.1 6.4 0.8 6.5 0.6 6.5-0.6 6.4 0.3 6.5 0.6 6.5-1 6.5-0.8 6.4-0.3 6.5 1.2" stroke="#619CFF"/>
<path d="M89.9 734.4l6.5 2.2 6.4 1.5 6.5 3.3 6.5 3.7 6.5-0.3 6.4 2.9 6.5-0.7 6.5 1.8 6.4-0.1 6.5 0.4 6.5 0.4 6.5 1 6.4 0.4 6.5-0.2 6.5 1.7 6.4 0.8 6.5 0.5 6.5-0.4 6.4-0.4 6.5 1.8 6.5-0.1 6.5-0.2 6.4 1.5 6.5-1.1 6.5 0.4 6.4 0.2 6.5 0 6.5-0.5 6.5-0.1 6.4 0.2 6.5 0 6.5 0.2 6.4 1.9 6.5-2.3 6.5 1 6.5 0.1 6.4 0.8 6.5 0.7" stroke="#00BA38"/>
<path d="M89.9 723.9l6.5 3.7 6.4 0.6 6.5 2.6 6.5-1.1 6.5-0.1 6.4 0.9 6.5 2.6 6.5-0.1 6.4 0.3 6.5 0.7 6.5 0.1 6.5 0.7 6.4 1.6 6.5-1.8 6.5 1.7 6.4 0 6.5 1.4 6.5 0.3 6.4 0 6.5-0.4 6.5-0.4 6.5-0.4 6.4-0.4 6.5-0.9 6.5 0.3 6.4-0.8 6.5 1.1 6.5-0.6 6.5 1.3 6.4 0.4 6.5-1.7 6.5-0.5 6.4 0.5 6.5 1.8 6.5 0.1 6.5-0.8 6.4 1.3 6.5-1.7" stroke="#00BA38"/>
<path d="M89.9 730.5l6.5 1 6.4 6.2 6.5-0.1 6.5 4 6.5-0.7 6.4 3.2 6.5-0.6 6.5 0.2 6.4 2.4 6.5 1.4 6.5 0.4 6.5 0.2 6.4 2.9 6.5-0.6 6.5-0.4 6.4 1.1 6.5-2 6.5 1 6.4-0.7 6.5 1.2 6.5-1.2 6.5 0.7 6.4-0.1 6.5 1.6 6.5 0.4 6.4-0.6 6.5 0.1 6.5 0 6.5 0.8 6.4-1 6.5 0.8 6.5-0.7 6.4 0 6.5 1 6.5 0 6.5 0.1 6.4 0.3 6.5-0.7" stroke="#F8766D"/>
<path d="M89.9 715.8l6.5 2.4 6.4-3.1 6.5-1.1 6.5 0.4 6.5 0.9 6.4-1 6.5-0.5 6.5 1.7 6.4-0.1 6.5 0 6.5 1.6 6.5-0.3 6.4-2.1 6.5 2 6.5-0.7 6.4-0.6 6.5-0.7 6.5 0 6.4 1.4 6.5 0.8 6.5-1.2 6.5 0.1 6.4 1.6 6.5-0.7 6.5-1.6 6.4-0.1 6.5 0.5 6.5 0.4 6.5 0.1 6.4 1 6.5 0.2 6.5-1 6.4-0.6 6.5 0.4 6.5-0.8 6.5 0.9 6.4 0.1 6.5 0.2" stroke="#F8766D"/>
<path d="M89.9 703.5l6.5-1.9 6.4 0 6.5-0.9 6.5-1.4 6.5-1.6 6.4 0.7 6.5-1.7 6.5-2.1 6.4 1.4 6.5 0.3 6.5-1.8 6.5-0.5 6.4 1.9 6.5-1.6 6.5-1.1 6.4 0.1 6.5-0.3 6.5-1.9 6.4 0.4 6.5 0.4 6.5-0.4 6.5-1 6.4 0.3 6.5-0.1 6.5 2.2 6.4-0.3 6.5 1.2 6.5-0.6 6.5 1.3 6.4 0.2 6.5-0.1 6.5-0.2 6.4 0.2 6.5-0.7 6.5 0.5 6.5-2.2 6.4 0.7 6.5 0.4" stroke="#00BA38"/>
<path d="M89.9 711.1l6.5-3.6 6.4-1.2 6.5 0.5 6.5 0 6.5 0.9 6.4 0.5 6.5-0.7 6.5-0.2 6.4-0.3 6.5 0.2 6.5 1.1 6.5-1.3 6.4-0.4 6.5 0.3 6.5 1.3 6.4 0.3 6.5-0.2 6.5-1.1 6.4 0.9 6.5-0.4 6.5-1 6.5 0.5 6.4 0.4 6.5-1.1 6.5 0.7 6.4 0.6 6.5 0 6.5 1.1 6.5-1.6 6.4-0.5 6.5 0.8 6.5 0.5 6.4 0.4 6.5 0.5 6.5 0 6.5 0.8 6.4-1 6.5-1" stroke="#F8766D"/>
<path d="M89.9 725.7l6.5 2.2 6.4 0.2 6.5 2.8 6.5 3.7 6.5 0.8 6.4 1.4 6.5 2.2 6.5 0 6.4 2.3 6.5 0.1 6.5 1 6.5 1.8 6.4 0.7 6.5 1.5 6.5-1.1 6.4 1.3 6.5 0.1 6.5 0.3 6.4 0.1 6.5 0.4 6.5 0.8 6.5-0.6 6.4-0.2 6.5-0.3 6.5-0.3 6.4 0.8 6.5 0.9 6.5 0.7 6.5-1.2 6.4 0.2 6.5 0.1 6.5 0.2 6.4-1.2 6.5 1 6.5 0.1 6.5-1.4 6.4-0.1 6.5-0.1" stroke="#00BA38"/>
<path d="M89.9 696l6.5-3.1 6.4-3.6 6.5-2.9 6.5-3 6.5 0.7 6.4-2.6 6.5-2 6.5-0.5 6.4-1.6 6.5-1 6.5 0.9 6.5 0 6.4-0.9 6.5-0.5 6.5-0.2 6.4-0.6 6.5 0.8 6.5-1.4 6.4 1 6.5 0.4 6.5-0.2 6.5 1.1 6.4-1.8 6.5 0.1 6.5-1.4 6.4 0.7 6.5-0.2 6.5 1.1 6.5-0.9 6.4-0.6 6.5 0 6.5 0.3 6.4-0.7 6.5-0.9 6.5 0.8 6.5 1.4 6.4 0.4 6.5-0.8" stroke="#00BA38"/>
<path d="M89.9 724.9l6.5 5 6.4 5.8 6.5-0.5 6.5-0.1 6.5 0 6.4 2.3 6.5 2.2 6.5-0.4 6.4 0.9 6.5-0.8 6.5 0.9 6.5 1.2 6.4-0.3 6.5 0.6 6.5-0.1 6.4 0.4 6.5-1.2 6.5 0 6.4 0 6.5 1 6.5-0.4 6.5-0.4 6.4 0.3 6.5 0.1 6.5 0.1 6.4 1.5 6.5-0.4 6.5 0.8 6.5-0.3 6.4 0 6.5-0.3 6.5 0.8 6.4-0.2 6.5-0.5 6.5 0.5 6.5 0.7 6.4 1.1 6.5-0.3" stroke="#619CFF"/>
<path d="M89.9 697.3l6.5-4.7 6.4-3.6 6.5-1.1 6.5-1.6 6.5 1.8 6.4-1.7 6.5-0.1 6.5-0.1 6.4-1.4 6.5 1.2 6.5-0.6 6.5-1.9 6.4 0.3 6.5 0.2 6.5 0.6 6.4-1.8 6.5-0.5 6.5 0.2 6.4 0.4 6.5 1.2 6.5-0.6 6.5 0.2 6.4-0.4 6.5-0.3 6.5-0.3 6.4-0.3 6.5 0.9 6.5-1.1 6.5 1.6 6.4-0.1 6.5 0.2 6.5 0.1 6.4-1.3 6.5 0.3 6.5 0.2 6.5 0.9 6.4-0.2 6.5-0.4" stroke="#00BA38"/>
<path d="M89.9 707.2l6.5-4.1 6.4 0.7 6.5-0.2 6.5-1.7 6.5 0.7 6.4 0.3 6.5-0.7 6.5-0.5 6.4 0.1 6.5 1.6 6.5-1.5 6.5 0.8 6.4-0.2 6.5 0.6 6.5-1.1 6.4 0.2 6.5-0.2 6.5-0.3 6.4 0.1 6.5-0.7 6.5-1 6.5-0.2 6.4 0.3 6.5-1.3 6.5 1 6.4 0.6 6.5 1.3 6.5-0.6 6.5-0.2 6.4 0.5 6.5-0.3 6.5 0.1 6.4-0.5 6.5 1 6.5-0.4 6.5 0.3 6.4 0.6 6.5-0.5" stroke="#619CFF"/>
<path d="M89.9 710.4l6.5-0.9 6.4 0.9 6.5-0.1 6.5-0.2 6.5 0.7 6.4-0.3 6.5-1 6.5 1 6.4-0.8 6.5 0.5 6.5-0.5 6.5-0.6 6.4 0.5 6.5 0.2 6.5-0.1 6.4 0.2 6.5 1.1 6.5-0.2 6.4-0.7 6.5-1 6.5 0.3 6.5 0.7 6.4-0.8 6.5 0 6.5 0.5 6.4-1.1 6.5 1.5 6.5 0.2 6.5-1.3 6.4 0.3 6.5 0.2 6.5 0.4 6.4-0.2 6.5-1.1 6.5-0.3 6.5 1.3 6.4 0.7 6.5-0.4" stroke="#00BA38"/>
<path d="M89.9 707.9l6.5-2.8 6.4 2.8 6.5 1.9 6.5-1.6 6.5-1.4 6.4-0.4 6.5-0.9 6.5 1.7 6.4 1.3 6.5-0.4 6.5 2.8 6.5-1.1 6.4-0.8 6.5 0.4 6.5 1 6.4 1 6.5-0.1 6.5 0.5 6.4-0.8 6.5-0.4 6.5 1.3 6.5-1.3 6.4 0.4 6.5-1.2 6.5 1.1 6.4-0.3 6.5-0.5 6.5-0.6 6.5-0.6 6.4-0.1 6.5 0 6.5 0.3 6.4 1 6.5-0.5 6.5-0.5 6.5 1.8 6.4 0 6.5 0.1" stroke="#619CFF"/>
<path d="M89.9 727.9l6.5 6.3 6.4 1 6.5 1.8 6.5 1.8 6.5 1.7 6.4 1.1 6.5 1.9 6.5 1.5 6.4 1 6.5 2.6 6.5-1.5 6.5-0.1 6.4 0.3 6.5 0.4 6.5 1.8 6.4 1.2 6.5 0.9 6.5 0.1 6.4-1.4 6.5-0.6 6.5-0.1 6.5 1 6.4-0.9 6.5 1 6.5 0.3 6.4-0.7 6.5 0.1 6.5 0.4 6.5-0.7 6.4 1.1 6.5 0.4 6.5 1.2 6.4 0.4 6.5-0.9 6.5-0.9 6.5-0.8 6.4 1 6.5 0.1" stroke="#00BA38"/>
<path d="M89.9 704.5l6.5 0.6 6.4-2.7 6.5-0.2 6.5-1 6.5-0.9 6.4 0.8 6.5 0.4 6.5-0.9 6.4 0.7 6.5 1.1 6.5-0.1 6.5-0.6 6.4 0 6.5-1.3 6.5-0.9 6.4 0 6.5 0.2 6.5 0.4 6.4 0.6 6.5-0.8 6.5 0.9 6.5-0.5 6.4 0.3 6.5 0.4 6.5-1.7 6.4 0 6.5 1.2 6.5 1.2 6.5-0.2 6.4-1.5 6.5-0.1 6.5 0.3 6.4-0.2 6.5 0 6.5-0.4 6.5 0.7 6.4 0.3 6.5 1.1" stroke="#F8766D"/>
<path d="M89.9 681l6.5-5.1 6.4-6.5 6.5-2.3 6.5-3.3 6.5-2.9 6.4-3.5 6.5-0.9 6.5-3.5 6.4-0.8 6.5-2.1 6.5 1.6 6.5-1.3 6.4-1.3 6.5-0.5 6.5-2.2 6.4 0.2 6.5-0.5 6.5 0.7 6.4 0.1 6.5 0.6 6.5 1 6.5 0.2 6.4 0 6.5-0.8 6.5-1.7 6.4-1.4 6.5 1.6 6.5-1.1 6.5 0.9 6.4 0.6 6.5-1.3 6.5-0.5 6.4 1.8 6.5-0.1 6.5 0 6.5 0.9 6.4 0.1 6.5-1.1" stroke="#619CFF"/>
<path d="M89.9 727.2l6.5 1.4 6.4 0.4 6.5 4 6.5 1 6.5 3.3 6.4-0.3 6.5-0.4 6.5 1.6 6.4 3.2 6.5-1.3 6.5 1.5 6.5 0.1 6.4 0.4 6.5 1.5 6.5-0.3 6.4 2.1 6.5-0.8 6.5 1 6.4 0.5 6.5 0.3 6.5-1 6.5-0.1 6.4 0.1 6.5 0.9 6.5-0.3 6.4 0.1 6.5 2.2 6.5-0.2 6.5 0.2 6.4 1.1 6.5 1.3 6.5-0.6 6.4-0.2 6.5 0.4 6.5 1 6.5-0.3 6.4 0.5 6.5-0.1" stroke="#00BA38"/>
<path d="M89.9 723l6.5 2.7 6.4 3.6 6.5 4 6.5 2.6 6.5-0.5 6.4 1.8 6.5 2 6.5-1.3 6.4 2.4 6.5 1.9 6.5 1.5 6.5-0.8 6.4-0.1 6.5 1.5 6.5 0.4 6.4-0.2 6.5-0.9 6.5 1.1 6.4-0.2 6.5 0.5 6.5-0.6 6.5 0.5 6.4 0.9 6.5 0.4 6.5 0.7 6.4 0.7 6.5-0.1 6.5-1.1 6.5 0.4 6.4-0.4 6.5 1.2 6.5 1.2 6.4-0.4 6.5 0.3 6.5-0.4 6.5 0.7 6.4-0.3 6.5-0.5" stroke="#F8766D"/>
<path d="M89.9 703.6l6.5-0.6 6.4-3.9 6.5-1.3 6.5-0.1 6.5-1.3 6.4-0.3 6.5-0.6 6.5-1.8 6.4-0.8 6.5-0.8 6.5 0.2 6.5-0.2 6.4-1.4 6.5 0.1 6.5-0.5 6.4 0.8 6.5 1.5 6.5-2.3 6.4 0.8 6.5 0.6 6.5-0.1 6.5 0.5 6.4-0.5 6.5 1.2 6.5-0.5 6.4 0.4 6.5-1.5 6.5 1.5 6.5 0.1 6.4-0.6 6.5-0.6 6.5-0.2 6.4 0.6 6.5-0.5 6.5-0.3 6.5 0.6 6.4-0.2 6.5-0.6" stroke="#619CFF"/>
<path d="M89.9 700.8l6.5-1.7 6.4-1.8 6.5 0.1 6.5-2.6 6.5-2.9 6.4 2.1 6.5-1.4 6.5-1 6.4 1.4 6.5 0.8 6.5-1.5 6.5-1.4 6.4-0.7 6.5-0.3 6.5-1.4 6.4 0.8 6.5-0.8 6.5 1.4 6.4-0.7 6.5 1.1 6.5-0.8 6.5 0.3 6.4-0.2 6.5-0.2 6.5-1.2 6.4 1.2 6.5-0.8 6.5-0.1 6.5 1 6.4 0.4 6.5-0.9 6.5 1 6.4-0.7 6.5 0.8 6.5 0.1 6.5-1.1 6.4 1.9 6.5 0.3" stroke="#00BA38"/>
<path d="M89.9 731.6l6.5-1.4 6.4 4 6.5 0.4 6.5 1.7 6.5 2.1 6.4 0.6 6.5 0.3 6.5 2.5 6.4 0.6 6.5 2.3 6.5-1.6 6.5 0.6 6.4 0.3 6.5 1.3 6.5 0.2 6.4-0.1 6.5-0.3 6.5 0.9 6.4 0 6.5 0.6 6.5 0.8 6.5-0.5 6.4-1.5 6.5 0.2 6.5 1.9 6.4 0.4 6.5 1.6 6.5-0.7 6.5-0.3 6.4-0.6 6.5 1.2 6.5-0.8 6.4 1 6.5 0.3 6.5-1.1 6.5-0.2 6.4 0.8 6.5-1.4" stroke="#F8766D"/>
<path d="M89.9 715.2l6.5 0.3 6.4-0.9 6.5 1.3 6.5-1.3 6.5 0 6.4-2.7 6.5 1.4 6.5-0.8 6.4 0.5 6.5-0.8 6.5 0.6 6.5-0.4 6.4 0.2 6.5-0.1 6.5-2.1 6.4 0.7 6.5 0.8 6.5 1.3 6.4 0.2 6.5-1.8 6.5-1.3 6.5 0.6 6.4 0.4 6.5 0.4 6.5 0.1 6.4-0.3 6.5 0.5 6.5 0.7 6.5 0 6.4 1.4 6.5 0.8 6.5-1.9 6.4-0.5 6.5-0.9 6.5 0 6.5 1.2 6.4 0.1 6.5 0.4" stroke="#F8766D"/>
<path d="M89.9 720.7l6.5 1 6.4 2.6 6.5-1.3 6.5-0.5 6.5 1 6.4-0.4 6.5 2.6 6.5 0.8 6.4-1.2 6.5 1.3 6.5-0.1 6.5-0.8 6.4 0.7 6.5 1 6.5-0.4 6.4 0 6.5 1.2 6.5-1.5 6.4 0.1 6.5-0.2 6.5 0.5 6.5-1.2 6.4 0.3 6.5 0.6 6.5-0.2 6.4-0.6 6.5-0.2 6.5 0.3 6.5-0.7 6.4 0.1 6.5 0.9 6.5 0.9 6.4-0.1 6.5-0.3 6.5 0.4 6.5-0.6 6.4-1.2 6.5 0.3" stroke="#619CFF"/>
<path d="M89.9 722.3l6.5 1.6 6.4 1.3 6.5 0.6 6.5 1.3 6.5 2.8 6.4 1 6.5 1.4 6.5 0.6 6.4 1.7 6.5-1 6.5 0.7 6.5 0.5 6.4 0.1 6.5 0.7 6.5 0.8 6.4 0.3 6.5-0.3 6.5 0.4 6.4 0.9 6.5 0.6 6.5-0.1 6.5 1.5 6.4-0.8 6.5-0.6 6.5 0.6 6.4 0.3 6.5 0.1 6.5-0.2 6.5 0.2 6.4 1 6.5-0.8 6.5 0.8 6.4-2.2 6.5 1.5 6.5-0.1 6.5-0.9 6.4 1.1 6.5 0.5" stroke="#00BA38"/>
<path d="M89.9 717.2l6.5 1 6.4-0.3 6.5-1.3 6.5 1 6.5 0 6.4 1.6 6.5-0.7 6.5 0.3 6.4 0.4 6.5-1 6.5-0.4 6.5 1.9 6.4-0.8 6.5 0 6.5-0.9 6.4 0 6.5 0.6 6.5 0.3 6.4-1.6 6.5 0.7 6.5-1.8 6.5 1.1 6.4 1.2 6.5 0 6.5 0.5 6.4-0.1 6.5-1.1 6.5 0 6.5 1.5 6.4-0.7 6.5 0.1 6.5 0.7 6.4-2 6.5 0.3 6.5-0.3 6.5-0.7 6.4 1.5 6.5 0.9" stroke="#F8766D"/>
<path d="M89.9 712.5l6.5 2.5 6.4 1.1 6.5-2 6.5-1.7 6.5-2.4 6.4 3.5 6.5-0.2 6.5 1.3 6.4-0.5 6.5 0 6.5 2.5 6.5-0.5 6.4 0.7 6.5-0.7 6.5 0.2 6.4-0.3 6.5-0.3 6.5-0.5 6.4 1.2 6.5 0 6.5-1.2 6.5-0.3 6.4 1.9 6.5 1.2 6.5 0.2 6.4-0.7 6.5-1.2 6.5 0.7 6.5 0 6.4 0.4 6.5-0.2 6.5 0.3 6.4 0.5 6.5 1 6.5 0.1 6.5 0.5 6.4-0.3 6.5-1" stroke="#F8766D"/>
<path d="M89.9 717.8l6.5 0 6.4 1.8 6.5-1 6.5 3.4 6.5 1.1 6.4 0.5 6.5 2.6 6.5 0.2 6.4-0.5 6.5 1.5 6.5-0.3 6.5 1 6.4 0.9 6.5-0.7 6.5-0.1 6.4-0.3 6.5 0.8 6.5-0.3 6.4 0.8 6.5-2.3 6.5-0.3 6.5 0.9 6.4-0.3 6.5 0.5 6.5-0.4 6.4 1 6.5-0.5 6.5-0.4 6.5 1.2 6.4-0.5 6.5-0.6 6.5 0.6 6.4-1.3 6.5 1.3 6.5-0.4 6.5-1.8 6.4 0 6.5 1.4" stroke="#619CFF"/>
<path d="M89.9 661.7l6.5-13.4 6.4-9.6 6.5-7 6.5-7.2 6.5-2.1 6.4-4.9 6.5-2.8 6.5-3.3 6.4 0.1 6.5-1 6.5-0.3 6.5-1.1 6.4 1.7 6.5-0.4 6.5-0.9 6.4-0.5 6.5-0.5 6.5-1.6 6.4 0.8 6.5-0.3 6.5 1.4 6.5 0 6.4 1.8 6.5-0.1 6.5-0.6 6.4 0.2 6.5-3.9 6.5 1.8 6.5-0.2 6.4-0.7 6.5-0.2 6.5 1.2 6.4 0.4 6.5 0 6.5-1 6.5 0.5 6.4-0.3 6.5 0.6" stroke="#619CFF"/>
<path d="M89.9 709.2l6.5-4.2 6.4 0.1 6.5-1.5 6.5-1.8 6.5-0.3 6.4-2.5 6.5-0.4 6.5-0.2 6.4-1 6.5 1.8 6.5 0.8 6.5 0.7 6.4-1.9 6.5 2.1 6.5-0.4 6.4-0.3 6.5-1.1 6.5-0.4 6.4 0.3 6.5 1.1 6.5 0.6 6.5-0.9 6.4 0.8 6.5 0.3 6.5-1 6.4-1.2 6.5 0.8 6.5 0.2 6.5-0.5 6.4-0.2 6.5 0.7 6.5 1.2 6.4-1.4 6.5 0.6 6.5 1.2 6.5 0.6 6.4-1 6.5-0.4" stroke="#00BA38"/>
<path d="M89.9 723.1l6.5 2.3 6.4 1.1 6.5 0.9 6.5 0.4 6.5 2 6.4-1.5 6.5 0.7 6.5-0.2 6.4 1.7 6.5-1.1 6.5-0.8 6.5 0.1 6.4 0.1 6.5-0.7 6.5 1.4 6.4 1.7 6.5 0.8 6.5 1.4 6.4 0.2 6.5-2.1 6.5 0.5 6.5 0.9 6.4-2.4 6.5 1.5 6.5-1.5 6.4 0 6.5 1.3 6.5 0.2 6.5 0.1 6.4-0.5 6.5 0.2 6.5-0.2 6.4 1.7 6.5-1 6.5 0.8 6.5-0.3 6.4-0.8 6.5-0.9" stroke="#F8766D"/>
<path d="M89.9 720.3l6.5 0.5 6.4 3.8 6.5 1.4 6.5 1.6 6.5 1 6.4-1.1 6.5 1.9 6.5 0.3 6.4 2.7 6.5 0 6.5 1.4 6.5 0 6.4-0.2 6.5 0.6 6.5-0.4 6.4-0.1 6.5 1.1 6.5 0.7 6.4-0.1 6.5 1.6 6.5-0.7 6.5 0.6 6.4-0.7 6.5 0.9 6.5-1.6 6.4 0.4 6.5-0.3 6.5 1.1 6.5-0.1 6.4 0.4 6.5-1.1 6.5 1 6.4 0.2 6.5 0 6.5-0.3 6.5 0 6.4-0.4 6.5-1" stroke="#619CFF"/>
<path d="M89.9 725.5l6.5 2.3 6.4 2.1 6.5 1.7 6.5-0.2 6.5 0.3 6.4 0 6.5 1.5 6.5 1.8 6.4 1.8 6.5 0.7 6.5 0 6.5 0.5 6.4 1.7 6.5 0.9 6.5 1.3 6.4-1 6.5 2.9 6.5 0.1 6.4-0.6 6.5 0 6.5-0.1 6.5-0.5 6.4 1.2 6.5-1.4 6.5-0.6 6.4 0.8 6.5 0 6.5 0.4 6.5 0.7 6.4-0.8 6.5-1.6 6.5 0.6 6.4 0.7 6.5-1.2 6.5 1.5 6.5 0.5 6.4 0.6 6.5-0.1" stroke="#00BA38"/>
<path d="M89.9 729l6.5 4.4 6.4 0.3 6.5 2.8 6.5 1 6.5 3.1 6.4-0.8 6.5 1.1 6.5 1.6 6.4 0 6.5-0.6 6.5 1.5 6.5 2 6.4 1.8 6.5 0.6 6.5 0.6 6.4 0.6 6.5-0.7 6.5 1.9 6.4 0.3 6.5 0.2 6.5 2.1 6.5-1 6.4-0.4 6.5 0.5 6.5 0.1 6.4-0.2 6.5 0.1 6.5 0.7 6.5-1 6.4 0.5 6.5-0.2 6.5 0.2 6.4 0.2 6.5-1 6.5 1.3 6.5-0.1 6.4 1.6 6.5-0.6" stroke="#619CFF"/>
<path d="M89.9 693.9l6.5-2.7 6.4-3 6.5-2.2 6.5-0.1 6.5-1.8 6.4-1.3 6.5-2.1 6.5-0.2 6.4-2.4 6.5 0.4 6.5-0.9 6.5 1.2 6.4-1.2 6.5-0.2 6.5-0.4 6.4-0.1 6.5 0.5 6.5 0.9 6.4-0.4 6.5-0.1 6.5 1 6.5-1 6.4 0.5 6.5-0.5 6.5 0.6 6.4 0.1 6.5-1.9 6.5-0.4 6.5 1.6 6.4-0.5 6.5 0.8 6.5 0.1 6.4 0.3 6.5-0.6 6.5-0.4 6.5 0.2 6.4 0.4 6.5-0.7" stroke="#00BA38"/>
<path d="M89.9 695.6l6.5-1.5 6.4-1.3 6.5-5.2 6.5-2.1 6.5-2.5 6.4-1.4 6.5-0.8 6.5-0.8 6.4-1.8 6.5-1.6 6.5 0.9 6.5-1.3 6.4 0.5 6.5 1.2 6.5-1.5 6.4 0.3 6.5-1.2 6.5 0.7 6.4-1.1 6.5-0.5 6.5 0.6 6.5-0.1 6.4 0.6 6.5-1.5 6.5-0.2 6.4-1.3 6.5-0.3 6.5 0.9 6.5 2 6.4 0.5 6.5-0.6 6.5-0.9 6.4 0.8 6.5 1.3 6.5-0.8 6.5 0.5 6.4-0.2 6.5-1.1" stroke="#00BA38"/>
<path d="M89.9 732.6l6.5 3.6 6.4 1.2 6.5 1.4 6.5 2.8 6.5 0.9 6.4 2.2 6.5 1.6 6.5 0.9 6.4-0.1 6.5 1.5 6.5 0.7 6.5-0.3 6.4 0.9 6.5-0.1 6.5 1.6 6.4 0.7 6.5 0.2 6.5-1 6.4 0.6 6.5-1.8 6.5 0.7 6.5 1.8 6.4-0.7 6.5-0.6 6.5 1.1 6.4-0.2 6.5 0 6.5 0.4 6.5-0.5 6.4-0.7 6.5 1.5 6.5 0.3 6.4-0.7 6.5 1.6 6.5-0.6 6.5-1.8 6.4 1.1 6.5-0.2" stroke="#00BA38"/>
<path d="M89.9 720.2l6.5 1.4 6.4 0.1 6.5 0.7 6.5 0.2 6.5 3.4 6.4-1.6 6.5 1.1 6.5 1.6 6.4-0.1 6.5 0.6 6.5 0.1 6.5 1.1 6.4 0.1 6.5 0.7 6.5-0.8 6.4-0.2 6.5-0.3 6.5 0.2 6.4-0.4 6.5 0 6.5-0.2 6.5 0.5 6.4 0.3 6.5-0.9 6.5-0.4 6.4 1.4 6.5-0.8 6.5-0.4 6.5 0.3 6.4 0.4 6.5 0.1 6.5 0.6 6.4 0.5 6.5-0.7 6.5 0.4 6.5 1 6.4-0.3 6.5-1.5" stroke="#00BA38"/>
<path d="M89.9 682.3l6.5-2.7 6.4-6.3 6.5-5.1 6.5-2.5 6.5-2.8 6.4-2.7 6.5-0.7 6.5-2.3 6.4-0.9 6.5-1.1 6.5-0.9 6.5 0.5 6.4 0.7 6.5-0.4 6.5-0.1 6.4-0.5 6.5 0 6.5-0.1 6.4-1 6.5 0.8 6.5 1.1 6.5-0.7 6.4-1.1 6.5 1.1 6.5-0.5 6.4 0 6.5-0.7 6.5-0.2 6.5 0.6 6.4 0.2 6.5-0.5 6.5 0.1 6.4 0.8 6.5-0.6 6.5-0.9 6.5 0.3 6.4-0.7 6.5-0.4" stroke="#619CFF"/>
<path d="M89.9 721.8l6.5-0.5 6.4 4.3 6.5 1.4 6.5 1 6.5 1.8 6.4-0.8 6.5 1.9 6.5 1.8 6.4-0.4 6.5 1.3 6.5-0.8 6.5 0.1 6.4 2.5 6.5-0.9 6.5 1.9 6.4 0.7 6.5-0.8 6.5-0.2 6.4-0.5 6.5 0.8 6.5 0.6 6.5-0.5 6.4 1.3 6.5-0.9 6.5 0.2 6.4-0.7 6.5 1.9 6.5 0.8 6.5-0.3 6.4-0.4 6.5-0.9 6.5 0.2 6.4-0.1 6.5-0.1 6.5-0.2 6.5-0.4 6.4-0.7 6.5 0" stroke="#F8766D"/>
<path d="M89.9 701.7l6.5-0.3 6.4-0.4 6.5 0.9 6.5 0.6 6.5-0.7 6.4 2.1 6.5 0.2 6.5 0.5 6.4-1.9 6.5 0.9 6.5-0.6 6.5-0.2 6.4 0.2 6.5-0.2 6.5 0.5 6.4-0.2 6.5 1.1 6.5-0.3 6.4-0.2 6.5-0.8 6.5 1 6.5 1.2 6.4-0.8 6.5-0.3 6.5-0.6 6.4-0.8 6.5 0.6 6.5-0.5 6.5 0.8 6.4 0 6.5 0.1 6.5-0.1 6.4 0.2 6.5 0.1 6.5 0.4 6.5-1 6.4 0.7 6.5 0.5" stroke="#619CFF"/>
<path d="M89.9 695.9l6.5-5.3 6.4-1.2 6.5-3.1 6.5-0.4 6.5-2.4 6.4-1.1 6.5-0.1 6.5-0.4 6.4-1.9 6.5-1 6.5-0.4 6.5-0.7 6.4 1.4 6.5-1.5 6.5-0.1 6.4-0.2 6.5-1.5 6.5 1.7 6.4 0.9 6.5 0.9 6.5 0.8 6.5-1 6.4-1.2 6.5 0.8 6.5-0.1 6.4-1.5 6.5 0.7 6.5-0.4 6.5-1.1 6.4 0.6 6.5 0.5 6.5 0.8 6.4-0.9 6.5 1.3 6.5 0.3 6.5 0.1 6.4 1 6.5 0.4" stroke="#00BA38"/>
<path d="M89.9 728.4l6.5 4.3 6.4 4.5 6.5 1.5 6.5 1.4 6.5-0.1 6.4 2.5 6.5 0 6.5 2.4 6.4 0.8 6.5 0.3 6.5 1.9 6.5 1.4 6.4-0.6 6.5-0.7 6.5-1.2 6.4 0.8 6.5 1.4 6.5-0.1 6.4 1.2 6.5 0.1 6.5 0 6.5 0.7 6.4-0.8 6.5-0.2 6.5 0.3 6.4 0.1 6.5 0.5 6.5 0.1 6.5 0.3 6.4-0.3 6.5 1.9 6.5-1.8 6.4 1.2 6.5 0.5 6.5 0.8 6.5-2.1 6.4 1.9 6.5-1.7" stroke="#F8766D"/>
<path d="M89.9 715.4l6.5 2.3 6.4-0.8 6.5 0.6 6.5 2.9 6.5-0.5 6.4-1.2 6.5 0.5 6.5 1.9 6.4 1.4 6.5 0.8 6.5-0.2 6.5-1.1 6.4-0.4 6.5-0.5 6.5 1.1 6.4 1.2 6.5-0.5 6.5 1.4 6.4-1.1 6.5 1.6 6.5-0.4 6.5 0 6.4-1.3 6.5 2.6 6.5-0.5 6.4-1.8 6.5-0.5 6.5-0.4 6.5 0.2 6.4 0.5 6.5 0.1 6.5 0.3 6.4 0.8 6.5 0.3 6.5 0.4 6.5-0.2 6.4 0.2 6.5 0.3" stroke="#619CFF"/>
<path d="M89.9 719.8l6.5-1 6.4 1.6 6.5 1.7 6.5 0.3 6.5 1 6.4-0.8 6.5 2.2 6.5 0.2 6.4-0.4 6.5-0.2 6.5-0.3 6.5 0.1 6.4 1 6.5 1.2 6.5-0.5 6.4-0.9 6.5-0.4 6.5 0 6.4 2 6.5-0.6 6.5-0.2 6.5-1 6.4 0 6.5 0.5 6.5 0.4 6.4 1.6 6.5-0.9 6.5 0.7 6.5-1.2 6.4-1.2 6.5 0.3 6.5 0 6.4 1.3 6.5 0.4 6.5 0 6.5 0.2 6.4 1.4 6.5-0.1" stroke="#F8766D"/>
<path d="M89.9 734.6l6.5 1.9 6.4 3.7 6.5 1.4 6.5 2 6.5 1.6 6.4 0.2 6.5 1.8 6.5 0.4 6.4 1 6.5-0.3 6.5 1.4 6.5-2.1 6.4 1.2 6.5 0 6.5 0.2 6.4 0.2 6.5 1.3 6.5-0.5 6.4 0.9 6.5 0.4 6.5-1.1 6.5-0.7 6.4 1.5 6.5 0 6.5-0.8 6.4-1.3 6.5-1.8 6.5 0.5 6.5 0.3 6.4-0.3 6.5 1.2 6.5 0.5 6.4 0 6.5 0.6 6.5-0.1 6.5 0.1 6.4-0.2 6.5 1.4" stroke="#F8766D"/>
<path d="M89.9 716.5l6.5 3.3 6.4 1 6.5-0.4 6.5-0.3 6.5 1 6.4 0.3 6.5 1 6.5-1.8 6.4 1.4 6.5-0.6 6.5 2.1 6.5 0.7 6.4 0.8 6.5-0.3 6.5 1.2 6.4 0.9 6.5 1.1 6.5-1.5 6.4 0.5 6.5-0.3 6.5 0.4 6.5-0.5 6.4-0.2 6.5 0.3 6.5 0.2 6.4 0.2 6.5 1.4 6.5-2.8 6.5-0.3 6.4-0.4 6.5 0.7 6.5 0.9 6.4 0.9 6.5-0.3 6.5 0.5 6.5-0.7 6.4 1.8 6.5-0.7" stroke="#00BA38"/>
<path d="M89.9 715.5l6.5-0.4 6.4 0.7 6.5 3.4 6.5 0.2 6.5 1.4 6.4-1.9 6.5 0 6.5 1.1 6.4-0.8 6.5 1.6 6.5-0.7 6.5-1 6.4 1.2 6.5 1.7 6.5 0.3 6.4-0.7 6.5 0.8 6.5-0.9 6.4-1.1 6.5-0.1 6.5 1.1 6.5 0.8 6.4-2 6.5 0.4 6.5 0 6.4 0.7 6.5-0.4 6.5-0.5 6.5 0.6 6.4 0.7 6.5 0.2 6.5 0.1 6.4 0.2 6.5-0.7 6.5-0.4 6.5-0.2 6.4-0.5 6.5 1.6" stroke="#F8766D"/>
<path d="M89.9 705.8l6.5-1.7 6.4-0.4 6.5 1.4 6.5-1.4 6.5-0.8 6.4-0.3 6.5-0.1 6.5-1 6.4-0.2 6.5 0.3 6.5-0.3 6.5 0.9 6.4 0.3 6.5-0.7 6.5-0.8 6.4 0.2 6.5 1.6 6.5-0.3 6.4-2.3 6.5 0.4 6.5 0.7 6.5-0.4 6.4 0 6.5 0.3 6.5-0.7 6.4 0 6.5-0.6 6.5-0.2 6.5-1.2 6.4 1.7 6.5 0.5 6.5 1.1 6.4-0.6 6.5-1.2 6.5 0.2 6.5 1.5 6.4-1.7 6.5 0.4" stroke="#F8766D"/>
<path d="M89.9 716l6.5-1.2 6.4 2.6 6.5-0.7 6.5-0.3 6.5 0.1 6.4 0.9 6.5 0.5 6.5 0.1 6.4-1.2 6.5-0.2 6.5-0.8 6.5-0.3 6.4-0.4 6.5 1.3 6.5 1 6.4 0 6.5-0.4 6.5 0.9 6.4-0.4 6.5-1 6.5 0.2 6.5 1.1 6.4 0.4 6.5-0.8 6.5 0.2 6.4-1.2 6.5 0.9 6.5-0.5 6.5 0.1 6.4 0.9 6.5-1.3 6.5 0.8 6.4-1.4 6.5 1 6.5 1 6.5-0.9 6.4 0.3 6.5 1.1" stroke="#00BA38"/>
<path d="M89.9 731.8l6.5 2.3 6.4 2.5 6.5 2.3 6.5 0.8 6.5 0 6.4 0.7 6.5 3.4 6.5 1.4 6.4 0.9 6.5-1.4 6.5 0.1 6.5 0.7 6.4 0.6 6.5-1.1 6.5 0.5 6.4 1.2 6.5-0.4 6.5-0.3 6.4 1.3 6.5-1.2 6.5 0.5 6.5-0.3 6.4 1 6.5 0.2 6.5-1.7 6.4 1.7 6.5 0.4 6.5-0.2 6.5-1.2 6.4 0.4 6.5 0 6.5 0.5 6.4-2 6.5 0.7 6.5-0.5 6.5-0.9 6.4 0 6.5 1.1" stroke="#00BA38"/>
<path d="M89.9 716.6l6.5 2.9 6.4 2.1 6.5-1.7 6.5 0.7 6.5 1.3 6.4-1.2 6.5 1.1 6.5 0.6 6.4 0.4 6.5 0.7 6.5 0.6 6.5-2 6.4 1.8 6.5-0.8 6.5-0.3 6.4 0.4 6.5 0.1 6.5-0.3 6.4-0.1 6.5-0.5 6.5 0.9 6.5-0.8 6.4 0.1 6.5 0.5 6.5 1.3 6.4-1.2 6.5-0.1 6.5-0.4 6.5 0 6.4 1.2 6.5 0.6 6.5-0.5 6.4-0.8 6.5 1.4 6.5-1.5 6.5 0.2 6.4 0.1 6.5 1.4" stroke="#F8766D"/>
<path d="M89.9 713.1l6.5 1.1 6.4 1 6.5 2.6 6.5-1.8 6.5 0 6.4 1 6.5 0.2 6.5 2.1 6.4 0.7 6.5 0.8 6.5-0.1 6.5-0.3 6.4-0.9 6.5 0.3 6.5 1.8 6.4-0.6 6.5-0.7 6.5 0.9 6.4-0.1 6.5-1.7 6.5-0.1 6.5 0.2 6.4 2.4 6.5-1.1 6.5 0.8 6.4-1.5 6.5 1.7 6.5-0.6 6.5 0.5 6.4-0.5 6.5-1.7 6.5 0 6.4-0.2 6.5 0 6.5 0.6 6.5 0.9 6.4-0.4 6.5-0.5" stroke="#F8766D"/>
<path d="M89.9 704.4l6.5 0.8 6.4-2.1 6.5-1.2 6.5 0.1 6.5-0.9 6.4-0.1 6.5-1 6.5-0.8 6.4-2.1 6.5 0.5 6.5-0.6 6.5 0.7 6.4 0.2 6.5-0.6 6.5-0.2 6.4-0.3 6.5-1.5 6.5 0.9 6.4 0.1 6.5-0.4 6.5 0.6 6.5-0.3 6.4 0.5 6.5 0.4 6.5 0.2 6.4-0.9 6.5 0.8 6.5-0.2 6.5 0.1 6.4 0.1 6.5 0.7 6.5-1.4 6.4 0.2 6.5-0.8 6.5 0.2 6.5 0.3 6.4 0.9 6.5 0.1" stroke="#F8766D"/>
<path d="M89.9 707.5l6.5-5.4 6.4 2.2 6.5-5 6.5 0.7 6.5 1 6.4-2.8 6.5-0.2 6.5 0.9 6.4 0.2 6.5-1.1 6.5 1.5 6.5-0.8 6.4-2.3 6.5 0 6.5 1.1 6.4 1.1 6.5 0.6 6.5 0.2 6.4 0.2 6.5 1.2 6.5-1.3 6.5-2 6.4 1 6.5 0.8 6.5-1.2 6.4-0.2 6.5-1.1 6.5 1.4 6.5 0.7 6.4 1 6.5-0.5 6.5-1.3 6.4-0.2 6.5-0.2 6.5 0.8 6.5-0.8 6.4 0 6.5 1.6" stroke="#619CFF"/>
<path d="M89.9 722l6.5 1.6 6.4 2.2 6.5 1.9 6.5 0.3 6.5 0.1 6.4 1.1 6.5 1.6 6.5 2 6.4 0.2 6.5 0.8 6.5 0.5 6.5 1 6.4-0.1 6.5 0.8 6.5 0.6 6.4 0.6 6.5-0.5 6.5 0.8 6.4 1.1 6.5 0.6 6.5-1.1 6.5 0.1 6.4 0.9 6.5-0.9 6.5 0.9 6.4 0 6.5-0.9 6.5 0.8 6.5 1.4 6.4 0.1 6.5-0.6 6.5 0.3 6.4 0.8 6.5 0.1 6.5-1.1 6.5 0.3 6.4 0 6.5 1.1" stroke="#F8766D"/>
<path d="M89.9 670.6l6.5-7.1 6.4-10.7 6.5-5.1 6.5-7.2 6.5-3.7 6.4-1.9 6.5-1.3 6.5-1.5 6.4-1.3 6.5-0.2 6.5 0.2 6.5 1 6.4-1 6.5 0.4 6.5-0.8 6.4-1.7 6.5 1.5 6.5-1 6.4 0.6 6.5-0.8 6.5 1.2 6.5-0.6 6.4 0.8 6.5 0.9 6.5-0.7 6.4 0.8 6.5 0.5 6.5-1.5 6.5-1.1 6.4-1.4 6.5 1.3 6.5 0.5 6.4 0.3 6.5 1.2 6.5-0.2 6.5-1.7 6.4 0.8 6.5 0" stroke="#619CFF"/>
<path d="M89.9 680.2l6.5-6 6.4-3.7 6.5-4.2 6.5-4.7 6.5-1 6.4-2.3 6.5 1.1 6.5-0.7 6.4-0.6 6.5-2.4 6.5-1.3 6.5-2.5 6.4-0.8 6.5 0 6.5-1.2 6.4 0.2 6.5-0.1 6.5 0.7 6.4-1.4 6.5-0.9 6.5 1.5 6.5 0 6.4-0.7 6.5-0.6 6.5 1.6 6.4-0.3 6.5 0.8 6.5-0.9 6.5 0 6.4-0.6 6.5 0.3 6.5-0.7 6.4-0.3 6.5 0.6 6.5-0.6 6.5 0.3 6.4 0.2 6.5-0.6" stroke="#619CFF"/>
<path d="M89.9 682.1l6.5-7.6 6.4-5.1 6.5-3.3 6.5-1.9 6.5-1.5 6.4-2.6 6.5-3.8 6.5 1.5 6.4-1.4 6.5-1.4 6.5 0 6.5 0.2 6.4-0.2 6.5-1.9 6.5 0.4 6.4-1.7 6.5 1.2 6.5-0.9 6.4 0.3 6.5 0.1 6.5 0.6 6.5-0.3 6.4-0.4 6.5 0.3 6.5-0.5 6.4 0.2 6.5-0.6 6.5-0.6 6.5-0.7 6.4 0.7 6.5-0.7 6.5 0.3 6.4-0.9 6.5-0.1 6.5 1.6 6.5 0 6.4-0.5 6.5 0.1" stroke="#00BA38"/>
<path d="M89.9 717.9l6.5 1.6 6.4 2.4 6.5 1.7 6.5 1.6 6.5 0.2 6.4 0 6.5 0.4 6.5-0.2 6.4 1.1 6.5-0.1 6.5 0.5 6.5 1.2 6.4-0.4 6.5 0.9 6.5 0.2 6.4 2 6.5-1.2 6.5-0.1 6.4 0.3 6.5-0.3 6.5 1.8 6.5-1.3 6.4 1 6.5-1.7 6.5-0.1 6.4 0.9 6.5-0.3 6.5-0.5 6.5 1.2 6.4-0.9 6.5-0.7 6.5 0.4 6.4 1.1 6.5 0.4 6.5-0.8 6.5 0.2 6.4-0.5 6.5 0.6" stroke="#619CFF"/>
<path d="M89.9 722.7l6.5 0.8 6.4 2.5 6.5 1.4 6.5 4.4 6.5-0.1 6.4 1.1 6.5 1.2 6.5 0.9 6.4 0.7 6.5 1.7 6.5 2.4 6.5-1.1 6.4 0.5 6.5-0.3 6.5 0 6.4 0 6.5 1.2 6.5 0.3 6.4 0 6.5 0.4 6.5 2 6.5-1.4 6.4 0 6.5 0.6 6.5-1.2 6.4 0.7 6.5-0.6 6.5-0.7 6.5 1.7 6.4-0.7 6.5 0 6.5 0.4 6.4-1.4 6.5 1.2 6.5 0 6.5 0.2 6.4-1.8 6.5 0.9" stroke="#619CFF"/>
<path d="M89.9 693.6l6.5-4.8 6.4-1.2 6.5-4.9 6.5-0.2 6.5-2.4 6.4 2.3 6.5-1.5 6.5-0.1 6.4-2.3 6.5-0.5 6.5-1.2 6.5-0.1 6.4-0.8 6.5-0.4 6.5 0.5 6.4 0.1 6.5 0.2 6.5 0.7 6.4-0.8 6.5 1.2 6.5-0.7 6.5-0.5 6.4 1.5 6.5-0.8 6.5 0.2 6.4-0.9 6.5-1.2 6.5 0.3 6.5 0.2 6.4 0.7 6.5-1.3 6.5 1.2 6.4-0.1 6.5-0.1 6.5 1.1 6.5-0.9 6.4-1.2 6.5 1.7" stroke="#619CFF"/>
<path d="M89.9 726.5l6.5 3.7 6.4 3.9 6.5-0.3 6.5 0.3 6.5 4.2 6.4-1.3 6.5 3.2 6.5 0.3 6.4-0.2 6.5-0.4 6.5 0.3 6.5 0.4 6.4-0.5 6.5 0.2 6.5 0.4 6.4 0.6 6.5 1.3 6.5 0.4 6.4 0.9 6.5 0.2 6.5 1 6.5 1 6.4-2.2 6.5-0.1 6.5-0.4 6.4-0.4 6.5 1.4 6.5-0.7 6.5-0.3 6.4 1.4 6.5-0.3 6.5 0.6 6.4 0 6.5-0.2 6.5-0.5 6.5 1.3 6.4-1.2 6.5 0.1" stroke="#F8766D"/>
<path d="M89.9 710.1l6.5 0.9 6.4 0.4 6.5 0.1 6.5-0.7 6.5 1.1 6.4 1.5 6.5-2.2 6.5 0.3 6.4-1.3 6.5-0.4 6.5 1.7 6.5-0.3 6.4-0.8 6.5 0.2 6.5 0 6.4 0.3 6.5-0.7 6.5 0.8 6.4-0.3 6.5 0.9 6.5-1.2 6.5-0.2 6.4-0.3 6.5 0.1 6.5-0.7 6.4 1.8 6.5-0.2 6.5 0.3 6.5-0.9 6.4 1.1 6.5-0.3 6.5-0.8 6.4 0.6 6.5-1.1 6.5 0.3 6.5 0.7 6.4-0.3 6.5-2.4" stroke="#00BA38"/>
<path d="M89.9 681.1l6.5-4.2 6.4-5.1 6.5-4.2 6.5-2.1 6.5-2.5 6.4-2.5 6.5-0.6 6.5-2 6.4 0.4 6.5-1.3 6.5-1.2 6.5-0.7 6.4-1.5 6.5-0.7 6.5-0.6 6.4-0.2 6.5-0.3 6.5 1.2 6.4-1.3 6.5 0.3 6.5 0.6 6.5-1.3 6.4 1.1 6.5-0.3 6.5-0.3 6.4 0.2 6.5-1.1 6.5-0.3 6.5-1.8 6.4 1.7 6.5 0 6.5 1.2 6.4 0.6 6.5 0.6 6.5-1.1 6.5 1.6 6.4-0.6 6.5-1.2" stroke="#619CFF"/>
<path d="M89.9 683.3l6.5-4 6.4-2.6 6.5-1.5 6.5-2.5 6.5-1.6 6.4-1.3 6.5-0.7 6.5-0.9 6.4-2.2 6.5-2 6.5-0.8 6.5 0 6.4-1.1 6.5 0.5 6.5-0.1 6.4 0.3 6.5-0.1 6.5 0.2 6.4-1.2 6.5 0.1 6.5-0.7 6.5 1 6.4-1.1 6.5 0.9 6.5 0.5 6.4-0.7 6.5 0.6 6.5 0.2 6.5 0.6 6.4-0.5 6.5 1.5 6.5-1.5 6.4-0.5 6.5 0.6 6.5-1.9 6.5 0.6 6.4 0.7 6.5-1.8" stroke="#00BA38"/>
<path d="M89.9 722.1l6.5 0.5 6.4 1.6 6.5 0.5 6.5-2.2 6.5 1.7 6.4 2 6.5 2 6.5-1.5 6.4 1.8 6.5 0.9 6.5 0 6.5-1.5 6.4 0.6 6.5-3.9 6.5 3 6.4 0.6 6.5-0.1 6.5 0 6.4 1.4 6.5-0.8 6.5-0.6 6.5 0.4 6.4 1.7 6.5-0.2 6.5 2.3 6.4 1.3 6.5-1.2 6.5-1.8 6.5 0.7 6.4-0.3 6.5 0.2 6.5-0.5 6.4 0.7 6.5-1.3 6.5 0.2 6.5-0.6 6.4 0.7 6.5-0.6" stroke="#00BA38"/>
<path d="M89.9 727.1l6.5-0.9 6.4 1.4 6.5-0.3 6.5 3 6.5 2.9 6.4 0.2 6.5-0.7 6.5 1.4 6.4 0 6.5-0.1 6.5 0.9 6.5 1 6.4 0.3 6.5-0.5 6.5 0 6.4 0 6.5 0 6.5-0.7 6.4 2.6 6.5 0.3 6.5-0.7 6.5 0.3 6.4-0.3 6.5 1.4 6.5 1.4 6.4 0.6 6.5 0.8 6.5-1.9 6.5-1.3 6.4 1.2 6.5-1.6 6.5 0.7 6.4 1.4 6.5-1.9 6.5 0.6 6.5-1.5 6.4-0.2 6.5-1.1" stroke="#00BA38"/>
<path d="M89.9 708.6l6.5 2.2 6.4-2.5 6.5-2.8 6.5 0.7 6.5-0.1 6.4 0.7 6.5-2.2 6.5 0.3 6.4 0.9 6.5 0.7 6.5-0.8 6.5-0.9 6.4-0.8 6.5 0.7 6.5-1.6 6.4 0 6.5 0.1 6.5 0.3 6.4 0.1 6.5-0.3 6.5 0.9 6.5-0.1 6.4-0.5 6.5-0.7 6.5-0.2 6.4 1.9 6.5-0.3 6.5 0.5 6.5 0.1 6.4 0.1 6.5-1.2 6.5 1.2 6.4-1.1 6.5 0.4 6.5-0.1 6.5-1 6.4 1.5 6.5 0.6" stroke="#00BA38"/>
<path d="M89.9 714.8l6.5 1.5 6.4-1.7 6.5-1.9 6.5 1.6 6.5 0.1 6.4 0.3 6.5-2.2 6.5 1.1 6.4 2.2 6.5-0.3 6.5-0.4 6.5 1 6.4 0.5 6.5-0.4 6.5-0.8 6.4-0.1 6.5 0.3 6.5 0.1 6.4-0.1 6.5 0 6.5-0.1 6.5 0.4 6.4 0.2 6.5-0.7 6.5 0.5 6.4 1.5 6.5-1.1 6.5 0.9 6.5-0.2 6.4 0.2 6.5-2 6.5-0.4 6.4 0.2 6.5 1 6.5 0 6.5 0.2 6.4-0.2 6.5-0.1" stroke="#619CFF"/>
<path d="M89.9 706.1l6.5 0.2 6.4-0.4 6.5 1.2 6.5 1.4 6.5 1.9 6.4-0.4 6.5-0.1 6.5 0.1 6.4 0.6 6.5 0.5 6.5 0.9 6.5-0.8 6.4 0.4 6.5 2.1 6.5 0 6.4-0.5 6.5 0.3 6.5 0.8 6.4-1.8 6.5 0.1 6.5-0.1 6.5 1.9 6.4-2.1 6.5 0.8 6.5-0.6 6.4 0.3 6.5-0.1 6.5-0.2 6.5-0.6 6.4 0.8 6.5-0.1 6.5 0 6.4-0.9 6.5 0 6.5-0.9 6.5 1.5 6.4 1.4 6.5-0.2" stroke="#00BA38"/>
<path d="M89.9 728.9l6.5 2.2 6.4 4.9 6.5 2.5 6.5 1.6 6.5 0.5 6.4 1.2 6.5 2.5 6.5 0.7 6.4-0.8 6.5-0.1 6.5 1.2 6.5-0.4 6.4 1.2 6.5-0.7 6.5-0.4 6.4 1.3 6.5 0.1 6.5 0.6 6.4-0.2 6.5 0.9 6.5-0.8 6.5 0.7 6.4 0 6.5-0.5 6.5-0.6 6.4 0.7 6.5-0.7 6.5-0.8 6.5-0.4 6.4-0.2 6.5 0.5 6.5-0.1 6.4 1.2 6.5 1 6.5 0.2 6.5-0.6 6.4-2.2 6.5 0.5" stroke="#F8766D"/>
<path d="M89.9 696.6l6.5-1.3 6.4-3 6.5-1.2 6.5-0.9 6.5-2.5 6.4-1.1 6.5-2.1 6.5 0.9 6.4-1.7 6.5-0.1 6.5-0.4 6.5 0.8 6.4-2.7 6.5-0.4 6.5-0.3 6.4 0.5 6.5-0.4 6.5-1.3 6.4 0.3 6.5-0.9 6.5 1.1 6.5 0.5 6.4-1.1 6.5 1.2 6.5-0.7 6.4 0.6 6.5-0.1 6.5 0.1 6.5-0.5 6.4-0.5 6.5 0.9 6.5-0.6 6.4-0.2 6.5-0.1 6.5 1.1 6.5 0 6.4 0.3 6.5-1.7" stroke="#00BA38"/>
<path d="M89.9 722.8l6.5 1.7 6.4 1.1 6.5 0.3 6.5-0.7 6.5 1.9 6.4 1.1 6.5 0.4 6.5 1.7 6.4 0.8 6.5 0.8 6.5 1 6.5 0.3 6.4 0.6 6.5 0.1 6.5 2.7 6.4 0.6 6.5 0.9 6.5 0.2 6.4 0.4 6.5-1.2 6.5 1.3 6.5 1 6.4 0.1 6.5 0.9 6.5 0.3 6.4-0.1 6.5 0.6 6.5-2.3 6.5 1.1 6.4-0.6 6.5-0.2 6.5 1.9 6.4-1.1 6.5 0.1 6.5 0.1 6.5-0.1 6.4-0.6 6.5 0.6" stroke="#F8766D"/>
<path d="M89.9 718.9l6.5 2 6.4 2.7 6.5 0.4 6.5 0.1 6.5 1.2 6.4-0.7 6.5 1.6 6.5 0.2 6.4-0.2 6.5 0.3 6.5-0.7 6.5 1.2 6.4-0.2 6.5-0.5 6.5 1.1 6.4-1 6.5-0.9 6.5 1.9 6.4-0.5 6.5 0.3 6.5 0.7 6.5-0.1 6.4 0 6.5-0.6 6.5 0.4 6.4 0.7 6.5-0.4 6.5 0.7 6.5-0.2 6.4-0.3 6.5 0.6 6.5-0.3 6.4-1.4 6.5-0.5 6.5 0.2 6.5 0.3 6.4 1 6.5-0.3" stroke="#F8766D"/>
<path d="M89.9 706.6l6.5 0.1 6.4-2.6 6.5 1.9 6.5-0.5 6.5-0.3 6.4 3.3 6.5-1.3 6.5 1.3 6.4-1.3 6.5-2.7 6.5 1.7 6.5 0.3 6.4-0.4 6.5-0.8 6.5-0.6 6.4 0.9 6.5 1.1 6.5-0.2 6.4-0.4 6.5-0.5 6.5-0.1 6.5 0 6.4 1.4 6.5 0.4 6.5-0.3 6.4-1.2 6.5-0.4 6.5 0.3 6.5 0.2 6.4 0 6.5 0.9 6.5-0.5 6.4 1.5 6.5-1 6.5 0.1 6.5-0.1 6.4 0.1 6.5-0.7" stroke="#619CFF"/>
<path d="M89.9 699l6.5-2.7 6.4-5.8 6.5 0.8 6.5-1.5 6.5-1.3 6.4 0.7 6.5 1.6 6.5-0.2 6.4-0.1 6.5-0.5 6.5-0.7 6.5 0.6 6.4 0.9 6.5-1.9 6.5 0.9 6.4-1.1 6.5-0.2 6.5 0.2 6.4 0 6.5 0.8 6.5-0.7 6.5-0.2 6.4 0.8 6.5-0.6 6.5-0.2 6.4 1.3 6.5 0.5 6.5-1.9 6.5 0.6 6.4 0 6.5-0.8 6.5-0.3 6.4 0.9 6.5 0 6.5-0.7 6.5 0.3 6.4 0.9 6.5 0.6" stroke="#619CFF"/>
<path d="M89.9 728.5l6.5 3 6.4 5.7 6.5 1 6.5 3.3 6.5 0 6.4 2 6.5 2.4 6.5 1.6 6.4 0.8 6.5 0.3 6.5 1.6 6.5 0.9 6.4-0.2 6.5 0.1 6.5-1.5 6.4 1 6.5-0.1 6.5 0.8 6.4-1 6.5 0.3 6.5-1.5 6.5 0.8 6.4-0.4 6.5-0.3 6.5-0.2 6.4 0.5 6.5 0 6.5 0.6 6.5 0.2 6.4 0.7 6.5-0.2 6.5 0.1 6.4 0.4 6.5 1.6 6.5-2.2 6.5 1 6.4 0.1 6.5-1.5" stroke="#619CFF"/>
<path d="M89.9 710.5l6.5 5.2 6.4 2.2 6.5-1.2 6.5-1 6.5 1.8 6.4-1.6 6.5 1 6.5-1.1 6.4 0.5 6.5 0.2 6.5 0 6.5 2.3 6.4-0.2 6.5 0.3 6.5 1.5 6.4 0.7 6.5 0 6.5-0.9 6.4 1.4 6.5 0.4 6.5-0.2 6.5 0.9 6.4-0.6 6.5 0.2 6.5-1.8 6.4-0.2 6.5 0.1 6.5 0 6.5-0.1 6.4 0.5 6.5 0.7 6.5-0.7 6.4-0.9 6.5 0 6.5 1.5 6.5-0.5 6.4-0.4 6.5 0.8" stroke="#00BA38"/>
<path d="M89.9 731.2l6.5 4.2 6.4 4.5 6.5-0.9 6.5 1.2 6.5 0 6.4 1.5 6.5 1 6.5-0.2 6.4 1.1 6.5 1.7 6.5 0.9 6.5 0.7 6.4 0.2 6.5 0.7 6.5 2.2 6.4-0.4 6.5-0.1 6.5 1.3 6.4-1.3 6.5 0.7 6.5 1.9 6.5-0.3 6.4 0.4 6.5 1.8 6.5-1 6.4 0.9 6.5-1.2 6.5 0.7 6.5-0.2 6.4 0.9 6.5-0.5 6.5-0.5 6.4 0.7 6.5 0.1 6.5-0.1 6.5-0.4 6.4 1.5 6.5 0.7" stroke="#00BA38"/>
<path d="M89.9 711l6.5-2.6 6.4 1.3 6.5-1.1 6.5 0 6.5-0.4 6.4 4.3 6.5-1.6 6.5-0.2 6.4-0.5 6.5 0.1 6.5-0.6 6.5 0.6 6.4 0.3 6.5-1.5 6.5 0.7 6.4 0.6 6.5-1.2 6.5-0.3 6.4 1 6.5-0.8 6.5 0.1 6.5 1.1 6.4 0.9 6.5-0.6 6.5-1.4 6.4-0.5 6.5-0.9 6.5 0.5 6.5 0.6 6.4 1.6 6.5-0.3 6.5-0.3 6.4-1.1 6.5 0.2 6.5 1.6 6.5-1 6.4-0.1 6.5 0.5" stroke="#F8766D"/>
<path d="M89.9 709l6.5-2.4 6.4-2.3 6.5-0.1 6.5-0.2 6.5-2.7 6.4-1.1 6.5 0 6.5-1.2 6.4-1.3 6.5 2 6.5 0.3 6.5-0.3 6.4 0 6.5-0.5 6.5-2.2 6.4 1.1 6.5-1 6.5 0.7 6.4 0.4 6.5-0.2 6.5 0 6.5 0.8 6.4-0.6 6.5-1.9 6.5 0.4 6.4-1.1 6.5 1.3 6.5 1.7 6.5-0.3 6.4 0.5 6.5-1 6.5-0.2 6.4-0.2 6.5 0.3 6.5 0 6.5 0.5 6.4 0.5 6.5-0.2" stroke="#F8766D"/>
<path d="M89.9 698.8l6.5-6.5 6.4-5.2 6.5 0.2 6.5-0.9 6.5-1.4 6.4-0.6 6.5-0.9 6.5 0.1 6.4-1 6.5-0.5 6.5-0.4 6.5-0.2 6.4 0.4 6.5-1.1 6.5 0.3 6.4 0.6 6.5-0.7 6.5-0.4 6.4 1.3 6.5 0.8 6.5-1.4 6.5-0.5 6.4-0.1 6.5 0.7 6.5-0.4 6.4 1.5 6.5 0.4 6.5-0.1 6.5-1.3 6.4 0.9 6.5-0.6 6.5 0 6.4 0.2 6.5 0 6.5-0.5 6.5 0.7 6.4-0.3 6.5-1.6" stroke="#619CFF"/>
<path d="M89.9 736.6l6.5 2 6.4 2.8 6.5 3.6 6.5 2.2 6.5 2 6.4 1.1 6.5 0.4 6.5 3.8 6.4-2.2 6.5 1.1 6.5 0.8 6.5-0.6 6.4 2.4 6.5-0.3 6.5-0.5 6.4 0.2 6.5 0.9 6.5 0 6.4 0.4 6.5-0.1 6.5 0.1 6.5-0.3 6.4-1.4 6.5 0.3 6.5 0.1 6.4 1.3 6.5-0.8 6.5-0.5 6.5-0.3 6.4-0.8 6.5 0.6 6.5-0.1 6.4 1.2 6.5-0.2 6.5-0.1 6.5-0.5 6.4 0.6 6.5 1.4" stroke="#00BA38"/>
<path d="M89.9 724l6.5 1.3 6.4 0.9 6.5 1.7 6.5 2 6.5 1 6.4-0.6 6.5 1.6 6.5 2.1 6.4 2 6.5 2.1 6.5 1.3 6.5 0 6.4-0.3 6.5-0.1 6.5 0.2 6.4 1 6.5 0.5 6.5-0.9 6.4 0.1 6.5 1.4 6.5 0.2 6.5 0.6 6.4 0.3 6.5-1.4 6.5-0.7 6.4 1.5 6.5 1 6.5-0.8 6.5-0.8 6.4-0.1 6.5 0.1 6.5 0.3 6.4 0.4 6.5 1 6.5-0.4 6.5 1.3 6.4-0.7 6.5 0.9" stroke="#F8766D"/>
<path d="M89.9 712.1l6.5-1.3 6.4 2.5 6.5-1.5 6.5 1.6 6.5 1.4 6.4-1.1 6.5-0.1 6.5-1.9 6.4 1.4 6.5 0.4 6.5 0.3 6.5 0.1 6.4-2.5 6.5 2.8 6.5-0.5 6.4-0.5 6.5 1.6 6.5-2.2 6.4 0.9 6.5 1 6.5-1.2 6.5 0.8 6.4-0.3 6.5 2.6 6.5-0.8 6.4-0.2 6.5 0.3 6.5-0.5 6.5 0.7 6.4-0.2 6.5 0.1 6.5 0.3 6.4 0.2 6.5-1.2 6.5 0.7 6.5-0.1 6.4-1.2 6.5 1.4" stroke="#F8766D"/>
<path d="M89.9 716.4l6.5 2.9 6.4 1.8 6.5-2.3 6.5-0.3 6.5-0.1 6.4-0.9 6.5 1 6.5 0.6 6.4 1 6.5 0.5 6.5 2.6 6.5-0.7 6.4 1.2 6.5-0.4 6.5 1.3 6.4 0.3 6.5 0 6.5 0 6.4-0.7 6.5 1 6.5-1.4 6.5-0.2 6.4 0.2 6.5 0.7 6.5 0.7 6.4-1 6.5-0.3 6.5 0.7 6.5 0.2 6.4 0 6.5-0.6 6.5-0.3 6.4 1.1 6.5 0.3 6.5 0.6 6.5 0.5 6.4-2.7 6.5 1.3" stroke="#F8766D"/>
<path d="M89.9 723.4l6.5 0.1 6.4 2.6 6.5 3.5 6.5 4 6.5 0.7 6.4-0.3 6.5 1.4 6.5-0.1 6.4 1.2 6.5 1.7 6.5-0.7 6.5 1.7 6.4 1.2 6.5 0.6 6.5 0.6 6.4 1.3 6.5-0.1 6.5 0.1 6.4-0.1 6.5 0.6 6.5-0.9 6.5 0.4 6.4-0.6 6.5 0.3 6.5 0.5 6.4 1.2 6.5 0 6.5-0.2 6.5 0.3 6.4 0.7 6.5-0.1 6.5 0.4 6.4-0.5 6.5-0.1 6.5 1.3 6.5 0.1 6.4 0.2 6.5 0.4" stroke="#619CFF"/>
<path d="M89.9 728.2l6.5 2.6 6.4 1.9 6.5 1.5 6.5 3.1 6.5 2.1 6.4 1.1 6.5 1.3 6.5 2.7 6.4-1.1 6.5 0.5 6.5 1.7 6.5 1.6 6.4 0.8 6.5 0.9 6.5-0.2 6.4 0.8 6.5 0.2 6.5 0.4 6.4 0.9 6.5 0.9 6.5 0.9 6.5 0.1 6.4 0.5 6.5 0.7 6.5 0 6.4 0.3 6.5-0.5 6.5 0.7 6.5-0.5 6.4-0.3 6.5 0.4 6.5 0.1 6.4 1.1 6.5 0.7 6.5-0.2 6.5 0.4 6.4 0.5 6.5-0.3" stroke="#F8766D"/>
<path d="M89.9 725.2l6.5 1.9 6.4-0.4 6.5 1.6 6.5 1.4 6.5 1.7 6.4-0.4 6.5 0 6.5-0.3 6.4 1 6.5 1.4 6.5 1.4 6.5-0.9 6.4-1.5 6.5 0.2 6.5 1.3 6.4 0.1 6.5-1.2 6.5 0.4 6.4 0.5 6.5 0.8 6.5-1.7 6.5-0.1 6.4 1.1 6.5-0.2 6.5 0.2 6.4-0.3 6.5-0.6 6.5 1.3 6.5-0.1 6.4 1 6.5-1 6.5-0.2 6.4-0.8 6.5-0.6 6.5-0.7 6.5 0.6 6.4 1.5 6.5 0.1" stroke="#F8766D"/>
<path d="M89.9 703.3l6.5-0.2 6.4-1.3 6.5-1.4 6.5-0.3 6.5-2.2 6.4-0.4 6.5-1.4 6.5-2.9 6.4 0.5 6.5 0.4 6.5 1.6 6.5-1.2 6.4 1.4 6.5 0.9 6.5-0.5 6.4-0.7 6.5-1.6 6.5 1.8 6.4-0.1 6.5-1 6.5 0.9 6.5-1.2 6.4 0.8 6.5-0.6 6.5-0.1 6.4-0.2 6.5 0 6.5 0.4 6.5-1.3 6.4 1 6.5 0.8 6.5 0.4 6.4 0.4 6.5-0.3 6.5 0.8 6.5 0.6 6.4-0.9 6.5-1" stroke="#619CFF"/>
<path d="M89.9 718.7l6.5 1 6.4 1.2 6.5-0.2 6.5-1.3 6.5-0.2 6.4-0.1 6.5 1 6.5 1.5 6.4-0.7 6.5 0.2 6.5 1.3 6.5-0.1 6.4 1.4 6.5-0.2 6.5 0.5 6.4-1.5 6.5 1.3 6.5-0.6 6.4-0.9 6.5 1.5 6.5-0.7 6.5 0 6.4 1.9 6.5 0 6.5 0.9 6.4-0.3 6.5 1.2 6.5-1.2 6.5 0.2 6.4-0.9 6.5-0.5 6.5 1.8 6.4-0.4 6.5 1.6 6.5-0.4 6.5-0.1 6.4 0.5 6.5-0.2" stroke="#00BA38"/>
<path d="M89.9 703.7l6.5-0.7 6.4-0.8 6.5-2 6.5 0 6.5 0.4 6.4 0.2 6.5-2.1 6.5-0.4 6.4-0.5 6.5 0 6.5 0.2 6.5-0.3 6.4-1.6 6.5 1.5 6.5-0.4 6.4-1.4 6.5 2 6.5-0.1 6.4-1.6 6.5 0.1 6.5-1.2 6.5-0.1 6.4 2 6.5-1.7 6.5 0.8 6.4 0.7 6.5-0.1 6.5 1.5 6.5 0.5 6.4-0.9 6.5 0.4 6.5-0.4 6.4-0.1 6.5 0.3 6.5 0.6 6.5-1.2 6.4 0.8 6.5 0" stroke="#619CFF"/>
<path d="M89.9 712.8l6.5-0.4 6.4 0.7 6.5 2 6.5-0.9 6.5-1.2 6.4-0.2 6.5 0.4 6.5-0.5 6.4-0.7 6.5 1.8 6.5-0.9 6.5-0.4 6.4 0.3 6.5 0.8 6.5 2.1 6.4-0.8 6.5-0.1 6.5-0.8 6.4 0.8 6.5-0.3 6.5-0.7 6.5 1 6.4 0.1 6.5-0.8 6.5 1.2 6.4-0.5 6.5-0.2 6.5 0.2 6.5 0.3 6.4 0.2 6.5 0.9 6.5-1.7 6.4-0.7 6.5 1.2 6.5 1.6 6.5 0.4 6.4-0.5 6.5-0.3" stroke="#619CFF"/>
<path d="M89.9 691.6l6.5-0.9 6.4-0.6 6.5-1.9 6.5-0.5 6.5-0.6 6.4-0.4 6.5 0.5 6.5 0.2 6.4 0.4 6.5-0.8 6.5-0.3 6.5 0 6.4-0.1 6.5-0.4 6.5-1.6 6.4 1.2 6.5-1.4 6.5 1 6.4 1 6.5-0.2 6.5 0.4 6.5 1 6.4 0 6.5-1.2 6.5 0.1 6.4 1.1 6.5-0.9 6.5 0.9 6.5 0.9 6.4-0.8 6.5-0.3 6.5-2.3 6.4 1.3 6.5-0.4 6.5 0.2 6.5-0.5 6.4-1.6 6.5 0.4" stroke="#619CFF"/>
<path d="M89.9 714.5l6.5 0.5 6.4-0.2 6.5 0.3 6.5-1.4 6.5 3.3 6.4-0.2 6.5 0.1 6.5 0.3 6.4 2.3 6.5 1.1 6.5 0.4 6.5 0.8 6.4 0.2 6.5 0.5 6.5-1.1 6.4 0 6.5-0.1 6.5 0.3 6.4 0.5 6.5 1.5 6.5-3.1 6.5 0.5 6.4 1.6 6.5 0.6 6.5 1.3 6.4-0.6 6.5-0.3 6.5-0.2 6.5-0.1 6.4-0.8 6.5 0.9 6.5-1.1 6.4 1.8 6.5-1.5 6.5-0.7 6.5 0.6 6.4-0.2 6.5 0.9" stroke="#00BA38"/>
<path d="M89.9 722.9l6.5 3.6 6.4-1 6.5-0.9 6.5 1 6.5 1 6.4 1.9 6.5 0.1 6.5-0.2 6.4 0.7 6.5 1.2 6.5 0.1 6.5 0.5 6.4 0.8 6.5-1.7 6.5-1.2 6.4 0.3 6.5 1.4 6.5-0.5 6.4 0 6.5 1.3 6.5 0.7 6.5 0.2 6.4-0.3 6.5 0.1 6.5 0 6.4 0.4 6.5-1.5 6.5 1 6.5 1.9 6.4-1.9 6.5-0.2 6.5 1.8 6.4-0.3 6.5 0.9 6.5-0.7 6.5-1.1 6.4 0.6 6.5 0.3" stroke="#F8766D"/>
<path d="M89.9 701.8l6.5-2.1 6.4-2.6 6.5-0.6 6.5 0 6.5-2 6.4-2.3 6.5 0.8 6.5-0.5 6.4 0.8 6.5 0.1 6.5-1.3 6.5-0.2 6.4-0.4 6.5-0.5 6.5-0.4 6.4 0.2 6.5 2 6.5-1.2 6.4 0.6 6.5-0.3 6.5-0.4 6.5-1.1 6.4 0.8 6.5-1 6.5 0.6 6.4 1.7 6.5-0.2 6.5-0.9 6.5-0.1 6.4 0.3 6.5 0.2 6.5 0.3 6.4 0.3 6.5-0.2 6.5-1.3 6.5 0.9 6.4-0.8 6.5 0.4" stroke="#00BA38"/>
<path d="M89.9 704.3l6.5-0.7 6.4 2.3 6.5-3.3 6.5 0.8 6.5 0 6.4 0.6 6.5-0.3 6.5 0.2 6.4 0.6 6.5 0.3 6.5 0.1 6.5 1.3 6.4-0.6 6.5 0.1 6.5 1 6.4-0.7 6.5-0.8 6.5-0.8 6.4 0.8 6.5-0.1 6.5-1.2 6.5 1.2 6.4 0.5 6.5 0.1 6.5-0.6 6.4-0.3 6.5 0.8 6.5-1.5 6.5-0.1 6.4 0.3 6.5 0.5 6.5 0.5 6.4-0.5 6.5 1.2 6.5-2.1 6.5-0.6 6.4 0.9 6.5 0.4" stroke="#619CFF"/>
<path d="M89.9 704.8l6.5-3.4 6.4 0.2 6.5-2.4 6.5 2 6.5 0.5 6.4-0.8 6.5 0.4 6.5 1.4 6.4-1.8 6.5-0.6 6.5 1.8 6.5-0.8 6.4 2.7 6.5-1.1 6.5-1.4 6.4 0.2 6.5-0.8 6.5 0.6 6.4-1 6.5 0.2 6.5 0.7 6.5 0.2 6.4 0 6.5 1 6.5-0.3 6.4 0.9 6.5-1.4 6.5 0.4 6.5 1.3 6.4-1 6.5 0.1 6.5-0.3 6.4 0.6 6.5 0.1 6.5-1 6.5-0.5 6.4-1 6.5 0.6" stroke="#F8766D"/>
<path d="M89.9 726.6l6.5 2.9 6.4 3.7 6.5 2.5 6.5 1.8 6.5 5.1 6.4 0.1 6.5-0.6 6.5 1.8 6.4 2.6 6.5 1.4 6.5-0.3 6.5 1.3 6.4 0.3 6.5 1.1 6.5-0.7 6.4 0 6.5 0.4 6.5 0.8 6.4 0.7 6.5-0.8 6.5 1.6 6.5 0.4 6.4 0.2 6.5 0 6.5 0.5 6.4 0.3 6.5 0 6.5-0.8 6.5 0.5 6.4 0.5 6.5-1.2 6.5 0 6.4 0.6 6.5-0.4 6.5 0.8 6.5 0.5 6.4 0.4 6.5 0.2" stroke="#00BA38"/>
<path d="M89.9 692.9l6.5-0.8 6.4-2.8 6.5 0 6.5-1 6.5-1.7 6.4 1.7 6.5-0.6 6.5-0.4 6.4 0.2 6.5 1.1 6.5 0.6 6.5-2.7 6.4-0.3 6.5-0.4 6.5-1 6.4 0.4 6.5 0.7 6.5-0.4 6.4 0.8 6.5-1 6.5 0.3 6.5 0.3 6.4 0.1 6.5 0.4 6.5-1.8 6.4 1 6.5-0.1 6.5 0.9 6.5 0.5 6.4 0.4 6.5-1.2 6.5 0 6.4 0.5 6.5 1.4 6.5-1.7 6.5 0.7 6.4-1.1 6.5 2.4" stroke="#00BA38"/>
<path d="M89.9 700.3l6.5-1.6 6.4-2.8 6.5-2.4 6.5-1.7 6.5 1.7 6.4-1.3 6.5-1.1 6.5 0.8 6.4-1.7 6.5-0.7 6.5-1.4 6.5 1.8 6.4 0.1 6.5 0.1 6.5-1.1 6.4 0.4 6.5-0.6 6.5 0.5 6.4 0.5 6.5-0.6 6.5 1.7 6.5-1.4 6.4-0.9 6.5 0.2 6.5 0.6 6.4 0.8 6.5-0.4 6.5 0.2 6.5 0.5 6.4-1.2 6.5-0.8 6.5 0.5 6.4 0.3 6.5 1.1 6.5-0.5 6.5-0.4 6.4-0.3 6.5-1.2" stroke="#619CFF"/>
<path d="M89.9 690.5l6.5-2.6 6.4-3.7 6.5-4.5 6.5-1.2 6.5-2 6.4-0.6 6.5-3.3 6.5-0.4 6.4-0.4 6.5-0.8 6.5-1.1 6.5-1.1 6.4 1.8 6.5 0 6.5 0 6.4 0.7 6.5 0.1 6.5-0.6 6.4 0.5 6.5-2.1 6.5 0.5 6.5 0.1 6.4 1.1 6.5-1.8 6.5-0.2 6.4 2 6.5-0.8 6.5 0.7 6.5 1 6.4-0.9 6.5-0.1 6.5-0.1 6.4 0.3 6.5 0.1 6.5-0.6 6.5 1.1 6.4-0.6 6.5-0.2" stroke="#00BA38"/>
<path d="M89.9 692.7l6.5-1.8 6.4-2.5 6.5-1.8 6.5 0 6.5-1.1 6.4-0.7 6.5-1.5 6.5-0.2 6.4 0.7 6.5-1.6 6.5-0.1 6.5 0.5 6.4-0.3 6.5 0.5 6.5 0.2 6.4 0.9 6.5-1.2 6.5-0.8 6.4-0.1 6.5-0.8 6.5-0.5 6.5 0 6.4 1 6.5-0.9 6.5 0.1 6.4 0.6 6.5-0.8 6.5 0.5 6.5 0 6.4 0.6 6.5 0.5 6.5 0.2 6.4-0.5 6.5 0.4 6.5 0.6 6.5-0.6 6.4-0.7 6.5-0.1" stroke="#00BA38"/>
<path d="M89.9 703.8l6.5-1.8 6.4-0.6 6.5-2.3 6.5-2.2 6.5-0.6 6.4-0.9 6.5-1.9 6.5 1.7 6.4 0.4 6.5-0.8 6.5-1.1 6.5 1.7 6.4-1.6 6.5 0.3 6.5 0.7 6.4-0.7 6.5-0.6 6.5 1.2 6.4-2.1 6.5 0.6 6.5 0 6.5-0.6 6.4 1.9 6.5-0.6 6.5 0 6.4 1 6.5-0.8 6.5 0.3 6.5-0.8 6.4 0.3 6.5-0.5 6.5-0.5 6.4 1.1 6.5-1.2 6.5 0.4 6.5 0.5 6.4 0.6 6.5-1.1" stroke="#619CFF"/>
<path d="M89.9 709l6.5-2 6.4 0.8 6.5-0.8 6.5 0.2 6.5-0.6 6.4 2.6 6.5 0.8 6.5-1 6.4 0.3 6.5 0.5 6.5 0.8 6.5-0.4 6.4 1.8 6.5-0.3 6.5 1.1 6.4 0.4 6.5-0.7 6.5 0.6 6.4 0.5 6.5-1.3 6.5-0.9 6.5 0.6 6.4-0.6 6.5-0.6 6.5 1.3 6.4-0.1 6.5-1.8 6.5 0.9 6.5 0.5 6.4 0.1 6.5-0.1 6.5-0.1 6.4-0.3 6.5 0.7 6.5-1.3 6.5-0.1 6.4 0.2 6.5-0.9" stroke="#F8766D"/>
<path d="M89.9 712.5l6.5 0 6.4-2.8 6.5-0.1 6.5-0.3 6.5-4 6.4-1.4 6.5 0.6 6.5-2.8 6.4 1.5 6.5 0.7 6.5-0.3 6.5-0.2 6.4-0.4 6.5 0.8 6.5 0.2 6.4-0.8 6.5 0.1 6.5 1 6.4-2.4 6.5 0.4 6.5-0.1 6.5-0.4 6.4 1 6.5 0.5 6.5-1.1 6.4 1.2 6.5-1.1 6.5 1.6 6.5-1.9 6.4 0.2 6.5 0.8 6.5 0 6.4-0.4 6.5 1.1 6.5-0.1 6.5 0.2 6.4-0.6 6.5-0.9" stroke="#00BA38"/>
<path d="M89.9 727l6.5-0.3 6.4-0.1 6.5 1.4 6.5 1.4 6.5-0.3 6.4 1.1 6.5 0.9 6.5 1 6.4 1.4 6.5 1.8 6.5 2 6.5 0.1 6.4-0.9 6.5 1 6.5 0.6 6.4 2 6.5-0.5 6.5 0.9 6.4 0.1 6.5 0.3 6.5-1.2 6.5 0.7 6.4-0.2 6.5 2.1 6.5-1.5 6.4 0.7 6.5-0.2 6.5-0.7 6.5-0.1 6.4 0.5 6.5-0.2 6.5 0.2 6.4 0.5 6.5 0.1 6.5-1.6 6.5 0.7 6.4-0.8 6.5 0.1" stroke="#00BA38"/>
<path d="M89.9 727.1l6.5 4 6.4 2.5 6.5 1.6 6.5 1.7 6.5 2.2 6.4 0.5 6.5-0.3 6.5 0.6 6.4 0.8 6.5 1.4 6.5 0.1 6.5 0.6 6.4 1.8 6.5 0.4 6.5 0.7 6.4 0.1 6.5 0.5 6.5 0.4 6.4-0.2 6.5-1.5 6.5-0.2 6.5 2.3 6.4-0.2 6.5 0.4 6.5-2.2 6.4 0.7 6.5 1.2 6.5 0.4 6.5-0.2 6.4-1.5 6.5 0.8 6.5 0.4 6.4 0.7 6.5-1.4 6.5 1 6.5-2.3 6.4-0.4 6.5 2.2" stroke="#619CFF"/>
<path d="M89.9 731.3l6.5 1.4 6.4 4.3 6.5 1.8 6.5 1.5 6.5 0.6 6.4 2 6.5 1.8 6.5 0.7 6.4 1.6 6.5 0.8 6.5-1.2 6.5 0.3 6.4-0.2 6.5 0.7 6.5 1.4 6.4 0.4 6.5 2 6.5 0.4 6.4 0.7 6.5 0.4 6.5-0.2 6.5-0.3 6.4 0.7 6.5 0.1 6.5-0.8 6.4-0.4 6.5 0.1 6.5 0.2 6.5 0.6 6.4 1.1 6.5-0.5 6.5 2 6.4-0.7 6.5-0.5 6.5-1 6.5-0.4 6.4 0.4 6.5 0.1" stroke="#F8766D"/>
<path d="M89.9 727.4l6.5 3.5 6.4 9.3 6.5 0.9 6.5 2.1 6.5 4.3 6.4 0.1 6.5 1 6.5 2.2 6.4-0.4 6.5 1.4 6.5 0 6.5-1 6.4 1.8 6.5 0.2 6.5 1.2 6.4 0.4 6.5-0.2 6.5 0.4 6.4-2.1 6.5 1.8 6.5 0.9 6.5 0.2 6.4 0.4 6.5-0.8 6.5 0.7 6.4-1.6 6.5 1 6.5 0.1 6.5-1.2 6.4 0.4 6.5-1.1 6.5 1.1 6.4-1.3 6.5-0.4 6.5 0.4 6.5 0.4 6.4 0.2 6.5-0.2" stroke="#F8766D"/>
<path d="M89.9 713.9l6.5-0.9 6.4 0.9 6.5 0 6.5-1.1 6.5-1.3 6.4 0.6 6.5-0.3 6.5 0.1 6.4 0.5 6.5 0.3 6.5 0.9 6.5 0 6.4-1 6.5-0.7 6.5-0.2 6.4-1.1 6.5 1.5 6.5-1.3 6.4-0.2 6.5 0.9 6.5-0.1 6.5 1.3 6.4-0.4 6.5 1.7 6.5-0.5 6.4-0.7 6.5-0.7 6.5-0.4 6.5 0.3 6.4-1 6.5 0.3 6.5 0.6 6.4-0.2 6.5-0.6 6.5 0.9 6.5-0.3 6.4 1.1 6.5-0.6" stroke="#619CFF"/>
<path d="M89.9 726.8l6.5 0.1 6.4 2 6.5 1.6 6.5-0.3 6.5 0.3 6.4 0.6 6.5 0.5 6.5 0.4 6.4-0.3 6.5 2 6.5 1.7 6.5-1 6.4 0.5 6.5 1.5 6.5 0 6.4 0.3 6.5-0.1 6.5-0.2 6.4 0.4 6.5-0.9 6.5 2 6.5-2.2 6.4 1.1 6.5 1.6 6.5-0.4 6.4-0.6 6.5 0.1 6.5-0.5 6.5-0.4 6.4 0.8 6.5-0.7 6.5 0.2 6.4-0.8 6.5 0.8 6.5 0.1 6.5-0.5 6.4 0.4 6.5 1.3" stroke="#F8766D"/>
<path d="M89.9 733.7l6.5 1.9 6.4 3.5 6.5 3.5 6.5 3.2 6.5 1 6.4 1 6.5 1.3 6.5 0.1 6.4 3 6.5 0.3 6.5 1.3 6.5 0.1 6.4-0.1 6.5-0.1 6.5 0.9 6.4 0.3 6.5-0.1 6.5 1.1 6.4 0.3 6.5 0.1 6.5 0.1 6.5-1 6.4-1 6.5-0.7 6.5 0.3 6.4 1 6.5 0.6 6.5 0.1 6.5-0.6 6.4-0.1 6.5-0.6 6.5 1 6.4-0.4 6.5-0.2 6.5 2.4 6.5 0.2 6.4 0 6.5-0.4" stroke="#F8766D"/>
<path d="M89.9 708.8l6.5 0.6 6.4-1.8 6.5 2.4 6.5-1.1 6.5-0.5 6.4-0.8 6.5 2.1 6.5-0.5 6.4-0.9 6.5 0.3 6.5-0.8 6.5-1.3 6.4-0.6 6.5 1.1 6.5-0.9 6.4-0.1 6.5 0.9 6.5-0.9 6.4 1.3 6.5-0.4 6.5-0.6 6.5 0.4 6.4 1.9 6.5 0.5 6.5-1.5 6.4 1.1 6.5-0.2 6.5-0.4 6.5-1.8 6.4 0.2 6.5-0.1 6.5 0.7 6.4 0.4 6.5-1.4 6.5 0.3 6.5 0.8 6.4-0.7 6.5-0.6" stroke="#00BA38"/>
<path d="M89.9 731.8l6.5 4.8 6.4 2.3 6.5 2.9 6.5 1.4 6.5 2 6.4 2.7 6.5 1.3 6.5 0.1 6.4 1.2 6.5 1 6.5 0.3 6.5 1.6 6.4 0.1 6.5-1.2 6.5 0.9 6.4-0.5 6.5-0.2 6.5 0.7 6.4 2.1 6.5 1.2 6.5 0.3 6.5-1.1 6.4-0.2 6.5-0.6 6.5 1.9 6.4-0.1 6.5-0.2 6.5 1.6 6.5-0.6 6.4-0.3 6.5 0.2 6.5-0.2 6.4 0.7 6.5-1.4 6.5-0.4 6.5 1.5 6.4 1.2 6.5-0.1" stroke="#F8766D"/>
<path d="M89.9 722.6l6.5 2.8 6.4 1.2 6.5-2.7 6.5 3.9 6.5 1.2 6.4 1.4 6.5 1 6.5 2.9 6.4 0.3 6.5 0.4 6.5-0.2 6.5 1 6.4-2.2 6.5-0.8 6.5 0.7 6.4 2.2 6.5-1.7 6.5 1.2 6.4 0.1 6.5 0 6.5 0.2 6.5-1.1 6.4 0.4 6.5-0.6 6.5-0.1 6.4-0.6 6.5-0.1 6.5 0.5 6.5 0.9 6.4 0.9 6.5 0.7 6.5 2.2 6.4-2.5 6.5 0.6 6.5 0 6.5-1.6 6.4 0.8 6.5-0.2" stroke="#F8766D"/>
<path d="M89.9 722.2l6.5-1.8 6.4 0.8 6.5 1 6.5 1.7 6.5 0.2 6.4 1.1 6.5 2.2 6.5 0.7 6.4 1.7 6.5 0.2 6.5 0 6.5-0.2 6.4 1.2 6.5 0.4 6.5 1.1 6.4-0.4 6.5-0.7 6.5-0.6 6.4-0.4 6.5 2.2 6.5-1.1 6.5-0.2 6.4 0.2 6.5 0.6 6.5 0.4 6.4-1.7 6.5 0.5 6.5 0.2 6.5 0.1 6.4-0.6 6.5 0 6.5 0.4 6.4-0.9 6.5 1.1 6.5 1 6.5-0.6 6.4-0.4 6.5-0.8" stroke="#00BA38"/>
<path d="M89.9 699.1l6.5 1.8 6.4-1.5 6.5-2.3 6.5-0.9 6.5 0.3 6.4 1.5 6.5-0.3 6.5-0.2 6.4 1.2 6.5-0.9 6.5 1.2 6.5-2 6.4-0.2 6.5-1.1 6.5 0.3 6.4-0.5 6.5 0.4 6.5-1.1 6.4 0.1 6.5 0.7 6.5 0 6.5-1.2 6.4 0.7 6.5 0.3 6.5 0.5 6.4 0.1 6.5-0.3 6.5 0.3 6.5-0.6 6.4 0.5 6.5-0.8 6.5-0.3 6.4 0 6.5-0.7 6.5 1.7 6.5-0.3 6.4-0.5 6.5 1.2" stroke="#00BA38"/>
<path d="M89.9 724l6.5 3.9 6.4 0 6.5 0.5 6.5 2.1 6.5 2.8 6.4-1.4 6.5-0.8 6.5-1 6.4 1 6.5-1.6 6.5 0.8 6.5 1.8 6.4 0.4 6.5-0.1 6.5 0.5 6.4 0 6.5 0.6 6.5-0.3 6.4 1.5 6.5-1.3 6.5 0.4 6.5 0 6.4 1.1 6.5-1 6.5-0.1 6.4 1 6.5-0.2 6.5 0.8 6.5 0.9 6.4-0.7 6.5-0.5 6.5 1.1 6.4-0.2 6.5-0.9 6.5 0.8 6.5-0.7 6.4-0.2 6.5-0.3" stroke="#00BA38"/>
<path d="M89.9 720.6l6.5 3.8 6.4 0.4 6.5-0.7 6.5 4.1 6.5-0.1 6.4-0.2 6.5-0.5 6.5 1.9 6.4 1 6.5-1.2 6.5-0.5 6.5 1.3 6.4-1.1 6.5 1.6 6.5-0.6 6.4-0.4 6.5-0.5 6.5-0.7 6.4-1 6.5 1.6 6.5-0.8 6.5 1.1 6.4-0.4 6.5 1.6 6.5-0.7 6.4 0.8 6.5 0.5 6.5 0.3 6.5 0.4 6.4 0.2 6.5-0.2 6.5-0.3 6.4 0.6 6.5-1.4 6.5-0.9 6.5 1.5 6.4-0.8 6.5 0.9" stroke="#F8766D"/>
<path d="M89.9 723.4l6.5 1.5 6.4 0.2 6.5 1.2 6.5 4.4 6.5-1.9 6.4 2.1 6.5 0.7 6.5 0 6.4 0.1 6.5 1 6.5 1.9 6.5 0.7 6.4 0.3 6.5-0.1 6.5 0.6 6.4 0.9 6.5-0.2 6.5-0.1 6.4-0.5 6.5-0.2 6.5 1 6.5 0.7 6.4-0.3 6.5 1.2 6.5 1.2 6.4-0.6 6.5 0 6.5 0.6 6.5-0.8 6.4 0.1 6.5-0.5 6.5-1.3 6.4 1.3 6.5 0.6 6.5-0.6 6.5 0.5 6.4 0.2 6.5 1.3" stroke="#619CFF"/>
</g>
<polygon points="89.9,720 92.5,720.5 95.1,721 97.7,721.4 100.3,721.9 102.8,722.3 105.4,722.7 108,723.1 110.6,723.5 113.2,723.8 115.8,724.1 118.4,724.4 121,724.6 123.5,724.8 126.1,725 128.7,725.2 131.3,725.4 133.9,725.6 136.5,725.7 139.1,725.9 141.7,726 144.3,726.2 146.8,726.3 149.4,726.4 152,726.6 154.6,726.7 157.2,726.8 159.8,726.9 162.4,727 165,727.1 167.6,727.2 170.1,727.3 172.7,727.3 175.3,727.4 177.9,727.5 180.5,727.5 183.1,727.6 185.7,727.6 188.3,727.7 190.8,727.7 193.4,727.8 196,727.8 198.6,727.8 201.2,727.8 203.8,727.8 206.4,727.8 209,727.8 211.6,727.8 214.1,727.8 216.7,727.8 219.3,727.8 221.9,727.9 224.5,727.9 227.1,727.9 229.7,727.9 232.3,727.9 234.9,727.9 237.4,727.9 240,727.9 242.6,727.8 245.2,727.8 247.8,727.8 250.4,727.8 253,727.8 255.6,727.8 258.1,727.8 260.7,727.8 263.3,727.8 265.9,727.8 268.5,727.8 271.1,727.7 273.7,727.7 276.3,727.7 278.9,727.7 281.4,727.7 284,727.6 286.6,727.6 289.2,727.6 291.8,727.5 294.4,727.5 297,727.5 299.6,727.4 302.2,727.4 304.7,727.4 307.3,727.3 309.9,727.3 312.5,727.2 315.1,727.2 317.7,727.1 320.3,727.1 322.9,727 325.4,727 328,726.9 330.6,726.9 333.2,726.8 335.8,726.7 335.8,732.7 333.2,732.7 330.6,732.8 328,732.9 325.4,732.9 322.9,733 320.3,733 317.7,733.1 315.1,733.1 312.5,733.2 309.9,733.2 307.3,733.3 304.7,733.3 302.2,733.4 299.6,733.4 297,733.4 294.4,733.5 291.8,733.5 289.2,733.5 286.6,733.6 284,733.6 281.4,733.6 278.9,733.6 276.3,733.7 273.7,733.7 271.1,733.7 268.5,733.7 265.9,733.7 263.3,733.8 260.7,733.8 258.1,733.8 255.6,733.8 253,733.8 250.4,733.8 247.8,733.8 245.2,733.9 242.6,733.9 240,733.9 237.4,733.9 234.9,733.9 232.3,733.9 229.7,733.9 227.1,733.9 224.5,733.9 221.9,733.9 219.3,733.9 216.7,733.9 214.1,733.9 211.6,733.9 209,733.9 206.4,734 203.8,734 201.2,734 198.6,734 196,734 193.4,734 190.8,734 188.3,733.9 185.7,733.9 183.1,733.9 180.5,733.9 177.9,733.8 175.3,733.8 172.7,733.8 170.1,733.7 167.6,733.7 165,733.7 162.4,733.6 159.8,733.6 157.2,733.5 154.6,733.5 152,733.4 149.4,733.4 146.8,733.3 144.3,733.3 141.7,733.3 139.1,733.2 136.5,733.2 133.9,733.1 131.3,733.1 128.7,733.1 126.1,733.1 123.5,733 121,733 118.4,733 115.8,732.9 113.2,732.8 110.6,732.8 108,732.7 105.4,732.6 102.8,732.5 100.3,732.5 97.7,732.4 95.1,732.3 92.5,732.3 89.9,732.3" fill="#999999" fill-opacity="0.4"/>
<polygon points="89.9,713.2 92.5,713.5 95.1,713.7 97.7,713.9 100.3,714.1 102.8,714.3 105.4,714.4 108,714.6 110.6,714.7 113.2,714.9 115.8,715 118.4,715.1 121,715.2 123.5,715.3 126.1,715.4 128.7,715.4 131.3,715.5 133.9,715.6 136.5,715.6 139.1,715.7 141.7,715.8 144.3,715.8 146.8,715.9 149.4,715.9 152,715.9 154.6,716 157.2,716 159.8,716 162.4,716.1 165,716.1 167.6,716.1 170.1,716.1 172.7,716.1 175.3,716.1 177.9,716.1 180.5,716 183.1,716 185.7,716 188.3,716 190.8,715.9 193.4,715.9 196,715.8 198.6,715.8 201.2,715.7 203.8,715.7 206.4,715.6 209,715.6 211.6,715.5 214.1,715.4 216.7,715.4 219.3,715.3 221.9,715.2 224.5,715.2 227.1,715.1 229.7,715.1 232.3,715 234.9,714.9 237.4,714.9 240,714.8 242.6,714.8 245.2,714.7 247.8,714.7 250.4,714.6 253,714.6 255.6,714.5 258.1,714.5 260.7,714.4 263.3,714.4 265.9,714.3 268.5,714.3 271.1,714.2 273.7,714.2 276.3,714.1 278.9,714 281.4,714 284,713.9 286.6,713.9 289.2,713.8 291.8,713.8 294.4,713.7 297,713.7 299.6,713.6 302.2,713.6 304.7,713.5 307.3,713.4 309.9,713.4 312.5,713.3 315.1,713.3 317.7,713.2 320.3,713.2 322.9,713.1 325.4,713.1 328,713 330.6,712.9 333.2,712.9 335.8,712.8 335.8,718.8 333.2,718.8 330.6,718.9 328,719 325.4,719 322.9,719.1 320.3,719.1 317.7,719.2 315.1,719.2 312.5,719.3 309.9,719.4 307.3,719.4 304.7,719.5 302.2,719.5 299.6,719.6 297,719.6 294.4,719.7 291.8,719.7 289.2,719.8 286.6,719.9 284,719.9 281.4,720 278.9,720 276.3,720.1 273.7,720.1 271.1,720.2 268.5,720.2 265.9,720.3 263.3,720.4 260.7,720.4 258.1,720.5 255.6,720.5 253,720.6 250.4,720.6 247.8,720.7 245.2,720.7 242.6,720.8 240,720.8 237.4,720.9 234.9,721 232.3,721 229.7,721.1 227.1,721.2 224.5,721.2 221.9,721.3 219.3,721.4 216.7,721.5 214.1,721.5 211.6,721.6 209,721.7 206.4,721.7 203.8,721.8 201.2,721.9 198.6,722 196,722 193.4,722.1 190.8,722.2 188.3,722.2 185.7,722.3 183.1,722.3 180.5,722.4 177.9,722.4 175.3,722.5 172.7,722.5 170.1,722.6 167.6,722.6 165,722.7 162.4,722.7 159.8,722.7 157.2,722.7 154.6,722.8 152,722.8 149.4,722.9 146.8,722.9 144.3,722.9 141.7,723 139.1,723 136.5,723.1 133.9,723.2 131.3,723.2 128.7,723.3 126.1,723.4 123.5,723.5 121,723.6 118.4,723.7 115.8,723.8 113.2,723.9 110.6,724 108,724.2 105.4,724.3 102.8,724.5 100.3,724.7 97.7,724.9 95.1,725.1 92.5,725.3 89.9,725.5" fill="#999999" fill-opacity="0.4"/>
<polygon points="89.9,703.7 92.5,703.6 95.1,703.6 97.7,703.5 100.3,703.4 102.8,703.3 105.4,703.2 108,703.1 110.6,703 113.2,702.8 115.8,702.7 118.4,702.5 121,702.4 123.5,702.2 126.1,702.1 128.7,701.9 131.3,701.8 133.9,701.6 136.5,701.5 139.1,701.3 141.7,701.2 144.3,701 146.8,700.9 149.4,700.7 152,700.6 154.6,700.5 157.2,700.3 159.8,700.2 162.4,700.1 165,700 167.6,699.9 170.1,699.8 172.7,699.7 175.3,699.6 177.9,699.4 180.5,699.3 183.1,699.2 185.7,699.1 188.3,699 190.8,698.9 193.4,698.8 196,698.7 198.6,698.6 201.2,698.5 203.8,698.4 206.4,698.4 209,698.3 211.6,698.2 214.1,698.1 216.7,698 219.3,697.9 221.9,697.9 224.5,697.8 227.1,697.7 229.7,697.6 232.3,697.6 234.9,697.5 237.4,697.4 240,697.4 242.6,697.3 245.2,697.3 247.8,697.2 250.4,697.1 253,697.1 255.6,697 258.1,697 260.7,696.9 263.3,696.8 265.9,696.8 268.5,696.7 271.1,696.7 273.7,696.6 276.3,696.6 278.9,696.5 281.4,696.5 284,696.4 286.6,696.4 289.2,696.3 291.8,696.3 294.4,696.2 297,696.2 299.6,696.1 302.2,696.1 304.7,696.1 307.3,696 309.9,696 312.5,696 315.1,695.9 317.7,695.9 320.3,695.9 322.9,695.8 325.4,695.8 328,695.8 330.6,695.8 333.2,695.8 335.8,695.8 335.8,701.7 333.2,701.7 330.6,701.7 328,701.8 325.4,701.8 322.9,701.8 320.3,701.8 317.7,701.9 315.1,701.9 312.5,701.9 309.9,702 307.3,702 304.7,702 302.2,702.1 299.6,702.1 297,702.2 294.4,702.2 291.8,702.2 289.2,702.3 286.6,702.3 284,702.4 281.4,702.4 278.9,702.5 276.3,702.5 273.7,702.6 271.1,702.7 268.5,702.7 265.9,702.8 263.3,702.8 260.7,702.9 258.1,702.9 255.6,703 253,703.1 250.4,703.1 247.8,703.2 245.2,703.3 242.6,703.3 240,703.4 237.4,703.5 234.9,703.5 232.3,703.6 229.7,703.7 227.1,703.8 224.5,703.8 221.9,703.9 219.3,704 216.7,704.1 214.1,704.2 211.6,704.3 209,704.4 206.4,704.5 203.8,704.6 201.2,704.7 198.6,704.8 196,704.9 193.4,705 190.8,705.2 188.3,705.3 185.7,705.4 183.1,705.5 180.5,705.7 177.9,705.8 175.3,706 172.7,706.1 170.1,706.3 167.6,706.4 165,706.6 162.4,706.7 159.8,706.9 157.2,707.1 154.6,707.3 152,707.5 149.4,707.7 146.8,707.9 144.3,708.2 141.7,708.4 139.1,708.7 136.5,708.9 133.9,709.2 131.3,709.5 128.7,709.8 126.1,710.1 123.5,710.4 121,710.8 118.4,711.1 115.8,711.5 113.2,711.9 110.6,712.3 108,712.7 105.4,713.1 102.8,713.5 100.3,714 97.7,714.5 95.1,715 92.5,715.5 89.9,716" fill="#999999" fill-opacity="0.4"/>
<polyline points="89.9,726.1 92.5,726.4 95.1,726.7 97.7,726.9 100.3,727.2 102.8,727.4 105.4,727.7 108,727.9 110.6,728.1 113.2,728.3 115.8,728.5 118.4,728.7 121,728.8 123.5,728.9 126.1,729 128.7,729.1 131.3,729.2 133.9,729.3 136.5,729.4 139.1,729.5 141.7,729.6 144.3,729.7 146.8,729.8 149.4,729.9 152,730 154.6,730.1 157.2,730.2 159.8,730.2 162.4,730.3 165,730.4 167.6,730.4 170.1,730.5 172.7,730.6 175.3,730.6 177.9,730.7 180.5,730.7 183.1,730.7 185.7,730.8 188.3,730.8 190.8,730.8 193.4,730.9 196,730.9 198.6,730.9 201.2,730.9 203.8,730.9 206.4,730.9 209,730.9 211.6,730.9 214.1,730.9 216.7,730.9 219.3,730.9 221.9,730.9 224.5,730.9 227.1,730.9 229.7,730.9 232.3,730.9 234.9,730.9 237.4,730.9 240,730.9 242.6,730.9 245.2,730.8 247.8,730.8 250.4,730.8 253,730.8 255.6,730.8 258.1,730.8 260.7,730.8 263.3,730.8 265.9,730.8 268.5,730.7 271.1,730.7 273.7,730.7 276.3,730.7 278.9,730.7 281.4,730.6 284,730.6 286.6,730.6 289.2,730.6 291.8,730.5 294.4,730.5 297,730.5 299.6,730.4 302.2,730.4 304.7,730.3 307.3,730.3 309.9,730.3 312.5,730.2 315.1,730.2 317.7,730.1 320.3,730.1 322.9,730 325.4,730 328,729.9 330.6,729.8 333.2,729.8 335.8,729.7" fill="none" stroke="#F8766D" stroke-width="2.8" stroke-linejoin="round"/>
<polyline points="89.9,719.4 92.5,719.4 95.1,719.4 97.7,719.4 100.3,719.4 102.8,719.4 105.4,719.4 108,719.4 110.6,719.4 113.2,719.4 115.8,719.4 118.4,719.4 121,719.4 123.5,719.4 126.1,719.4 128.7,719.4 131.3,719.4 133.9,719.4 136.5,719.4 139.1,719.4 141.7,719.4 144.3,719.4 146.8,719.4 149.4,719.4 152,719.4 154.6,719.4 157.2,719.4 159.8,719.4 162.4,719.4 165,719.4 167.6,719.4 170.1,719.3 172.7,719.3 175.3,719.3 177.9,719.3 180.5,719.2 183.1,719.2 185.7,719.1 188.3,719.1 190.8,719 193.4,719 196,718.9 198.6,718.9 201.2,718.8 203.8,718.7 206.4,718.7 209,718.6 211.6,718.5 214.1,718.5 216.7,718.4 219.3,718.3 221.9,718.3 224.5,718.2 227.1,718.1 229.7,718.1 232.3,718 234.9,718 237.4,717.9 240,717.8 242.6,717.8 245.2,717.7 247.8,717.7 250.4,717.6 253,717.6 255.6,717.5 258.1,717.5 260.7,717.4 263.3,717.4 265.9,717.3 268.5,717.3 271.1,717.2 273.7,717.1 276.3,717.1 278.9,717 281.4,717 284,716.9 286.6,716.9 289.2,716.8 291.8,716.8 294.4,716.7 297,716.7 299.6,716.6 302.2,716.5 304.7,716.5 307.3,716.4 309.9,716.4 312.5,716.3 315.1,716.3 317.7,716.2 320.3,716.1 322.9,716.1 325.4,716 328,716 330.6,715.9 333.2,715.9 335.8,715.8" fill="none" stroke="#00BA38" stroke-width="2.8" stroke-linejoin="round"/>
<polyline points="89.9,709.8 92.5,709.6 95.1,709.3 97.7,709 100.3,708.7 102.8,708.4 105.4,708.1 108,707.9 110.6,707.6 113.2,707.3 115.8,707.1 118.4,706.8 121,706.6 123.5,706.3 126.1,706.1 128.7,705.9 131.3,705.6 133.9,705.4 136.5,705.2 139.1,705 141.7,704.8 144.3,704.6 146.8,704.4 149.4,704.2 152,704 154.6,703.9 157.2,703.7 159.8,703.6 162.4,703.4 165,703.3 167.6,703.1 170.1,703 172.7,702.9 175.3,702.8 177.9,702.6 180.5,702.5 183.1,702.4 185.7,702.3 188.3,702.2 190.8,702 193.4,701.9 196,701.8 198.6,701.7 201.2,701.6 203.8,701.5 206.4,701.4 209,701.3 211.6,701.2 214.1,701.1 216.7,701.1 219.3,701 221.9,700.9 224.5,700.8 227.1,700.7 229.7,700.7 232.3,700.6 234.9,700.5 237.4,700.4 240,700.4 242.6,700.3 245.2,700.3 247.8,700.2 250.4,700.1 253,700.1 255.6,700 258.1,700 260.7,699.9 263.3,699.8 265.9,699.8 268.5,699.7 271.1,699.7 273.7,699.6 276.3,699.6 278.9,699.5 281.4,699.5 284,699.4 286.6,699.4 289.2,699.3 291.8,699.3 294.4,699.2 297,699.2 299.6,699.1 302.2,699.1 304.7,699.1 307.3,699 309.9,699 312.5,698.9 315.1,698.9 317.7,698.9 320.3,698.9 322.9,698.8 325.4,698.8 328,698.8 330.6,698.8 333.2,698.7 335.8,698.7" fill="none" stroke="#619CFF" stroke-width="2.8" stroke-linejoin="round"/>
<line x1="77.5" y1="581.0" x2="77.5" y2="778.35" stroke="#000" stroke-width="1.5"/>
<line x1="76.75" y1="777.6" x2="348" y2="777.6" stroke="#000" stroke-width="1.5"/>
<line x1="72.4" y1="769.00" x2="77.5" y2="769.00" stroke="#000" stroke-width="1.3"/>
<text x="67.6" y="773.80" text-anchor="end">0</text>
<line x1="72.4" y1="729.30" x2="77.5" y2="729.30" stroke="#000" stroke-width="1.3"/>
<text x="67.6" y="734.10" text-anchor="end">0.1</text>
<line x1="72.4" y1="689.60" x2="77.5" y2="689.60" stroke="#000" stroke-width="1.3"/>
<text x="67.6" y="694.40" text-anchor="end">0.2</text>
<line x1="72.4" y1="649.90" x2="77.5" y2="649.90" stroke="#000" stroke-width="1.3"/>
<text x="67.6" y="654.70" text-anchor="end">0.3</text>
<line x1="72.4" y1="610.20" x2="77.5" y2="610.20" stroke="#000" stroke-width="1.3"/>
<text x="67.6" y="615.00" text-anchor="end">0.4</text>
<line x1="141.67" y1="777.6" x2="141.67" y2="782.5" stroke="#000" stroke-width="1.3"/>
<text x="141.67" y="797.00" text-anchor="middle">100</text>
<line x1="206.38" y1="777.6" x2="206.38" y2="782.5" stroke="#000" stroke-width="1.3"/>
<text x="206.38" y="797.00" text-anchor="middle">200</text>
<line x1="271.09" y1="777.6" x2="271.09" y2="782.5" stroke="#000" stroke-width="1.3"/>
<text x="271.09" y="797.00" text-anchor="middle">300</text>
<line x1="335.80" y1="777.6" x2="335.80" y2="782.5" stroke="#000" stroke-width="1.3"/>
<text x="335.80" y="797.00" text-anchor="middle">400</text>
<text x="175.87" y="820.40" font-size="13.7" textLength="74.03" lengthAdjust="spacingAndGlyphs">Sample size</text>
<text x="0" y="0" transform="translate(14.00,716.71) rotate(-90)" font-size="13.7" textLength="75.31" lengthAdjust="spacingAndGlyphs">Regional CT</text>
<text x="0" y="0" transform="translate(33.00,698.40) rotate(-90)" font-size="13.7" textLength="38.60" lengthAdjust="spacingAndGlyphs">(RESI)</text>
<g fill="none" stroke-width="1.25" stroke-opacity="0.25">
<path d="M430.3 754.2l6.3-2.9 6.3-8.7 6.4-7.8 6.3-9.8 6.3-14.6 6.3-15.7 6.4-12.7 6.3-10.3 6.3-11.7 6.3-12.2 6.4-9.7 6.3-11.2 6.3-2.3 6.3-4.3 6.4-5.4 6.3 0.5 6.3-9.7 6.3 0.2 6.3-0.6 6.4-6.9 6.3-2.4 6.3-0.2 6.3 1.1 6.4-3.6 6.3-3.3 6.3 4.3 6.3-0.7 6.4-1.7 6.3-0.8 6.3 0 6.3-1.1 6.4 0.6 6.3-0.6 6.3 0 6.3 0 6.4 0 6.3 1.4 6.3-1" stroke="#619CFF"/>
<path d="M430.3 756.6l6.3 0.6 6.3-0.4 6.4-1.1 6.3-3 6.3-2.2 6.3 0.4 6.4-3.5 6.3-3.8 6.3-9 6.3 0.4 6.4 0.2 6.3-1.3 6.3-5.8 6.3-2.7 6.4-5.2 6.3-0.9 6.3-0.5 6.3-7.9 6.3-7.6 6.4-4.1 6.3 3 6.3-6.8 6.3-9.3 6.4-3.2 6.3 0.5 6.3-3.1 6.3-3.4 6.4-6.3 6.3-1.7 6.3-6.4 6.3-2.9 6.4-2.9 6.3-5.7 6.3-3.9 6.3 1.9 6.4-1.8 6.3-7.3 6.3 1" stroke="#F8766D"/>
<path d="M430.3 761.2l6.3-1.4 6.3-1.5 6.4-1.2 6.3-2.6 6.3-1.3 6.3-3.9 6.4-1.9 6.3-3.3 6.3-0.6 6.3-4.3 6.4 1.9 6.3 0.4 6.3-9.3 6.3-7.6 6.4-4.4 6.3 0.5 6.3 3.7 6.3-3.1 6.3-11.7 6.4 0.5 6.3-0.5 6.3-0.2 6.3-7.2 6.4-1 6.3 2.3 6.3-10.1 6.3-3.4 6.4-1.1 6.3-5.7 6.3 3 6.3-7.3 6.4 0.2 6.3-7.2 6.3-2.2 6.3 2.5 6.4-6 6.3-6.5 6.3-0.1" stroke="#00BA38"/>
<path d="M430.3 759l6.3-0.4 6.3-1.6 6.4-4.1 6.3-3.2 6.3 0.5 6.3-1.7 6.4-6.3 6.3-0.5 6.3-4.3 6.3-7.4 6.4 1.1 6.3-8.3 6.3-2.2 6.3-4.5 6.4-1.5 6.3-6.4 6.3-6.5 6.3-0.1 6.3-4.9 6.4-0.4 6.3-9.5 6.3 3.1 6.3-5.1 6.4 0.2 6.3-2.4 6.3-9.3 6.3-8.6 6.4-1.8 6.3-3.8 6.3 2.7 6.3-7.6 6.4-4.4 6.3 1.1 6.3-4.9 6.3-3.3 6.4-5 6.3 6 6.3-2.6" stroke="#619CFF"/>
<path d="M430.3 761.6l6.3-0.9 6.3-0.5 6.4-0.8 6.3-0.1 6.3 0.8 6.3-1 6.4 0.4 6.3-0.9 6.3 0.7 6.3-0.2 6.4 1.1 6.3-0.9 6.3 0.8 6.3-1.8 6.4-0.8 6.3-2.6 6.3 3 6.3-1.7 6.3 0.2 6.4 1.1 6.3-4.4 6.3 4.4 6.3-0.5 6.4-2.8 6.3 0.1 6.3-0.3 6.3-1.2 6.4-1.3 6.3 5.3 6.3-3.2 6.3-0.5 6.4-2 6.3-2.5 6.3 1.6 6.3 1.1 6.4-1.3 6.3 3.8 6.3-4.4" stroke="#F8766D"/>
<path d="M430.3 755.9l6.3 1.7 6.3 0.1 6.4 0.4 6.3-0.6 6.3-2.7 6.3-3.6 6.4-1.8 6.3 1.8 6.3-1.8 6.3-2.6 6.4-8 6.3-3.9 6.3 4.4 6.3-5.9 6.4 1.5 6.3-11.4 6.3-4.2 6.3 5.3 6.3-10.1 6.4 4.3 6.3-8.1 6.3-1.6 6.3-0.1 6.4-2.2 6.3-4.9 6.3-10.4 6.3 1.2 6.4-1.3 6.3 0.9 6.3-10.8 6.3-1.7 6.4-3 6.3 1.5 6.3-3.1 6.3-2.5 6.4 0.2 6.3-5.7 6.3-1.5" stroke="#619CFF"/>
<path d="M430.3 753l6.3-0.1 6.3-4.1 6.4-10.9 6.3-3.4 6.3-8.4 6.3-2.8 6.4-10.5 6.3-11.3 6.3-4.5 6.3-4.4 6.4-15.5 6.3-10.3 6.3-6.3 6.3-11.2 6.4 3.2 6.3-9.1 6.3 0.4 6.3-9.3 6.3-4.9 6.4-0.6 6.3-12.3 6.3-5.4 6.3 1.8 6.4-4.1 6.3-3.3 6.3-2.9 6.3-1.7 6.4 0.2 6.3-0.6 6.3-3.5 6.3-1.8 6.4-2.2 6.3-0.9 6.3 2.6 6.3-2.8 6.4 1.5 6.3 0.2 6.3-1.7" stroke="#619CFF"/>
<path d="M430.3 755.4l6.3-2.7 6.3-9.3 6.4-9.8 6.3-12 6.3-10.2 6.3-10.5 6.4-12.1 6.3-13.1 6.3-14.9 6.3-9.9 6.4-8.5 6.3-3.9 6.3-11.3 6.3-1.4 6.4-7.2 6.3-9.3 6.3-3.9 6.3-0.7 6.3-0.5 6.4-5.7 6.3 1.8 6.3-3.5 6.3-3.5 6.4-0.9 6.3-0.5 6.3-0.4 6.3-0.2 6.4-1.3 6.3 1.4 6.3 0.9 6.3-0.3 6.4-0.4 6.3-0.9 6.3-0.7 6.3 0.1 6.4 0.3 6.3 0 6.3 0.9" stroke="#00BA38"/>
<path d="M430.3 759l6.3-0.6 6.3-0.4 6.4-2.6 6.3-0.4 6.3 1.1 6.3-5.8 6.4-8.3 6.3-0.1 6.3-2.6 6.3-5 6.4-5.4 6.3 1.5 6.3-5.8 6.3-4.2 6.4-7.4 6.3-1.4 6.3-6.1 6.3-5.9 6.3-1.6 6.4-4.3 6.3-1.7 6.3-1.6 6.3-8 6.4-5.6 6.3 0.9 6.3-3.3 6.3-0.6 6.4-12.2 6.3 2.5 6.3-6 6.3-4.6 6.4-10.9 6.3-0.7 6.3 2.4 6.3-7.5 6.4 5.4 6.3-2 6.3-7.1" stroke="#00BA38"/>
<path d="M430.3 757.9l6.3-1.1 6.3-2.8 6.4-5.8 6.3-11.1 6.3-10.3 6.3-6.6 6.4-7.2 6.3-4.3 6.3-6.6 6.3-8.4 6.4-6.8 6.3-10.4 6.3-10.9 6.3-3.4 6.4-11.5 6.3-6.6 6.3-6.4 6.3-9.2 6.3-3.6 6.4 3.1 6.3-7.4 6.3-2.3 6.3-3.9 6.4-2.1 6.3 0.4 6.3-9 6.3 0.4 6.4-7.4 6.3-1.8 6.3 3.6 6.3 1.9 6.4-4.5 6.3-0.9 6.3-4 6.3 1.1 6.4 0.1 6.3 1.2 6.3-1.5" stroke="#00BA38"/>
<path d="M430.3 758.4l6.3-2.9 6.3-6.8 6.4-5.7 6.3-14.3 6.3-8.7 6.3-13.5 6.4-8.6 6.3-5.2 6.3-5.7 6.3-11.4 6.4-5.5 6.3-12 6.3-8.4 6.3-6.6 6.4-9.8 6.3-7.1 6.3-1.6 6.3 0.8 6.3-12.7 6.4-2 6.3-2.6 6.3 0.8 6.3-2.8 6.4-3.2 6.3-3.2 6.3-2.7 6.3 0.5 6.4 0.4 6.3-4.3 6.3-0.6 6.3 1.7 6.4-1.2 6.3-0.9 6.3-1.1 6.3-0.5 6.4 0.9 6.3 0.8 6.3-0.3" stroke="#619CFF"/>
<path d="M430.3 758.2l6.3 1 6.3-0.4 6.4-0.3 6.3 0.8 6.3 0.7 6.3-1.1 6.4 0.4 6.3 0 6.3 0.7 6.3-2.4 6.4 0.8 6.3-1.4 6.3-2.6 6.3-1.1 6.4 2.3 6.3-2.1 6.3 1 6.3-0.8 6.3 0.5 6.4-4.8 6.3 4.4 6.3-1.4 6.3-2 6.4-0.5 6.3 0 6.3-5.4 6.3 4.7 6.4 1.4 6.3-2.4 6.3-2.3 6.3 1.2 6.4-0.2 6.3-2.1 6.3-0.8 6.3 1.1 6.4-2.5 6.3-0.8 6.3-0.4" stroke="#619CFF"/>
<path d="M430.3 762.4l6.3-2.7 6.3-2.2 6.4-2 6.3-4.1 6.3-3.8 6.3-4.4 6.4-4.1 6.3-5.8 6.3-1.9 6.3-1.4 6.4-6.5 6.3-5.9 6.3-5.2 6.3-2.6 6.4-2.4 6.3-8.9 6.3 1.1 6.3-4.1 6.3-11.1 6.4-3.8 6.3 0.8 6.3-5 6.3-5.9 6.4-1.8 6.3-2 6.3-2.2 6.3-3.4 6.4-5.3 6.3-5.1 6.3-6.3 6.3-2.1 6.4-0.4 6.3-14.3 6.3 0.1 6.3 3.9 6.4 3.2 6.3 0.3 6.3-11.1" stroke="#00BA38"/>
<path d="M430.3 761.5l6.3-10.7 6.3-15.3 6.4-16.6 6.3-19.6 6.3-21.9 6.3-14.4 6.4-6.7 6.3-13 6.3-10.8 6.3-6.3 6.4-8.2 6.3-6.6 6.3 0.7 6.3-9.6 6.4-2.2 6.3 1.4 6.3-4.9 6.3-2.2 6.3-2 6.4-1.1 6.3 1.2 6.3-1.3 6.3 0.7 6.4-1.9 6.3 0 6.3 0 6.3 0.5 6.4 0.7 6.3-1.2 6.3-0.2 6.3 0 6.4 0.6 6.3-0.1 6.3-0.5 6.3 0 6.4 0.4 6.3-0.4 6.3 0" stroke="#619CFF"/>
<path d="M430.3 762.9l6.3-3.7 6.3-2.9 6.4-2.9 6.3-4.2 6.3-6 6.3-4.7 6.4-9.3 6.3-6.6 6.3-0.1 6.3-10.7 6.4-2.1 6.3-0.4 6.3-8.9 6.3-7.4 6.4-7.5 6.3-1.2 6.3-1 6.3-4.9 6.3-15.1 6.4 0.2 6.3-2.2 6.3-5.5 6.3-7.7 6.4-3.6 6.3-4 6.3 3.1 6.3-3.6 6.4-10.2 6.3 4.5 6.3-3.3 6.3-3 6.4-7.5 6.3-8 6.3-1.3 6.3 5.9 6.4-3.6 6.3-2.1 6.3 2.4" stroke="#00BA38"/>
<path d="M430.3 758.5l6.3 0.7 6.3 0.6 6.4-1 6.3 0.2 6.3-0.2 6.3-0.2 6.4-2.8 6.3-0.6 6.3 2.2 6.3 1.2 6.4 0.6 6.3-4.7 6.3 0.8 6.3-0.5 6.4-2.4 6.3-2.1 6.3-1.4 6.3-1.9 6.3-3.8 6.4 4.3 6.3-2.8 6.3-4.3 6.3 6 6.4 0.3 6.3-0.3 6.3-5.1 6.3-3.7 6.4-1 6.3 2 6.3 5.8 6.3-3.6 6.4-5.1 6.3-5 6.3-0.7 6.3 0.2 6.4-5.7 6.3 8 6.3-4.2" stroke="#00BA38"/>
<path d="M430.3 763.1l6.3-1.5 6.3-0.8 6.4-0.3 6.3 0.2 6.3-0.8 6.3-1 6.4 1.3 6.3 0.9 6.3-1.6 6.3-0.8 6.4 0.7 6.3-1 6.3-0.1 6.3-1.3 6.4 0 6.3 1.2 6.3-0.4 6.3 1.5 6.3-1.7 6.4 0.8 6.3-1.9 6.3 1.2 6.3 1.7 6.4-2.9 6.3 0 6.3-0.8 6.3-1.3 6.4 2.7 6.3 0.6 6.3-1.1 6.3 1.1 6.4 1.8 6.3-3.1 6.3-2.1 6.3 1.7 6.4-2.2 6.3 0.2 6.3-0.5" stroke="#F8766D"/>
<path d="M430.3 760.8l6.3-0.4 6.3-0.5 6.4 0.2 6.3 0 6.3 0.3 6.3-0.8 6.4-0.2 6.3 0.6 6.3-0.5 6.3-0.7 6.4 0.6 6.3-0.3 6.3 0.6 6.3 0 6.4 0.1 6.3-1.4 6.3-0.2 6.3 0 6.3 0.7 6.4-1.6 6.3 0.7 6.3 1.4 6.3-0.1 6.4-0.8 6.3 1 6.3-2.8 6.3 1.5 6.4 0.8 6.3-0.5 6.3 0.2 6.3-0.1 6.4-1.5 6.3 1.2 6.3-2.1 6.3 0.9 6.4-1.7 6.3 2.7 6.3-0.8" stroke="#619CFF"/>
<path d="M430.3 759.5l6.3 0.3 6.3 0.3 6.4-1.1 6.3 0.3 6.3 0.9 6.3-1.1 6.4-0.3 6.3-0.3 6.3-0.4 6.3-0.7 6.4 1.3 6.3-0.8 6.3-1 6.3-1.7 6.4 0.5 6.3 1.7 6.3-2.5 6.3 2 6.3-1.7 6.4-1.5 6.3 0.5 6.3-1.9 6.3 0.9 6.4 0.8 6.3-0.8 6.3-1.5 6.3-1.4 6.4 3.9 6.3-3.3 6.3 0.3 6.3-3.5 6.4 5.4 6.3-3.9 6.3 0.8 6.3-0.4 6.4 1.2 6.3-5.9 6.3 4.6" stroke="#F8766D"/>
<path d="M430.3 754.1l6.3 2.6 6.3 0.7 6.4-1.7 6.3-1.9 6.3-1 6.3-1.4 6.4-4 6.3-1.4 6.3 2.2 6.3-2.3 6.4-7.3 6.3-1.7 6.3-4.3 6.3 3.5 6.4-10.2 6.3-2.3 6.3-1.2 6.3-3.5 6.3-1.6 6.4-3 6.3 5.1 6.3-5.5 6.3-12.2 6.4-0.6 6.3 0.6 6.3-7.7 6.3-8.6 6.4 1.8 6.3-5.2 6.3 2.8 6.3 3.8 6.4-15.2 6.3 3.4 6.3-7.6 6.3-5.1 6.4-6.1 6.3 5.9 6.3-7" stroke="#F8766D"/>
<path d="M430.3 755.8l6.3-8.7 6.3-14.7 6.4-23.3 6.3-14.5 6.3-22.3 6.3-15.7 6.4-17.6 6.3-14.9 6.3-9.9 6.3-4.6 6.4 1 6.3-6.8 6.3-4 6.3-3.4 6.4-2.4 6.3-2 6.3-0.6 6.3-0.3 6.3-0.7 6.4-0.4 6.3 0 6.3 0 6.3 0 6.4 0.3 6.3-0.2 6.3-0.1 6.3 0 6.4 0.2 6.3 0 6.3-0.2 6.3 0 6.4 0.1 6.3-0.1 6.3 0 6.3 0 6.4 0 6.3 0 6.3 0" stroke="#619CFF"/>
<path d="M430.3 761.5l6.3-1.7 6.3-0.2 6.4-2.2 6.3-1.4 6.3-0.1 6.3-5.1 6.4 2.8 6.3-3.8 6.3-2 6.3-1.8 6.4-1.1 6.3-9.5 6.3 5.2 6.3 0.4 6.4-2.6 6.3-8.7 6.3 1.3 6.3-6.1 6.3 3.2 6.4-8.9 6.3 4 6.3 0.3 6.3-5.2 6.4-8.1 6.3 3 6.3-1.8 6.3 7.4 6.4-8.9 6.3-4.3 6.3-10.1 6.3 2.3 6.4-5.4 6.3-4.3 6.3 2.5 6.3 4.5 6.4-8.4 6.3-3.6 6.3-1.9" stroke="#00BA38"/>
<path d="M430.3 754.7l6.3 2.6 6.3 1.4 6.4 0 6.3 1.1 6.3-0.2 6.3-0.4 6.4 0.2 6.3-1.3 6.3-1.4 6.3 0.7 6.4 1.8 6.3 0.6 6.3-0.9 6.3-0.7 6.4-0.4 6.3-0.8 6.3 1.7 6.3-2.1 6.3-0.5 6.4-2.1 6.3 3.2 6.3-1.2 6.3-4.3 6.4-1.2 6.3 2.2 6.3-1 6.3 1.3 6.4-2 6.3 0.5 6.3 2.4 6.3-2.4 6.4-0.1 6.3-1.9 6.3 2.4 6.3-2.2 6.4-1.8 6.3-0.6 6.3 4.1" stroke="#619CFF"/>
<path d="M430.3 759.3l6.3-0.2 6.3-0.9 6.4-2.7 6.3-2.4 6.3 0.6 6.3-4.5 6.4-4.5 6.3-8.6 6.3-0.5 6.3-3.5 6.4 0.2 6.3-3.9 6.3-3 6.3-4.9 6.4-4.1 6.3-1 6.3-5.8 6.3 0 6.3-6.2 6.4-3.2 6.3 0.4 6.3-8.5 6.3-6.4 6.4 0.8 6.3-5.7 6.3-2.7 6.3 4.7 6.4-8.1 6.3-2.1 6.3-6.2 6.3-2.4 6.4 2.8 6.3-7.7 6.3-0.1 6.3-5.9 6.4-4.2 6.3-2.3 6.3-7" stroke="#619CFF"/>
<path d="M430.3 759l6.3-2.3 6.3-3 6.4-7.1 6.3-8.6 6.3-5.1 6.3-5.2 6.4-11.7 6.3-7.8 6.3-4.4 6.3-10 6.4-8.9 6.3-0.9 6.3-0.7 6.3-12 6.4-15.6 6.3-9.6 6.3 4.5 6.3-10.1 6.3-8.2 6.4 2.8 6.3-0.6 6.3-7 6.3-7.8 6.4 1.4 6.3-11.2 6.3 3.4 6.3 1 6.4-6.9 6.3-1 6.3-4.8 6.3 3.5 6.4-1.8 6.3-2.5 6.3-0.9 6.3-1.5 6.4 0 6.3-2.1 6.3-2.6" stroke="#00BA38"/>
<path d="M430.3 756.5l6.3 1.5 6.3 0.9 6.4 0.6 6.3-0.7 6.3 0.9 6.3-1.1 6.4 1.3 6.3 0 6.3-2.6 6.3 0.5 6.4 1.9 6.3-2.8 6.3 1.6 6.3-2.5 6.4 5 6.3-0.1 6.3-1 6.3-2.9 6.3-1.1 6.4 0.5 6.3-0.6 6.3 0.3 6.3-0.8 6.4-1.7 6.3 0.1 6.3 1.3 6.3 2.5 6.4 0.3 6.3-3.6 6.3-1.3 6.3 0.4 6.4-4.7 6.3 1.8 6.3-0.5 6.3 1.5 6.4-0.6 6.3-1.2 6.3-0.8" stroke="#619CFF"/>
<path d="M430.3 758.5l6.3 0.8 6.3 0.4 6.4 0.2 6.3 0.3 6.3 0 6.3-0.3 6.4-0.1 6.3-0.1 6.3 0.4 6.3-0.5 6.4-0.7 6.3 1.5 6.3-1.4 6.3 0.5 6.4-0.6 6.3 1.1 6.3-2.5 6.3 1.1 6.3-0.3 6.4-0.1 6.3 0.8 6.3-1.9 6.3 0.4 6.4 0.7 6.3-1.6 6.3 1.2 6.3 1.9 6.4-2.1 6.3 0.5 6.3 0.1 6.3-0.5 6.4-0.5 6.3 0.2 6.3 0.6 6.3 0.2 6.4 1.2 6.3-1.1 6.3-0.9" stroke="#F8766D"/>
<path d="M430.3 758.6l6.3 0.7 6.3-0.2 6.4 0.8 6.3-0.3 6.3 0.7 6.3-1.4 6.4 0.4 6.3 0.5 6.3-1.7 6.3-0.6 6.4-1.3 6.3 0.9 6.3-2.2 6.3 2.7 6.4-0.7 6.3 0.3 6.3 1.3 6.3-2.3 6.3-1.1 6.4-0.8 6.3 3.2 6.3-2.5 6.3-2.5 6.4 3.6 6.3-3.8 6.3 3.6 6.3-1.3 6.4-1.6 6.3-3.9 6.3 1.3 6.3-2.1 6.4 1.8 6.3-1.6 6.3-2.6 6.3-2.3 6.4 0.5 6.3 6 6.3-4.4" stroke="#00BA38"/>
<path d="M430.3 761.2l6.3-9.4 6.3-15.9 6.4-21 6.3-18.1 6.3-20.9 6.3-24.6 6.4-7.2 6.3-12.7 6.3-7.4 6.3-8.4 6.4-8.8 6.3-4.1 6.3-5 6.3-5.5 6.4 2.4 6.3-4.2 6.3 0 6.3-0.1 6.3 0 6.4-0.3 6.3 0.5 6.3 0.2 6.3 0 6.4-0.4 6.3-0.2 6.3-0.1 6.3 0.2 6.4 0.4 6.3-0.6 6.3 0.7 6.3-0.7 6.4 0.3 6.3 0 6.3-0.3 6.3 0 6.4 0.2 6.3-0.2 6.3 0" stroke="#619CFF"/>
<path d="M430.3 752.7l6.3 3.3 6.3 0.6 6.4 0.6 6.3-1.9 6.3 0.1 6.3-0.3 6.4-1.2 6.3-5 6.3 1.5 6.3-3 6.4-3.6 6.3 2.3 6.3-3.6 6.3-1.6 6.4-7.2 6.3 2.7 6.3-4.1 6.3 2.6 6.3 0.4 6.4-8.5 6.3-4.9 6.3-2.8 6.3 10.4 6.4-14.8 6.3-1.8 6.3-1.9 6.3-9.7 6.4 0.8 6.3 1.5 6.3 3.8 6.3-4.2 6.4-7.3 6.3 8.9 6.3-9.2 6.3-0.7 6.4-1 6.3-9.2 6.3 0.8" stroke="#F8766D"/>
<path d="M430.3 754.8l6.3 1.8 6.3 1.1 6.4-3.4 6.3-1.4 6.3-1.9 6.3-1.1 6.4-2.9 6.3 0.2 6.3 0 6.3-2 6.4-6.1 6.3-2.3 6.3-3.5 6.3 2.6 6.4-8.1 6.3-6 6.3-0.8 6.3 7.5 6.3-5.9 6.4-5.7 6.3-8 6.3-0.9 6.3-4.7 6.4 3.8 6.3-1.8 6.3-2.5 6.3-11.2 6.4 7.9 6.3-5.1 6.3 2.7 6.3-16 6.4-2.7 6.3 4.1 6.3-7.2 6.3-3.8 6.4 1.3 6.3-3.8 6.3-0.4" stroke="#F8766D"/>
<path d="M430.3 755.3l6.3 2.3 6.3 1 6.4-0.1 6.3-0.3 6.3-0.3 6.3-0.4 6.4-1.6 6.3 1 6.3-1.1 6.3-0.1 6.4 0 6.3 2.7 6.3-1.7 6.3-3.4 6.4 2.7 6.3-0.1 6.3-1.3 6.3-1.7 6.3-0.5 6.4 0.2 6.3 2.4 6.3-4.4 6.3 0.9 6.4 0 6.3-0.1 6.3-3 6.3 5.9 6.4-1 6.3-7.2 6.3-1.1 6.3 3.1 6.4-6.9 6.3 4.3 6.3-1.2 6.3-2.9 6.4 3 6.3-3.5 6.3-1.3" stroke="#F8766D"/>
<path d="M430.3 758.3l6.3-3 6.3-5 6.4-6.7 6.3-14.9 6.3-10.3 6.3-3.1 6.4-17 6.3-11 6.3-18.4 6.3-4.8 6.4-6 6.3-10.8 6.3-5 6.3-7.2 6.4-6.1 6.3-8.4 6.3-3.3 6.3-3.4 6.3-4.2 6.4-2.6 6.3-4.6 6.3-3.5 6.3-1.3 6.4-0.4 6.3 3.7 6.3-6 6.3 1.6 6.4-2.7 6.3 0.1 6.3-0.7 6.3-1.3 6.4-1.8 6.3 0.3 6.3 1.3 6.3 0 6.4-1.7 6.3-0.1 6.3 0.4" stroke="#00BA38"/>
<path d="M430.3 760.8l6.3-0.8 6.3 0.1 6.4-0.6 6.3-1.7 6.3-2.5 6.3-1 6.4 0.7 6.3-2.9 6.3 1 6.3-3 6.4-1.2 6.3-4.4 6.3-3.2 6.3-3 6.4 1.2 6.3-0.2 6.3-2.6 6.3-8.2 6.3 2.8 6.4-1.2 6.3-0.8 6.3 2.1 6.3-7.6 6.4-3 6.3-0.7 6.3 1 6.3-1.8 6.4-1.8 6.3 2.4 6.3-5 6.3-9.4 6.4-2.1 6.3 1.3 6.3-5.6 6.3 1 6.4 0.3 6.3-4.2 6.3-4" stroke="#F8766D"/>
<path d="M430.3 763.3l6.3-1.4 6.3-0.8 6.4-0.1 6.3-1.7 6.3 0.3 6.3 0.9 6.4 0.5 6.3-0.5 6.3-0.8 6.3-0.7 6.4-0.2 6.3 1.3 6.3-2.4 6.3 2 6.4-2.8 6.3 1.5 6.3 2.2 6.3-1.3 6.3-0.6 6.4-0.4 6.3 1.2 6.3-1.2 6.3-1.4 6.4 0.5 6.3 1.5 6.3-2.3 6.3 0.9 6.4-0.7 6.3 0.8 6.3-0.4 6.3-2.4 6.4 1.6 6.3 3.2 6.3-4.9 6.3-0.1 6.4-0.7 6.3 0.2 6.3 0.8" stroke="#00BA38"/>
<path d="M430.3 761.2l6.3-0.7 6.3-0.4 6.4-0.5 6.3 0.4 6.3-0.2 6.3 0.3 6.4-1.7 6.3 0.4 6.3 0.5 6.3-0.4 6.4-0.4 6.3 0.1 6.3 2 6.3-0.1 6.4-1.7 6.3 0.1 6.3 0.4 6.3 0.3 6.3-0.3 6.4-1.1 6.3 1.5 6.3 0.7 6.3-0.8 6.4-0.6 6.3 0.1 6.3-1.7 6.3 1.6 6.4-0.2 6.3-0.9 6.3 1 6.3-2.3 6.4 2.2 6.3-0.3 6.3-0.9 6.3-1.5 6.4 3.4 6.3-1.2 6.3 0.3" stroke="#F8766D"/>
<path d="M430.3 760.1l6.3 0.1 6.3 0.2 6.4 0 6.3-0.7 6.3 1.1 6.3-0.8 6.4-0.4 6.3-0.5 6.3 1.2 6.3-2.2 6.4 1.1 6.3 0.7 6.3-1.4 6.3 0.9 6.4-2 6.3 1.1 6.3-0.4 6.3 0.8 6.3-1.5 6.4 0.4 6.3-0.4 6.3 2 6.3-4.3 6.4 2.1 6.3 1.9 6.3-2.5 6.3-1.1 6.4 3.5 6.3-0.7 6.3 0.4 6.3-2.5 6.4 2.1 6.3-0.3 6.3-0.5 6.3-0.8 6.4-1.1 6.3 0.3 6.3 0.2" stroke="#619CFF"/>
<path d="M430.3 754.8l6.3 0.9 6.3-1.7 6.4-4.1 6.3-5.4 6.3-5.4 6.3-3.8 6.4-10.2 6.3-5.7 6.3-7.9 6.3-10.3 6.4 0.9 6.3-13.5 6.3-7.7 6.3-4.5 6.4-3.5 6.3-13.6 6.3 1.6 6.3-0.6 6.3-11.1 6.4-8.1 6.3-7.7 6.3-1.5 6.3-3 6.4-7.4 6.3 7.2 6.3-8.3 6.3-2.2 6.4-0.3 6.3-2.9 6.3-7.2 6.3-5.5 6.4 3.3 6.3-1.3 6.3-1.4 6.3-3.3 6.4-6.4 6.3 10 6.3-6.8" stroke="#619CFF"/>
<path d="M430.3 756.2l6.3 1.6 6.3 0.9 6.4-0.6 6.3-0.1 6.3-0.3 6.3 0.3 6.4-2.2 6.3-1.6 6.3-0.2 6.3 1.1 6.4-1.4 6.3 4.6 6.3-5.2 6.3-3.3 6.4 2.9 6.3-3.6 6.3 1.8 6.3-2 6.3-0.8 6.4-6.7 6.3-0.4 6.3 0.8 6.3-0.8 6.4-8.5 6.3 3.9 6.3-0.8 6.3 7.7 6.4-10.2 6.3-0.7 6.3 1.7 6.3-1.6 6.4-4.3 6.3-1.6 6.3 3.2 6.3-4.1 6.4-1.3 6.3 0.4 6.3-10.3" stroke="#F8766D"/>
<path d="M430.3 757.1l6.3 0 6.3-4.1 6.4-1.1 6.3-4.5 6.3-5 6.3-8.7 6.4-4.6 6.3-1.7 6.3-8.9 6.3-6.2 6.4 2.9 6.3-8.6 6.3-8.7 6.3-0.3 6.4-7.9 6.3-4.1 6.3-3.5 6.3-13 6.3-10.6 6.4-0.6 6.3 1.4 6.3-8.6 6.3-7.6 6.4-1.3 6.3-7 6.3-6.3 6.3 6.6 6.4-7.1 6.3-5.7 6.3-3.8 6.3 0.8 6.4-2.9 6.3-4.7 6.3 4.2 6.3-3.8 6.4-2.4 6.3-0.8 6.3 3" stroke="#00BA38"/>
<path d="M430.3 754.4l6.3 2.8 6.3 1.3 6.4 0.1 6.3 0.2 6.3 0.8 6.3-0.3 6.4 0.2 6.3-0.8 6.3 0.6 6.3 0.1 6.4 0.6 6.3 0.2 6.3-1.6 6.3-1.5 6.4 1.4 6.3 0.3 6.3-0.6 6.3-1.1 6.3 1.1 6.4 0 6.3 0 6.3 0.3 6.3 1.5 6.4-0.5 6.3-0.7 6.3-1.6 6.3 0.9 6.4-1.6 6.3 0.3 6.3 1.5 6.3-1.4 6.4 0.3 6.3 0.6 6.3-1.1 6.3-0.1 6.4 1.3 6.3-1.1 6.3-0.6" stroke="#F8766D"/>
<path d="M430.3 756.6l6.3-1.4 6.3-4.8 6.4-7.6 6.3-5.8 6.3-9 6.3-3.8 6.4-9.2 6.3-10.1 6.3-9 6.3-13 6.4-3.2 6.3-5.6 6.3 0.2 6.3-8 6.4-11.6 6.3-14.3 6.3 0.3 6.3-3 6.3-3.9 6.4-2.3 6.3-6.1 6.3-4.9 6.3-8.8 6.4 1.6 6.3-2.9 6.3-3.8 6.3 2 6.4 0.4 6.3-3.8 6.3-4.6 6.3-3.6 6.4-0.9 6.3-3 6.3 3.9 6.3-0.5 6.4 1.3 6.3-3.9 6.3-2.5" stroke="#619CFF"/>
<path d="M430.3 762.1l6.3-12.4 6.3-25.6 6.4-23.5 6.3-28.4 6.3-17.6 6.3-21.9 6.4-8.8 6.3-12.6 6.3-6 6.3-7.5 6.4-1.7 6.3-2.9 6.3-1.2 6.3-0.2 6.4-1.1 6.3-0.4 6.3 0.3 6.3 0.2 6.3-0.4 6.4-0.4 6.3 0.1 6.3 0.1 6.3-0.2 6.4 0 6.3 0 6.3 0 6.3 0.3 6.4 0.1 6.3-0.2 6.3 0.1 6.3-0.3 6.4 0.2 6.3 0 6.3-0.2 6.3 0.1 6.4 0.4 6.3 0 6.3-0.5" stroke="#619CFF"/>
<path d="M430.3 762.3l6.3-4.5 6.3-5.1 6.4-11.7 6.3-9.5 6.3-8.9 6.3-10.2 6.4-10.1 6.3-7.9 6.3-9.3 6.3-13.1 6.4-7.4 6.3-9 6.3-7.5 6.3-5.3 6.4-3.3 6.3-14.3 6.3 2.1 6.3-4.4 6.3-2.4 6.4-8.4 6.3-7.7 6.3-4.1 6.3 4.5 6.4-2.1 6.3-1.2 6.3-3 6.3-0.4 6.4-0.1 6.3-4.2 6.3 1.9 6.3-3.4 6.4 0.9 6.3-1.2 6.3-0.2 6.3-1.6 6.4 0.1 6.3 0.9 6.3 0.6" stroke="#00BA38"/>
<path d="M430.3 754.3l6.3 2.7 6.3 1.5 6.4 0.9 6.3-0.3 6.3-0.8 6.3 1.5 6.4-0.4 6.3-0.9 6.3 0 6.3 0.9 6.4-0.9 6.3-0.8 6.3 0.2 6.3-2.2 6.4 0.4 6.3-0.1 6.3-1.1 6.3 1.2 6.3-0.7 6.4 0.6 6.3-0.2 6.3-1.3 6.3-1.8 6.4-3 6.3 3.4 6.3-3.7 6.3 1.4 6.4 2.4 6.3-3.3 6.3 3.1 6.3-5.8 6.4 1.5 6.3 0 6.3-5.2 6.3 1.8 6.4-1.9 6.3-1.4 6.3 5.2" stroke="#00BA38"/>
<path d="M430.3 753.1l6.3 2 6.3-0.9 6.4-2.7 6.3 0.7 6.3-3.1 6.3-2.5 6.4-7.6 6.3-4.7 6.3 1.7 6.3-3.4 6.4-6.7 6.3-10.8 6.3 2.2 6.3-8 6.4 2.5 6.3-0.4 6.3-11.1 6.3 0.3 6.3 0.7 6.4-14.4 6.3-4.3 6.3 4.2 6.3-10.5 6.4-3.9 6.3-4.2 6.3 3.4 6.3-4.2 6.4 3.8 6.3-1.1 6.3-15 6.3-1.2 6.4-5.2 6.3-1.7 6.3-1.2 6.3-2.2 6.4-6.4 6.3-0.7 6.3 3.1" stroke="#F8766D"/>
<path d="M430.3 760.1l6.3-0.7 6.3-1.2 6.4-2.3 6.3-1.3 6.3 1 6.3-6.7 6.4 0.9 6.3-4 6.3-2.3 6.3-1.3 6.4-5 6.3-1.7 6.3 0.1 6.3 2.4 6.4-4.4 6.3-2.9 6.3-5.1 6.3-1.1 6.3-1 6.4 1.2 6.3-3.6 6.3-9.3 6.3 9 6.4-11.7 6.3-8.2 6.3-1.9 6.3 0.2 6.4 1.5 6.3-7.2 6.3-6.8 6.3 5.5 6.4-5.8 6.3 1.1 6.3-1.9 6.3-6 6.4-4.8 6.3-8.5 6.3 1.2" stroke="#00BA38"/>
<path d="M430.3 756l6.3 2 6.3 0.7 6.4 1 6.3-0.7 6.3 0.7 6.3-0.7 6.4-0.2 6.3 0.2 6.3 1.7 6.3-3.2 6.4-1.8 6.3-0.7 6.3 1.2 6.3-1.6 6.4 1.4 6.3-1.8 6.3-1.4 6.3-1.5 6.3 4.5 6.4-1.8 6.3-4.5 6.3 0.2 6.3 1.4 6.4-2.9 6.3 4.2 6.3-3.5 6.3 2.4 6.4-2.7 6.3 2.8 6.3-3.8 6.3-2.5 6.4-1.1 6.3 2.9 6.3-3.3 6.3-4.9 6.4-2.2 6.3 4.7 6.3-3.4" stroke="#619CFF"/>
<path d="M430.3 756.3l6.3 1.3 6.3 0.7 6.4-0.4 6.3 0.6 6.3 0.5 6.3-0.5 6.4-0.2 6.3-0.9 6.3 1 6.3-1.7 6.4-0.2 6.3 1.4 6.3 1.2 6.3-0.7 6.4-0.6 6.3 0.9 6.3 0.9 6.3-3 6.3-3 6.4-0.1 6.3 0.5 6.3 2.4 6.3 0.3 6.4-1.2 6.3-1.7 6.3 1.2 6.3-1.4 6.4-2.5 6.3-0.7 6.3 2.8 6.3 0.1 6.4 0.3 6.3-1.5 6.3-4.5 6.3-0.5 6.4 0.2 6.3 0.5 6.3-0.8" stroke="#00BA38"/>
<path d="M430.3 757.7l6.3 0.1 6.3-1.2 6.4-3.1 6.3-2 6.3-2.8 6.3-4.7 6.4-2.4 6.3 1 6.3-3.8 6.3-1.8 6.4-4.1 6.3-8.1 6.3-10.7 6.3 1.1 6.4 0 6.3 1.2 6.3-5.7 6.3-9.3 6.3 4.1 6.4-5.9 6.3-5.8 6.3-4.7 6.3-9.7 6.4 4.8 6.3-1.7 6.3 2.8 6.3-3.7 6.4-1.2 6.3-6.8 6.3-5.6 6.3-4.6 6.4-3.8 6.3 2.5 6.3 1.1 6.3-1.5 6.4-5.2 6.3-2.6 6.3 0.6" stroke="#F8766D"/>
<path d="M430.3 755.2l6.3 1.5 6.3 0.4 6.4-0.8 6.3-2.5 6.3-0.2 6.3 1 6.4-2.6 6.3-1.2 6.3-3 6.3-1.8 6.4-2.3 6.3-3 6.3-7.9 6.3-0.1 6.4 1.7 6.3-8.7 6.3-5.6 6.3 1.5 6.3 0.9 6.4-10 6.3-1.3 6.3-3.8 6.3 0.1 6.4 2.6 6.3-12.4 6.3 1.6 6.3-3.6 6.4 6.3 6.3-5.5 6.3-4.1 6.3-7.3 6.4-5 6.3 3 6.3 5.6 6.3-10.9 6.4-2.3 6.3-8.5 6.3 3.7" stroke="#00BA38"/>
<path d="M430.3 759.4l6.3 0.1 6.3-0.7 6.4-0.6 6.3-2.1 6.3 0.2 6.3-3.8 6.4-0.6 6.3-2.9 6.3 2.8 6.3-5.3 6.4-2.9 6.3 3 6.3 2.6 6.3-5.5 6.4-5.3 6.3-3.3 6.3-1.2 6.3 1 6.3 1.1 6.4-4.1 6.3-12.5 6.3 3.9 6.3-2.7 6.4 0.6 6.3-6.8 6.3-1.7 6.3 0 6.4-0.1 6.3-17.5 6.3 13.1 6.3 1.5 6.4-7.6 6.3-3.7 6.3-7.3 6.3 4.1 6.4-6.2 6.3 8.6 6.3-3.8" stroke="#00BA38"/>
<path d="M430.3 762.9l6.3-1.9 6.3-0.6 6.4-2.2 6.3-2.3 6.3 0.3 6.3-0.2 6.4-1.7 6.3-1.9 6.3 0.5 6.3 1 6.4-3.7 6.3-0.9 6.3-6.4 6.3 0.7 6.4-1.2 6.3-1.9 6.3 1.7 6.3-1.1 6.3-10.4 6.4-2.8 6.3 6.1 6.3-4.5 6.3-0.5 6.4-5.3 6.3-3.7 6.3 2.7 6.3-5.8 6.4 2.4 6.3-4 6.3-7.5 6.3 0.3 6.4 0.3 6.3-6.3 6.3 5 6.3-4.9 6.4 0.7 6.3 4.5 6.3-6.1" stroke="#F8766D"/>
<path d="M430.3 760.3l6.3-0.6 6.3 0.4 6.4-1.3 6.3-0.3 6.3-1.1 6.3 0.1 6.4-0.9 6.3-2.6 6.3 1 6.3-1.5 6.4 0.4 6.3-1.1 6.3-2.9 6.3 1.2 6.4-0.6 6.3-3.6 6.3-0.1 6.3 1.5 6.3-1.2 6.4 1.7 6.3-1.4 6.3 0.9 6.3-4.4 6.4-2.8 6.3 4.9 6.3-7.4 6.3-1.2 6.4 2.1 6.3 0.4 6.3 0 6.3-2.8 6.4-2.2 6.3-4.6 6.3-7.2 6.3 4.3 6.4-1.1 6.3 5.7 6.3-3.1" stroke="#F8766D"/>
<path d="M430.3 757.6l6.3 1.1 6.3 0.4 6.4 0.7 6.3 0.1 6.3 0.6 6.3-0.4 6.4 0.3 6.3-2.1 6.3 0.4 6.3-1 6.4 1 6.3-1 6.3 1.9 6.3-1.7 6.4 0.4 6.3-1.2 6.3 0 6.3 3.5 6.3-4.8 6.4 2.5 6.3 1 6.3 0.9 6.3-1.9 6.4 0.9 6.3-0.7 6.3-1.8 6.3 0.4 6.4 0 6.3-0.6 6.3 2.4 6.3-3.2 6.4-3.5 6.3 4.3 6.3-2.2 6.3-0.8 6.4-1.6 6.3 4.1 6.3-4" stroke="#F8766D"/>
<path d="M430.3 763.3l6.3-3.5 6.3-4.6 6.4-3.7 6.3-2.8 6.3-4.2 6.3-4.7 6.4-6.1 6.3 0.7 6.3-6.4 6.3-4.9 6.4-9.8 6.3 3.5 6.3-5.3 6.3-3.7 6.4-14.7 6.3 0.8 6.3-6.3 6.3-7.3 6.3-2 6.4 0.1 6.3-10.8 6.3 3.4 6.3-11 6.4-1.3 6.3-5.5 6.3 8.7 6.3-11.5 6.4-9.9 6.3 2.3 6.3 5 6.3-5.7 6.4-5.8 6.3-0.6 6.3-0.4 6.3-5.5 6.4-1.6 6.3-5.1 6.3 0.6" stroke="#619CFF"/>
<path d="M430.3 762.3l6.3-1.1 6.3-0.5 6.4-0.2 6.3-0.4 6.3-0.5 6.3-1.3 6.4-0.2 6.3 1 6.3-0.2 6.3-0.3 6.4-0.3 6.3-1.2 6.3-0.8 6.3-0.7 6.4 0.3 6.3 0.8 6.3 0.1 6.3 0.4 6.3-0.3 6.4 0 6.3-0.7 6.3 0.4 6.3-1.6 6.4 3.5 6.3-3.5 6.3-2.1 6.3 0.7 6.4 1.8 6.3 2.2 6.3-2.2 6.3-3.4 6.4 0.8 6.3 1.4 6.3-2.5 6.3 0 6.4 1.8 6.3 0.5 6.3-3.4" stroke="#F8766D"/>
<path d="M430.3 755.5l6.3 2 6.3 0.7 6.4 0.9 6.3-0.2 6.3-1.2 6.3-0.2 6.4-0.7 6.3 1.7 6.3-1.8 6.3-0.2 6.4-2.2 6.3-1 6.3 1.9 6.3-1.3 6.4-1 6.3-0.7 6.3-1.2 6.3 0.5 6.3-4.2 6.4 3.9 6.3 1.4 6.3-9 6.3 2.7 6.4-0.9 6.3-7.6 6.3 4.4 6.3-0.3 6.4 0.5 6.3-4 6.3 0 6.3-5.6 6.4-0.1 6.3 0.5 6.3-0.5 6.3-2.6 6.4 3.4 6.3 2.8 6.3-4.2" stroke="#619CFF"/>
<path d="M430.3 756l6.3 2.2 6.3 0.6 6.4-0.3 6.3 0.4 6.3-0.1 6.3 0.7 6.4-0.1 6.3-0.3 6.3 0 6.3-0.1 6.4 0.1 6.3 0 6.3 0.2 6.3 0.3 6.4 0 6.3-3 6.3 4.4 6.3-3.4 6.3 1.8 6.4-0.9 6.3 0.3 6.3 0 6.3 0.9 6.4-0.9 6.3-0.8 6.3 0.1 6.3-0.1 6.4-0.8 6.3-2.2 6.3-0.3 6.3 2.4 6.4 0.4 6.3-3.3 6.3 0.3 6.3 3.5 6.4-1.9 6.3-2.2 6.3-0.1" stroke="#00BA38"/>
<path d="M430.3 753.4l6.3 3.2 6.3 1.6 6.4-0.2 6.3 1.3 6.3 1 6.3-0.3 6.4-0.3 6.3-0.3 6.3-0.6 6.3-1.2 6.4-0.4 6.3 0 6.3-3.5 6.3 0.4 6.4 0.3 6.3 1 6.3 1.3 6.3-1.6 6.3 3 6.4-1.4 6.3-0.8 6.3 0.6 6.3-6.1 6.4-0.9 6.3 2.6 6.3 2.1 6.3-3.7 6.4 0 6.3 0.2 6.3-2.3 6.3 2.8 6.4-2.3 6.3-5.9 6.3 1.6 6.3 0.6 6.4-3.8 6.3 0.4 6.3-1.7" stroke="#F8766D"/>
<path d="M430.3 760.5l6.3-0.3 6.3 0 6.4-0.1 6.3-0.5 6.3-0.3 6.3 0 6.4 0.2 6.3 0.5 6.3-0.4 6.3 0 6.4-0.2 6.3 0.9 6.3 0.6 6.3-2 6.4-0.3 6.3 0.3 6.3 0.3 6.3-1.2 6.3 2.3 6.4-0.2 6.3 0.7 6.3-1.5 6.3 0.9 6.4-2.4 6.3-0.1 6.3 0.4 6.3-0.7 6.4 1 6.3-1.9 6.3 2.8 6.3 0.4 6.4-0.5 6.3-2.2 6.3 0.2 6.3 0.1 6.4-0.6 6.3 3.5 6.3-2.6" stroke="#619CFF"/>
<path d="M430.3 756.7l6.3 1.3 6.3 0.7 6.4 1 6.3-1.4 6.3-0.5 6.3 1.7 6.4-2.1 6.3-0.9 6.3 0.1 6.3-1.6 6.4-2.2 6.3 2.9 6.3-3.4 6.3 0.1 6.4 0.8 6.3-1.8 6.3-0.1 6.3 1.7 6.3-2.9 6.4-4.6 6.3 0.4 6.3 2.1 6.3-2.6 6.4 0.7 6.3-1.2 6.3-1.3 6.3 2.1 6.4 1.3 6.3-4.1 6.3 1.3 6.3 7.3 6.4-12.4 6.3 2.1 6.3-2.5 6.3 2.2 6.4-7.9 6.3 0 6.3 0.4" stroke="#00BA38"/>
<path d="M430.3 754.9l6.3 1.1 6.3-3.3 6.4-4.6 6.3-3.1 6.3-3.1 6.3-7.5 6.4-8.7 6.3-4.6 6.3-3.2 6.3-2.8 6.4-11 6.3-7.7 6.3-9.3 6.3-3.6 6.4-5.2 6.3-7.7 6.3 7.2 6.3-12.4 6.3-1.3 6.4-3.3 6.3-9.9 6.3-5.8 6.3-3.2 6.4-7.8 6.3 3.1 6.3-5.6 6.3-1.8 6.4-9.3 6.3 4.2 6.3-3 6.3-4.5 6.4-8.8 6.3 0.7 6.3 0.1 6.3-0.1 6.4-3.9 6.3-1.2 6.3 1.5" stroke="#619CFF"/>
<path d="M430.3 763.1l6.3-1.8 6.3-0.6 6.4-0.4 6.3-0.9 6.3-0.4 6.3-0.1 6.4-0.3 6.3 0.8 6.3 0.8 6.3-1.2 6.4 0 6.3 0.1 6.3 0.4 6.3 0 6.4-0.8 6.3-0.4 6.3-0.3 6.3-0.2 6.3 0.6 6.4-1.1 6.3-0.9 6.3 1 6.3-1.2 6.4 1.9 6.3 0.8 6.3-1.9 6.3 0.1 6.4-1.4 6.3 0.4 6.3 2.7 6.3 0.6 6.4-4.4 6.3-0.9 6.3 1.7 6.3-0.9 6.4-0.2 6.3-0.3 6.3-2.1" stroke="#00BA38"/>
<path d="M430.3 756.3l6.3 0.1 6.3-0.4 6.4-2.3 6.3-3.4 6.3-2.7 6.3-0.4 6.4-2.7 6.3-9.3 6.3-2.5 6.3-10.9 6.4-7.7 6.3-3.1 6.3-4.6 6.3-3.5 6.4-7.2 6.3-1.7 6.3-3.7 6.3-17.6 6.3 1.5 6.4 1.8 6.3-7 6.3 1.9 6.3-7.8 6.4-5 6.3-2.9 6.3-13.8 6.3 1.5 6.4-2 6.3-4.3 6.3 3.9 6.3-1.6 6.4-8.8 6.3-6.6 6.3-6.7 6.3 0 6.4 1.7 6.3-2.5 6.3 2.7" stroke="#00BA38"/>
<path d="M430.3 761.8l6.3-1 6.3 0.1 6.4-0.5 6.3-0.7 6.3 0 6.3 0.3 6.4-1.7 6.3 0.2 6.3 0.1 6.3-0.2 6.4-0.4 6.3 0.3 6.3 0.5 6.3 0.5 6.4 0.5 6.3-0.2 6.3-1.2 6.3 0 6.3-1.8 6.4 1.4 6.3-1.1 6.3 1 6.3 0 6.4 0.4 6.3 0 6.3-2.2 6.3-2.6 6.4 4 6.3-3.4 6.3 3 6.3-0.1 6.4-3.2 6.3 1.9 6.3 0 6.3-0.3 6.4 0.7 6.3-1.8 6.3 1.5" stroke="#00BA38"/>
<path d="M430.3 756.6l6.3-3.6 6.3-7.6 6.4-12 6.3-9 6.3-10.1 6.3-7.9 6.4-16.4 6.3-8.2 6.3-12.3 6.3-12.4 6.4 2.1 6.3-13.9 6.3-5.4 6.3-2 6.4-11.9 6.3-8.6 6.3-1.5 6.3-1.6 6.3-1.5 6.4-3.6 6.3-3.4 6.3-4.5 6.3-0.1 6.4-2.1 6.3-1.7 6.3-0.3 6.3-1.6 6.4-2.7 6.3 2.9 6.3-2.2 6.3-2.6 6.4-0.9 6.3 0.6 6.3-0.3 6.3 1.6 6.4-1.3 6.3 0 6.3 0.4" stroke="#00BA38"/>
<path d="M430.3 756.3l6.3-0.2 6.3-4.5 6.4-5.4 6.3-6.5 6.3-10.5 6.3-10.9 6.4-2.4 6.3-13.8 6.3-6.5 6.3-10.5 6.4-7.5 6.3-13.2 6.3-2.7 6.3-16.6 6.4-5.1 6.3-1.1 6.3 0.3 6.3-12 6.3-7 6.4 7.3 6.3-10.4 6.3-4.9 6.3-7.5 6.4-3.6 6.3 5.3 6.3-3.9 6.3-2.2 6.4-3.5 6.3 4.3 6.3-3 6.3-1.7 6.4 2.8 6.3-4.9 6.3-0.9 6.3-1.3 6.4-0.9 6.3 0.8 6.3 0.5" stroke="#00BA38"/>
<path d="M430.3 763.3l6.3-10 6.3-14.1 6.4-13.5 6.3-17.6 6.3-12.1 6.3-15.6 6.4-22.3 6.3-0.6 6.3-17.3 6.3-6.1 6.4-9.4 6.3-8.1 6.3-6.7 6.3-6.2 6.4-0.5 6.3-2.3 6.3-3.3 6.3-4.5 6.3 1.4 6.4-0.6 6.3-2.2 6.3-1.6 6.3-0.1 6.4 0.5 6.3 0 6.3-0.3 6.3 0 6.4 0 6.3-0.2 6.3 0 6.3 0 6.4 0.1 6.3-0.1 6.3 0 6.3 0 6.4 0 6.3 0 6.3 0.4" stroke="#619CFF"/>
<path d="M430.3 758.5l6.3 0.3 6.3-0.8 6.4-0.5 6.3-0.1 6.3 0.4 6.3-1.2 6.4-3.5 6.3 0.1 6.3-1.5 6.3-1.2 6.4 0.2 6.3-1.5 6.3-6.3 6.3-3.2 6.4-6 6.3 7.2 6.3 1.8 6.3-4.2 6.3 2.6 6.4-6.1 6.3-7.4 6.3 0.8 6.3 1.4 6.4 4.8 6.3-6.3 6.3 0.6 6.3-6.2 6.4-2.5 6.3 7.1 6.3-2.1 6.3-3.3 6.4-7 6.3-5.6 6.3 5.4 6.3-2.3 6.4-6.1 6.3 5.5 6.3-2.4" stroke="#F8766D"/>
<path d="M430.3 757.2l6.3 1.4 6.3 1 6.4 0.1 6.3 0.3 6.3 0 6.3-0.6 6.4 0.1 6.3-0.5 6.3 1.4 6.3-0.7 6.4-0.3 6.3 0.8 6.3 0 6.3-0.2 6.4-0.7 6.3-0.9 6.3 1.3 6.3-1 6.3 0.3 6.4-0.9 6.3 1.2 6.3-0.4 6.3-0.6 6.4 0.2 6.3 0.6 6.3 0.8 6.3-1.8 6.4 0 6.3 1.6 6.3-0.6 6.3 1.5 6.4-2.2 6.3-1 6.3 3 6.3-1.4 6.4-0.3 6.3-0.4 6.3-1.9" stroke="#F8766D"/>
<path d="M430.3 758.1l6.3-0.3 6.3-1.4 6.4-4 6.3-3.7 6.3-7.1 6.3 1.9 6.4-3 6.3-10.7 6.3-4.8 6.3 3.1 6.4-3.8 6.3-3.7 6.3-5.8 6.3-10.3 6.4-4.5 6.3-9.7 6.3 2.5 6.3-8.9 6.3 0.8 6.4-8.9 6.3-10.9 6.3 3.7 6.3-12.1 6.4 4.8 6.3 0.6 6.3-3.6 6.3-0.9 6.4-9.3 6.3-1.6 6.3-2.7 6.3-5.2 6.4-4.2 6.3-2.4 6.3 3.7 6.3-6.1 6.4-3.3 6.3-1.1 6.3 1" stroke="#00BA38"/>
<path d="M430.3 761.5l6.3-1.2 6.3-1.7 6.4-0.6 6.3-1.2 6.3-2.8 6.3-1.8 6.4-1.3 6.3-3.6 6.3-2.2 6.3 2.2 6.4-0.4 6.3-9.3 6.3 2.7 6.3 2.8 6.4-5.3 6.3-4.7 6.3-5.7 6.3-7.2 6.3 2.9 6.4 6.4 6.3-4.6 6.3-7.9 6.3-7.5 6.4 2.5 6.3 1.6 6.3-3 6.3 1.6 6.4-2.5 6.3-16.8 6.3-4.1 6.3 6.6 6.4 3 6.3-9.7 6.3-3.9 6.3-2.1 6.4 8.4 6.3-7.1 6.3-0.3" stroke="#F8766D"/>
<path d="M430.3 754.3l6.3 2.7 6.3 1.3 6.4-0.3 6.3 0.6 6.3 0.2 6.3 2 6.4-1.3 6.3-3.7 6.3-0.4 6.3 1.5 6.4 0.1 6.3-2.2 6.3-2.2 6.3 0.7 6.4-1.5 6.3 0.7 6.3-1.5 6.3 0.9 6.3-2.8 6.4 2.9 6.3 3.2 6.3-6.5 6.3 2.5 6.4-5.4 6.3 3 6.3-6.1 6.3 1.2 6.4-0.3 6.3-2.4 6.3-2.9 6.3 2.9 6.4 1.1 6.3-0.9 6.3-8.6 6.3 2.8 6.4 3.3 6.3 1 6.3-4.9" stroke="#619CFF"/>
<path d="M430.3 753.5l6.3 1.5 6.3-1.9 6.4-4.2 6.3-5.6 6.3-3.8 6.3-4.1 6.4-10 6.3-5.3 6.3-7.8 6.3-6.9 6.4-2.7 6.3-10.2 6.3-2.9 6.3-9.6 6.4-8.7 6.3-4 6.3-3.6 6.3-3.1 6.3-12.1 6.4-2.3 6.3-15.5 6.3 7.3 6.3-6.9 6.4-7.8 6.3 2.2 6.3-4.2 6.3-0.9 6.4-4.8 6.3-3.4 6.3-8.2 6.3 3.6 6.4-4.4 6.3-5.5 6.3 3.1 6.3 0.8 6.4-6.8 6.3 2.3 6.3-5.3" stroke="#00BA38"/>
<path d="M430.3 754.9l6.3-10.3 6.3-18.9 6.4-23.1 6.3-22.2 6.3-19.3 6.3-15.5 6.4-17.2 6.3-11.4 6.3-4.1 6.3-5.4 6.4-4.5 6.3-3.6 6.3-3 6.3-2 6.4-3.1 6.3 1.1 6.3-2.3 6.3-0.1 6.3 0 6.4 0 6.3 1 6.3-1 6.3 0 6.4 0.3 6.3 0.1 6.3 0 6.3-0.2 6.4-0.1 6.3 0.7 6.3-0.8 6.3 0 6.4 0.7 6.3-0.7 6.3 0.2 6.3 0.2 6.4-0.2 6.3-0.1 6.3-0.1" stroke="#619CFF"/>
<path d="M430.3 761l6.3-0.6 6.3-0.2 6.4-0.6 6.3-0.5 6.3-1.4 6.3-0.1 6.4 3.8 6.3-1.5 6.3 1 6.3-2.4 6.4-1.1 6.3-2.1 6.3-0.8 6.3-1.2 6.4 1.7 6.3 0.6 6.3-2.1 6.3 0.3 6.3 0 6.4-4.1 6.3 1.5 6.3 0.1 6.3-2.1 6.4 0.3 6.3-3.2 6.3-2.1 6.3 3.5 6.4-2.9 6.3-1.8 6.3-0.2 6.3 2.3 6.4-8.5 6.3 2.9 6.3-0.5 6.3 3 6.4-7.4 6.3 4.4 6.3 2.5" stroke="#F8766D"/>
<path d="M430.3 754.2l6.3 2.9 6.3 1.4 6.4 0.5 6.3 0.1 6.3 0.6 6.3 0.4 6.4 0.5 6.3-0.6 6.3-0.5 6.3-1.2 6.4-0.1 6.3 1.2 6.3 1.1 6.3-1 6.4-0.8 6.3-0.8 6.3 0.9 6.3-1.2 6.3 1.3 6.4-1.3 6.3-1.1 6.3 0.6 6.3 1.4 6.4 0.3 6.3-3.7 6.3 1.9 6.3 1.2 6.4-0.8 6.3 0.3 6.3 0.7 6.3-3.1 6.4 1.3 6.3 0.8 6.3 0 6.3-1.8 6.4-1.8 6.3-1.5 6.3 2.7" stroke="#00BA38"/>
<path d="M430.3 758.9l6.3 0.2 6.3-0.9 6.4-1.6 6.3-0.3 6.3-2.9 6.3-5.2 6.4-1 6.3 1.2 6.3-8.9 6.3 2.9 6.4-5.5 6.3 1.4 6.3-7.2 6.3-1.6 6.4-5 6.3-2.8 6.3 3.1 6.3-0.8 6.3-5.3 6.4-10.7 6.3-3.4 6.3-7 6.3-4.6 6.4-5.8 6.3 7.1 6.3 0.8 6.3-2.3 6.4-13.4 6.3 1.3 6.3-4.8 6.3-10.6 6.4 4.6 6.3 0.4 6.3-0.6 6.3-10.3 6.4-5.3 6.3 0.5 6.3 0.3" stroke="#F8766D"/>
<path d="M430.3 761.8l6.3-1.1 6.3-0.8 6.4-1.4 6.3 0.1 6.3 0.5 6.3-1.1 6.4-2.5 6.3-1 6.3 1.3 6.3-5.5 6.4 2.8 6.3-0.8 6.3-1.5 6.3-2.8 6.4 1.9 6.3-2.3 6.3-2.1 6.3-2.3 6.3 4.8 6.4-2 6.3-0.8 6.3 0 6.3-1.8 6.4-2.8 6.3-5 6.3-1.6 6.3 2.5 6.4-1 6.3-1.2 6.3-1.4 6.3-1.9 6.4-1.5 6.3-3.9 6.3 3.4 6.3-6.7 6.4-2.5 6.3 4.5 6.3-4.8" stroke="#00BA38"/>
<path d="M430.3 754.4l6.3 2.5 6.3 0.9 6.4 0.1 6.3-1.9 6.3-3.1 6.3 1.9 6.4-0.8 6.3 0.4 6.3-3.7 6.3 3.8 6.4-5.9 6.3 3.6 6.3-4.8 6.3-2.8 6.4 1.9 6.3-3.7 6.3-6 6.3 1.4 6.3-1.6 6.4 2.8 6.3-2.9 6.3 2 6.3-10.7 6.4 1.3 6.3-5.4 6.3-2.7 6.3 2.7 6.4-4 6.3-4.3 6.3-3.7 6.3 13.8 6.4-14.1 6.3-5.1 6.3 1.6 6.3 0.8 6.4-2.2 6.3-4.9 6.3 8.8" stroke="#F8766D"/>
<path d="M430.3 754.5l6.3 2.8 6.3 1.4 6.4 0.3 6.3 0.8 6.3 0.2 6.3 0.4 6.4-0.2 6.3-0.5 6.3-0.8 6.3 0.1 6.4 0.4 6.3-0.4 6.3-0.7 6.3-0.6 6.4 1.8 6.3-1 6.3 0.7 6.3-1.3 6.3-0.5 6.4 0.6 6.3-2.6 6.3 2.9 6.3-1.4 6.4 0.3 6.3-0.5 6.3-0.8 6.3 0.2 6.4 0.4 6.3 0.8 6.3 2.7 6.3-5.5 6.4 1 6.3 1.4 6.3-1 6.3-0.7 6.4 0.8 6.3-1 6.3-1.5" stroke="#00BA38"/>
<path d="M430.3 758l6.3 0.9 6.3 0.3 6.4 0.1 6.3 0 6.3 1 6.3 0 6.4-0.9 6.3-0.3 6.3 1 6.3-0.4 6.4 1 6.3-0.5 6.3-1.3 6.3 0.5 6.4 1 6.3-2 6.3 0.6 6.3 0.1 6.3-0.3 6.4-0.2 6.3-0.7 6.3 1.2 6.3 0.5 6.4 0.2 6.3-2.5 6.3-0.3 6.3 0.2 6.4 2.5 6.3 0.3 6.3-0.8 6.3 0.2 6.4 1.3 6.3-2.2 6.3 0.7 6.3 0 6.4-3.3 6.3 2.1 6.3 1.4" stroke="#619CFF"/>
<path d="M430.3 757l6.3 0.8 6.3 0.9 6.4-0.1 6.3 0.8 6.3 0.5 6.3 0.5 6.4-1.2 6.3-0.9 6.3-1.5 6.3 0.1 6.4 0.7 6.3-2.2 6.3 0.5 6.3 0.4 6.4 0.6 6.3 1.3 6.3-4.1 6.3 0.4 6.3 2.8 6.4-2.4 6.3-2.5 6.3-1.5 6.3 3.3 6.4 2.3 6.3-3.2 6.3-3.1 6.3 6 6.4-2.8 6.3-1.7 6.3-1.1 6.3 1.5 6.4-0.5 6.3-3.2 6.3-2.9 6.3 2.8 6.4-0.4 6.3-0.1 6.3 0.3" stroke="#00BA38"/>
<path d="M430.3 757.1l6.3 0.8 6.3-1 6.4-0.2 6.3-0.5 6.3-3.8 6.3-2.8 6.4 0.1 6.3-0.9 6.3-0.9 6.3-5.8 6.4-1.5 6.3-0.3 6.3-3 6.3 1.6 6.4-5.3 6.3-5.6 6.3 0.3 6.3-2.9 6.3-1.2 6.4-1 6.3-12.5 6.3-0.3 6.3 3.2 6.4-0.5 6.3-15.8 6.3 0.6 6.3-4.4 6.4 2.5 6.3-4.3 6.3 11.2 6.3-14.1 6.4-3.3 6.3 2 6.3-9.6 6.3-2.2 6.4 3.8 6.3-2.8 6.3-2.5" stroke="#619CFF"/>
<path d="M430.3 757.5l6.3 0.8 6.3 0.3 6.4 0.9 6.3-1.2 6.3 0.7 6.3 0.4 6.4-0.2 6.3-1.6 6.3-3.1 6.3-0.4 6.4 1.2 6.3-3.3 6.3 0.2 6.3-1.5 6.4 3.7 6.3-3.4 6.3 0.1 6.3 1.9 6.3-4.6 6.4-0.6 6.3-0.9 6.3 0.8 6.3 1.3 6.4-6.1 6.3 0.7 6.3-2.5 6.3 0.6 6.4-1.1 6.3 1.7 6.3-2.9 6.3-0.5 6.4 0.8 6.3-1.4 6.3-2.5 6.3-2 6.4 0.1 6.3 2.6 6.3-4.9" stroke="#F8766D"/>
<path d="M430.3 755.2l6.3 2.8 6.3 0.6 6.4 0.5 6.3 1 6.3-1.6 6.3 0.1 6.4-1 6.3 1.4 6.3-1.6 6.3 0.7 6.4-1.6 6.3-0.7 6.3-1.6 6.3-0.3 6.4 1.3 6.3 2.5 6.3-4.8 6.3-2.1 6.3 1.5 6.4-0.5 6.3-0.7 6.3-3.5 6.3-2.5 6.4 3.6 6.3 0.4 6.3-1.5 6.3 1 6.4 3.2 6.3-3.6 6.3-3.3 6.3 2.5 6.4-1.3 6.3-7.1 6.3 1 6.3 2.8 6.4-1.2 6.3-3 6.3-2.9" stroke="#00BA38"/>
<path d="M430.3 760.2l6.3-0.2 6.3 0 6.4-0.7 6.3-0.3 6.3-0.1 6.3 1.4 6.4-1 6.3 0.6 6.3-1.3 6.3-0.8 6.4-1.3 6.3 0.5 6.3 0.2 6.3-3.7 6.4 2.1 6.3 1.1 6.3 0 6.3-3.5 6.3 0.8 6.4 0.9 6.3-5.3 6.3 0.6 6.3 2.9 6.4-0.1 6.3-2.9 6.3-0.2 6.3 2.2 6.4-3.6 6.3-1.4 6.3 1.6 6.3 2.7 6.4-0.6 6.3-4.2 6.3-1.4 6.3-1.2 6.4 3.7 6.3-0.4 6.3 5.2" stroke="#619CFF"/>
<path d="M430.3 752.4l6.3 3.5 6.3 2 6.4 0.7 6.3 0.8 6.3 0.3 6.3 0.3 6.4-1.1 6.3 0.2 6.3-1.5 6.3 0.8 6.4-0.1 6.3-2 6.3 0.1 6.3 0.6 6.4-2.1 6.3-0.9 6.3 1.6 6.3-3.9 6.3-1.2 6.4 3.7 6.3-3.5 6.3 2.9 6.3-0.5 6.4-1.4 6.3 3.2 6.3-5.2 6.3 2.5 6.4 0.6 6.3-3.5 6.3 0.5 6.3-0.3 6.4 0.6 6.3-1.4 6.3 2.1 6.3-4 6.4-4.7 6.3 3.7 6.3-2.3" stroke="#619CFF"/>
<path d="M430.3 754.6l6.3 2.3 6.3 1.6 6.4-1.2 6.3 0.2 6.3-0.4 6.3-2.6 6.4 0.2 6.3 0.7 6.3-0.3 6.3-2 6.4-3.3 6.3-1.9 6.3 1 6.3 1.6 6.4-5.2 6.3 3.6 6.3-3.2 6.3-4.7 6.3 2.7 6.4-2.7 6.3 0.6 6.3-1.2 6.3-2.1 6.4-5.2 6.3 1.7 6.3-0.6 6.3-8.3 6.4-3.4 6.3-0.9 6.3 2.7 6.3-0.6 6.4-2.5 6.3-0.6 6.3-1.5 6.3-5.2 6.4-6.5 6.3 3.6 6.3 2.2" stroke="#F8766D"/>
<path d="M430.3 754.9l6.3 1.3 6.3-2.2 6.4-3.6 6.3 0.6 6.3-6.1 6.3-3.9 6.4-1.9 6.3-10 6.3 2 6.3-10.7 6.4-7.3 6.3 7.5 6.3-12.2 6.3-9.5 6.4-5 6.3-12.5 6.3 4.5 6.3-6.7 6.3 1.3 6.4-6.6 6.3-12.5 6.3 0.3 6.3-12.6 6.4 4 6.3-5 6.3-3.5 6.3-5 6.4-5.8 6.3 3.6 6.3-2.2 6.3-3.8 6.4-3.3 6.3-8.6 6.3 6.4 6.3-4.3 6.4-2.6 6.3-5.4 6.3 1.8" stroke="#619CFF"/>
<path d="M430.3 755.5l6.3 2.2 6.3 0.8 6.4 0.8 6.3 0.4 6.3-1.2 6.3-0.1 6.4 0.3 6.3 0.2 6.3 1.2 6.3-1.4 6.4 2.2 6.3-1.7 6.3 0.5 6.3 0.2 6.4-0.6 6.3-0.1 6.3-1.5 6.3 1.3 6.3-1.7 6.4 1 6.3-0.1 6.3-0.1 6.3-2.1 6.4-4.7 6.3 1.9 6.3 2.4 6.3 1 6.4 0.3 6.3-3.3 6.3 1 6.3-1.6 6.4 2.9 6.3-4.4 6.3 2.4 6.3 1.5 6.4-2.1 6.3 1.7 6.3 0" stroke="#619CFF"/>
<path d="M430.3 758.3l6.3 0.7 6.3-1 6.4-0.5 6.3-1.4 6.3-2.4 6.3 0.3 6.4-0.4 6.3-1.4 6.3-4.3 6.3-1.3 6.4-1.2 6.3-3.1 6.3-2.3 6.3 0.3 6.4-3.1 6.3-3.9 6.3-1.5 6.3 2 6.3-0.7 6.4-6.3 6.3-3.1 6.3-1.7 6.3 1.8 6.4-11.8 6.3-1 6.3-0.6 6.3-3 6.4 3.1 6.3-0.7 6.3-1 6.3-3.8 6.4-5.5 6.3 0 6.3-2.7 6.3-1.5 6.4-7.1 6.3-0.7 6.3-0.2" stroke="#619CFF"/>
<path d="M430.3 759.9l6.3 0.3 6.3-0.1 6.4-0.7 6.3-0.1 6.3 1.1 6.3-0.6 6.4 1.8 6.3-1.8 6.3 1.3 6.3-1.9 6.4 0 6.3-1.2 6.3 0.9 6.3-1.5 6.4-0.1 6.3-1.9 6.3 2.7 6.3-0.2 6.3 0.6 6.4-0.8 6.3-2.2 6.3 0.6 6.3 0.7 6.4-0.4 6.3-0.4 6.3-0.8 6.3-3.1 6.4 1.8 6.3-3.8 6.3 1.3 6.3 0.3 6.4 3.1 6.3-0.1 6.3-0.7 6.3-3.3 6.4 3.4 6.3-0.7 6.3 0.3" stroke="#F8766D"/>
<path d="M430.3 753.1l6.3 2.5 6.3-0.7 6.4 0.4 6.3-5.1 6.3-2 6.3 0.9 6.4-3.2 6.3-2.1 6.3-3.6 6.3-8.5 6.4-3.5 6.3 2.4 6.3-9 6.3 2.2 6.4-6.9 6.3-0.6 6.3-7 6.3 3.5 6.3-9.5 6.4-3 6.3-3.1 6.3-10.5 6.3-1.4 6.4-0.7 6.3-2.9 6.3-3.1 6.3 4.4 6.4-7.5 6.3 3.9 6.3-18.9 6.3 1.7 6.4-3.5 6.3-5 6.3 7.1 6.3-7.4 6.4-0.8 6.3-11.7 6.3 2.4" stroke="#00BA38"/>
<path d="M430.3 761.3l6.3-0.7 6.3-0.5 6.4-0.1 6.3-0.4 6.3-0.2 6.3 0.1 6.4 0.3 6.3-1.1 6.3 0.4 6.3-0.6 6.4 1.6 6.3-0.7 6.3-0.5 6.3-1.7 6.4 0.2 6.3 0.4 6.3 1 6.3 0.7 6.3-0.5 6.4-1.2 6.3 0.8 6.3 1.8 6.3-0.4 6.4-1.8 6.3 0.3 6.3-1.7 6.3 1.8 6.4-0.2 6.3-3.3 6.3 1.7 6.3-2.7 6.4 2.7 6.3-3.5 6.3-0.3 6.3 3.2 6.4-0.9 6.3 2.9 6.3-0.5" stroke="#F8766D"/>
<path d="M430.3 762.8l6.3-8.1 6.3-12.5 6.4-15.9 6.3-12.1 6.3-17.8 6.3-9.3 6.4-12.4 6.3-12.4 6.3-13.9 6.3 2.1 6.4-14.6 6.3-9.7 6.3-2.5 6.3-12.9 6.4 2.2 6.3-3.2 6.3-2.7 6.3-3.2 6.3-7.9 6.4 1.6 6.3-2.3 6.3-3.5 6.3 1.8 6.4-1.7 6.3-0.6 6.3 0.6 6.3 0.3 6.4-0.9 6.3-1.3 6.3 0.4 6.3-0.4 6.4 1.4 6.3-0.5 6.3 0.2 6.3-0.5 6.4-0.6 6.3 1.1 6.3-1.1" stroke="#619CFF"/>
<path d="M430.3 752.6l6.3 3.3 6.3 1.3 6.4 0.7 6.3-1.5 6.3 2.2 6.3-0.8 6.4-0.9 6.3-3 6.3 1.8 6.3-0.6 6.4 2.5 6.3-1.4 6.3-4.9 6.3-1.2 6.4-0.9 6.3-2.8 6.3-1.8 6.3 4.6 6.3-6.8 6.4-0.7 6.3 1.9 6.3-1.1 6.3 2.8 6.4-1.3 6.3-4.2 6.3-0.9 6.3 0.2 6.4 0.4 6.3-3.4 6.3 0.2 6.3-0.6 6.4-4.1 6.3 1.2 6.3-6.2 6.3 2.9 6.4 2.9 6.3-8.9 6.3-3.1" stroke="#00BA38"/>
<path d="M430.3 757.3l6.3-0.5 6.3-1.3 6.4-2.5 6.3-2.8 6.3-6.5 6.3-1.2 6.4-3.9 6.3-2.1 6.3-4.6 6.3-3.2 6.4-4.1 6.3-6.3 6.3-6.6 6.3-5.5 6.4-2.8 6.3-5.3 6.3-1.7 6.3-3.8 6.3-3 6.4-6.6 6.3-3 6.3-11.5 6.3 7.6 6.4-6.1 6.3 0.5 6.3 0.6 6.3-6.1 6.4-7.2 6.3-0.2 6.3-10.8 6.3-1.4 6.4-2.8 6.3 2.4 6.3-4.8 6.3-4.7 6.4-3.4 6.3-6.6 6.3 2.3" stroke="#619CFF"/>
<path d="M430.3 760.8l6.3-0.6 6.3-0.5 6.4 0.3 6.3-0.1 6.3-0.4 6.3-0.5 6.4 0.5 6.3-0.3 6.3 1.4 6.3-0.6 6.4-1.1 6.3-0.3 6.3-1.3 6.3 2.2 6.4 0.4 6.3 0.6 6.3-2.5 6.3 0.9 6.3 0.5 6.4-0.2 6.3-0.8 6.3-0.4 6.3-0.8 6.4 2.1 6.3-1.1 6.3-0.4 6.3 2.6 6.4-1 6.3-2.3 6.3-0.7 6.3 1.3 6.4-0.2 6.3-1.3 6.3 3.3 6.3-3.5 6.4-2.7 6.3 2.2 6.3-0.4" stroke="#F8766D"/>
<path d="M430.3 759l6.3-0.1 6.3-0.7 6.4-2.1 6.3-1.5 6.3-0.5 6.3-1.9 6.4 0.7 6.3-2.8 6.3-1.8 6.3-4.7 6.4 2.8 6.3-4.6 6.3-5.6 6.3 2.3 6.4-3.7 6.3-5.7 6.3-5.1 6.3 0.5 6.3-6.6 6.4 4.8 6.3-1.6 6.3-1.6 6.3-7.4 6.4 4.4 6.3-3.4 6.3 1.9 6.3-5.5 6.4-9.2 6.3 1.7 6.3-10.8 6.3-3.1 6.4 4.9 6.3 8 6.3-5.7 6.3-6.5 6.4-8.2 6.3-1.8 6.3 4.7" stroke="#619CFF"/>
<path d="M430.3 759.7l6.3-1.4 6.3-0.4 6.4-4.6 6.3-1.8 6.3-2 6.3-4.4 6.4-3 6.3-4 6.3-7.2 6.3-4 6.4-9.1 6.3 2.7 6.3-10.8 6.3 1 6.4-8.2 6.3-3.7 6.3-9.5 6.3 3.1 6.3-7.7 6.4-11.6 6.3-5.2 6.3 2.1 6.3-6.5 6.4-6 6.3-2 6.3-6 6.3-3.3 6.4 9.9 6.3-11 6.3-17.1 6.3 8.5 6.4 0.3 6.3-3.2 6.3 0.4 6.3-3.4 6.4-3.4 6.3-10 6.3 3.5" stroke="#F8766D"/>
<path d="M430.3 753.9l6.3 2.9 6.3 1.7 6.4 1.3 6.3-0.1 6.3-0.8 6.3 1 6.4 0.1 6.3 0 6.3 0.3 6.3 0.7 6.4-1.7 6.3 0 6.3-0.1 6.3 1 6.4-0.1 6.3-1.3 6.3-0.6 6.3 0.5 6.3 2.1 6.4-1 6.3-0.6 6.3 0 6.3 0.5 6.4 0.2 6.3-1.4 6.3 0.3 6.3 0 6.4 0.2 6.3 1.1 6.3 1 6.3-2.6 6.4-1.5 6.3-2.3 6.3 3.2 6.3 0.7 6.4-1.5 6.3 0.9 6.3 0.9" stroke="#F8766D"/>
<path d="M430.3 761.2l6.3-1.6 6.3-2.5 6.4-2.6 6.3-3.7 6.3-1.8 6.3 1.7 6.4-3.8 6.3 0.1 6.3-7.7 6.3-3.9 6.4 1.6 6.3-3.7 6.3-8.1 6.3-3.5 6.4-0.6 6.3 2.2 6.3-10.2 6.3-3.8 6.3 0.3 6.4 0.8 6.3-3.8 6.3-19.3 6.3 1.5 6.4 5.6 6.3-3.1 6.3-2.6 6.3-11.7 6.4-0.9 6.3 1.8 6.3-4.1 6.3 1.4 6.4-14.5 6.3 0.1 6.3-0.5 6.3-1.6 6.4-0.7 6.3 2 6.3-4.2" stroke="#619CFF"/>
<path d="M430.3 758.7l6.3-0.3 6.3-1.1 6.4-4.4 6.3-1.9 6.3-0.7 6.3-5.2 6.4-9.2 6.3-1.6 6.3-2.5 6.3-4.6 6.4-2.2 6.3-1.3 6.3-11.8 6.3 10.7 6.4-10.2 6.3-4.6 6.3-7 6.3-2.9 6.3-11.6 6.4-8.2 6.3 0.7 6.3 3.6 6.3-3.8 6.4-5.4 6.3-1.8 6.3-1.6 6.3-15.5 6.4-3.6 6.3 4.8 6.3-1.2 6.3-6.3 6.4-0.9 6.3-7.2 6.3-4.9 6.3-0.2 6.4 1.9 6.3-3.5 6.3 2.3" stroke="#F8766D"/>
<path d="M430.3 754.8l6.3 1.7 6.3 0.3 6.4-2.2 6.3-1.4 6.3-0.7 6.3 2.3 6.4-2.4 6.3-3.7 6.3-6.7 6.3-0.4 6.4 3.3 6.3-6.8 6.3-4.5 6.3-3.9 6.4-3.7 6.3 4.8 6.3-3.1 6.3-4.7 6.3-4.7 6.4 2.3 6.3-7.1 6.3-3.5 6.3 9.4 6.4-10.5 6.3-3.5 6.3 0.8 6.3-2.3 6.4-6.2 6.3-8.9 6.3 0.5 6.3 7.3 6.4-4.2 6.3-5 6.3 7.6 6.3-10 6.4-1.6 6.3-3 6.3 0.7" stroke="#F8766D"/>
<path d="M430.3 753.9l6.3 0.3 6.3-1.1 6.4-3.9 6.3-4.4 6.3-8.3 6.3-2.7 6.4-13 6.3-6.7 6.3-5.6 6.3-3.4 6.4-10.2 6.3-1.9 6.3-18.2 6.3-3.8 6.4 4.9 6.3-11.6 6.3-10 6.3-2 6.3-13 6.4 5.2 6.3-7.9 6.3 1.1 6.3-5.7 6.4-6.6 6.3 0.2 6.3-0.3 6.3-8.1 6.4-4.4 6.3-0.3 6.3-4.9 6.3 5.7 6.4 0.1 6.3-9 6.3 0.4 6.3-2.3 6.4-2.8 6.3 2 6.3 1.5" stroke="#00BA38"/>
<path d="M430.3 754l6.3 2.4 6.3 0.6 6.4 0.7 6.3-1.1 6.3 0.4 6.3-0.8 6.4-0.2 6.3-2.1 6.3-2.5 6.3 0.2 6.4-3.3 6.3-0.3 6.3 2.4 6.3 1.3 6.4-2.8 6.3-3 6.3-3.9 6.3 4.2 6.3-6.7 6.4-0.8 6.3 0.9 6.3-2.9 6.3 0 6.4-0.4 6.3-5 6.3-3.6 6.3-0.8 6.4-3.7 6.3 1.5 6.3 3.4 6.3-0.8 6.4-2.5 6.3-2.6 6.3-2.3 6.3-2 6.4-4.7 6.3-2.2 6.3-1.5" stroke="#00BA38"/>
<path d="M430.3 761.6l6.3-2.1 6.3-1.6 6.4-4.2 6.3-5.1 6.3-6.6 6.3-0.4 6.4-5.1 6.3-0.3 6.3-14.1 6.3-3.4 6.4-6.4 6.3 0.8 6.3-8.3 6.3-4.9 6.4-2.7 6.3-4.6 6.3-5.9 6.3-5.7 6.3-1.3 6.4-16.9 6.3-2.4 6.3-4.4 6.3-4.2 6.4-2.6 6.3-4 6.3-6.2 6.3-1.1 6.4-8.5 6.3 1 6.3-6.8 6.3 3.4 6.4-5 6.3-4.5 6.3-4.9 6.3-2.9 6.4 4.9 6.3-0.9 6.3-7.9" stroke="#F8766D"/>
<path d="M430.3 758.2l6.3 0.9 6.3 0.1 6.4-0.6 6.3-0.7 6.3 1.5 6.3 0.3 6.4-0.1 6.3-1.3 6.3 0.2 6.3 1.7 6.4-1.3 6.3 1.2 6.3-2.3 6.3 0.1 6.4-1.6 6.3 0.2 6.3 1.5 6.3 0.9 6.3 0.5 6.4-1.6 6.3-4 6.3-1.2 6.3 3.7 6.4 1.2 6.3-4.5 6.3 2.8 6.3-0.9 6.4-0.5 6.3 0.8 6.3-2.8 6.3-0.8 6.4 0.5 6.3 3.5 6.3 0.8 6.3-3.4 6.4 0.5 6.3-2.8 6.3 1.6" stroke="#F8766D"/>
<path d="M430.3 759.2l6.3-0.9 6.3-1 6.4-2.4 6.3-5.8 6.3-2.1 6.3-3.2 6.4-4.4 6.3-9.4 6.3 2.2 6.3-9 6.4-5.6 6.3-6.7 6.3-6.8 6.3-3.2 6.4-6.9 6.3-5.2 6.3-9.2 6.3 9 6.3-9.7 6.4-7.3 6.3 0.5 6.3-14.5 6.3-3.8 6.4 5 6.3-7.2 6.3-8.7 6.3-2.8 6.4-0.1 6.3-7.4 6.3-3.3 6.3 1.3 6.4-4 6.3-8.2 6.3-3.7 6.3 4.3 6.4-1.4 6.3-8 6.3-1.1" stroke="#F8766D"/>
<path d="M430.3 752.7l6.3 3.7 6.3 1.6 6.4 0.7 6.3 0.5 6.3 0.6 6.3 0.1 6.4-0.2 6.3 0.3 6.3-0.7 6.3-0.4 6.4 0.7 6.3-0.1 6.3 0.5 6.3-1.3 6.4 0.6 6.3-2.1 6.3 2.6 6.3-2.4 6.3 1.1 6.4 1.7 6.3 0.2 6.3-2.2 6.3 0.5 6.4-1.2 6.3 2.1 6.3-1 6.3 0.5 6.4-0.6 6.3 0.1 6.3-1 6.3 0 6.4 0.9 6.3-2.5 6.3 3.2 6.3-1.5 6.4 0.4 6.3 1.5 6.3-1.5" stroke="#619CFF"/>
<path d="M430.3 761l6.3-0.6 6.3-0.3 6.4-0.1 6.3 0.1 6.3-0.9 6.3 0.4 6.4 0.5 6.3 0.6 6.3-0.9 6.3-0.6 6.4 1.2 6.3 0.3 6.3-0.3 6.3-0.1 6.4 0 6.3-0.6 6.3 0.1 6.3-1.2 6.3 0.8 6.4 0.9 6.3-0.7 6.3 0.9 6.3-1.8 6.4 0.4 6.3-0.2 6.3 1.2 6.3 0 6.4-2.1 6.3-1.3 6.3 0.8 6.3 2.2 6.4-1.6 6.3 1.2 6.3-1.6 6.3 2.3 6.4-2 6.3 2 6.3-1.1" stroke="#F8766D"/>
<path d="M430.3 756.7l6.3 1.4 6.3 0.5 6.4 1.2 6.3-0.6 6.3-0.2 6.3-0.9 6.4-0.5 6.3-0.9 6.3 2.4 6.3-1.1 6.4-0.2 6.3-1 6.3-0.4 6.3-0.2 6.4 0.1 6.3-1 6.3-2.7 6.3 1.2 6.3-0.7 6.4-2.9 6.3-1.8 6.3 3 6.3-3.9 6.4 2.6 6.3 1.4 6.3 0.6 6.3-0.3 6.4-0.5 6.3-2 6.3 4 6.3-1.5 6.4-5.5 6.3 3.4 6.3-5.2 6.3 3.1 6.4-1.6 6.3-0.7 6.3-3" stroke="#00BA38"/>
<path d="M430.3 752.9l6.3 3.2 6.3 1.7 6.4 0.8 6.3-0.3 6.3 1.9 6.3-0.5 6.4 0.6 6.3-2.3 6.3 0.3 6.3 1.9 6.4-1.7 6.3 1 6.3-0.7 6.3 0.8 6.4-3.1 6.3 1.2 6.3 1.1 6.3-1.6 6.3 0.1 6.4-0.1 6.3-0.1 6.3 1.4 6.3-0.6 6.4-3.2 6.3 4.5 6.3-1.9 6.3-1.5 6.4-3.4 6.3 0.5 6.3 1.3 6.3-2.6 6.4 0.1 6.3 3.7 6.3-2.5 6.3 0.9 6.4-1.2 6.3-1 6.3 1.8" stroke="#619CFF"/>
<path d="M430.3 761.2l6.3-2 6.3-1.7 6.4-4.1 6.3-3.3 6.3 1.3 6.3-5.8 6.4-6.7 6.3 1.5 6.3-2.1 6.3-7.7 6.4 0.5 6.3-13.4 6.3-6 6.3-2 6.4 5.5 6.3-10.8 6.3 1.7 6.3-2.9 6.3-5.3 6.4-9.6 6.3-4 6.3-7.6 6.3-8.5 6.4 7.1 6.3-5.3 6.3-9.2 6.3-2.5 6.4-4.5 6.3 5.5 6.3-9.3 6.3-0.6 6.4-4.7 6.3-3.2 6.3-1.6 6.3-9.1 6.4 7 6.3-2.4 6.3-1.8" stroke="#00BA38"/>
<path d="M430.3 757.1l6.3 1.4 6.3 0.7 6.4 0.7 6.3 0.1 6.3 0 6.3-0.2 6.4 1.4 6.3-2.1 6.3-0.5 6.3 0.5 6.4 0.3 6.3-0.2 6.3 0.6 6.3-0.3 6.4-1.8 6.3 2.4 6.3-1.1 6.3-0.1 6.3 0.8 6.4-0.7 6.3-1.9 6.3 2.8 6.3 1.9 6.4-2.4 6.3-0.9 6.3 0.6 6.3 0 6.4-1.7 6.3 3.9 6.3-1.4 6.3-2.4 6.4 1 6.3-0.1 6.3-0.1 6.3 0.1 6.4-0.6 6.3-0.5 6.3-1.3" stroke="#619CFF"/>
<path d="M430.3 761.9l6.3-0.9 6.3-1.2 6.4 0.1 6.3-0.3 6.3-0.3 6.3-0.7 6.4 0.9 6.3-0.2 6.3 0.1 6.3-0.4 6.4-0.7 6.3 0.1 6.3 0.3 6.3-0.5 6.4-1.8 6.3 0.6 6.3-2 6.3 1.9 6.3 1.9 6.4-2.4 6.3-2.2 6.3-1.1 6.3 2.2 6.4-3.1 6.3 3.5 6.3-2.2 6.3-4.3 6.4 3.9 6.3 0.1 6.3 1 6.3 0.5 6.4-1 6.3-5.3 6.3 1.8 6.3-0.3 6.4 1 6.3-3.3 6.3 6.3" stroke="#00BA38"/>
<path d="M430.3 760.7l6.3-2.6 6.3-3.7 6.4-4.3 6.3-5.6 6.3-10 6.3-2.9 6.4-5.9 6.3-4.7 6.3-12.8 6.3-7.8 6.4 2.1 6.3-6.6 6.3-1.5 6.3-10.4 6.4-2.9 6.3-9.6 6.3-10.1 6.3 2.1 6.3-2.3 6.4-8 6.3-6.6 6.3-5.3 6.3-4.7 6.4-3.8 6.3 0.2 6.3-4.2 6.3-3.8 6.4-3.8 6.3-3.5 6.3 2.6 6.3-0.5 6.4-5.1 6.3-1.6 6.3-2.5 6.3-2.8 6.4 0.4 6.3-5.2 6.3-2.6" stroke="#00BA38"/>
<path d="M430.3 758.2l6.3 0.6 6.3-0.1 6.4 0.2 6.3 0.7 6.3-0.6 6.3-3.8 6.4-3 6.3 2.1 6.3 3.8 6.3-1.7 6.4-3.5 6.3-3.4 6.3-0.9 6.3-1.9 6.4-0.4 6.3 0.5 6.3 0.2 6.3 1.1 6.3 2.1 6.4-2.6 6.3-2.9 6.3-4.9 6.3 5.1 6.4-8.1 6.3 5 6.3-8.5 6.3 3.8 6.4-3.6 6.3 0.1 6.3-1.5 6.3 2 6.4-4.3 6.3 0 6.3-4.3 6.3-0.2 6.4 0.3 6.3 3.8 6.3-5.5" stroke="#F8766D"/>
<path d="M430.3 757.7l6.3-0.8 6.3-1.1 6.4-3.7 6.3-4.2 6.3-4.7 6.3-7.3 6.4-5.4 6.3-2.4 6.3-2 6.3-7.2 6.4-8.3 6.3-4.7 6.3-1.6 6.3-3.4 6.4-15.7 6.3-6.4 6.3-2.2 6.3-8.7 6.3-6.4 6.4-2.4 6.3-3.1 6.3-10.6 6.3-4.9 6.4-6.5 6.3-2.8 6.3-0.4 6.3 0.1 6.4-2.6 6.3-2 6.3-4.9 6.3-3.7 6.4-5.9 6.3-3.7 6.3 1.7 6.3-2 6.4 2.6 6.3-1.9 6.3-0.6" stroke="#F8766D"/>
<path d="M430.3 760.3l6.3-0.2 6.3-0.8 6.4-0.1 6.3-0.1 6.3 0 6.3 0.5 6.4-0.8 6.3 0.3 6.3-2.2 6.3-0.7 6.4 2.7 6.3 0 6.3-0.2 6.3-2.7 6.4-0.7 6.3-0.6 6.3 0.7 6.3-1.7 6.3 3.1 6.4-3.4 6.3-0.5 6.3-0.2 6.3 0.5 6.4 4.9 6.3-6.7 6.3 1.9 6.3-2.8 6.4 1.5 6.3-3.2 6.3 0.2 6.3-2.4 6.4 1.3 6.3-2 6.3-0.4 6.3 6.1 6.4-7.2 6.3-0.7 6.3 0.7" stroke="#F8766D"/>
<path d="M430.3 759.1l6.3-5.6 6.3-9.1 6.4-14.2 6.3-10.3 6.3-10.7 6.3-14.9 6.4-8.2 6.3-18.8 6.3-3.4 6.3-12.7 6.4-2.4 6.3-5.1 6.3-14.3 6.3-3.7 6.4-4.1 6.3-5.8 6.3 0.9 6.3-7.6 6.3-0.8 6.4-4.4 6.3-4.6 6.3-0.1 6.3-5.3 6.4 0 6.3 1.3 6.3 0.6 6.3-0.9 6.4-3 6.3-0.4 6.3-0.6 6.3 0.1 6.4 1 6.3-2 6.3 0.7 6.3-0.5 6.4 0.3 6.3-0.3 6.3 0.2" stroke="#619CFF"/>
<path d="M430.3 757.6l6.3 1.1 6.3-0.2 6.4 0 6.3 1.1 6.3-2 6.3-0.3 6.4 0.1 6.3-1.7 6.3 1 6.3-1.1 6.4 1.7 6.3-2.1 6.3 0.5 6.3 0 6.4-0.1 6.3-2 6.3-3.4 6.3 0.3 6.3-1.1 6.4-0.7 6.3-2.1 6.3-2 6.3 0.2 6.4 0.8 6.3 0.5 6.3-4.3 6.3 1.1 6.4-4.1 6.3-2.9 6.3 5 6.3-3.7 6.4 0.9 6.3 1.6 6.3-6.4 6.3 2.1 6.4 2.7 6.3-2.9 6.3-3.7" stroke="#00BA38"/>
<path d="M430.3 761l6.3-8.4 6.3-14 6.4-16.5 6.3-18.6 6.3-9.3 6.3-16.6 6.4-9.2 6.3-13.5 6.3-12.4 6.3-5.7 6.4-10.5 6.3-7.7 6.3-1.8 6.3-6.6 6.4-3.5 6.3-2.3 6.3-1.7 6.3-6.5 6.3-3.4 6.4-0.2 6.3 3.5 6.3-4.6 6.3 1.7 6.4-1.4 6.3-0.7 6.3-0.9 6.3 1.8 6.4-1.4 6.3-0.6 6.3 0.5 6.3 0 6.4-0.5 6.3 0 6.3 1 6.3-0.4 6.4-0.6 6.3 0 6.3 0" stroke="#619CFF"/>
<path d="M430.3 759.6l6.3-14.4 6.3-25.6 6.4-28.9 6.3-25.5 6.3-19.9 6.3-15.8 6.4-14.6 6.3-4 6.3-10.7 6.3-4.4 6.4-1.3 6.3-4.5 6.3 0 6.3 0.5 6.4 1.6 6.3-1.4 6.3-0.7 6.3 0 6.3 0 6.4 0 6.3 0 6.3 0 6.3 0.1 6.4-0.1 6.3 0 6.3 0 6.3 0 6.4 0.1 6.3 0.3 6.3-0.4 6.3 0 6.4 0.2 6.3-0.2 6.3 0 6.3 0 6.4 0.3 6.3-0.3 6.3 0.4" stroke="#619CFF"/>
</g>
<polygon points="430.3,750.6 432.8,751.8 435.4,752.7 437.9,753.3 440.4,753.7 442.9,754 445.5,754.2 448,754.2 450.5,754.1 453.1,754 455.6,753.7 458.1,753.4 460.7,753.1 463.2,752.7 465.7,752.2 468.2,751.8 470.8,751.2 473.3,750.7 475.8,750.1 478.4,749.5 480.9,748.9 483.4,748.3 485.9,747.6 488.5,746.9 491,746.3 493.5,745.6 496.1,744.9 498.6,744.2 501.1,743.4 503.7,742.7 506.2,742 508.7,741.2 511.2,740.5 513.8,739.7 516.3,739 518.8,738.2 521.4,737.4 523.9,736.7 526.4,735.9 528.9,735.1 531.5,734.4 534,733.6 536.5,732.8 539.1,732.1 541.6,731.3 544.1,730.6 546.7,729.8 549.2,729 551.7,728.3 554.2,727.5 556.8,726.8 559.3,726 561.8,725.3 564.4,724.6 566.9,723.8 569.4,723.1 572,722.4 574.5,721.7 577,721 579.5,720.3 582.1,719.6 584.6,718.9 587.1,718.2 589.7,717.5 592.2,716.8 594.7,716.2 597.2,715.5 599.8,714.9 602.3,714.2 604.8,713.6 607.4,713 609.9,712.3 612.4,711.7 615,711.1 617.5,710.5 620,709.9 622.5,709.3 625.1,708.8 627.6,708.2 630.1,707.6 632.7,707.1 635.2,706.5 637.7,706 640.2,705.5 642.8,705 645.3,704.4 647.8,703.9 650.4,703.4 652.9,703 655.4,702.5 658,702 660.5,701.5 663,701.1 665.5,700.6 668.1,700.2 670.6,699.7 670.6,709.7 668.1,710.1 665.5,710.4 663,710.8 660.5,711.2 658,711.6 655.4,712 652.9,712.4 650.4,712.9 647.8,713.3 645.3,713.7 642.8,714.2 640.2,714.6 637.7,715.1 635.2,715.6 632.7,716 630.1,716.5 627.6,717 625.1,717.5 622.5,718 620,718.5 617.5,719.1 615,719.6 612.4,720.1 609.9,720.7 607.4,721.2 604.8,721.8 602.3,722.4 599.8,722.9 597.2,723.5 594.7,724.1 592.2,724.7 589.7,725.3 587.1,725.9 584.6,726.5 582.1,727.1 579.5,727.8 577,728.4 574.5,729 572,729.7 569.4,730.3 566.9,731 564.4,731.6 561.8,732.3 559.3,733 556.8,733.6 554.2,734.3 551.7,735 549.2,735.7 546.7,736.4 544.1,737.1 541.6,737.7 539.1,738.4 536.5,739.1 534,739.8 531.5,740.5 528.9,741.2 526.4,741.9 523.9,742.6 521.4,743.3 518.8,744 516.3,744.7 513.8,745.4 511.2,746.1 508.7,746.8 506.2,747.4 503.7,748.1 501.1,748.8 498.6,749.5 496.1,750.1 493.5,750.8 491,751.5 488.5,752.1 485.9,752.8 483.4,753.4 480.9,754 478.4,754.7 475.8,755.3 473.3,755.9 470.8,756.5 468.2,757.1 465.7,757.7 463.2,758.4 460.7,759 458.1,759.6 455.6,760.3 453.1,760.9 450.5,761.6 448,762.3 445.5,763.1 442.9,763.9 440.4,764.8 437.9,765.7 435.4,766.8 432.8,768 430.3,769.3" fill="#999999" fill-opacity="0.4"/>
<polygon points="430.3,750.7 432.8,751.5 435.4,751.9 437.9,752 440.4,751.8 442.9,751.5 445.5,751 448,750.4 450.5,749.8 453.1,749 455.6,748.1 458.1,747.2 460.7,746.2 463.2,745.2 465.7,744.1 468.2,743.1 470.8,742 473.3,740.8 475.8,739.7 478.4,738.6 480.9,737.4 483.4,736.2 485.9,735.1 488.5,733.9 491,732.7 493.5,731.6 496.1,730.4 498.6,729.2 501.1,728.1 503.7,726.9 506.2,725.8 508.7,724.6 511.2,723.5 513.8,722.4 516.3,721.2 518.8,720.1 521.4,719 523.9,718 526.4,716.9 528.9,715.8 531.5,714.8 534,713.7 536.5,712.7 539.1,711.7 541.6,710.7 544.1,709.7 546.7,708.7 549.2,707.7 551.7,706.8 554.2,705.8 556.8,704.9 559.3,704 561.8,703.1 564.4,702.2 566.9,701.3 569.4,700.5 572,699.6 574.5,698.8 577,697.9 579.5,697.1 582.1,696.3 584.6,695.5 587.1,694.8 589.7,694 592.2,693.3 594.7,692.5 597.2,691.8 599.8,691.1 602.3,690.4 604.8,689.7 607.4,689 609.9,688.4 612.4,687.7 615,687.1 617.5,686.4 620,685.8 622.5,685.2 625.1,684.6 627.6,684 630.1,683.5 632.7,682.9 635.2,682.4 637.7,681.8 640.2,681.3 642.8,680.8 645.3,680.3 647.8,679.8 650.4,679.3 652.9,678.8 655.4,678.3 658,677.9 660.5,677.4 663,677 665.5,676.5 668.1,676.1 670.6,675.7 670.6,686.1 668.1,686.4 665.5,686.8 663,687.2 660.5,687.6 658,687.9 655.4,688.3 652.9,688.7 650.4,689.2 647.8,689.6 645.3,690 642.8,690.5 640.2,690.9 637.7,691.4 635.2,691.9 632.7,692.3 630.1,692.8 627.6,693.3 625.1,693.9 622.5,694.4 620,694.9 617.5,695.5 615,696 612.4,696.6 609.9,697.2 607.4,697.8 604.8,698.4 602.3,699 599.8,699.6 597.2,700.3 594.7,700.9 592.2,701.6 589.7,702.3 587.1,702.9 584.6,703.6 582.1,704.4 579.5,705.1 577,705.8 574.5,706.6 572,707.3 569.4,708.1 566.9,708.9 564.4,709.7 561.8,710.5 559.3,711.4 556.8,712.2 554.2,713.1 551.7,713.9 549.2,714.8 546.7,715.7 544.1,716.6 541.6,717.5 539.1,718.4 536.5,719.4 534,720.3 531.5,721.3 528.9,722.3 526.4,723.3 523.9,724.3 521.4,725.3 518.8,726.3 516.3,727.3 513.8,728.4 511.2,729.4 508.7,730.5 506.2,731.6 503.7,732.6 501.1,733.7 498.6,734.8 496.1,735.9 493.5,737.1 491,738.2 488.5,739.3 485.9,740.5 483.4,741.6 480.9,742.7 478.4,743.9 475.8,745.1 473.3,746.2 470.8,747.4 468.2,748.6 465.7,749.8 463.2,751 460.7,752.2 458.1,753.5 455.6,754.7 453.1,756 450.5,757.3 448,758.6 445.5,760 442.9,761.4 440.4,762.9 437.9,764.4 435.4,766.1 432.8,767.7 430.3,769.4" fill="#999999" fill-opacity="0.4"/>
<polygon points="430.3,750.9 432.8,750 435.4,748.8 437.9,747.4 440.4,746 442.9,744.4 445.5,742.8 448,741.1 450.5,739.4 453.1,737.6 455.6,735.9 458.1,734.1 460.7,732.3 463.2,730.5 465.7,728.8 468.2,727 470.8,725.3 473.3,723.6 475.8,721.9 478.4,720.2 480.9,718.6 483.4,717 485.9,715.4 488.5,713.8 491,712.2 493.5,710.7 496.1,709.2 498.6,707.8 501.1,706.3 503.7,704.9 506.2,703.5 508.7,702.1 511.2,700.8 513.8,699.5 516.3,698.2 518.8,696.9 521.4,695.7 523.9,694.4 526.4,693.2 528.9,692 531.5,690.9 534,689.8 536.5,688.6 539.1,687.6 541.6,686.5 544.1,685.4 546.7,684.4 549.2,683.4 551.7,682.4 554.2,681.4 556.8,680.5 559.3,679.5 561.8,678.6 564.4,677.7 566.9,676.8 569.4,676 572,675.1 574.5,674.3 577,673.5 579.5,672.7 582.1,671.9 584.6,671.1 587.1,670.3 589.7,669.6 592.2,668.9 594.7,668.1 597.2,667.4 599.8,666.8 602.3,666.1 604.8,665.4 607.4,664.8 609.9,664.1 612.4,663.5 615,662.9 617.5,662.3 620,661.7 622.5,661.1 625.1,660.6 627.6,660 630.1,659.5 632.7,658.9 635.2,658.4 637.7,657.9 640.2,657.4 642.8,656.9 645.3,656.4 647.8,655.9 650.4,655.5 652.9,655 655.4,654.5 658,654.1 660.5,653.7 663,653.2 665.5,652.8 668.1,652.4 670.6,652 670.6,662.9 668.1,663.2 665.5,663.6 663,663.9 660.5,664.3 658,664.7 655.4,665 652.9,665.4 650.4,665.8 647.8,666.2 645.3,666.6 642.8,667.1 640.2,667.5 637.7,667.9 635.2,668.4 632.7,668.8 630.1,669.3 627.6,669.8 625.1,670.3 622.5,670.8 620,671.3 617.5,671.8 615,672.3 612.4,672.9 609.9,673.4 607.4,674 604.8,674.6 602.3,675.2 599.8,675.8 597.2,676.4 594.7,677 592.2,677.7 589.7,678.3 587.1,679 584.6,679.7 582.1,680.4 579.5,681.1 577,681.8 574.5,682.6 572,683.3 569.4,684.1 566.9,684.9 564.4,685.7 561.8,686.5 559.3,687.4 556.8,688.2 554.2,689.1 551.7,690 549.2,690.9 546.7,691.9 544.1,692.8 541.6,693.8 539.1,694.8 536.5,695.8 534,696.8 531.5,697.9 528.9,699 526.4,700.1 523.9,701.2 521.4,702.4 518.8,703.5 516.3,704.7 513.8,705.9 511.2,707.2 508.7,708.5 506.2,709.7 503.7,711.1 501.1,712.4 498.6,713.8 496.1,715.2 493.5,716.6 491,718.1 488.5,719.6 485.9,721.1 483.4,722.7 480.9,724.3 478.4,725.9 475.8,727.6 473.3,729.3 470.8,731.1 468.2,732.9 465.7,734.7 463.2,736.7 460.7,738.6 458.1,740.6 455.6,742.7 453.1,744.9 450.5,747.1 448,749.5 445.5,751.9 442.9,754.5 440.4,757.2 437.9,760 435.4,763 432.8,766.2 430.3,769.6" fill="#999999" fill-opacity="0.4"/>
<polyline points="430.3,760 432.8,759.9 435.4,759.7 437.9,759.5 440.4,759.3 442.9,759 445.5,758.6 448,758.3 450.5,757.9 453.1,757.4 455.6,757 458.1,756.5 460.7,756 463.2,755.5 465.7,755 468.2,754.4 470.8,753.9 473.3,753.3 475.8,752.7 478.4,752.1 480.9,751.5 483.4,750.8 485.9,750.2 488.5,749.5 491,748.9 493.5,748.2 496.1,747.5 498.6,746.8 501.1,746.1 503.7,745.4 506.2,744.7 508.7,744 511.2,743.3 513.8,742.6 516.3,741.8 518.8,741.1 521.4,740.4 523.9,739.6 526.4,738.9 528.9,738.2 531.5,737.4 534,736.7 536.5,736 539.1,735.3 541.6,734.5 544.1,733.8 546.7,733.1 549.2,732.4 551.7,731.6 554.2,730.9 556.8,730.2 559.3,729.5 561.8,728.8 564.4,728.1 566.9,727.4 569.4,726.7 572,726 574.5,725.4 577,724.7 579.5,724 582.1,723.4 584.6,722.7 587.1,722.1 589.7,721.4 592.2,720.8 594.7,720.1 597.2,719.5 599.8,718.9 602.3,718.3 604.8,717.7 607.4,717.1 609.9,716.5 612.4,715.9 615,715.4 617.5,714.8 620,714.2 622.5,713.7 625.1,713.1 627.6,712.6 630.1,712.1 632.7,711.6 635.2,711.1 637.7,710.6 640.2,710.1 642.8,709.6 645.3,709.1 647.8,708.6 650.4,708.2 652.9,707.7 655.4,707.2 658,706.8 660.5,706.4 663,705.9 665.5,705.5 668.1,705.1 670.6,704.7" fill="none" stroke="#F8766D" stroke-width="2.8" stroke-linejoin="round"/>
<polyline points="430.3,760.1 432.8,759.6 435.4,759 437.9,758.2 440.4,757.4 442.9,756.5 445.5,755.5 448,754.5 450.5,753.5 453.1,752.5 455.6,751.4 458.1,750.3 460.7,749.2 463.2,748.1 465.7,747 468.2,745.8 470.8,744.7 473.3,743.5 475.8,742.4 478.4,741.2 480.9,740.1 483.4,738.9 485.9,737.8 488.5,736.6 491,735.5 493.5,734.3 496.1,733.2 498.6,732 501.1,730.9 503.7,729.8 506.2,728.7 508.7,727.6 511.2,726.5 513.8,725.4 516.3,724.3 518.8,723.2 521.4,722.2 523.9,721.1 526.4,720.1 528.9,719 531.5,718 534,717 536.5,716 539.1,715.1 541.6,714.1 544.1,713.1 546.7,712.2 549.2,711.3 551.7,710.3 554.2,709.4 556.8,708.6 559.3,707.7 561.8,706.8 564.4,706 566.9,705.1 569.4,704.3 572,703.5 574.5,702.7 577,701.9 579.5,701.1 582.1,700.3 584.6,699.6 587.1,698.9 589.7,698.1 592.2,697.4 594.7,696.7 597.2,696 599.8,695.4 602.3,694.7 604.8,694 607.4,693.4 609.9,692.8 612.4,692.2 615,691.6 617.5,691 620,690.4 622.5,689.8 625.1,689.2 627.6,688.7 630.1,688.2 632.7,687.6 635.2,687.1 637.7,686.6 640.2,686.1 642.8,685.6 645.3,685.1 647.8,684.7 650.4,684.2 652.9,683.8 655.4,683.3 658,682.9 660.5,682.5 663,682.1 665.5,681.7 668.1,681.3 670.6,680.9" fill="none" stroke="#00BA38" stroke-width="2.8" stroke-linejoin="round"/>
<polyline points="430.3,760.2 432.8,758.1 435.4,755.9 437.9,753.7 440.4,751.6 442.9,749.4 445.5,747.3 448,745.3 450.5,743.3 453.1,741.3 455.6,739.3 458.1,737.4 460.7,735.5 463.2,733.6 465.7,731.8 468.2,730 470.8,728.2 473.3,726.5 475.8,724.8 478.4,723.1 480.9,721.4 483.4,719.8 485.9,718.2 488.5,716.7 491,715.2 493.5,713.7 496.1,712.2 498.6,710.8 501.1,709.4 503.7,708 506.2,706.6 508.7,705.3 511.2,704 513.8,702.7 516.3,701.4 518.8,700.2 521.4,699 523.9,697.8 526.4,696.7 528.9,695.5 531.5,694.4 534,693.3 536.5,692.2 539.1,691.2 541.6,690.1 544.1,689.1 546.7,688.1 549.2,687.2 551.7,686.2 554.2,685.3 556.8,684.4 559.3,683.5 561.8,682.6 564.4,681.7 566.9,680.9 569.4,680 572,679.2 574.5,678.4 577,677.6 579.5,676.9 582.1,676.1 584.6,675.4 587.1,674.7 589.7,674 592.2,673.3 594.7,672.6 597.2,671.9 599.8,671.3 602.3,670.6 604.8,670 607.4,669.4 609.9,668.8 612.4,668.2 615,667.6 617.5,667 620,666.5 622.5,665.9 625.1,665.4 627.6,664.9 630.1,664.4 632.7,663.9 635.2,663.4 637.7,662.9 640.2,662.4 642.8,662 645.3,661.5 647.8,661.1 650.4,660.6 652.9,660.2 655.4,659.8 658,659.4 660.5,659 663,658.6 665.5,658.2 668.1,657.8 670.6,657.5" fill="none" stroke="#619CFF" stroke-width="2.8" stroke-linejoin="round"/>
<line x1="418.6" y1="581.0" x2="418.6" y2="778.35" stroke="#000" stroke-width="1.5"/>
<line x1="417.85" y1="777.6" x2="683.3" y2="777.6" stroke="#000" stroke-width="1.5"/>
<line x1="413.5" y1="760.00" x2="418.6" y2="760.00" stroke="#000" stroke-width="1.3"/>
<text x="408.5" y="764.80" text-anchor="end">0</text>
<line x1="413.5" y1="717.50" x2="418.6" y2="717.50" stroke="#000" stroke-width="1.3"/>
<text x="408.5" y="722.30" text-anchor="end">0.25</text>
<line x1="413.5" y1="675.00" x2="418.6" y2="675.00" stroke="#000" stroke-width="1.3"/>
<text x="408.5" y="679.80" text-anchor="end">0.50</text>
<line x1="413.5" y1="632.50" x2="418.6" y2="632.50" stroke="#000" stroke-width="1.3"/>
<text x="408.5" y="637.30" text-anchor="end">0.75</text>
<line x1="413.5" y1="590.00" x2="418.6" y2="590.00" stroke="#000" stroke-width="1.3"/>
<text x="408.5" y="594.80" text-anchor="end">1.00</text>
<line x1="480.89" y1="777.6" x2="480.89" y2="782.5" stroke="#000" stroke-width="1.3"/>
<text x="480.89" y="797.00" text-anchor="middle">100</text>
<line x1="544.13" y1="777.6" x2="544.13" y2="782.5" stroke="#000" stroke-width="1.3"/>
<text x="544.13" y="797.00" text-anchor="middle">200</text>
<line x1="607.36" y1="777.6" x2="607.36" y2="782.5" stroke="#000" stroke-width="1.3"/>
<text x="607.36" y="797.00" text-anchor="middle">300</text>
<line x1="670.60" y1="777.6" x2="670.60" y2="782.5" stroke="#000" stroke-width="1.3"/>
<text x="670.60" y="797.00" text-anchor="middle">400</text>
<text x="513.57" y="820.40" font-size="13.7" textLength="74.24" lengthAdjust="spacingAndGlyphs">Sample size</text>
<text x="0" y="0" transform="translate(369.90,728.53) rotate(-90)" font-size="13.7" textLength="99.20" lengthAdjust="spacingAndGlyphs">Replicability (%)</text>
<text x="21.5" y="15.6" font-weight="bold" font-size="22" fill="#000" stroke="#000" stroke-width="0.8">a</text>
<text x="358.0" y="15.8" font-weight="bold" font-size="22" fill="#000" stroke="#000" stroke-width="0.8">b</text>
<text x="22.1" y="298.4" font-weight="bold" font-size="22" fill="#000" stroke="#000" stroke-width="0.8">c</text>
<text x="358.0" y="298.0" font-weight="bold" font-size="22" fill="#000" stroke="#000" stroke-width="0.8">d</text>
<text x="22.1" y="583.4" font-weight="bold" font-size="22" fill="#000" stroke="#000" stroke-width="0.8">e</text>
<text x="359.0" y="583.1" font-weight="bold" font-size="22" fill="#000" stroke="#000" stroke-width="0.8">f</text>
<text x="146.97" y="850.70" font-size="13.7" textLength="109.24" lengthAdjust="spacingAndGlyphs">Sampling scheme</text>
<rect x="267" y="836.4" width="19.8" height="20" fill="#d5d5d5"/>
<line x1="269" y1="846" x2="284.8" y2="846" stroke="#F8766D" stroke-width="2.4"/>
<text x="295.48" y="850.50" font-size="13.7" textLength="71.40" lengthAdjust="spacingAndGlyphs">Bell shaped</text>
<rect x="393" y="836.4" width="19.8" height="20" fill="#d5d5d5"/>
<line x1="395" y1="846" x2="410.8" y2="846" stroke="#00BA38" stroke-width="2.4"/>
<text x="421.51" y="850.50" font-size="13.7" textLength="48.99" lengthAdjust="spacingAndGlyphs">Uniform</text>
<rect x="493" y="836.4" width="19.8" height="20" fill="#d5d5d5"/>
<line x1="495" y1="846" x2="510.8" y2="846" stroke="#619CFF" stroke-width="2.4"/>
<text x="520.92" y="850.50" font-size="13.7" textLength="59.38" lengthAdjust="spacingAndGlyphs">U shaped</text>
</svg>
</body></html>
